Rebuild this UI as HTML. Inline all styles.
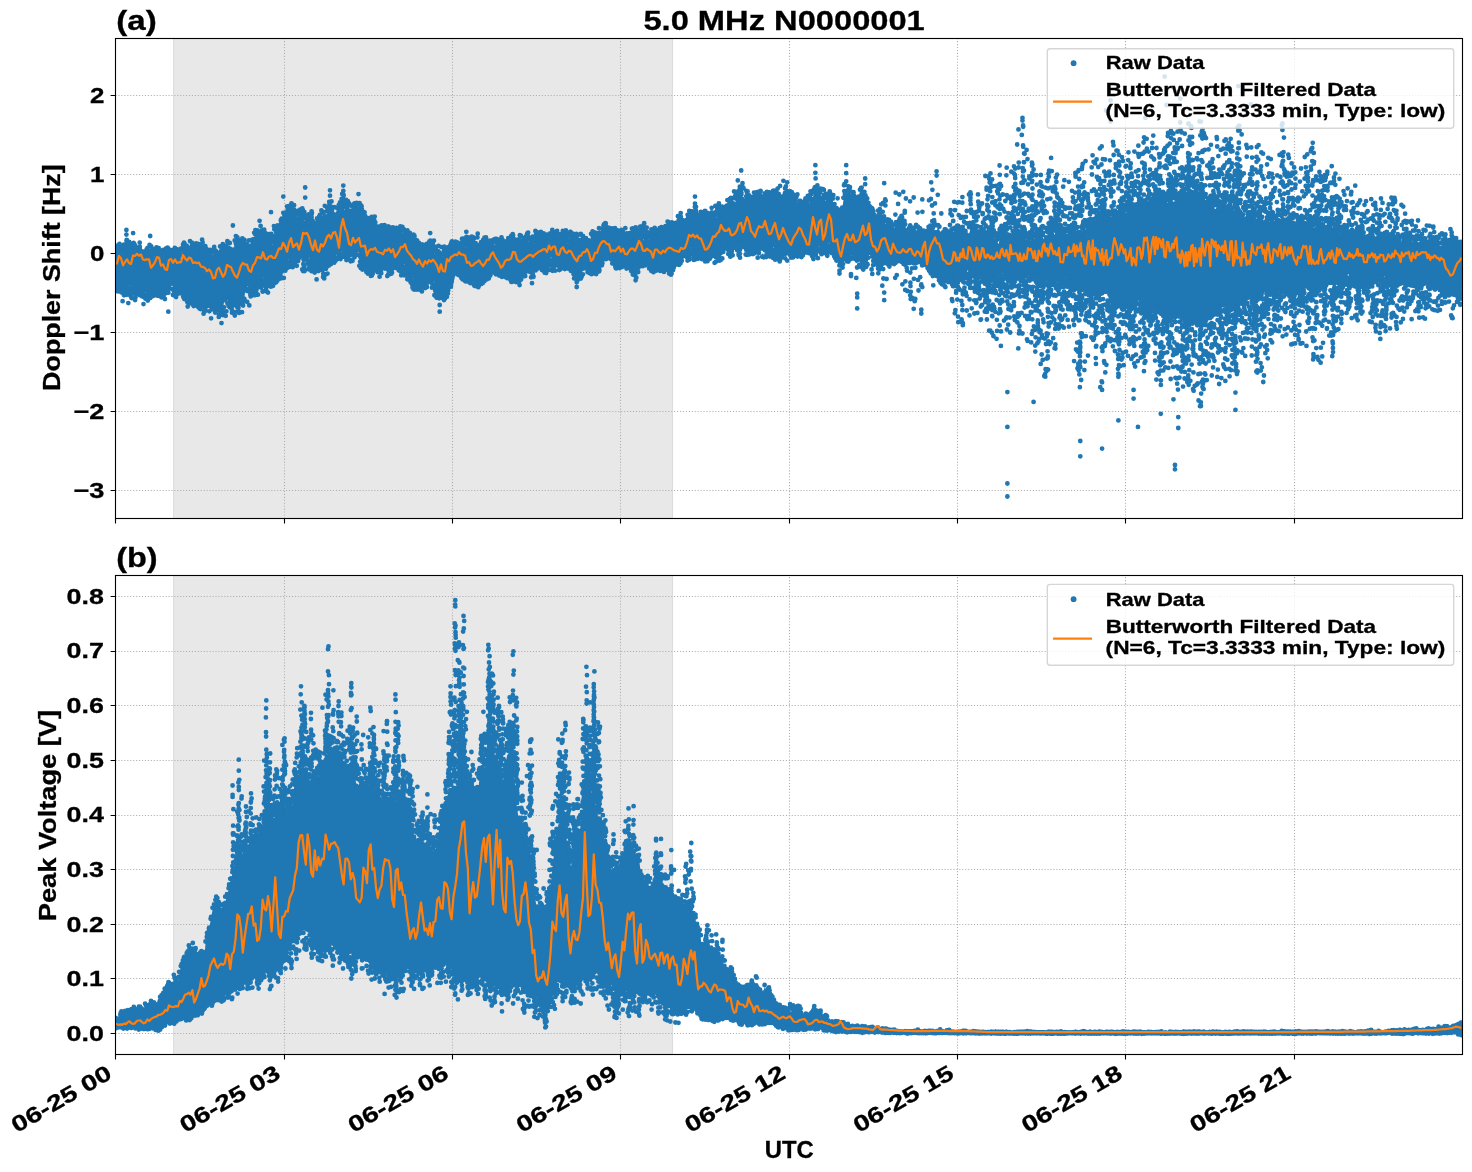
<!DOCTYPE html>
<html lang="en"><head><meta charset="utf-8"><title>5.0 MHz N0000001</title>
<style>html,body{margin:0;padding:0;background:#fff}svg{display:block;transform:translateZ(0);will-change:transform}text{font-family:"Liberation Sans",sans-serif;font-weight:bold;fill:#000;stroke:#000;stroke-width:0.3px}</style></head><body>
<svg width="1472" height="1172" viewBox="0 0 1472 1172">
<rect width="1472" height="1172" fill="#fff"/>
<defs><clipPath id="c1"><rect x="115.5" y="38.5" width="1347.0" height="480.0"/></clipPath><clipPath id="c2"><rect x="115.5" y="575.5" width="1347.0" height="479.0"/></clipPath></defs>
<rect x="173.2" y="38.5" width="499.9" height="480.0" fill="#e8e8e8"/>
<path d="M173.6 38.5V518.5M672.5 38.5V518.5" stroke="#dcdcdc" stroke-width="1"/>
<path d="M284.50 518.5V38.5M452.50 518.5V38.5M620.50 518.5V38.5M789.50 518.5V38.5M957.50 518.5V38.5M1125.50 518.5V38.5M1294.50 518.5V38.5M115.5 95.50H1462.5M115.5 174.50H1462.5M115.5 253.50H1462.5M115.5 332.50H1462.5M115.5 411.50H1462.5M115.5 490.50H1462.5" stroke="#b0b0b0" stroke-width="1.11" stroke-dasharray="1.11 1.83" fill="none"/>
<g clip-path="url(#c1)">
<polygon points="115.5,257.1 116.5,253.5 117.5,249.9 118.5,247.6 119.5,247.7 120.5,250.0 121.5,252.6 122.5,254.3 123.5,255.0 124.5,254.6 125.5,251.6 126.5,247.2 127.5,246.0 128.5,246.2 129.5,249.0 130.5,249.5 131.5,249.1 132.5,248.4 133.5,248.9 134.5,251.4 135.5,252.3 136.5,253.5 137.5,253.0 138.5,252.5 139.5,251.8 140.5,255.7 141.5,256.4 142.5,258.5 143.5,257.7 144.5,261.7 145.5,258.3 146.5,259.5 147.5,257.1 148.5,258.2 149.5,254.3 150.5,255.3 151.5,255.9 152.5,256.1 153.5,257.4 154.5,256.1 155.5,254.7 156.5,253.9 157.5,256.5 158.5,260.4 159.5,257.2 160.5,257.9 161.5,256.9 162.5,262.1 163.5,258.0 164.5,257.6 165.5,254.1 166.5,253.6 167.5,252.0 168.5,254.6 169.5,256.8 170.5,256.9 171.5,256.7 172.5,259.3 173.5,262.1 174.5,258.9 175.5,256.9 176.5,256.7 177.5,256.8 178.5,255.3 179.5,254.8 180.5,258.5 181.5,257.6 182.5,251.3 183.5,245.7 184.5,245.8 185.5,249.9 186.5,253.4 187.5,254.7 188.5,253.5 189.5,252.5 190.5,250.7 191.5,251.5 192.5,249.8 193.5,255.9 194.5,257.1 195.5,256.8 196.5,250.6 197.5,248.7 198.5,247.5 199.5,248.3 200.5,248.1 201.5,252.8 202.5,253.7 203.5,253.9 204.5,250.3 205.5,249.2 206.5,250.8 207.5,253.1 208.5,257.5 209.5,256.8 210.5,259.4 211.5,258.1 212.5,259.5 213.5,254.4 214.5,251.5 215.5,252.3 216.5,257.8 217.5,260.0 218.5,259.5 219.5,255.8 220.5,254.3 221.5,251.3 222.5,253.2 223.5,254.0 224.5,254.2 225.5,251.4 226.5,251.3 227.5,251.8 228.5,250.4 229.5,252.0 230.5,251.3 231.5,252.3 232.5,251.4 233.5,252.6 234.5,252.6 235.5,251.0 236.5,247.4 237.5,246.6 238.5,241.8 239.5,245.9 240.5,243.8 241.5,249.2 242.5,245.7 243.5,247.4 244.5,246.0 245.5,248.1 246.5,251.0 247.5,254.6 248.5,254.5 249.5,253.8 250.5,248.4 251.5,247.9 252.5,245.4 253.5,244.5 254.5,241.9 255.5,240.3 256.5,240.3 257.5,240.0 258.5,238.1 259.5,235.3 260.5,236.7 261.5,235.6 262.5,236.8 263.5,239.3 264.5,238.5 265.5,239.1 266.5,238.3 267.5,240.3 268.5,245.2 269.5,238.4 270.5,242.9 271.5,240.1 272.5,245.4 273.5,241.5 274.5,238.3 275.5,234.1 276.5,235.0 277.5,231.3 278.5,231.4 279.5,230.8 280.5,229.8 281.5,227.8 282.5,224.5 283.5,222.2 284.5,222.9 285.5,221.3 286.5,218.9 287.5,214.8 288.5,210.8 289.5,210.3 290.5,208.6 291.5,208.7 292.5,213.3 293.5,213.6 294.5,218.3 295.5,217.8 296.5,222.0 297.5,220.7 298.5,219.6 299.5,215.4 300.5,216.9 301.5,218.8 302.5,224.1 303.5,224.8 304.5,222.8 305.5,218.4 306.5,217.8 307.5,218.3 308.5,222.2 309.5,224.1 310.5,223.5 311.5,220.6 312.5,222.2 313.5,225.1 314.5,226.8 315.5,227.4 316.5,227.0 317.5,226.2 318.5,222.4 319.5,218.7 320.5,219.8 321.5,217.5 322.5,218.9 323.5,214.9 324.5,217.1 325.5,216.9 326.5,217.1 327.5,211.7 328.5,210.5 329.5,206.7 330.5,210.4 331.5,212.3 332.5,215.9 333.5,219.8 334.5,220.8 335.5,222.7 336.5,220.1 337.5,217.1 338.5,215.7 339.5,215.4 340.5,211.4 341.5,209.6 342.5,206.5 343.5,209.2 344.5,209.9 345.5,208.3 346.5,206.1 347.5,210.1 348.5,214.3 349.5,215.4 350.5,214.4 351.5,213.6 352.5,212.3 353.5,207.1 354.5,204.4 355.5,207.6 356.5,211.0 357.5,212.6 358.5,212.0 359.5,214.7 360.5,213.0 361.5,213.6 362.5,212.6 363.5,215.6 364.5,216.7 365.5,219.4 366.5,222.6 367.5,222.4 368.5,222.9 369.5,227.7 370.5,229.0 371.5,227.5 372.5,225.0 373.5,228.6 374.5,233.0 375.5,231.1 376.5,232.4 377.5,230.8 378.5,231.4 379.5,229.2 380.5,231.0 381.5,234.8 382.5,237.2 383.5,237.5 384.5,238.1 385.5,237.3 386.5,239.1 387.5,235.1 388.5,232.2 389.5,231.9 390.5,232.0 391.5,233.9 392.5,231.8 393.5,232.8 394.5,232.0 395.5,234.5 396.5,231.1 397.5,233.7 398.5,235.5 399.5,240.3 400.5,238.9 401.5,236.3 402.5,239.7 403.5,237.9 404.5,237.0 405.5,234.3 406.5,238.2 407.5,239.2 408.5,241.6 409.5,240.7 410.5,241.3 411.5,239.6 412.5,239.9 413.5,240.2 414.5,242.4 415.5,243.2 416.5,248.0 417.5,249.8 418.5,251.2 419.5,252.1 420.5,250.9 421.5,253.5 422.5,250.9 423.5,251.9 424.5,250.6 425.5,248.9 426.5,247.8 427.5,250.4 428.5,246.8 429.5,246.2 430.5,243.5 431.5,246.8 432.5,245.4 433.5,249.6 434.5,252.0 435.5,259.3 436.5,257.6 437.5,259.5 438.5,257.9 439.5,258.3 440.5,259.9 441.5,259.4 442.5,258.1 443.5,255.8 444.5,257.0 445.5,257.8 446.5,255.2 447.5,251.3 448.5,250.0 449.5,250.0 450.5,249.4 451.5,246.0 452.5,245.5 453.5,245.9 454.5,248.8 455.5,249.2 456.5,251.9 457.5,249.8 458.5,255.2 459.5,253.1 460.5,253.9 461.5,247.1 462.5,240.1 463.5,238.7 464.5,239.7 465.5,247.9 466.5,245.5 467.5,248.5 468.5,245.1 469.5,249.1 470.5,241.5 471.5,242.4 472.5,240.8 473.5,246.7 474.5,246.9 475.5,245.7 476.5,246.4 477.5,247.7 478.5,251.0 479.5,251.3 480.5,252.1 481.5,250.9 482.5,246.5 483.5,242.0 484.5,244.3 485.5,247.8 486.5,250.3 487.5,247.0 488.5,245.6 489.5,245.4 490.5,245.4 491.5,244.0 492.5,247.7 493.5,248.7 494.5,248.7 495.5,242.5 496.5,240.7 497.5,243.0 498.5,246.6 499.5,247.4 500.5,246.2 501.5,244.2 502.5,242.6 503.5,244.8 504.5,245.9 505.5,252.2 506.5,248.4 507.5,247.3 508.5,244.3 509.5,245.1 510.5,242.7 511.5,239.3 512.5,239.7 513.5,242.6 514.5,244.0 515.5,245.5 516.5,246.6 517.5,247.3 518.5,245.5 519.5,243.2 520.5,243.3 521.5,244.6 522.5,244.9 523.5,244.4 524.5,241.9 525.5,239.1 526.5,236.2 527.5,237.9 528.5,241.1 529.5,245.9 530.5,244.9 531.5,245.9 532.5,245.3 533.5,246.6 534.5,243.6 535.5,240.6 536.5,238.7 537.5,237.7 538.5,238.5 539.5,239.7 540.5,240.6 541.5,243.2 542.5,240.8 543.5,241.3 544.5,237.3 545.5,236.6 546.5,237.6 547.5,238.1 548.5,242.3 549.5,242.7 550.5,243.5 551.5,240.1 552.5,236.5 553.5,235.3 554.5,234.1 555.5,238.2 556.5,238.3 557.5,242.7 558.5,242.2 559.5,243.8 560.5,241.3 561.5,240.4 562.5,240.1 563.5,241.4 564.5,239.8 565.5,239.6 566.5,242.7 567.5,244.1 568.5,243.0 569.5,237.5 570.5,235.5 571.5,238.6 572.5,240.5 573.5,244.2 574.5,245.9 575.5,250.8 576.5,249.3 577.5,247.9 578.5,244.6 579.5,246.8 580.5,245.8 581.5,244.7 582.5,246.7 583.5,247.0 584.5,247.6 585.5,246.9 586.5,247.2 587.5,247.2 588.5,245.4 589.5,246.7 590.5,246.6 591.5,245.6 592.5,240.8 593.5,239.1 594.5,237.2 595.5,238.5 596.5,239.1 597.5,236.3 598.5,235.0 599.5,234.6 600.5,237.5 601.5,234.6 602.5,234.6 603.5,232.0 604.5,230.8 605.5,226.8 606.5,228.3 607.5,232.5 608.5,236.7 609.5,237.3 610.5,233.9 611.5,231.2 612.5,229.8 613.5,232.2 614.5,230.7 615.5,233.1 616.5,235.1 617.5,238.5 618.5,239.5 619.5,237.0 620.5,234.6 621.5,232.5 622.5,236.0 623.5,240.3 624.5,240.5 625.5,240.4 626.5,237.8 627.5,241.2 628.5,239.7 629.5,239.5 630.5,238.3 631.5,236.2 632.5,235.4 633.5,231.6 634.5,233.5 635.5,235.2 636.5,237.3 637.5,235.7 638.5,238.0 639.5,237.0 640.5,236.1 641.5,235.3 642.5,238.3 643.5,240.5 644.5,235.4 645.5,232.0 646.5,232.7 647.5,236.1 648.5,240.1 649.5,236.8 650.5,238.2 651.5,234.6 652.5,239.6 653.5,238.5 654.5,241.6 655.5,238.4 656.5,236.2 657.5,232.7 658.5,231.8 659.5,231.6 660.5,234.8 661.5,237.4 662.5,238.8 663.5,234.0 664.5,230.5 665.5,228.0 666.5,231.5 667.5,232.0 668.5,234.5 669.5,231.5 670.5,227.8 671.5,225.9 672.5,225.0 673.5,229.6 674.5,231.5 675.5,227.7 676.5,225.9 677.5,228.0 678.5,227.3 679.5,225.9 680.5,222.2 681.5,222.2 682.5,222.6 683.5,223.6 684.5,227.5 685.5,224.1 686.5,222.0 687.5,218.0 688.5,219.9 689.5,218.6 690.5,216.9 691.5,217.7 692.5,216.2 693.5,215.5 694.5,213.5 695.5,215.3 696.5,215.9 697.5,218.4 698.5,219.0 699.5,220.3 700.5,219.2 701.5,218.1 702.5,217.1 703.5,216.0 704.5,217.8 705.5,217.6 706.5,217.1 707.5,216.8 708.5,218.6 709.5,216.9 710.5,218.9 711.5,217.5 712.5,219.9 713.5,218.2 714.5,217.8 715.5,216.3 716.5,217.8 717.5,215.1 718.5,215.3 719.5,212.1 720.5,211.4 721.5,210.7 722.5,209.1 723.5,214.6 724.5,212.5 725.5,211.0 726.5,207.2 727.5,208.1 728.5,205.1 729.5,203.7 730.5,202.7 731.5,204.7 732.5,204.9 733.5,205.5 734.5,204.5 735.5,202.0 736.5,197.3 737.5,195.3 738.5,194.2 739.5,194.4 740.5,195.2 741.5,194.0 742.5,198.1 743.5,202.4 744.5,203.8 745.5,202.5 746.5,198.9 747.5,202.5 748.5,203.3 749.5,204.5 750.5,202.5 751.5,202.3 752.5,200.2 753.5,201.7 754.5,200.1 755.5,202.6 756.5,201.5 757.5,204.6 758.5,203.5 759.5,204.9 760.5,201.2 761.5,202.2 762.5,199.8 763.5,201.6 764.5,200.6 765.5,202.6 766.5,198.7 767.5,199.1 768.5,194.8 769.5,200.6 770.5,196.5 771.5,197.4 772.5,192.2 773.5,198.6 774.5,198.1 775.5,201.3 776.5,197.5 777.5,196.6 778.5,195.8 779.5,197.9 780.5,200.3 781.5,202.1 782.5,199.8 783.5,199.6 784.5,196.7 785.5,197.5 786.5,200.3 787.5,201.6 788.5,202.6 789.5,199.3 790.5,198.5 791.5,202.0 792.5,202.3 793.5,203.2 794.5,201.6 795.5,203.9 796.5,210.0 797.5,206.1 798.5,207.3 799.5,204.9 800.5,207.0 801.5,205.1 802.5,204.5 803.5,209.2 804.5,208.6 805.5,204.9 806.5,203.6 807.5,207.8 808.5,209.2 809.5,201.0 810.5,198.4 811.5,196.1 812.5,199.5 813.5,194.4 814.5,191.6 815.5,186.3 816.5,189.8 817.5,195.0 818.5,194.0 819.5,191.7 820.5,194.3 821.5,199.5 822.5,200.7 823.5,199.3 824.5,199.2 825.5,201.0 826.5,199.6 827.5,198.8 828.5,197.6 829.5,198.6 830.5,197.2 831.5,198.1 832.5,199.0 833.5,204.5 834.5,207.5 835.5,209.3 836.5,209.7 837.5,211.5 838.5,215.3 839.5,212.9 840.5,212.7 841.5,210.4 842.5,206.6 843.5,200.0 844.5,196.4 845.5,194.6 846.5,193.6 847.5,190.4 848.5,187.2 849.5,189.0 850.5,194.0 851.5,199.7 852.5,197.8 853.5,199.3 854.5,197.9 855.5,201.9 856.5,200.7 857.5,199.8 858.5,197.6 859.5,192.8 860.5,192.2 861.5,189.7 862.5,193.7 863.5,195.1 864.5,199.5 865.5,199.5 866.5,200.0 867.5,200.8 868.5,202.0 869.5,207.2 870.5,209.9 871.5,211.3 872.5,212.4 873.5,214.1 874.5,217.3 875.5,220.6 876.5,224.8 877.5,224.7 878.5,222.8 879.5,216.6 880.5,217.7 881.5,217.9 882.5,218.3 883.5,219.4 884.5,221.5 885.5,224.3 886.5,223.5 887.5,221.0 888.5,224.0 889.5,222.2 890.5,223.7 891.5,226.1 892.5,229.2 893.5,230.9 894.5,227.4 895.5,225.6 896.5,225.0 897.5,226.3 898.5,226.8 899.5,227.8 900.5,229.6 901.5,233.6 902.5,230.5 903.5,226.8 904.5,222.4 905.5,227.4 906.5,230.5 907.5,234.9 908.5,231.7 909.5,228.9 910.5,228.1 911.5,230.1 912.5,231.0 913.5,231.4 914.5,232.7 915.5,234.9 916.5,233.1 917.5,228.5 918.5,227.9 919.5,230.4 920.5,233.9 921.5,233.5 922.5,231.8 923.5,233.4 924.5,233.8 925.5,235.1 926.5,231.9 927.5,230.7 928.5,230.6 929.5,230.3 930.5,229.0 931.5,227.9 932.5,231.6 933.5,234.0 934.5,237.0 935.5,234.4 936.5,233.4 937.5,228.1 938.5,227.1 939.5,230.0 940.5,233.1 941.5,235.6 942.5,234.5 943.5,234.1 944.5,232.7 945.5,231.8 946.5,233.2 947.5,234.6 948.5,235.5 949.5,234.7 950.5,232.8 951.5,231.6 952.5,229.9 953.5,233.2 954.5,230.2 955.5,231.7 956.5,234.3 957.5,237.6 958.5,236.2 959.5,232.1 960.5,235.2 961.5,237.2 962.5,238.5 963.5,236.6 964.5,236.4 965.5,241.1 966.5,241.2 967.5,241.1 968.5,234.9 969.5,235.6 970.5,237.5 971.5,240.0 972.5,239.7 973.5,236.7 974.5,236.4 975.5,235.8 976.5,238.0 977.5,234.4 978.5,234.0 979.5,233.2 980.5,235.7 981.5,234.2 982.5,235.6 983.5,235.9 984.5,236.4 985.5,235.2 986.5,233.5 987.5,237.1 988.5,233.7 989.5,234.6 990.5,230.1 991.5,233.8 992.5,235.9 993.5,237.7 994.5,238.7 995.5,235.7 996.5,240.3 997.5,241.7 998.5,245.2 999.5,239.4 1000.5,235.8 1001.5,235.7 1002.5,237.7 1003.5,239.2 1004.5,237.9 1005.5,236.0 1006.5,237.9 1007.5,237.3 1008.5,240.4 1009.5,237.8 1010.5,238.7 1011.5,236.6 1012.5,239.4 1013.5,240.4 1014.5,243.2 1015.5,242.3 1016.5,241.4 1017.5,234.8 1018.5,235.3 1019.5,233.6 1020.5,238.5 1021.5,236.4 1022.5,234.3 1023.5,233.1 1024.5,234.6 1025.5,239.5 1026.5,239.3 1027.5,236.4 1028.5,236.4 1029.5,235.8 1030.5,241.0 1031.5,238.4 1032.5,238.3 1033.5,236.3 1034.5,239.1 1035.5,238.0 1036.5,238.9 1037.5,235.3 1038.5,240.4 1039.5,236.9 1040.5,234.5 1041.5,232.6 1042.5,234.8 1043.5,241.2 1044.5,243.3 1045.5,242.8 1046.5,238.6 1047.5,234.5 1048.5,232.6 1049.5,231.4 1050.5,231.6 1051.5,227.4 1052.5,229.0 1053.5,229.2 1054.5,238.1 1055.5,238.9 1056.5,237.9 1057.5,234.2 1058.5,230.5 1059.5,230.0 1060.5,225.5 1061.5,230.1 1062.5,232.0 1063.5,233.0 1064.5,230.1 1065.5,230.6 1066.5,233.3 1067.5,233.9 1068.5,230.5 1069.5,228.3 1070.5,227.6 1071.5,230.6 1072.5,230.0 1073.5,227.7 1074.5,227.9 1075.5,227.5 1076.5,231.2 1077.5,229.4 1078.5,232.4 1079.5,233.4 1080.5,234.0 1081.5,233.6 1082.5,228.7 1083.5,226.0 1084.5,225.6 1085.5,229.5 1086.5,232.8 1087.5,235.4 1088.5,232.8 1089.5,230.3 1090.5,227.6 1091.5,226.7 1092.5,225.8 1093.5,221.8 1094.5,223.1 1095.5,220.9 1096.5,223.3 1097.5,218.6 1098.5,222.0 1099.5,218.9 1100.5,222.5 1101.5,217.4 1102.5,218.0 1103.5,218.2 1104.5,219.2 1105.5,219.7 1106.5,216.3 1107.5,213.3 1108.5,213.3 1109.5,214.5 1110.5,216.2 1111.5,216.3 1112.5,213.7 1113.5,213.5 1114.5,212.1 1115.5,211.9 1116.5,217.4 1117.5,214.2 1118.5,216.3 1119.5,213.6 1120.5,212.5 1121.5,207.7 1122.5,206.5 1123.5,208.8 1124.5,212.1 1125.5,212.7 1126.5,212.5 1127.5,209.6 1128.5,202.3 1129.5,202.9 1130.5,202.8 1131.5,207.8 1132.5,207.4 1133.5,206.2 1134.5,208.3 1135.5,209.4 1136.5,213.0 1137.5,207.4 1138.5,204.4 1139.5,201.5 1140.5,202.5 1141.5,200.8 1142.5,202.1 1143.5,202.9 1144.5,205.1 1145.5,203.1 1146.5,204.5 1147.5,203.8 1148.5,199.5 1149.5,195.6 1150.5,194.8 1151.5,201.0 1152.5,201.2 1153.5,200.4 1154.5,197.2 1155.5,198.5 1156.5,197.7 1157.5,197.7 1158.5,195.2 1159.5,197.0 1160.5,197.1 1161.5,195.4 1162.5,195.6 1163.5,195.3 1164.5,198.9 1165.5,198.4 1166.5,201.8 1167.5,203.0 1168.5,201.3 1169.5,198.9 1170.5,194.8 1171.5,198.8 1172.5,199.8 1173.5,204.6 1174.5,201.1 1175.5,196.6 1176.5,196.9 1177.5,197.6 1178.5,201.5 1179.5,198.9 1180.5,199.8 1181.5,200.6 1182.5,197.6 1183.5,198.4 1184.5,196.5 1185.5,198.5 1186.5,199.7 1187.5,202.2 1188.5,202.5 1189.5,196.1 1190.5,194.8 1191.5,196.3 1192.5,199.5 1193.5,197.2 1194.5,195.2 1195.5,193.5 1196.5,196.5 1197.5,199.8 1198.5,204.2 1199.5,202.9 1200.5,202.3 1201.5,201.9 1202.5,202.7 1203.5,202.4 1204.5,205.6 1205.5,207.2 1206.5,209.5 1207.5,205.3 1208.5,205.4 1209.5,201.2 1210.5,202.4 1211.5,204.8 1212.5,212.0 1213.5,214.5 1214.5,214.0 1215.5,210.8 1216.5,208.0 1217.5,206.9 1218.5,208.3 1219.5,208.4 1220.5,210.7 1221.5,208.3 1222.5,206.9 1223.5,203.9 1224.5,203.1 1225.5,204.2 1226.5,208.4 1227.5,211.4 1228.5,214.6 1229.5,215.0 1230.5,217.9 1231.5,216.9 1232.5,217.5 1233.5,216.3 1234.5,217.5 1235.5,216.2 1236.5,213.3 1237.5,212.2 1238.5,211.5 1239.5,215.4 1240.5,216.5 1241.5,216.7 1242.5,217.7 1243.5,221.1 1244.5,223.0 1245.5,223.8 1246.5,220.9 1247.5,219.3 1248.5,217.9 1249.5,218.4 1250.5,218.4 1251.5,221.0 1252.5,221.5 1253.5,221.0 1254.5,219.2 1255.5,223.1 1256.5,225.3 1257.5,226.9 1258.5,223.2 1259.5,222.5 1260.5,219.4 1261.5,220.2 1262.5,224.6 1263.5,224.1 1264.5,227.5 1265.5,222.8 1266.5,224.5 1267.5,223.2 1268.5,226.2 1269.5,227.2 1270.5,222.9 1271.5,222.5 1272.5,220.3 1273.5,227.9 1274.5,226.9 1275.5,229.2 1276.5,222.7 1277.5,222.3 1278.5,219.8 1279.5,223.7 1280.5,224.2 1281.5,227.6 1282.5,224.7 1283.5,224.4 1284.5,225.8 1285.5,225.4 1286.5,223.2 1287.5,221.7 1288.5,221.5 1289.5,224.0 1290.5,225.0 1291.5,225.7 1292.5,228.1 1293.5,225.4 1294.5,229.6 1295.5,230.5 1296.5,230.9 1297.5,228.0 1298.5,224.3 1299.5,225.6 1300.5,228.1 1301.5,227.1 1302.5,228.5 1303.5,224.2 1304.5,225.3 1305.5,220.6 1306.5,226.8 1307.5,228.6 1308.5,232.3 1309.5,227.4 1310.5,229.3 1311.5,225.3 1312.5,226.6 1313.5,228.7 1314.5,231.9 1315.5,232.0 1316.5,229.3 1317.5,228.7 1318.5,228.8 1319.5,229.4 1320.5,231.3 1321.5,232.0 1322.5,229.8 1323.5,230.1 1324.5,229.6 1325.5,232.9 1326.5,233.7 1327.5,233.3 1328.5,226.5 1329.5,226.6 1330.5,228.5 1331.5,231.3 1332.5,226.6 1333.5,223.3 1334.5,226.7 1335.5,228.4 1336.5,229.7 1337.5,228.6 1338.5,232.8 1339.5,233.8 1340.5,233.4 1341.5,230.5 1342.5,233.6 1343.5,235.9 1344.5,236.9 1345.5,231.7 1346.5,228.6 1347.5,230.0 1348.5,231.4 1349.5,234.6 1350.5,234.4 1351.5,236.4 1352.5,236.2 1353.5,236.6 1354.5,234.8 1355.5,233.3 1356.5,236.7 1357.5,236.3 1358.5,236.2 1359.5,234.2 1360.5,236.2 1361.5,235.8 1362.5,231.8 1363.5,233.2 1364.5,236.7 1365.5,241.7 1366.5,241.1 1367.5,241.3 1368.5,237.2 1369.5,237.6 1370.5,234.7 1371.5,237.1 1372.5,238.3 1373.5,241.6 1374.5,239.7 1375.5,240.7 1376.5,238.1 1377.5,238.1 1378.5,235.6 1379.5,234.0 1380.5,235.9 1381.5,236.8 1382.5,239.2 1383.5,240.2 1384.5,239.2 1385.5,239.7 1386.5,236.3 1387.5,237.0 1388.5,235.6 1389.5,237.5 1390.5,237.3 1391.5,239.3 1392.5,237.3 1393.5,234.7 1394.5,234.0 1395.5,237.8 1396.5,241.3 1397.5,243.6 1398.5,245.1 1399.5,245.5 1400.5,244.0 1401.5,239.9 1402.5,237.5 1403.5,236.8 1404.5,239.2 1405.5,241.3 1406.5,242.3 1407.5,241.6 1408.5,242.5 1409.5,242.9 1410.5,243.8 1411.5,243.3 1412.5,242.1 1413.5,239.9 1414.5,240.3 1415.5,242.1 1416.5,243.6 1417.5,242.1 1418.5,245.5 1419.5,244.7 1420.5,245.1 1421.5,241.6 1422.5,241.0 1423.5,241.7 1424.5,244.5 1425.5,248.4 1426.5,249.4 1427.5,247.3 1428.5,246.0 1429.5,246.6 1430.5,245.4 1431.5,244.6 1432.5,243.2 1433.5,245.1 1434.5,246.6 1435.5,247.7 1436.5,242.6 1437.5,244.2 1438.5,247.3 1439.5,253.3 1440.5,250.8 1441.5,245.2 1442.5,243.4 1443.5,242.3 1444.5,245.2 1445.5,243.9 1446.5,247.4 1447.5,248.5 1448.5,245.9 1449.5,244.7 1450.5,241.0 1451.5,242.1 1452.5,240.5 1453.5,241.4 1454.5,245.7 1455.5,244.1 1456.5,246.3 1457.5,248.1 1458.5,251.8 1459.5,251.0 1460.5,247.3 1461.5,244.4 1462.5,244.9 1462.5,287.0 1461.5,289.8 1460.5,291.4 1459.5,291.5 1458.5,289.7 1457.5,289.2 1456.5,286.7 1455.5,284.6 1454.5,287.3 1453.5,285.8 1452.5,288.2 1451.5,287.2 1450.5,289.6 1449.5,286.0 1448.5,282.4 1447.5,283.5 1446.5,284.2 1445.5,287.5 1444.5,281.7 1443.5,283.0 1442.5,282.9 1441.5,286.2 1440.5,289.0 1439.5,286.3 1438.5,285.5 1437.5,285.2 1436.5,285.3 1435.5,287.0 1434.5,284.0 1433.5,284.3 1432.5,283.4 1431.5,284.7 1430.5,287.0 1429.5,289.6 1428.5,285.5 1427.5,282.3 1426.5,276.9 1425.5,281.3 1424.5,281.2 1423.5,281.1 1422.5,282.5 1421.5,286.0 1420.5,290.7 1419.5,286.7 1418.5,283.3 1417.5,280.3 1416.5,282.1 1415.5,279.4 1414.5,279.9 1413.5,279.6 1412.5,281.6 1411.5,281.1 1410.5,281.4 1409.5,280.4 1408.5,279.3 1407.5,277.5 1406.5,282.7 1405.5,284.6 1404.5,285.2 1403.5,278.9 1402.5,274.8 1401.5,273.3 1400.5,274.4 1399.5,277.6 1398.5,281.3 1397.5,283.1 1396.5,284.6 1395.5,281.5 1394.5,282.9 1393.5,281.3 1392.5,278.8 1391.5,276.4 1390.5,275.4 1389.5,281.9 1388.5,284.1 1387.5,285.0 1386.5,281.4 1385.5,279.7 1384.5,276.4 1383.5,273.9 1382.5,277.1 1381.5,279.5 1380.5,282.0 1379.5,277.2 1378.5,276.8 1377.5,278.2 1376.5,282.2 1375.5,281.9 1374.5,279.2 1373.5,276.1 1372.5,278.6 1371.5,277.4 1370.5,280.0 1369.5,280.0 1368.5,284.3 1367.5,282.5 1366.5,281.3 1365.5,280.2 1364.5,279.2 1363.5,279.2 1362.5,278.7 1361.5,281.3 1360.5,282.3 1359.5,284.6 1358.5,284.5 1357.5,283.8 1356.5,281.4 1355.5,282.0 1354.5,283.5 1353.5,281.1 1352.5,279.7 1351.5,280.7 1350.5,281.6 1349.5,278.2 1348.5,272.3 1347.5,275.4 1346.5,278.5 1345.5,282.5 1344.5,279.6 1343.5,281.1 1342.5,279.3 1341.5,278.7 1340.5,280.4 1339.5,285.5 1338.5,286.8 1337.5,282.6 1336.5,280.9 1335.5,281.6 1334.5,281.0 1333.5,279.9 1332.5,281.0 1331.5,282.0 1330.5,280.5 1329.5,279.9 1328.5,281.0 1327.5,280.8 1326.5,283.5 1325.5,286.2 1324.5,287.9 1323.5,286.6 1322.5,283.5 1321.5,284.1 1320.5,284.0 1319.5,287.0 1318.5,285.5 1317.5,288.3 1316.5,286.9 1315.5,287.6 1314.5,287.1 1313.5,285.7 1312.5,289.2 1311.5,289.6 1310.5,294.2 1309.5,293.4 1308.5,288.7 1307.5,285.8 1306.5,284.0 1305.5,285.9 1304.5,286.4 1303.5,286.8 1302.5,289.2 1301.5,290.2 1300.5,291.1 1299.5,290.2 1298.5,289.4 1297.5,290.8 1296.5,290.3 1295.5,288.3 1294.5,291.0 1293.5,291.2 1292.5,292.9 1291.5,291.0 1290.5,292.7 1289.5,294.2 1288.5,291.6 1287.5,290.4 1286.5,289.9 1285.5,289.3 1284.5,290.5 1283.5,291.1 1282.5,291.9 1281.5,294.3 1280.5,294.1 1279.5,295.4 1278.5,291.5 1277.5,292.2 1276.5,293.8 1275.5,293.9 1274.5,291.9 1273.5,288.4 1272.5,288.4 1271.5,290.9 1270.5,291.6 1269.5,292.5 1268.5,291.2 1267.5,292.5 1266.5,291.3 1265.5,289.1 1264.5,289.3 1263.5,296.6 1262.5,298.8 1261.5,298.9 1260.5,293.8 1259.5,296.4 1258.5,294.3 1257.5,294.4 1256.5,294.0 1255.5,294.6 1254.5,297.3 1253.5,297.5 1252.5,299.2 1251.5,297.5 1250.5,294.5 1249.5,296.8 1248.5,291.6 1247.5,296.3 1246.5,297.1 1245.5,302.7 1244.5,302.5 1243.5,300.3 1242.5,300.1 1241.5,298.1 1240.5,299.7 1239.5,302.0 1238.5,303.8 1237.5,306.4 1236.5,308.1 1235.5,308.0 1234.5,309.1 1233.5,306.7 1232.5,307.2 1231.5,305.1 1230.5,306.7 1229.5,305.8 1228.5,305.5 1227.5,304.9 1226.5,308.8 1225.5,308.9 1224.5,307.4 1223.5,304.1 1222.5,305.4 1221.5,309.7 1220.5,313.4 1219.5,312.9 1218.5,310.0 1217.5,306.8 1216.5,307.5 1215.5,309.4 1214.5,311.9 1213.5,313.3 1212.5,312.9 1211.5,314.3 1210.5,313.5 1209.5,309.8 1208.5,308.7 1207.5,306.9 1206.5,310.1 1205.5,311.5 1204.5,313.5 1203.5,313.7 1202.5,311.7 1201.5,314.6 1200.5,318.6 1199.5,317.3 1198.5,316.9 1197.5,314.9 1196.5,315.6 1195.5,312.1 1194.5,310.8 1193.5,313.7 1192.5,314.3 1191.5,316.7 1190.5,317.6 1189.5,321.2 1188.5,321.2 1187.5,319.9 1186.5,319.8 1185.5,320.5 1184.5,323.8 1183.5,318.2 1182.5,314.6 1181.5,308.0 1180.5,310.9 1179.5,310.5 1178.5,313.1 1177.5,314.1 1176.5,313.9 1175.5,315.7 1174.5,314.7 1173.5,315.3 1172.5,316.1 1171.5,319.6 1170.5,319.9 1169.5,318.0 1168.5,315.9 1167.5,317.6 1166.5,315.1 1165.5,313.2 1164.5,311.7 1163.5,311.9 1162.5,309.9 1161.5,310.7 1160.5,311.7 1159.5,311.4 1158.5,308.8 1157.5,307.3 1156.5,307.0 1155.5,306.2 1154.5,305.1 1153.5,304.6 1152.5,307.3 1151.5,309.8 1150.5,310.5 1149.5,310.1 1148.5,307.0 1147.5,311.5 1146.5,310.9 1145.5,316.0 1144.5,310.7 1143.5,309.8 1142.5,304.1 1141.5,306.3 1140.5,304.0 1139.5,303.5 1138.5,298.4 1137.5,297.6 1136.5,301.1 1135.5,300.8 1134.5,302.5 1133.5,299.2 1132.5,302.9 1131.5,302.5 1130.5,301.1 1129.5,300.8 1128.5,300.4 1127.5,303.8 1126.5,300.3 1125.5,300.6 1124.5,298.4 1123.5,298.4 1122.5,298.3 1121.5,299.7 1120.5,302.2 1119.5,303.0 1118.5,300.7 1117.5,299.6 1116.5,297.8 1115.5,295.1 1114.5,294.9 1113.5,292.2 1112.5,295.8 1111.5,296.1 1110.5,294.8 1109.5,293.2 1108.5,290.7 1107.5,288.7 1106.5,289.8 1105.5,288.2 1104.5,291.0 1103.5,287.7 1102.5,288.9 1101.5,290.7 1100.5,290.0 1099.5,288.7 1098.5,285.4 1097.5,285.8 1096.5,286.6 1095.5,286.8 1094.5,288.9 1093.5,291.4 1092.5,291.3 1091.5,291.1 1090.5,287.3 1089.5,286.2 1088.5,285.1 1087.5,288.9 1086.5,289.9 1085.5,287.4 1084.5,284.4 1083.5,283.1 1082.5,281.5 1081.5,279.3 1080.5,281.2 1079.5,283.0 1078.5,285.9 1077.5,281.7 1076.5,281.6 1075.5,280.0 1074.5,282.1 1073.5,283.2 1072.5,282.8 1071.5,281.8 1070.5,281.1 1069.5,283.9 1068.5,285.8 1067.5,282.9 1066.5,279.6 1065.5,277.2 1064.5,281.2 1063.5,284.0 1062.5,287.0 1061.5,286.3 1060.5,285.7 1059.5,284.9 1058.5,282.5 1057.5,281.8 1056.5,285.3 1055.5,284.7 1054.5,284.3 1053.5,281.7 1052.5,281.0 1051.5,281.9 1050.5,281.5 1049.5,285.8 1048.5,282.4 1047.5,283.0 1046.5,281.5 1045.5,283.4 1044.5,284.0 1043.5,282.4 1042.5,281.6 1041.5,279.0 1040.5,278.3 1039.5,277.8 1038.5,280.5 1037.5,279.1 1036.5,279.8 1035.5,274.0 1034.5,276.3 1033.5,277.3 1032.5,278.5 1031.5,277.5 1030.5,275.8 1029.5,276.8 1028.5,275.8 1027.5,274.9 1026.5,272.3 1025.5,274.3 1024.5,275.6 1023.5,277.7 1022.5,277.7 1021.5,278.4 1020.5,278.9 1019.5,277.6 1018.5,275.8 1017.5,275.1 1016.5,276.2 1015.5,278.0 1014.5,280.2 1013.5,278.9 1012.5,279.5 1011.5,277.8 1010.5,275.6 1009.5,274.4 1008.5,276.8 1007.5,280.3 1006.5,278.4 1005.5,277.1 1004.5,275.4 1003.5,275.9 1002.5,273.3 1001.5,275.0 1000.5,275.8 999.5,275.6 998.5,275.9 997.5,275.3 996.5,278.5 995.5,277.0 994.5,278.3 993.5,277.8 992.5,278.4 991.5,279.1 990.5,280.1 989.5,279.0 988.5,278.2 987.5,274.9 986.5,275.9 985.5,277.0 984.5,277.8 983.5,280.5 982.5,278.1 981.5,277.9 980.5,276.7 979.5,273.1 978.5,273.4 977.5,275.0 976.5,278.9 975.5,281.6 974.5,276.8 973.5,275.7 972.5,272.4 971.5,274.2 970.5,278.2 969.5,275.4 968.5,272.1 967.5,268.6 966.5,275.5 965.5,277.6 964.5,280.2 963.5,278.5 962.5,279.0 961.5,276.8 960.5,272.2 959.5,273.6 958.5,272.6 957.5,277.2 956.5,276.0 955.5,277.6 954.5,278.8 953.5,278.2 952.5,275.3 951.5,275.5 950.5,276.2 949.5,281.1 948.5,278.1 947.5,279.5 946.5,278.0 945.5,279.6 944.5,279.3 943.5,279.3 942.5,279.0 941.5,281.5 940.5,279.5 939.5,277.8 938.5,274.5 937.5,274.8 936.5,274.8 935.5,274.0 934.5,274.2 933.5,273.9 932.5,273.1 931.5,273.0 930.5,271.3 929.5,270.2 928.5,269.4 927.5,268.6 926.5,266.0 925.5,263.8 924.5,259.4 923.5,259.5 922.5,260.4 921.5,263.3 920.5,260.8 919.5,261.1 918.5,260.6 917.5,261.5 916.5,259.5 915.5,261.0 914.5,261.6 913.5,260.1 912.5,257.2 911.5,255.4 910.5,250.5 909.5,253.2 908.5,256.1 907.5,262.1 906.5,260.3 905.5,260.2 904.5,260.8 903.5,262.1 902.5,260.4 901.5,258.9 900.5,259.5 899.5,261.8 898.5,260.9 897.5,259.2 896.5,262.2 895.5,262.5 894.5,264.4 893.5,259.2 892.5,258.5 891.5,258.0 890.5,260.3 889.5,263.0 888.5,263.9 887.5,260.9 886.5,259.7 885.5,257.3 884.5,257.9 883.5,260.2 882.5,259.2 881.5,260.2 880.5,260.7 879.5,264.8 878.5,263.3 877.5,262.5 876.5,262.0 875.5,261.7 874.5,260.6 873.5,258.7 872.5,257.3 871.5,250.3 870.5,250.1 869.5,252.9 868.5,258.5 867.5,262.7 866.5,264.3 865.5,266.0 864.5,263.6 863.5,261.6 862.5,262.3 861.5,261.9 860.5,264.9 859.5,261.5 858.5,259.1 857.5,256.3 856.5,256.2 855.5,256.9 854.5,256.1 853.5,254.6 852.5,256.2 851.5,255.6 850.5,258.5 849.5,258.3 848.5,260.6 847.5,259.3 846.5,256.5 845.5,255.1 844.5,256.0 843.5,261.5 842.5,261.0 841.5,261.5 840.5,259.3 839.5,259.4 838.5,260.0 837.5,256.5 836.5,251.7 835.5,251.9 834.5,249.4 833.5,250.4 832.5,246.5 831.5,244.6 830.5,246.0 829.5,243.3 828.5,244.8 827.5,243.2 826.5,245.4 825.5,245.0 824.5,240.5 823.5,239.8 822.5,243.8 821.5,248.4 820.5,250.5 819.5,246.8 818.5,245.3 817.5,244.7 816.5,246.2 815.5,248.9 814.5,250.5 813.5,252.2 812.5,249.4 811.5,249.7 810.5,250.8 809.5,251.9 808.5,247.3 807.5,245.5 806.5,245.6 805.5,244.3 804.5,246.0 803.5,247.6 802.5,252.1 801.5,247.1 800.5,246.0 799.5,246.7 798.5,249.1 797.5,251.3 796.5,250.3 795.5,251.8 794.5,249.1 793.5,250.9 792.5,245.9 791.5,248.5 790.5,246.5 789.5,248.5 788.5,246.7 787.5,245.6 786.5,247.4 785.5,249.6 784.5,247.9 783.5,251.3 782.5,250.1 781.5,253.4 780.5,248.5 779.5,247.7 778.5,245.9 777.5,248.5 776.5,252.1 775.5,253.1 774.5,250.8 773.5,246.7 772.5,249.0 771.5,250.0 770.5,251.4 769.5,248.9 768.5,248.4 767.5,249.0 766.5,246.3 765.5,247.3 764.5,243.7 763.5,243.9 762.5,241.9 761.5,243.2 760.5,244.4 759.5,245.8 758.5,247.9 757.5,249.2 756.5,248.8 755.5,245.9 754.5,244.9 753.5,245.4 752.5,245.0 751.5,243.7 750.5,243.9 749.5,245.9 748.5,245.8 747.5,240.6 746.5,239.5 745.5,239.7 744.5,244.3 743.5,243.6 742.5,243.8 741.5,240.9 740.5,242.7 739.5,246.1 738.5,246.2 737.5,243.1 736.5,240.6 735.5,241.4 734.5,244.8 733.5,245.2 732.5,244.5 731.5,243.3 730.5,245.9 729.5,249.3 728.5,251.0 727.5,246.2 726.5,241.9 725.5,242.2 724.5,243.8 723.5,247.1 722.5,247.3 721.5,250.6 720.5,249.8 719.5,247.8 718.5,245.1 717.5,245.1 716.5,245.4 715.5,245.9 714.5,248.9 713.5,248.8 712.5,252.7 711.5,254.6 710.5,256.3 709.5,255.4 708.5,254.3 707.5,258.7 706.5,258.2 705.5,258.3 704.5,252.6 703.5,255.0 702.5,253.9 701.5,254.1 700.5,249.0 699.5,251.2 698.5,253.9 697.5,255.4 696.5,251.1 695.5,250.6 694.5,253.2 693.5,254.1 692.5,249.8 691.5,248.3 690.5,247.8 689.5,251.3 688.5,251.8 687.5,254.3 686.5,255.0 685.5,252.5 684.5,249.7 683.5,248.3 682.5,250.1 681.5,255.0 680.5,259.2 679.5,258.8 678.5,258.3 677.5,254.9 676.5,254.9 675.5,256.8 674.5,262.1 673.5,264.8 672.5,263.9 671.5,272.3 670.5,273.7 669.5,272.1 668.5,263.0 667.5,261.4 666.5,260.9 665.5,263.7 664.5,264.4 663.5,264.2 662.5,264.8 661.5,261.5 660.5,263.8 659.5,261.1 658.5,264.6 657.5,265.7 656.5,266.3 655.5,262.4 654.5,257.4 653.5,256.9 652.5,260.3 651.5,262.4 650.5,263.2 649.5,260.1 648.5,259.4 647.5,257.3 646.5,258.0 645.5,258.3 644.5,257.7 643.5,256.7 642.5,258.1 641.5,259.3 640.5,263.2 639.5,265.5 638.5,266.0 637.5,265.6 636.5,267.3 635.5,270.6 634.5,267.5 633.5,266.6 632.5,265.9 631.5,268.9 630.5,265.8 629.5,263.8 628.5,261.7 627.5,260.1 626.5,261.8 625.5,263.1 624.5,263.3 623.5,262.3 622.5,263.3 621.5,264.6 620.5,265.7 619.5,265.7 618.5,261.3 617.5,261.0 616.5,257.3 615.5,261.2 614.5,258.0 613.5,256.8 612.5,253.3 611.5,256.4 610.5,253.2 609.5,251.9 608.5,246.0 607.5,250.9 606.5,252.6 605.5,256.6 604.5,254.6 603.5,253.5 602.5,253.4 601.5,256.0 600.5,260.0 599.5,265.9 598.5,265.9 597.5,267.9 596.5,266.6 595.5,265.9 594.5,265.8 593.5,263.8 592.5,263.8 591.5,266.1 590.5,265.3 589.5,267.5 588.5,264.2 587.5,264.0 586.5,262.2 585.5,258.8 584.5,261.6 583.5,264.0 582.5,272.3 581.5,273.0 580.5,275.3 579.5,273.6 578.5,276.7 577.5,274.0 576.5,273.3 575.5,272.5 574.5,275.1 573.5,273.4 572.5,267.9 571.5,265.2 570.5,264.2 569.5,265.3 568.5,261.4 567.5,258.4 566.5,258.4 565.5,260.8 564.5,266.4 563.5,266.5 562.5,265.7 561.5,263.5 560.5,262.6 559.5,263.2 558.5,258.4 557.5,258.5 556.5,257.9 555.5,262.1 554.5,263.6 553.5,263.9 552.5,259.5 551.5,257.3 550.5,258.0 549.5,262.2 548.5,265.9 547.5,266.8 546.5,268.5 545.5,265.9 544.5,265.6 543.5,262.6 542.5,263.3 541.5,264.4 540.5,261.4 539.5,259.2 538.5,258.3 537.5,265.9 536.5,264.3 535.5,266.5 534.5,265.8 533.5,274.1 532.5,274.4 531.5,275.4 530.5,266.0 529.5,263.6 528.5,259.5 527.5,266.4 526.5,268.6 525.5,274.1 524.5,274.7 523.5,275.2 522.5,269.5 521.5,268.1 520.5,269.2 519.5,271.8 518.5,272.9 517.5,274.4 516.5,273.7 515.5,269.5 514.5,268.4 513.5,272.7 512.5,276.5 511.5,279.6 510.5,277.0 509.5,271.5 508.5,269.9 507.5,271.0 506.5,274.2 505.5,272.3 504.5,268.7 503.5,267.2 502.5,267.2 501.5,265.6 500.5,268.0 499.5,266.8 498.5,269.7 497.5,268.3 496.5,270.4 495.5,271.0 494.5,269.7 493.5,267.9 492.5,265.9 491.5,265.2 490.5,267.1 489.5,267.1 488.5,269.1 487.5,268.7 486.5,272.0 485.5,273.3 484.5,275.5 483.5,274.1 482.5,275.1 481.5,271.9 480.5,275.9 479.5,277.9 478.5,285.0 477.5,284.0 476.5,280.8 475.5,275.0 474.5,274.1 473.5,274.9 472.5,275.2 471.5,277.6 470.5,274.9 469.5,274.4 468.5,272.0 467.5,273.8 466.5,273.3 465.5,276.2 464.5,275.6 463.5,275.7 462.5,273.0 461.5,272.8 460.5,273.4 459.5,274.0 458.5,273.6 457.5,272.6 456.5,267.8 455.5,266.9 454.5,263.5 453.5,268.8 452.5,274.3 451.5,279.0 450.5,283.3 449.5,283.7 448.5,286.2 447.5,286.1 446.5,291.7 445.5,292.3 444.5,291.4 443.5,290.0 442.5,292.1 441.5,292.1 440.5,289.3 439.5,290.3 438.5,291.0 437.5,295.3 436.5,292.6 435.5,288.0 434.5,281.2 433.5,279.7 432.5,280.7 431.5,279.6 430.5,276.3 429.5,274.5 428.5,276.1 427.5,279.9 426.5,280.9 425.5,282.8 424.5,281.2 423.5,282.0 422.5,280.1 421.5,283.8 420.5,284.0 419.5,287.4 418.5,284.0 417.5,279.4 416.5,278.1 415.5,278.8 414.5,281.3 413.5,278.1 412.5,276.5 411.5,274.4 410.5,276.7 409.5,277.8 408.5,276.6 407.5,274.4 406.5,268.6 405.5,268.1 404.5,264.0 403.5,266.9 402.5,267.6 401.5,269.6 400.5,268.8 399.5,269.4 398.5,267.3 397.5,264.5 396.5,263.1 395.5,262.7 394.5,264.6 393.5,265.6 392.5,268.6 391.5,270.4 390.5,269.7 389.5,268.9 388.5,266.1 387.5,263.7 386.5,262.9 385.5,261.2 384.5,264.1 383.5,263.8 382.5,265.3 381.5,268.4 380.5,268.2 379.5,270.0 378.5,266.8 377.5,266.2 376.5,266.2 375.5,265.2 374.5,267.4 373.5,267.2 372.5,269.1 371.5,270.1 370.5,269.3 369.5,267.9 368.5,265.4 367.5,263.5 366.5,261.4 365.5,260.2 364.5,262.5 363.5,263.8 362.5,260.9 361.5,260.2 360.5,255.9 359.5,255.1 358.5,249.6 357.5,249.1 356.5,251.3 355.5,252.1 354.5,253.7 353.5,253.7 352.5,253.0 351.5,249.2 350.5,246.0 349.5,243.7 348.5,246.1 347.5,249.4 346.5,251.9 345.5,250.1 344.5,246.8 343.5,244.6 342.5,245.7 341.5,246.8 340.5,249.6 339.5,248.5 338.5,249.8 337.5,250.9 336.5,256.2 335.5,259.3 334.5,258.6 333.5,255.9 332.5,254.9 331.5,255.6 330.5,256.8 329.5,258.4 328.5,259.6 327.5,261.1 326.5,258.1 325.5,258.6 324.5,261.2 323.5,265.4 322.5,266.5 321.5,264.1 320.5,262.8 319.5,261.7 318.5,262.3 317.5,263.1 316.5,264.5 315.5,264.6 314.5,264.3 313.5,262.7 312.5,262.3 311.5,261.4 310.5,260.4 309.5,258.9 308.5,254.6 307.5,255.3 306.5,253.9 305.5,257.2 304.5,256.0 303.5,258.8 302.5,256.1 301.5,255.1 300.5,253.0 299.5,253.0 298.5,255.3 297.5,254.9 296.5,256.1 295.5,251.9 294.5,252.6 293.5,252.3 292.5,255.8 291.5,258.7 290.5,260.8 289.5,262.0 288.5,259.3 287.5,261.5 286.5,264.5 285.5,267.8 284.5,267.0 283.5,266.5 282.5,268.1 281.5,267.7 280.5,266.6 279.5,265.8 278.5,271.0 277.5,273.5 276.5,274.6 275.5,276.4 274.5,277.8 273.5,278.2 272.5,276.1 271.5,275.6 270.5,275.8 269.5,275.3 268.5,278.4 267.5,280.8 266.5,282.9 265.5,280.3 264.5,279.4 263.5,277.6 262.5,281.4 261.5,282.2 260.5,282.8 259.5,280.0 258.5,279.9 257.5,284.3 256.5,285.9 255.5,290.2 254.5,291.2 253.5,290.1 252.5,291.3 251.5,292.0 250.5,293.0 249.5,289.2 248.5,287.7 247.5,286.0 246.5,288.1 245.5,289.0 244.5,296.7 243.5,298.0 242.5,297.9 241.5,296.1 240.5,296.7 239.5,300.5 238.5,300.5 237.5,297.9 236.5,296.2 235.5,298.0 234.5,301.6 233.5,303.1 232.5,303.1 231.5,304.0 230.5,304.1 229.5,306.1 228.5,305.1 227.5,300.9 226.5,296.7 225.5,295.2 224.5,301.0 223.5,304.5 222.5,310.0 221.5,306.1 220.5,304.9 219.5,303.8 218.5,307.2 217.5,307.1 216.5,307.7 215.5,305.7 214.5,303.8 213.5,302.4 212.5,301.9 211.5,304.2 210.5,300.5 209.5,299.9 208.5,297.1 207.5,302.0 206.5,302.6 205.5,303.8 204.5,299.9 203.5,300.8 202.5,298.5 201.5,303.2 200.5,301.6 199.5,304.1 198.5,302.6 197.5,302.5 196.5,298.4 195.5,294.4 194.5,295.7 193.5,299.6 192.5,300.2 191.5,298.8 190.5,295.0 189.5,296.2 188.5,296.1 187.5,297.4 186.5,293.6 185.5,292.7 184.5,294.9 183.5,295.7 182.5,290.6 181.5,291.5 180.5,289.4 179.5,291.0 178.5,286.3 177.5,289.4 176.5,291.1 175.5,291.5 174.5,290.0 173.5,289.0 172.5,286.5 171.5,283.0 170.5,280.0 169.5,283.9 168.5,285.7 167.5,290.7 166.5,289.3 165.5,287.9 164.5,286.6 163.5,285.4 162.5,289.6 161.5,290.7 160.5,290.8 159.5,289.8 158.5,288.0 157.5,290.7 156.5,288.8 155.5,289.6 154.5,284.5 153.5,288.6 152.5,289.2 151.5,292.4 150.5,289.4 149.5,288.4 148.5,289.9 147.5,287.7 146.5,290.5 145.5,289.6 144.5,295.3 143.5,294.1 142.5,294.2 141.5,293.3 140.5,291.8 139.5,293.9 138.5,289.0 137.5,288.9 136.5,287.5 135.5,290.5 134.5,292.2 133.5,289.0 132.5,289.2 131.5,286.1 130.5,287.7 129.5,285.2 128.5,288.6 127.5,291.0 126.5,292.6 125.5,291.7 124.5,289.6 123.5,286.6 122.5,286.1 121.5,285.7 120.5,286.1 119.5,285.3 118.5,286.0 117.5,288.9 116.5,286.3 115.5,284.1" fill="#1f77b4"/>
<path d="m115.2 284.8h0m.1 2h0m.3 0h0m.1-32h0m.2 1.3h0m.1 31.4h0m0-.2h0m0-39.1h0m.3 39.9h0m0-.6h0m0 .1h0m.1-33.8h0m.2 34.2h0m0-38.9h0m.4 2.9h0m.2-6h0m.1 1.3h0m.1-.2h0m.5 44.3h0m0-42.7h0m.5-3.6h0m.3 43.7h0m.1-40.9h0m.2 41.1h0m.2-44.4h0m.1 2.1h0m0 0h0m0 38h0m0-39.6h0m.2-1.3h0m.2 46.5h0m.4-4h0m0 2.6h0m.5-40.9h0m0-.8h0m.1 43.9h0m.4-41.4h0m.1-2.6h0m0 45.2h0m.2-3.5h0m.2-37.4h0m0 37h0m0-39.3h0m.1 41.2h0m.4-.1h0m.2-38.9h0m.2 38.7h0m.1 11.2h0m0-50.2h0m.4 36.5h0m.1 1.5h0m.3-1.8h0m.2-34.8h0m.3 42.5h0m.1-50.2h0m.1 50.6h0m.1-3.3h0m.2-42.6h0m.3 5.8h0m.2-2.5h0m.1 39.8h0m.2-43.5h0m.1 44.6h0m0 .9h0m.1-45h0m.3 43.4h0m.1 .7h0m0-48.4h0m.6 .7h0m0-16h0m0 4.7h0m.1 6.2h0m.1 54h0m0-.3h0m.1-54.7h0m.2 54h0m.1-48h0m.1 47.3h0m0-2.5h0m0-46.3h0m.1 .1h0m1 .8h0m0 44.6h0m0-46h0m.1 59.3h0m.2-15.1h0m.5-43.1h0m.1-2.9h0m.3 5.6h0m0 40.6h0m.5-40.3h0m.3-2.1h0m0 1.7h0m.1 45.7h0m0-43h0m.4 46h0m.2-6.1h0m.7 8h0m.1-8.6h0m.2-43.8h0m.1-1.1h0m.2 1.9h0m.2 .3h0m0 41.7h0m.2-41.9h0m.2 45.7h0m.3-59.2h0m0 56h0m.2 2.2h0m.1-45.8h0m.1-2.7h0m.2 4.8h0m.2 45.9h0m0-46.9h0m.2 1.6h0m.1 43.1h0m0-47.4h0m.1 54.8h0m.5-53.6h0m0 48.4h0m.3 6.5h0m0-7.9h0m.3-45h0m0 2.4h0m.1 47.8h0m0-51h0m.2 46h0m.5-43.1h0m.2 45.1h0m.2-39.8h0m.1 34.1h0m.1-36.5h0m.4 38.6h0m.2-39h0m.1 36.9h0m.5-36.8h0m.2 38.6h0m.2-39.3h0m0 39.6h0m.1 1.9h0m.5-40.3h0m0 38.6h0m0-41.5h0m.1 .2h0m.6-6.9h0m.1 4.3h0m0 48.2h0m.3-1.6h0m.1-.6h0m0 1.6h0m0-44.5h0m.3 2.1h0m.1 39.4h0m.3-36.4h0m0-4.2h0m0 42.8h0m.6 1.4h0m0-39.3h0m.2 38.6h0m.5 1.9h0m.1-39.2h0m.1-1.3h0m.1 40.2h0m.3-40.8h0m.2 38h0m.1 2.6h0m.3-.1h0m.1 8.3h0m.2-52.4h0m.1 4.6h0m0 40.6h0m.5 .1h0m.2-37.8h0m.1 37.7h0m.2-2h0m.5-5.6h0m.1 9.4h0m.1-40.1h0m.4-4.3h0m.2 2.1h0m.2 1.8h0m.1-7.3h0m.1 48.2h0m0-46.8h0m.1-2.8h0m.4 41.2h0m0-31.7h0m.1 31.6h0m.1 4.7h0m.2-1.8h0m0-4.5h0m.2-41.2h0m.1 7.9h0m.1 44.8h0m.2-4.2h0m.4-43.2h0m.1-2.1h0m.2 41.7h0m.1-37.2h0m.8-10.5h0m0 46.7h0m.1-.8h0m.1-35.8h0m.4-4.3h0m0-14.8h0m.1 61.9h0m.3-5.1h0m.1-38.9h0m.1 41.2h0m0-42.7h0m.1 39.8h0m.1-.8h0m.2-45.1h0m.1 8.2h0m0 2h0m.5 35.3h0m0-41.4h0m.1 43.4h0m.3-1.6h0m.3-36.6h0m.4 34.1h0m.1 1.9h0m0 4.4h0m.1-41.4h0m.6-4.8h0m.3 4.5h0m0 32.4h0m0-32.4h0m.4-2.4h0m.2 32.2h0m.1-33h0m.2 34.8h0m.1-37.1h0m.2 0h0m.2 43.9h0m0-40.8h0m.1 .7h0m.4 36.4h0m.1 6h0m.2-3.2h0m.1 2.5h0m.2-47h0m.1 42.1h0m.3 3.8h0m.1-42.7h0m0 42.2h0m.2 3h0m.3-41.8h0m.3 38.1h0m.1-38.7h0m0 40.1h0m0-1.6h0m.1-33.4h0m.7 31h0m0-41.2h0m0 42.4h0m.2 .7h0m.2-38.4h0m.3 40.5h0m0-1.4h0m.1 4h0m.2-45.5h0m.1 4.1h0m.2 1.5h0m.1 2.3h0m.2 32.5h0m.6 2.5h0m.1-1.6h0m.3-39.7h0m.2-.8h0m.2 46.1h0m.2-42.7h0m.3 35.2h0m0-27.4h0m.1-3.9h0m.1 32.1h0m.2-40.4h0m.3 10.4h0m.1-5h0m.2 29.4h0m.1-35.1h0m.5 45.3h0m.3-6.6h0m0 5.2h0m.2 .2h0m.2-38.2h0m.1 1.2h0m.3 41.9h0m.2-47h0m.7 37.2h0m0-36.1h0m.1 .3h0m0-4.5h0m.3-.4h0m0 5.7h0m.1 37.9h0m0 .8h0m.2-41.8h0m1.1-3.4h0m0 1.2h0m.2 42.1h0m.4 .4h0m.1 20.3h0m0-24.7h0m.1-38.3h0m0 4.8h0m0 39.2h0m.1-3.8h0m0-1.7h0m.5-.6h0m.1-31.7h0m.3-.4h0m.2 30.5h0m.2-32.3h0m.6 3.6h0m0-1h0m.1 28.2h0m0-.8h0m.3-.4h0m.1-27.1h0m.1-2.7h0m.3-2.3h0m.4 33.2h0m.1-26.7h0m.3 .1h0m.1-5.8h0m.1 8.5h0m.3-4.9h0m0 34.6h0m.4 5.8h0m0-38.8h0m.6 34.2h0m.1-29h0m.1-.6h0m.1 29.8h0m.1 3.2h0m0-33.2h0m.1-3.8h0m.1 38h0m.2-.6h0m.1-40.7h0m.1 39.7h0m.1 .5h0m.1-35h0m0-10.9h0m.4 47.9h0m0-41.5h0m0 3.6h0m.1-6.1h0m.1 40.5h0m.1 1.2h0m.2 .4h0m.2 2.2h0m.2-40.2h0m0 41.2h0m.2-2h0m.3-3.8h0m.1 3h0m.6-2.1h0m.5-42.8h0m.2 6h0m.3-1.5h0m.6 34.4h0m.1-36.4h0m0 35.7h0m0 5.9h0m.7-38.8h0m.5 34.9h0m0 3.3h0m.3-37.6h0m.1 .4h0m.3 35.1h0m.2 .5h0m.1 2h0m.1-44.8h0m.1 44.9h0m.1-.1h0m.2-38.5h0m.6-4.5h0m.2-1h0m.2 41.9h0m.2 .6h0m.1-41.6h0m.1-5.8h0m0 .4h0m.1 52.1h0m.6 .4h0m.2-54.5h0m0 55.1h0m.1-53.5h0m.1 .2h0m.1 54.6h0m.3-55.4h0m.1 55.3h0m.1-54.5h0m.3 5h0m.6 45.6h0m.2-47h0m.3 2.4h0m.1 2.9h0m.1 42.1h0m.1 .9h0m.2-50.7h0m.2 50.3h0m.4 5.9h0m.2-3.8h0m.2 8.4h0m.2-52.9h0m.1 43.9h0m0-45.7h0m.4 0h0m.4 44.9h0m.7 1.9h0m.4-48.2h0m0 49.8h0m.1 2.6h0m0-61.7h0m.1 7.9h0m0 49.8h0m.1-51.2h0m0 50.1h0m1.2-47.8h0m.1 52.6h0m.1-53.5h0m.2 49.8h0m.1-56.2h0m.2 1.6h0m.3-.8h0m0 58.6h0m.1 .4h0m0 2h0m0-55.2h0m.2-3.9h0m.2 2.3h0m.1 54.5h0m.2 3h0m.3-49.9h0m0 46.1h0m.1 1.9h0m.2-1.6h0m0 4.5h0m.1-3.3h0m.1-3.3h0m0-46.2h0m.1 3.2h0m0 39.9h0m.2 6.4h0m.1-2.9h0m.1 1.1h0m.1-3.5h0m0-42h0m.3-2.4h0m0 52h0m.2-9.1h0m0-40.2h0m.1-4.3h0m.4 1.7h0m.2 3.2h0m.2 46.9h0m.1-60h0m.1 6.8h0m.3-2.6h0m.2 .4h0m0 50.7h0m.5 3.2h0m.2-53.9h0m0-1.9h0m.3-1h0m.2 61.8h0m.2-62.9h0m0 61.2h0m.5-2.2h0m.3-57.9h0m0-.8h0m.1 60.8h0m0-.6h0m.2-59.5h0m0 62.2h0m.3 1.5h0m.1-3h0m0 .1h0m.1 1.9h0m.1-.8h0m.2-1.8h0m0-58.7h0m.3 59h0m0-60.3h0m.1 62.3h0m.1-1.5h0m0-2h0m.1 5.3h0m.2-62.7h0m0 58.4h0m.2 1.4h0m0-1.4h0m.4-.3h0m.2-57.5h0m.1 4.3h0m.2-2.9h0m.2-8.7h0m.1 66.5h0m.2-52.1h0m.1-5.1h0m.1-6.6h0m.1 57.9h0m.1 1.9h0m.3-49.5h0m.5 61h0m.2-11.1h0m0 .9h0m.2-3.2h0m.1-51.9h0m.1 63.1h0m.3-10h0m0-53.6h0m.4 63.3h0m.2-64.6h0m.2-.5h0m0 63h0m.2-5h0m.2-55.9h0m0 56.7h0m.3-56.3h0m.4 .4h0m0-.2h0m.3 57.2h0m0-55.7h0m.5 .8h0m.1 52.6h0m.3 .9h0m.1 .8h0m.3-8.7h0m.4-41.2h0m.2 47.3h0m0 1.3h0m0-5h0m.1 2.9h0m.5 .7h0m0-48.4h0m.1 47.1h0m0 2.4h0m0 .1h0m0 7.4h0m.3-5.3h0m.2-51.8h0m0-.5h0m.2 2.4h0m.1 47.5h0m.1-53.8h0m.1 7.8h0m.1 .6h0m.1-5.1h0m.2 47.7h0m.2-42.2h0m.2 59.7h0m0-12.8h0m.3-.1h0m.5 4h0m.1-51.8h0m.1 47.6h0m.1-48h0m.7 50.9h0m0-1.7h0m0-49.8h0m.2-5h0m.3 .2h0m0 52.9h0m.4-1.5h0m.3-53.1h0m.1-3.1h0m.2 56.7h0m.2 3.8h0m.1-57h0m.3 55h0m.2 2.2h0m0-57.3h0m0 62.2h0m.2-6.5h0m.3-55.3h0m0 56.6h0m.2 1.4h0m0-1.7h0m.1 3.2h0m0-57h0m.4 3.2h0m.2 53.4h0m.2-53h0m.5 52.9h0m.1-2.6h0m.2-46.9h0m.2-3.3h0m0 52.3h0m.4-56.5h0m.3 1.3h0m0 4.2h0m.1 51.7h0m.2 6.9h0m0-59.4h0m.1 56.9h0m.3-61.3h0m.1-.2h0m.2 51.4h0m.4 6h0m.2-63.8h0m.1 62.4h0m.1-1.2h0m.4-56h0m.4 57.6h0m.2-.7h0m.2-.2h0m0 14.7h0m.2-73.4h0m.1-3.3h0m0 3.7h0m.2-1.4h0m.2 65.8h0m.1-64.4h0m.1 64.7h0m.4-70.7h0m0 71h0m0-2.3h0m0-61.1h0m.1 60.5h0m0-60.3h0m.1 62.4h0m0-2.2h0m.2-58.4h0m.2 53.4h0m.2-59.3h0m0 59.8h0m.2-58.6h0m.1 58.3h0m1-53.9h0m0 46.8h0m.2-53.4h0m.1 49.9h0m.2-44.5h0m.3 63.6h0m.3-66h0m0 47.9h0m.1-51.9h0m.1 3.5h0m.1 48.6h0m.1-48.3h0m0 61.7h0m0-62.4h0m.1 47.9h0m.6-46.3h0m0-2.5h0m.3-6.9h0m0 .8h0m.1 61.6h0m0-55.7h0m1.1 58.2h0m0-58h0m.3 1h0m.8 3.7h0m.1-9.7h0m.1 64.3h0m.4-58.4h0m.5 55.3h0m.7 4.1h0m.1-4.9h0m.1 5.9h0m.1-56.7h0m.2 60.1h0m.7-61.9h0m.1 52.9h0m.1-78.2h0m.3 80.1h0m.2-2.4h0m.4-49.9h0m.5-2h0m0-1.8h0m.4-9.1h0m.1 71.8h0m0 3.3h0m.1-14.7h0m.9-57.2h0m0 53.9h0m.1-61.4h0m0 14.8h0m.1 45.4h0m.4-50h0m.2 53.2h0m0-54.5h0m.2 52.9h0m0 7.9h0m.3-63.7h0m0-3.5h0m.3-1.1h0m0 70.1h0m0-65.5h0m.2 56.3h0m0 3.8h0m.2-55.8h0m.1-3.2h0m.4 67.6h0m0-70.8h0m.1 68h0m0-.4h0m.3-4.6h0m0-62.4h0m.2 61.9h0m.1 .8h0m.1 9.6h0m.4-67.6h0m.1 57.5h0m.1 1.2h0m.2-1.7h0m.2-5.7h0m0-53.3h0m1.1 5.8h0m0-7.3h0m.2 53.8h0m.1-48.1h0m.1 53.2h0m.4-2.7h0m0 14.2h0m.2-7.9h0m0-61.4h0m.1-4.5h0m.2 65.3h0m.1 0h0m.1-5.8h0m.3-54.4h0m0 1.7h0m.1 60.4h0m.1-4.9h0m.1-54.7h0m.1 54.2h0m.3 0h0m.3-55.8h0m.3-2.3h0m0 57.4h0m.1-54.5h0m0 54h0m.1-59.1h0m.8 3.5h0m.6 1.7h0m.1 43.6h0m0-40.3h0m.1 40.7h0m.2-41.1h0m.1 3.4h0m.3-7.5h0m.4 47h0m.1 11.1h0m.2-49.5h0m.5 36.9h0m0-42.1h0m.4 42.7h0m.2 .4h0m.2-.5h0m.1-42.6h0m.1 4h0m.2-10.9h0m.2 65h0m.2-51h0m.3 37.9h0m.1-46.4h0m.4 1.2h0m.1 48.2h0m.3 1.1h0m.7-49.6h0m.5 1.4h0m.1 46.4h0m.2-48.9h0m.1-6.1h0m.2 54.1h0m.3-49.9h0m.2-1.8h0m.2 49.6h0m0-49.5h0m.4-1.2h0m0 1.2h0m.1 48.2h0m.2 4.7h0m.1-55.1h0m0 53h0m.2-53.7h0m0-6.4h0m.2 9.7h0m0 51.9h0m.1-2h0m.5-58.4h0m.2 57.2h0m0 3.9h0m.2-5.1h0m0-59.9h0m0 8.5h0m0 53.4h0m.5 2.8h0m.3-64.4h0m.2 59.7h0m0-4.9h0m0-47.3h0m.4 50.1h0m.2-56.1h0m0 62.3h0m.4-55.6h0m0-1.4h0m0 48.5h0m.1-55.2h0m.1 6.5h0m.3 57.7h0m0-59.8h0m.1 4h0m.5 43h0m.2-46.1h0m.2 47.1h0m.3-.6h0m.3-.2h0m.1-48.9h0m0-12.4h0m.5 15.5h0m.3 46.9h0m.2-57.3h0m.3 61.6h0m0-2.2h0m.3-1.9h0m.1 1.7h0m.5-50.4h0m.1-4.4h0m0 53.5h0m.4-51.4h0m.3 59h0m0-8.7h0m.1-46.3h0m0 55.3h0m.1-7.4h0m.2 6.9h0m0-55.3h0m0 3.8h0m.6 40.9h0m.5-45.9h0m.1-5h0m.4 50.7h0m.1-45.2h0m.3 50.4h0m.5-52.5h0m.2 54.1h0m0-51.2h0m.2 43.5h0m.1 7.9h0m.2-1.5h0m0 4.6h0m.1-8.5h0m.4 2.7h0m.1-49.3h0m0 1.5h0m0 54.6h0m.2-53.3h0m.1 45.5h0m.3-44.8h0m.2 1.1h0m.1 43.4h0m.2-.5h0m0 3.1h0m.1 6.6h0m.2-12.4h0m.4-.4h0m0 .9h0m.1-39.8h0m.2 3.7h0m.2-7.7h0m.1-2.1h0m0 1h0m0 48.4h0m0-50.1h0m.1 3.3h0m.3 40.2h0m.3-41.4h0m.1 40.9h0m.1 1.6h0m.3 4.3h0m0-3.8h0m0-36.2h0m.5 43.7h0m.1-74.5h0m.1 66.2h0m.1 .1h0m0 2.7h0m0-47.3h0m.4 41.5h0m.1-37.3h0m0-.9h0m.3 3.5h0m.2 36.5h0m.4-35h0m.5 43.6h0m0-49.9h0m.5 3.7h0m.1 39.4h0m0 4.8h0m0-3h0m0-40.7h0m.2-14h0m.1 14.8h0m0 38.5h0m.3-50.2h0m0 8.4h0m.1 42.9h0m.7 2.3h0m.5-6.2h0m.2-45.1h0m.2-.9h0m.2 4.7h0m0 47h0m0-8.5h0m.2-45.2h0m.3 .3h0m.1-1h0m.4 .7h0m.1 52.2h0m0-2.2h0m0-2.8h0m0-45.2h0m.3-5.3h0m.3 48h0m.1-45.9h0m.5 1.4h0m.1 45h0m0-2h0m.3-42.7h0m.1 49.9h0m.1-50h0m.1 38.4h0m.1 2.4h0m.5-43.7h0m.1 40.8h0m.2 4.8h0m.1-42.5h0m.2 45.6h0m.1-8.9h0m0 2.9h0m.3-48.6h0m.1 48.8h0m.1-1.1h0m.1 9.7h0m.1-7.2h0m0-47.8h0m.1 47.1h0m.1-50.1h0m.1 4.8h0m.2-5.7h0m0 59.5h0m.1-54.5h0m0 1h0m.1 44.5h0m.2 2.2h0m.2-.5h0m0-3.6h0m.1-48.1h0m.6 3.4h0m0-3.6h0m.2 2.5h0m.1-24.9h0m0 16.2h0m.5 65.1h0m0-56.8h0m.1 44.8h0m.3-44.3h0m.1 45.7h0m0-52.5h0m.4 54.2h0m.1-47.2h0m0-1.2h0m.1-4.3h0m.2 3.8h0m.1-3.4h0m0 1.9h0m.1 52.1h0m0-1.6h0m.7-56.7h0m.2 56.3h0m.2-1.9h0m.1-50.2h0m.1-3.1h0m.1 3.2h0m.4-10.2h0m.3 55.3h0m0-49.1h0m.1-1.9h0m.3 52.9h0m.1-54.8h0m.1 58.7h0m.1-61.2h0m.1 4h0m.1 52h0m.4-56.3h0m.3 58.2h0m.1-53.4h0m.2 54.6h0m.4 1.4h0m.1-3.4h0m.4-.4h0m.7-57.7h0m.4 54.8h0m.2-56.8h0m.1 2.9h0m.1-1.6h0m.1 1h0m.1 1.3h0m0 54.6h0m.1-2.7h0m.1-50.4h0m.2 3.6h0m0-5h0m0 2.1h0m0 57.5h0m.3-9.7h0m0-43.7h0m0 53.9h0m0-3.7h0m.4-5.8h0m.1-.3h0m.1-2.3h0m.2-43.8h0m.2 44.2h0m.1-43.9h0m.1 .9h0m.1 49.3h0m.1-52.4h0m0 44.6h0m.1 11.5h0m0-60.3h0m.1 59.8h0m.4-47.6h0m.1 47.6h0m.2-1.3h0m.1-8.7h0m.2-36.7h0m.1-3.3h0m.1-1.3h0m.1 38.8h0m.4 5.1h0m.2 3.3h0m.3-2.7h0m.2-36.2h0m.2 43.8h0m0-9.4h0m.2-35.4h0m0 38.1h0m0-4.6h0m.2 1.8h0m.1-36.7h0m.4-8.8h0m.2 45.6h0m.1-36.8h0m.1 41.4h0m.4-42.9h0m.1 40.6h0m.5-6.2h0m.2-38.3h0m0-.7h0m.5 1.1h0m.3-5h0m.5 5.8h0m.3 40.2h0m.3-.7h0m0-35.5h0m0-9.4h0m.3 5.9h0m.5 1.9h0m.1-4.4h0m.1 56h0m0-45.2h0m.1-15.7h0m.1 48.3h0m.2-39.2h0m.1 1.2h0m0-1.7h0m.2-7h0m.2 61h0m0-48h0m.2 41h0m.2-4.8h0m.1-36.3h0m.2 36.9h0m.1 6h0m.2-42.5h0m.1 45.7h0m0-10.7h0m.1-46.4h0m0 2.9h0m.1 51.7h0m0 2.6h0m.2-51.1h0m0 53h0m.2-12.6h0m.4-71h0m0 10.1h0m0 19.1h0m.6 41.7h0m.2-41.7h0m.1 40.2h0m.1-2.7h0m.1-36.4h0m.6-2.4h0m.6 47.9h0m.1-7.2h0m.2-40.8h0m.4 45.4h0m.3-6.8h0m.1 15.4h0m.1-50.1h0m0-4.7h0m.2 1h0m.1 4.5h0m0 40.6h0m.1-36h0m.1 38.5h0m.1 4.4h0m.1-6.6h0m.4 3.9h0m.3 2.4h0m.1-4.2h0m.3-42h0m.3-4.2h0m.2 5h0m0-5.5h0m0 3.3h0m.2 43.1h0m.4 8.5h0m0-59.9h0m0 5.9h0m.1 2.7h0m0-5.8h0m.2-1.3h0m.2 51.8h0m.2-42.1h0m.1 40.5h0m.1 2.2h0m0 5.8h0m.2-50h0m.1 43.6h0m.5 4.3h0m.1 .7h0m.1-2.8h0m.4-44.1h0m.1 41.3h0m0 3.7h0m.6-43.2h0m.1 40.1h0m0 8h0m.4-3.9h0m0-2.5h0m.1-42.2h0m.3 44h0m.1-40.3h0m1 37.6h0m0 14.1h0m.3-53.4h0m0 41.5h0m.1-42h0m0-1.5h0m.1 39.6h0m0-45.3h0m.2 4.4h0m.1 2.3h0m.2-4h0m.2 44.6h0m.5-.7h0m0 6.1h0m.5-6.7h0m.1-42.4h0m.1-4.9h0m.1 50.7h0m0 1.5h0m.1-5.4h0m.4 2.8h0m.3-51.7h0m.3 2.2h0m.5 46.5h0m.4 2.6h0m.1-2.8h0m.2-52.9h0m.4 8h0m0 46.9h0m.3 4.8h0m.1-1h0m.3-57.9h0m.1 58.8h0m.2-52.2h0m.1 50.8h0m.1-1h0m0-55.8h0m.1 65h0m.2-3.2h0m0-8h0m.1-52.7h0m.6 50.6h0m.2 14.8h0m.4-61.7h0m.2-10.9h0m.1 61.4h0m.5-6h0m.1 .7h0m.1-45.6h0m.4 52.5h0m.2 5.5h0m.1-14.2h0m0-43.1h0m.3 43.9h0m.1-.4h0m.2-49.2h0m.2-3.8h0m.1 55.2h0m.3 3.5h0m0 7.4h0m.5-65.2h0m.4 .9h0m.3 49.5h0m0 6.9h0m0-58.2h0m.1 2.1h0m.4 54.2h0m0-62h0m.2 2.2h0m0 55.4h0m.1 2.1h0m.5-71.2h0m0 5.4h0m.1 11.3h0m.2 53.2h0m.2 3.2h0m.2-57.1h0m0 49.6h0m.2-48.9h0m.1 55.9h0m.1 1.2h0m0-6h0m.1-50.7h0m.3 48h0m0-54h0m.1 57.2h0m.2-49.2h0m.1 1.1h0m0 46.6h0m1.1-1.9h0m0-41.2h0m0 43.6h0m.1-.2h0m0-39.1h0m.1 38.9h0m.3-41.9h0m.2-.6h0m.2-.1h0m.3 48.1h0m.1-55.5h0m0 52h0m.2-38.3h0m1.1-2.4h0m0 42.2h0m.1-39.2h0m.4 36.8h0m.5-39.6h0m.3 40.5h0m.1-8.1h0m.1-43.1h0m.4 5.9h0m.4 3h0m.3-8.5h0m.2 6.1h0m0-2.2h0m.1 37.7h0m.2-44.8h0m.2 51h0m.2-1.9h0m.1-2.6h0m.3-36.9h0m.2 39.6h0m.2-.6h0m.1-51.5h0m.1 46.7h0m.2-40.8h0m.2 50.8h0m.2-46.6h0m0 42.6h0m.6-7.8h0m.1-43.4h0m0 5.2h0m0 48h0m.2-58.1h0m.2 50h0m0-42.4h0m.2-1.1h0m0 2.8h0m0 46.9h0m.1-52.7h0m0 .5h0m.1-8.9h0m.1 53.7h0m.1-41.1h0m.5 40.9h0m.3 1.8h0m0-44.3h0m.1-19.4h0m0 5.3h0m0 7.3h0m.2-3.4h0m.1 11.4h0m.1-10.9h0m0 50.4h0m.1 11h0m.1-5.8h0m.1-5.5h0m.7 4.2h0m0-.2h0m.3-42.2h0m0-3.5h0m0 48.4h0m.1-45.3h0m.3 48.1h0m.1-54.7h0m0 51h0m0-.1h0m.1 .6h0m.1-48.7h0m.1 49.4h0m.3-52.6h0m0 5h0m.3 55.3h0m.1-56.6h0m.2 50.7h0m.3-3h0m.1-46.6h0m0 50.2h0m.1-46.5h0m.1 1.8h0m.2-4.1h0m.2 47.1h0m0-3.5h0m0 7.9h0m.2-55h0m0-1.3h0m0 51.5h0m.3-7.5h0m.2 13.8h0m.1-10h0m.2-46.2h0m.2 11.8h0m.4 30.8h0m.2-31h0m.1 37.8h0m.2-38.6h0m.6 41h0m.2-43.6h0m0 50.3h0m.1-13.4h0m.1-42.4h0m.6 49.1h0m.2-2.2h0m0 7.5h0m.1-46.6h0m.1 37h0m.1-38h0m.4-1.2h0m0-5.4h0m.2 55.1h0m.1-50.4h0m.1 42.9h0m.4 .3h0m.2-49.3h0m.2 2.6h0m.1-1.7h0m.9 52.1h0m.1-54h0m.2 52.7h0m0-.7h0m.2-50.3h0m.2 48.2h0m.5 .6h0m.1 1.4h0m.1-48.5h0m.3 47.6h0m.5-50.1h0m0-1.2h0m.1 51.6h0m.1-44h0m.6 37.8h0m.3-37.3h0m.1-7.2h0m.1 9.4h0m.1-4.4h0m.1 41.2h0m0-40h0m.3-16h0m.2 14.5h0m.4 46.5h0m.2 10.7h0m.2-56.7h0m.1-5.9h0m.2 10h0m.1 2.2h0m.2 46.4h0m.2-4.7h0m.3-46.6h0m.1 57.6h0m0-62.9h0m.1 52.7h0m0-.5h0m.1-.4h0m.1-45.2h0m0 0h0m.6 49.5h0m0-55.1h0m.1 53.7h0m.2-47.5h0m0-3.1h0m.2 51h0m0 2.6h0m.1-51.1h0m.1-.9h0m.1 58.6h0m0-7.5h0m.6-45.5h0m.6 47.4h0m.1 1.7h0m.1 .6h0m.3-52.2h0m.1-1.5h0m.2 53.3h0m0-.7h0m.1 4.2h0m.1-57h0m.1 3.2h0m.4 .7h0m.1 47.5h0m.1-3h0m0-44.4h0m.7 47.9h0m.2 3.2h0m.1-48.9h0m.1 53.5h0m.1-52.8h0m0 41.4h0m.1-39h0m.3 50.1h0m.5-50.4h0m.2 41.3h0m.2 10.9h0m0-52.5h0m.1-.9h0m.1-1.9h0m.3 4.3h0m.3 43.4h0m.4-47.2h0m.2 52h0m.2-3.5h0m.2-39.7h0m0 43.3h0m.5-45h0m0-.1h0m0 45.7h0m.4-47.3h0m.1 2.9h0m0 42.7h0m.3 6.2h0m.4-4.8h0m.1 4.4h0m.1-3.5h0m.1-50.4h0m.1-4.8h0m.2 58.8h0m0-48.7h0m.1 44.1h0m.2-48h0m.1 50.1h0m0-50.7h0m.1-.3h0m0 .7h0m.2 46h0m.2 4.6h0m.2-6.6h0m.2 2.2h0m.1 2.3h0m.2-49h0m.1 3.7h0m.1 1.5h0m.5-7.3h0m.1 12.4h0m.2-11.3h0m.2-4.7h0m0 8.3h0m.2 41.8h0m.4-44.3h0m0 47.3h0m.1-5.2h0m.2-32.8h0m.2 37.6h0m0-42.7h0m.9 2.7h0m.1 39.7h0m.5-40.4h0m0-1.8h0m0 43.1h0m.3-2.6h0m.1-40.2h0m0 45.1h0m.1-3.2h0m0 3h0m.2-44.4h0m.3-.2h0m.2-.7h0m0 2.9h0m.3 41.8h0m.1-2.3h0m.2 1.2h0m.2-42.9h0m.2 43.8h0m.1 5.5h0m.1-46.8h0m.4 1.1h0m0-2.2h0m.6-.1h0m.2 42.4h0m.3-43.8h0m0 45.9h0m.1-5.6h0m.3-42.3h0m.1 3.6h0m.2 4.4h0m.4 31.5h0m.1-30.2h0m.4-4h0m.7 34h0m.5-28.5h0m.4-8.2h0m.1-2.7h0m.3 38h0m0-28.6h0m.1 33.9h0m.1-37.5h0m.3-2.3h0m.1 7.1h0m.6 27h0m.4-28.9h0m0 5.6h0m0-7.4h0m.1 31.4h0m0 1.9h0m.3-32.8h0m.5 43.4h0m0-41.4h0m.1 29.1h0m.4-31.6h0m.2-4.4h0m.1-1.4h0m0 4.4h0m.2 39.2h0m0 4.3h0m0-46.2h0m.1 1.6h0m.1 3.2h0m0 33h0m.3 3h0m.1-37.8h0m.4 38.7h0m0-42.5h0m.1 4.3h0m.1 38.8h0m0 4h0m0-1.3h0m.2 0h0m0-3h0m.3 1.4h0m.1-40.7h0m.4 38.4h0m.1 3.7h0m.1-43.5h0m.4 42.6h0m.1-39.3h0m.1 39h0m0 .4h0m.1-.5h0m.2 2h0m.2-43.6h0m0 42h0m.2-41.3h0m0 41.9h0m.5-4.6h0m.2-37.4h0m.2-3.1h0m.5 37.6h0m0-35.4h0m.3 3.2h0m.5 35h0m.5-3.8h0m.1-35.1h0m.5 34.6h0m.4-28.1h0m.7-7.5h0m.1 1h0m0 35.3h0m.1-36h0m.2 .1h0m0 36.4h0m.1 2.8h0m.2-1.1h0m0-37.4h0m0 3.3h0m.1 36.1h0m.4-34.7h0m.1 33.8h0m.2-.7h0m.2-31.1h0m.6 34.5h0m.2-1.6h0m.1-36.9h0m0 38.8h0m.1-34.7h0m0 3.2h0m.1 29.7h0m.5-30.2h0m.2 32h0m.3-30.9h0m.1-13.1h0m.4 43.3h0m.2 1h0m.1-35.6h0m0 36.6h0m.1-41.2h0m.1 44.7h0m.1-4.4h0m0 4.3h0m.4-39.3h0m.1-5.3h0m.3 5.9h0m.3-9.6h0m.5 10.6h0m0 29.8h0m.2-31.3h0m0 33.5h0m0 4.9h0m0-38h0m.5 30.7h0m.2-32.2h0m.1-5.4h0m.2 6.3h0m0 39.5h0m.3-40.1h0m.1-.6h0m0 36.1h0m.2-3.2h0m.5-34.6h0m.2 36.3h0m0-.1h0m.1-37.2h0m.6 41.3h0m0-36.3h0m.1-5.6h0m.1 4.6h0m.1 2.8h0m.1-2.8h0m0-.5h0m.3-4h0m.1 38.3h0m0-1h0m.1 7.1h0m.3-1.6h0m0 5.1h0m0-43.2h0m.1-5.6h0m.4 7.5h0m.3 2.7h0m.2-2.8h0m.3 41.7h0m.2-42.7h0m0-2.5h0m.3 .9h0m0 44.1h0m.1-39.2h0m.5-2.3h0m0-2.1h0m.1 43.4h0m0-46.3h0m.1 46.7h0m.3-42.6h0m.2 2.6h0m.1 0h0m0 1.4h0m.1 37.2h0m0 4h0m.4-1.9h0m.3-43.3h0m.2 43.8h0m.1-41.5h0m.2 36.1h0m.1 8.6h0m.3-7.7h0m.2-39.8h0m.1 50.9h0m.1-51.7h0m.1 1.6h0m.1-1.8h0m.1 46.3h0m.1-43.9h0m.1 .2h0m.1 48h0m0-47.4h0m.2-4h0m.1 52.3h0m0 2.2h0m.4-8.3h0m.1-45.2h0m.2 51h0m.1-51.2h0m.2 .8h0m0 53.4h0m0-6.9h0m.1-1.7h0m.1-41.1h0m.1 49.1h0m0-48.1h0m.1 48h0m.1-49.1h0m.3 1.7h0m.1 43.8h0m.1-5.6h0m.3-37.7h0m0 1.1h0m.1-3.3h0m.1 44.2h0m.2-39h0m.5 36.3h0m.2 8.1h0m.2-3.7h0m.1-45.1h0m.5 40.2h0m.2-32.8h0m0 32.7h0m0-33.7h0m.1 41.5h0m.3-.5h0m0-4.3h0m.3-32.7h0m0-2.6h0m.1 37.1h0m.2-42.8h0m0 43.3h0m.7 3.1h0m0 .5h0m.2-38.5h0m.4-3.9h0m0 37.7h0m.3 3.7h0m0 .3h0m.1-43h0m.1 42.3h0m.3-39.2h0m.2 35.7h0m.1 .1h0m.3 .6h0m.2-35.2h0m.1 41.1h0m0-37.2h0m.1-9.7h0m.1 41.7h0m.1-36.9h0m.1 32.5h0m.1 1h0m.3-32.9h0m.1 29.9h0m.3 4.4h0m.5-3.1h0m.1-28.3h0m.3-7.5h0m.4 39.1h0m.1-36h0m.1 38.9h0m0-6.1h0m.1-33.1h0m.1 34.2h0m.2-36.8h0m.2 42.5h0m.2-5.2h0m0-36.6h0m0 38.1h0m.8-39.9h0m0 2.1h0m.5 37h0m.1-39.5h0m0 1h0m.1 35h0m0 7h0m0-5.1h0m.5-35.2h0m.3 34.2h0m.1-34h0m.1 3.6h0m.1-4.9h0m.3 33.1h0m.4-32.1h0m.2-3h0m.1 34.8h0m.4-37h0m.1 37.5h0m0-35.2h0m.2 1.7h0m.1 33.5h0m.2-36h0m0 33.2h0m0 3.1h0m.2-46.1h0m.1 8.4h0m.1-.9h0m.7 41.8h0m.1 .1h0m.4-34.9h0m.4 40.1h0m0-7.5h0m.4-36.2h0m0-.1h0m0 40.2h0m.3-40.8h0m.4 4.8h0m.1 36.9h0m.6-5.3h0m.1-39h0m.2 43.6h0m.3 10.9h0m.1-44.6h0m0-.8h0m.1 .2h0m0 45.6h0m.2-10.6h0m0-38.4h0m.2 4.6h0m.2 39.5h0m.1 .4h0m.3-32.9h0m.1-9.8h0m.2 40.8h0m.5-33.8h0m0 39.1h0m.2 2.9h0m0 .3h0m.1-3.4h0m.1 .9h0m.1 2.1h0m.1-41.4h0m.4 40.4h0m.1-41.9h0m.3 3.7h0m0 38.5h0m.2-45.4h0m.2 3.2h0m.1 40.1h0m0-36h0m.2-12.6h0m.2 44.8h0m0-37.1h0m.3 1.5h0m.2 4.1h0m0 39.1h0m.1-46h0m0 4.6h0m.3 35.2h0m.1 3.8h0m0-2.3h0m0 11.4h0m0 6.7h0m.3-19.8h0m.2-36.3h0m.1 1.2h0m0 34h0m1-32.5h0m.1-11.2h0m0 48.3h0m.3 2.4h0m.3-3.6h0m.1-39.5h0m.2 0h0m.5 39.6h0m.4 1.8h0m.1-4.9h0m.3-44.1h0m0 5.9h0m.3 36h0m.1 11h0m0-48.8h0m.2-4.6h0m0 46h0m.1 .5h0m.3-39.4h0m.1-5.7h0m0 48.9h0m.3 1.6h0m.3-47.4h0m.3 43.3h0m.1-2.6h0m.2-35.5h0m0 2.4h0m.2-4.7h0m.4 40.2h0m.4 2.6h0m.2-47.8h0m.5 1.3h0m.1 37.8h0m.2 5.4h0m.1-4.2h0m.2 1.1h0m0-2.1h0m.1-41.1h0m.5 1.7h0m.5 0h0m0 36.1h0m.1-34.2h0m.8-3.9h0m0 37.4h0m.3-39.5h0m.2 40h0m.2 1.9h0m.1-1.7h0m.2-41.8h0m.1 .5h0m.1-1.3h0m.1 1.5h0m0 38.6h0m0-38.4h0m.2 37.5h0m0-.8h0m.3-39.4h0m.3 37.2h0m0-2.9h0m.1-2.3h0m.3-29.2h0m.1 32.1h0m.1-33.4h0m0-.6h0m.2 27.6h0m.1-27.3h0m0 1.2h0m.1 29.5h0m0-29.6h0m.2 25.7h0m.2 2h0m.2 1.7h0m.1-1h0m.3-2h0m.1-23.8h0m.2 19h0m.1-.9h0m0-16.9h0m.1-1.3h0m.5 21.9h0m0-19.7h0m.1-6.8h0m.2 28.9h0m.2-28.4h0m0 26h0m.5-18.7h0m.1 1.8h0m.1 19.7h0m0-25.7h0m.6 0h0m.1 29.1h0m.5-.1h0m.1-31.5h0m.1 4.2h0m.1 3.3h0m.3-3.8h0m.4 28.6h0m.1-20.9h0m0 20.9h0m.2-24.6h0m.2 2.7h0m.3 22h0m.3 .1h0m.1-26.3h0m.4 26.9h0m.2-1.3h0m.2 1.7h0m.2-22.6h0m0 22.4h0m.3 1.6h0m.1-.1h0m.2-.5h0m.1-33.8h0m0 35h0m0-3.2h0m.2 3.5h0m.1-3.8h0m0-27.6h0m.1-8.1h0m.3-.3h0m0 36.7h0m.3-34.7h0m.1 38.7h0m0-4.2h0m.2-36.2h0m.4 .5h0m.4 39.5h0m0-2h0m.2 1.2h0m.2-1.4h0m0 .9h0m.1-.7h0m0 .4h0m.1-38.7h0m.4 39.3h0m0-1.2h0m.1-38.2h0m.5 42.7h0m0-5.5h0m0-31.2h0m.2 .3h0m.2-.1h0m.1 34.3h0m.2 .7h0m0-37.3h0m.1 35.5h0m.1-1.6h0m.1-44.6h0m.1 5.1h0m.2 6.4h0m0 36.9h0m.1-4.8h0m0 5.9h0m.1-7.5h0m.4 3.4h0m.1-31.7h0m.2 3.3h0m.5-11.5h0m.1 44.3h0m.2-8.7h0m.2-31.5h0m.3-1h0m0 4h0m.1 34.1h0m.1-37.9h0m.1 6.5h0m.2 30.1h0m.3-3.1h0m.3 7.3h0m.2-4.4h0m.1 .1h0m.1-38.8h0m.1 44.9h0m0-45h0m.1-.9h0m0 .1h0m.1 42h0m.6 1.1h0m.3 1.6h0m.1-40h0m.1 35.1h0m0-38.8h0m.1-1.8h0m0 4.5h0m.2 38.4h0m.6-3.8h0m.1-35.4h0m.2 36.7h0m0-39.3h0m0-.6h0m.3 38.4h0m.1 1.8h0m0 1.7h0m.4-31.4h0m.3 37.5h0m.1-40.8h0m.1-6h0m.3 47.5h0m.3-42.2h0m.1 32.2h0m0-31.3h0m.3 33.9h0m.3 0h0m.1-35.2h0m.2 38.1h0m.2-2.1h0m0 4.6h0m.2-1.3h0m.1 3.7h0m.1-3h0m.2-36h0m.1 34.1h0m.3 4.4h0m.1-40h0m0-.1h0m.3-8.2h0m.1 48.2h0m0-39.1h0m.1-.8h0m.1-12h0m.1 52h0m.5-36.3h0m0 37.8h0m0-37.2h0m0-4.3h0m.1 41h0m.2-.2h0m.4-1.3h0m.3-5.5h0m.4-31.4h0m.1 31.2h0m.1-30.8h0m0 32.8h0m.5 1.5h0m.2-31.9h0m.1-1h0m0 31.9h0m0-38.7h0m.1 38.4h0m0-4.5h0m0 2.1h0m.1-29.8h0m.2-7.3h0m0 6.4h0m.1 23.8h0m.1 1.6h0m.1 9.9h0m.5-8.5h0m.2-32h0m.1 1.5h0m.3-2.8h0m0 36.2h0m.3 4.7h0m.1-37.6h0m.2 31.9h0m0 3.5h0m0-40.8h0m.2 34.9h0m0 3.9h0m.1-37.8h0m.3-.9h0m.1 38.1h0m0-38.2h0m0 .5h0m.1 35.8h0m.3 1h0m.1 3.9h0m0-3.4h0m0-37h0m.2-3.2h0m.1 41.7h0m.2 .1h0m.2-37.4h0m0 2.2h0m.2 32.5h0m.1 .7h0m.1-1.6h0m.1-31.7h0m.2-3h0m.1 7.4h0m.1 26.2h0m.1-30.5h0m0-6.8h0m.1 36.2h0m.2-25.4h0m.2-.3h0m.2 24.6h0m.1 .7h0m.1 6.1h0m0-2.8h0m.4-5h0m.1-3.6h0m.2-23.5h0m.1-2.9h0m0 3.2h0m0 .6h0m.2 27.1h0m.1-3.5h0m0-26.7h0m.3 2h0m.3-2.3h0m.2 36.5h0m.2-34.4h0m0 25.8h0m0-25.7h0m.1-1.5h0m.4 28.1h0m0-25.7h0m.1-4.3h0m.1 26.2h0m0-25.1h0m.2 27h0m.2-.1h0m.2 6.7h0m.2-6.9h0m0-25.1h0m.1 30h0m.4-31h0m.1 .4h0m.1 1.9h0m.1-3.1h0m.5 25.8h0m.1-25.6h0m.3 2.6h0m.1 22.6h0m.2-20.6h0m.1 18.7h0m.6-25.3h0m.1 8.1h0m.1-1.1h0m.1 20.3h0m.5 5.6h0m.1-1.9h0m.1-22.6h0m.8 21.8h0m.3-31.2h0m.2 34.2h0m.2 .7h0m.1-33.6h0m.1 34.2h0m0-2h0m.1-30.1h0m.4-3.3h0m.1 .9h0m.3-.6h0m.1 32.1h0m.3-29.9h0m.1 0h0m.4-2h0m0 30.2h0m0 .5h0m.3 3.5h0m.1-.8h0m0-28.4h0m.1 .4h0m.1 .1h0m.5 29.2h0m.3-27.9h0m.1 29.3h0m.1-5.3h0m0-.7h0m.5 1.1h0m.6-29h0m.3 3.8h0m0-3.4h0m.1 28.8h0m.2-28.7h0m.5-4.7h0m0 29.6h0m.1-25.1h0m.1-1h0m.2 25.7h0m.1 10.3h0m.3-7.4h0m0 4.9h0m.2-34.4h0m0 32h0m.1-30.3h0m.3 26.2h0m.3-.7h0m.2-22.4h0m.3 23.7h0m.3-27.1h0m.1 1.2h0m.4 30.4h0m.1-29.8h0m0 .4h0m.2 28.1h0m.1 1.5h0m.1-23.3h0m.5 23h0m.1 3.3h0m.2-1.5h0m.3 2.7h0m.2-29.9h0m.1-.2h0m.2-4.2h0m.1-2h0m0 36.2h0m.1-2h0m.2-2.1h0m.2 5h0m.3-7.4h0m.1-24.6h0m0-5.3h0m.1 4.3h0m.1 .4h0m.1 32h0m0-33.4h0m.2 26.8h0m0-29.4h0m.2-3.5h0m.1 33.8h0m.4 2.2h0m0-1.9h0m.1-27.1h0m.4 0h0m.1 27.4h0m.5-31.6h0m0 32.8h0m.1-1.3h0m.4-31.8h0m0 37.3h0m0 1.7h0m0-37.4h0m.6 38.6h0m.2-44.6h0m.2 45.7h0m0-46.2h0m.4 45.3h0m.1-42.8h0m.3 2.4h0m0 41.2h0m.2-43.4h0m0 40.4h0m.3-44.7h0m0 44.2h0m.2 .3h0m.1-1.3h0m.1-1.4h0m0-40.5h0m.2 36.8h0m.1 3h0m.1-34.6h0m0 33.1h0m.2 2.2h0m.2 .5h0m0-35h0m0 35.9h0m.1 2.5h0m0-40.2h0m.2 29.7h0m.3 .7h0m.2-30.6h0m.3 4.7h0m0-3h0m.1 1.2h0m.1-.3h0m.4 31.4h0m.3-.4h0m0 9h0m.2-38.4h0m.1 33.7h0m.1-1.2h0m.4-1.8h0m.5-31h0m0 2.3h0m.4 34.2h0m.4-2.8h0m.1-32.1h0m0 36.5h0m0-7.5h0m.1-34.1h0m.1 34.6h0m.3-34.9h0m.3 43.1h0m.1-5.9h0m.1-3.6h0m.2-33.3h0m.1 34h0m.1 1.5h0m.1 9.8h0m.1-13.2h0m.1-36.6h0m.1-.2h0m.3 43.3h0m.1-37.9h0m0 .1h0m.5 .6h0m.1 .1h0m.1-5.5h0m0 35.8h0m.1 1h0m0 6.9h0m.1-7.2h0m0-1.8h0m0-27.7h0m.1 26.5h0m.2 3.1h0m.2-2.3h0m.4-26.8h0m.7-1h0m0 28.3h0m.1-28.8h0m.1-.2h0m.2 .3h0m0 1.4h0m.5 32.9h0m.2-34.3h0m.2-4.1h0m.1 2h0m.6 1h0m.1 34.1h0m.3 1.2h0m.5-36.4h0m.1-2.7h0m.3 34.4h0m.1-.5h0m.2-2.5h0m.4-33.7h0m.2 35h0m.1 .4h0m.1-1h0m.1-35.8h0m.1 35.8h0m.2-1.6h0m.2 .4h0m.2-29.6h0m0-2.1h0m.1-3.6h0m.2 29.4h0m0 2.3h0m.4-25.7h0m.3 .5h0m.1 26.9h0m.5-21.7h0m.1 27.5h0m0-25.1h0m.1 19.2h0m.7-26.7h0m0 3.1h0m.2 .7h0m.1 24.3h0m.3 10h0m.1-33.6h0m.8 39.5h0m.1-7h0m.1 .7h0m.1-33h0m.3-7.3h0m.1 37.2h0m.3-33.7h0m.4 36.8h0m.1-.6h0m.3-30.6h0m.3 20.7h0m.5-26h0m.6 .5h0m.1-1.8h0m.1-8.2h0m.1 37.8h0m.1 1.7h0m.1-2.7h0m0 2h0m.1-1.9h0m.1-35.3h0m0 7.1h0m0 30.3h0m.1-34.1h0m0-.5h0m.3 30.2h0m0 2.4h0m.1-33.8h0m.2 31.2h0m.3 1.3h0m0-30.8h0m.3-1.5h0m.4 30.9h0m0 3.5h0m0-36.3h0m.2 3.1h0m.2-.9h0m.1 3.6h0m.6 22h0m0 5.8h0m.4-3.2h0m.3-2.4h0m.1 .3h0m0-20.3h0m.2 23.2h0m.8-24.8h0m.1-1.6h0m.2 27.4h0m.1-32.7h0m0 35.5h0m.6-.7h0m.3-2.8h0m.1 2.5h0m.1-22.3h0m0-9.3h0m.1 35.4h0m.1-.2h0m.4-6.2h0m0-25.1h0m.5 2.6h0m.2 22.5h0m0 0h0m.3-30.4h0m.4 1.2h0m.3 .5h0m.1 .7h0m.3 36.9h0m.2-7.1h0m.1 2.6h0m.1-31.7h0m.4-2h0m.4 31.8h0m.3 6.8h0m.5-37.8h0m0 35h0m.6-4h0m.6-28.6h0m.3 31.6h0m.6-29.6h0m.4 30.2h0m.1-7.5h0m.3 .9h0m0-29.7h0m.1 6.6h0m.1-.6h0m.3 21.6h0m.2-19.9h0m.2 23.9h0m.1-3.2h0m0-.4h0m.1-21.5h0m.1 21.5h0m.4-23.8h0m.1 22.5h0m.3-23h0m.4 23.4h0m0-28.4h0m.3-2.3h0m0 3.8h0m.1 27.3h0m.1 9.7h0m0-6.6h0m.4 4.9h0m0-34.4h0m0 24.9h0m0 8.8h0m.2-4.3h0m0-32h0m.2 1.5h0m0-1.6h0m.2 1.1h0m.3 37.3h0m.2-3.6h0m.5-1.8h0m.2-31.5h0m.1-.9h0m.3 38.1h0m.4-5.2h0m.1-30.3h0m0 1.2h0m.1 27.8h0m0-.9h0m.1-1.2h0m.1 3.1h0m.3-8.2h0m.3 6.2h0m0-28.3h0m.2 .9h0m.3 3.4h0m.1 .3h0m0-8.5h0m.1 29h0m.2 4.7h0m.1-30.7h0m.3 25.9h0m.1-26h0m0 8.6h0m.2 21.2h0m.1-23.3h0m.1 19.9h0m.1-1.4h0m.3 2.7h0m.2-19.8h0m.1 22.9h0m.1-22.6h0m0 .6h0m.1 27.3h0m.3-29h0m.1 26.6h0m0-.5h0m.2-26h0m0 23.5h0m.2 5h0m.4-3.3h0m.2-26h0m.3 24.9h0m.2-28h0m0 29.2h0m.1-28.5h0m0 28.9h0m.1-2.3h0m.1 .2h0m.1-30.8h0m.2 5h0m.2 28.5h0m.6-34.2h0m.1 34h0m0-29.8h0m.2-6.4h0m.3 36.4h0m.3-25.5h0m.3 26.5h0m.7-2.4h0m0-29h0m0 31.2h0m.1-30.8h0m.1-4.6h0m.1 35.8h0m.1-36.4h0m0 36.8h0m.2-1.2h0m0-3.2h0m.2-25.5h0m.1 22.8h0m0 5.3h0m.6-36.8h0m.1 4.4h0m.6 4.7h0m0 20h0m.2 4.6h0m0-3.9h0m.2 7.3h0m.2-26h0m.3-6.1h0m.1-1.3h0m0 3.2h0m.1 26.3h0m.3-5.9h0m.1 6.5h0m.2 4.3h0m.1-5.3h0m.1-22.4h0m.1 27.9h0m.1-5.5h0m0 1.5h0m0-1.2h0m.3 3.8h0m.7 .2h0m.2-33.5h0m.2 32.4h0m.1 1.9h0m.1-5h0m0-31.4h0m.2 .1h0m0 .8h0m.1 37.3h0m.2 .7h0m.1-36.9h0m.2 34.5h0m.7-33h0m.1 31.2h0m.3 4.6h0m.1-2.9h0m.1-33.5h0m.4-1.2h0m0 5.5h0m.2-.7h0m.5 3.5h0m0 32.1h0m0-37.8h0m.1 6.8h0m.1-1.4h0m.4 36.8h0m.2-32.3h0m.2-3.4h0m0 2h0m.2 30.5h0m.7-30.5h0m.1 3.8h0m.2-.2h0m0 26.9h0m.1-26.7h0m.1 29.4h0m.1-37.3h0m.1 35.1h0m0-27.7h0m.1 28.3h0m.3-42.4h0m.2 12.9h0m0 35.4h0m0 4.8h0m0-12.6h0m0-37.8h0m.1 38.9h0m.3 0h0m.3 4.9h0m.2-33.8h0m0 2.2h0m.2 27.9h0m.3-33.2h0m.1 34.5h0m.3-37.2h0m.1 37.2h0m.4-37.9h0m0 6.4h0m.1-2.8h0m.2 31h0m.2-29h0m0 28.8h0m0-30.7h0m.3-.3h0m.2 32.9h0m.1-41.8h0m.1 43.5h0m.1-34.3h0m.1 30.9h0m.1 2.8h0m.2-31.1h0m.1-12.6h0m0 44.7h0m.1-38.6h0m.2 35h0m.1-31.7h0m0 31.6h0m.1-32.7h0m.1 32.7h0m.2 2h0m.9-2.2h0m0-33.9h0m.3 2.4h0m.1 4.5h0m0-11.6h0m0 38.3h0m.3-30.8h0m0 25h0m.1-21h0m.1 19.1h0m.5-22.6h0m.1 20.4h0m.4-3.3h0m.4-16.4h0m0 1.7h0m0 19.8h0m.1-20.3h0m0 .3h0m.6 14.7h0m.2-17.4h0m.2-5.3h0m0 1.2h0m0 .6h0m.1 20.2h0m.2-12.4h0m.1 20.8h0m.1-6h0m.2 3.6h0m0 1.4h0m.7-1.9h0m.3 6.5h0m.1-26.1h0m.1-1.5h0m.2 20.4h0m0-24.7h0m0 23h0m0 1.9h0m.1-20.9h0m.6-1.5h0m.1 .3h0m.1-2.7h0m.1 3.4h0m.3 .8h0m.1 26.2h0m.1 2.3h0m.2-28.2h0m.1 22.5h0m.3-2.4h0m.2 1.9h0m.2 4.5h0m.2-27.3h0m.3 23.4h0m.1-33.7h0m.3 34h0m.2 6.4h0m0-2.9h0m.3-36.6h0m0 9h0m.4-2.2h0m.1 25.3h0m.1-2.7h0m.1-32.8h0m.4 6.6h0m.1 28.7h0m.2-33.1h0m0 .6h0m0 2h0m.3-.1h0m.1 31.5h0m.5-34.1h0m.3 3.1h0m.3-.9h0m.2 29.7h0m0 3.2h0m.1 5.1h0m.1-40.9h0m.1 38h0m0-4.5h0m.4-29.5h0m.1-1.4h0m.1 35.4h0m.3 3.4h0m.1-35.1h0m0-1h0m.4 31.6h0m.1 .3h0m.2 0h0m.2-35.5h0m.1 32.6h0m.4 4.5h0m.1-38.3h0m.1 .4h0m.3 33.8h0m.5-32h0m.2 32.8h0m.1-40h0m.1 40.7h0m.1 2.4h0m.2-43h0m0 42h0m.4-37.5h0m.3 4h0m.5 25.3h0m0-2.4h0m.1 1.4h0m.3-25.9h0m.2 29h0m.1-6.1h0m0-23.5h0m.1 26.2h0m.1-27.8h0m.4 30h0m0 2.3h0m0-.8h0m.5-1.3h0m.3-30.3h0m0 25.8h0m.3 .2h0m0-3.4h0m0-26.8h0m.2 3.8h0m.2-2.2h0m.1-.5h0m0-1.7h0m0-.8h0m0-1.7h0m.1 33.4h0m.1-2.1h0m0-27h0m0 .5h0m.2 26.5h0m0-.7h0m.1-31.9h0m.1 32.2h0m.2-26.9h0m.1-3.1h0m.7 32.2h0m.2-35.5h0m.4 2.5h0m.1 1.1h0m0-3.4h0m.1 35.8h0m.1-4.8h0m.1 .9h0m0 2.7h0m0-6.4h0m.2-23.7h0m.3-1h0m.4 27.3h0m0 4.3h0m.1-27.2h0m0-1.7h0m.2 24.4h0m.4-3.8h0m0-19h0m0 25.2h0m.2-25.1h0m.1 3.4h0m.2 .5h0m.1 17.8h0m.2-4.5h0m.1-11.5h0m.5-9h0m.3 8.6h0m.1 15.3h0m.9-23h0m.1 25.5h0m0-22.3h0m.1 24.2h0m.4 3h0m0-30.1h0m.6 .4h0m0 27.1h0m.2-26.9h0m.3-1.5h0m.1 .5h0m.1 27.8h0m0 6.8h0m.1-33.7h0m.1 25.4h0m.5-24.8h0m.2-1.4h0m0 .4h0m0 3h0m.4-1.6h0m.1 32.6h0m0-3.5h0m.2-30.7h0m0 27.9h0m.3-26.6h0m.3 26.9h0m.5-29.2h0m0 5h0m.3 32.9h0m.2 1.6h0m0-6.7h0m.4 7.4h0m.1-36.3h0m0 34.5h0m.1 1.5h0m.1 .4h0m.4-36.9h0m0 .1h0m0 1.3h0m.1 25.5h0m.5-22.8h0m.2 26.3h0m.1-31.5h0m.6 31.4h0m.1 3.3h0m.2-27.1h0m.1 29.4h0m0-31.3h0m.4 26.4h0m0 3.2h0m.3-30h0m.2 32.4h0m.1-31.2h0m.6 30.7h0m.2-.6h0m.1-.3h0m.1-33.2h0m.3-1.4h0m.1 34.7h0m.4-.9h0m.2-36h0m.5 37.2h0m.1-31.6h0m0 30.1h0m.4-32.4h0m0 .4h0m.2 31.6h0m.1-31.9h0m0-1.3h0m.1 33.1h0m.5-27.1h0m.3 27.2h0m.1-.8h0m.1-25.9h0m.7 23.9h0m0-24.9h0m.4 1.8h0m.3-11.1h0m.1 36.7h0m.1 1h0m.3-24.8h0m.3-7.1h0m0 28.3h0m.3-24.5h0m0 28.2h0m.1 2.5h0m0-3.2h0m.3-2.4h0m0-29.6h0m.4 4.9h0m.1 3.6h0m.1 20.4h0m.8 5.6h0m.1-30.9h0m0 1.8h0m0 28.1h0m.3-1.7h0m.4-2.4h0m.1 3.1h0m0-1.2h0m.1 1.3h0m.2-30.3h0m.2-2.5h0m.1 .4h0m0 1.2h0m0 3.6h0m.6 29.8h0m0 .2h0m.3-30.8h0m.6 33.6h0m.1-38.3h0m.4 38.1h0m.2-42.3h0m.6 7.4h0m.1-2.4h0m.1-5.3h0m0 38.7h0m.1 7.6h0m0-42.1h0m.2 34.5h0m.1-37.3h0m.1 38.3h0m.1-38.4h0m.4 .5h0m.1-1.6h0m0 44h0m0-43.1h0m.2 43.5h0m.6-3.2h0m.1-41.2h0m0 4.5h0m.2 34.5h0m.1-35.8h0m.1 0h0m.1 43.7h0m.4 4.9h0m.1-52.8h0m.1 4.4h0m0 0h0m.1 1.9h0m.1 37.6h0m.2-37.5h0m.1 35.6h0m0 8.2h0m.3-41.2h0m.1-3.9h0m0 3h0m0-5.4h0m.8 .1h0m.4 4.6h0m.1 33.2h0m0-1.4h0m0-34h0m.2 39.3h0m.2-4.3h0m.1-36.3h0m.1 5.8h0m.2-2.1h0m.1-.5h0m.3-1.4h0m0 33.1h0m0-34.6h0m.2 3.7h0m.8-8.8h0m.3 7.6h0m.2 2.4h0m.1 25.7h0m.2-35.6h0m.1 3.1h0m.1 32.1h0m.1-1.5h0m.3-28.5h0m0 29h0m.4-25.9h0m.1 2.4h0m0 23.2h0m.2-1.4h0m.2-24.3h0m.1 31.3h0m.4-32h0m.5-8.9h0m.3 11.9h0m.1 22.8h0m.1-.9h0m.2-35.9h0m.1 8.4h0m.1 32.9h0m0-1.5h0m.1-30.1h0m.1-5.1h0m.1 32.3h0m.2-28.5h0m.4-2.7h0m0 1.8h0m.3 34.6h0m.2-4.6h0m.1 3.8h0m.1-5.1h0m0 2.8h0m.2-34.5h0m.1 32.3h0m.1 1.3h0m0 2.2h0m.3-35.9h0m.2 4.4h0m.1 29.5h0m.2-1.1h0m.1-1.4h0m.1 1.3h0m0 1.9h0m.4-3.8h0m.1-25.3h0m.1 29h0m0-28.4h0m.1 28.6h0m.3 .5h0m.1-25.8h0m0 0h0m.1 .2h0m.1 25.1h0m.4 1.5h0m0-2.5h0m.1 7.1h0m.4-7.3h0m.2-24.6h0m.3 29.6h0m0-.8h0m.1-27.4h0m0 28h0m.2-.1h0m.3-1h0m.1-32.3h0m.1 1.2h0m.2-.6h0m.1 37.7h0m.1-35.3h0m0-2h0m.1-4.2h0m.1 36.4h0m.1 3.4h0m.2-1.5h0m0-3.6h0m0 0h0m0 .1h0m.4-1.3h0m0-3h0m.6-22.1h0m.2 30.3h0m0-29.5h0m.1-7.6h0m.1 2.6h0m.2 32.1h0m.1 6.6h0m.2-12.3h0m.3 .2h0m0-1.2h0m.3 0h0m.2-21.2h0m.1 25.4h0m.1-35.1h0m.2 13.6h0m.4-5h0m0 30.9h0m.1-3.3h0m.1 1.4h0m.2 1h0m.3-32.7h0m.1 1h0m.1-4.3h0m.1 36.2h0m.1-35.3h0m0-1.4h0m0 40.5h0m.2-1.6h0m.4-1.2h0m.4 2.2h0m.2-4.8h0m.1-32.7h0m.2-1.5h0m.1 33.8h0m.6-35h0m0 1h0m0 35.4h0m.8-2.7h0m.1-3.2h0m.1-31.4h0m0-.7h0m.5 40.2h0m.2 2.5h0m.1-.3h0m.2-38.8h0m0 .9h0m.2 32.8h0m.1-33.7h0m.1 2.4h0m.2 1.2h0m.1 30.4h0m.1-38.7h0m.2 8.2h0m.4 29.2h0m.4 2.5h0m0-30.4h0m.4-1.1h0m.5-4.6h0m.1 33.4h0m.2 1.9h0m.2 4.6h0m.1-1h0m.1-1.4h0m0-1.9h0m0 5.4h0m.3-5.6h0m0-38.4h0m.2-.3h0m0 41.4h0m.3-5h0m.1-35.3h0m.1 38.2h0m.5-40.8h0m.3 40.7h0m.1-1.6h0m.5-36.7h0m.3 35.4h0m.3-2.4h0m.1 6.5h0m.1-7.2h0m.1 6.6h0m0-36.2h0m.3-9.6h0m.2 42.8h0m.3 5.5h0m.1-5.5h0m0-35.8h0m.2-4.3h0m.1 9.8h0m.2-7.5h0m.4 46.9h0m.2-46.9h0m.4 3.2h0m0-7.2h0m.1 2.7h0m0-.5h0m.1 4.5h0m.9-2.9h0m.2 48.3h0m.6-1.2h0m.3-51h0m.2 42.7h0m.3-39.6h0m.6 40.4h0m.1 4.1h0m.2-39.7h0m.5 37h0m.3-39.3h0m.1 33.4h0m.1-31.2h0m.3 34.7h0m0 .3h0m.6-41.3h0m0 40.8h0m.2-6.7h0m.2-31.8h0m.1-2.5h0m.1-1h0m.1 5h0m.1 29.8h0m.6-31.6h0m0-2.2h0m.1 .2h0m.3-1.1h0m.1 36.1h0m.2 2.9h0m.3-36.8h0m.1 31.5h0m.2-40.4h0m0 42h0m.1-34.5h0m.2 36.1h0m.1 4.6h0m.1-41.7h0m.3-2.4h0m.3 4.4h0m0 40.2h0m.1-3.4h0m.4-3.2h0m0 1.6h0m.1-33.1h0m0 37.3h0m.6-47.3h0m.2 43.8h0m.1 2.6h0m.1-2.3h0m.1-47.8h0m.2 10.1h0m0-6.3h0m.1 3.6h0m.3 36.8h0m0-36.8h0m0 .1h0m.1 37.3h0m.4 2.9h0m.3-7.7h0m.1-32.5h0m0-.2h0m.2 .1h0m.4-.1h0m.2 3.1h0m.3-3h0m.2 .5h0m0 28.5h0m0 6.7h0m.9-5.1h0m0-22.8h0m.1 24.1h0m1.2-27.7h0m0-1.6h0m.1-1.6h0m.1 30.6h0m0 1.5h0m.3-30.8h0m.4 33.4h0m.2 .9h0m.1-37.3h0m.1 .1h0m.5 40.7h0m.1-45.8h0m.1 39.6h0m.1-35.6h0m.4-2.7h0m.6 38.8h0m0-34.5h0m.2-4h0m.1 36.8h0m0-39h0m0 44.1h0m0-41.8h0m.1-.9h0m.1-4.7h0m.1 48.6h0m.1-5h0m.8-42.9h0m.3 5.9h0m.2 32.8h0m.1 3.6h0m.1-2.7h0m.4-39.7h0m.1 42.2h0m.2-38.8h0m.2 36.8h0m.1-1.4h0m.1-36.2h0m.3-2.8h0m.3 39.6h0m.5-35.6h0m.3 40.6h0m.1 1.4h0m.3-43.8h0m0 46.4h0m0-4.5h0m.4-.5h0m0-2.2h0m.2-38.2h0m.1-2h0m.3 46.2h0m0-51.7h0m.1-10.4h0m0 7h0m.3 49.4h0m0-2.2h0m.3-38.6h0m.1-.4h0m.1-1.2h0m0-.2h0m.1 48.8h0m.1-52.4h0m0 9.5h0m.1-5.1h0m.4 3.1h0m0 38.5h0m.4-1.6h0m.7 6.6h0m.2-1h0m0-39.2h0m.2-2.1h0m.4 0h0m0 3.1h0m.1 37.4h0m0-40.7h0m0 43.3h0m.2-1.8h0m0-42h0m.3 40.2h0m.2-36.6h0m.1 .4h0m.1 32.5h0m1.2-33.7h0m0-4h0m.2 5.6h0m0 31.7h0m.1-38.9h0m.3 42.5h0m.2-36.1h0m.5 40.6h0m.4-3.2h0m.2 0h0m0-42h0m0 2.8h0m.2 37.7h0m0-38.3h0m.5 40.1h0m0-43.5h0m.2 44.1h0m.3 2.7h0m.3-4.9h0m0-39.4h0m0-1.8h0m.1 40.8h0m.3-38.8h0m.1 42.8h0m0-40.9h0m.3-1.1h0m.2-5.3h0m.2 50.6h0m.2-47.4h0m0 45.9h0m0-48.7h0m.2 6h0m.6 40.8h0m0-42.6h0m.8 2.1h0m0 42.3h0m.1-46.6h0m.1-.2h0m.3 48.2h0m.3-.7h0m0-46.4h0m.5 1.7h0m.2 41.7h0m.1-2.5h0m.8 2.5h0m.1-43.6h0m.2 1h0m.1 42.5h0m0 1.4h0m.2-2.2h0m0-38.8h0m.2 37.9h0m.1-37.4h0m.7-2.4h0m.3 40.3h0m.3-38.6h0m.1-5.3h0m0-4.5h0m.3 48.5h0m.1-38.4h0m.2-.4h0m.1 35.2h0m.1 3.3h0m.3-1.4h0m.3-3.6h0m.4-32.5h0m.3 31.3h0m.2-31.4h0m.1 31.6h0m.3 5.7h0m.2 7.1h0m.1-48.1h0m.1 35.7h0m0 1.1h0m.2-1.4h0m0-34.9h0m.1 38.9h0m0-1.9h0m.3-39.8h0m0-6.4h0m.3 7.8h0m.1 48h0m.2-16.8h0m0 12.2h0m.2-42.3h0m.1-3.3h0m.1 36.7h0m.2-1.7h0m.7-37.8h0m.2 49.5h0m.1-43.9h0m.2-1.7h0m.2 32.4h0m.2 10.5h0m.1-7.9h0m0-42.5h0m0 9.9h0m.1 36.5h0m0-7.4h0m.5-40.8h0m.1 45.1h0m.2 6.8h0m.2 5.4h0m.1-52h0m.4 41.3h0m.2 8.5h0m.2 1.3h0m.4 .3h0m0-10.1h0m.1-39.4h0m.3-4h0m.5 46h0m.3-41.7h0m.3 39h0m.1 8.5h0m0-9.7h0m.1 3.1h0m0-44h0m.1-.9h0m.3 .1h0m.1 42.2h0m.3 2.7h0m.1-2.7h0m.1-36.8h0m.2-3h0m.4 .2h0m.1 36.6h0m.1-34.6h0m.5-3.9h0m.2 .6h0m.1 38.5h0m.2-36.1h0m.1 34.6h0m.8 .6h0m.2 2.6h0m.1-42.4h0m.4 37.8h0m0-38.2h0m.3 39.6h0m.2-38.2h0m.1-7h0m.2 47.9h0m.3 0h0m.2-42.3h0m.2 48.3h0m.4-3h0m.1 2.5h0m.4-49.3h0m.3 46.7h0m.3-50.4h0m.1-1.5h0m.3 1h0m.1 47.5h0m0 9.2h0m.5-57.1h0m.1 1.9h0m0 43.5h0m.1-47.2h0m.1 47.9h0m.2-46.2h0m.1 48.6h0m0-43.7h0m0-3h0m.2 48.7h0m.1-5.6h0m.2 2.3h0m0 4.4h0m.3-1.9h0m.1-4.7h0m.2-40.7h0m.2 51.4h0m.5-10.9h0m0 3.7h0m.2-43.8h0m.4-.6h0m.3-12.2h0m0 12.7h0m.6 42.6h0m.1-50h0m.2 1.1h0m.3 45.4h0m.2-46.7h0m.1-1.8h0m.1-2.8h0m.1 55.5h0m.2-48.8h0m.6-4.8h0m0 2.5h0m.1 43.8h0m.1-48h0m.2 2.1h0m.2 55.7h0m0 .3h0m.2-6.8h0m.4-63.1h0m0 13.8h0m0-.5h0m.2 50.5h0m0 4.1h0m.1-56.5h0m.4 .4h0m.1 62.8h0m.1-6h0m.1 5.5h0m.1-6.5h0m.2-57.1h0m.3 55.8h0m0-54.3h0m.2 60.8h0m0 1.1h0m.2-67.6h0m.1 1.6h0m.1 69.4h0m0-8.3h0m.1-4.9h0m0 5h0m.2-54h0m.1 48.7h0m0-51.6h0m.1-1.1h0m.3 53.3h0m.4-74.3h0m0 21.6h0m.2 .7h0m0 1.8h0m.2 45.4h0m.4-41.1h0m.2 44.3h0m.3-60h0m.1 3.7h0m.4 15.9h0m.2 42.3h0m.2 .1h0m.1-57.1h0m.1 55.9h0m.6 3.2h0m.2-45.1h0m.3 44.1h0m0-43.9h0m.3 40.1h0m.1-.9h0m.5-41h0m.1 54h0m.5-58.2h0m.1-5.5h0m0 59.1h0m.2-11h0m.4-46.4h0m.1 62.4h0m.1-55.4h0m0 41.4h0m0 2.7h0m.5-42.6h0m0 1.4h0m0 48.6h0m0-59.6h0m.1 3.4h0m.1 52h0m.1-4.3h0m.8 4h0m.2-42.3h0m.2-8.9h0m.1 3.7h0m.1 48.3h0m.2 7.1h0m.1-.9h0m0-1.5h0m.1-53.7h0m.1 47.9h0m.2-44.6h0m.1 45.1h0m.2-47.8h0m.4 1.7h0m0 50.4h0m.4-51.1h0m.4-.1h0m.1-1h0m.1 1.4h0m0 45.8h0m.2 4.2h0m0-4.2h0m0 .7h0m.4 .7h0m.1 1.6h0m.3-2.3h0m.1-49.9h0m0 2.1h0m.2 55.2h0m.1-6.3h0m.1 .1h0m.2-48h0m.4 .1h0m0 51.6h0m.1-52.9h0m.1-6.1h0m.3 55.3h0m.3-2.6h0m.2 7.7h0m.2-54.5h0m.2 48.9h0m.1 1.2h0m0-45.3h0m.6 46h0m.1-50.1h0m.1 50.2h0m0-57.1h0m0 4.6h0m.3 2.9h0m0-5.3h0m1 9h0m.2-2.3h0m.1 56.5h0m.1-5.6h0m.1-2.6h0m.1-57.7h0m.3 1.4h0m.2 57.4h0m.1-46.4h0m0 46.4h0m.3 2.4h0m.1-52h0m.1 46.1h0m.2 .6h0m.2 1.3h0m.3-43.3h0m0-4.5h0m.2-6h0m.1 49h0m.1 2.8h0m0-48.7h0m0 3.5h0m.2 46.5h0m.2-57.3h0m.2 56.2h0m.4-45.7h0m.5 41.8h0m.4-44.8h0m0 46.4h0m.1 11.9h0m0-59.8h0m0 47.5h0m.2-1.5h0m.2 13.5h0m.1-8.1h0m.5-49.6h0m0 50h0m.2-3.3h0m.3-44.9h0m.1 56.7h0m.1-12.4h0m.1-48.5h0m.1 49.8h0m0 1.3h0m.2-48.3h0m.1-2.1h0m.3-3.6h0m0 53.6h0m.3 3.2h0m.5-50.1h0m.1 46.2h0m0-44.2h0m.5 54.9h0m.2-59.5h0m.2 48.8h0m0 2.7h0m0 5.8h0m.1-62.4h0m0 58h0m.2-53.1h0m.1-3.9h0m.1 5.4h0m0-7.1h0m.2 56.2h0m0-48.5h0m.4-3.5h0m.4-1.1h0m.3 55.5h0m.1-.5h0m.1-1.7h0m.2-55.1h0m.4 60.3h0m.1-2.6h0m.2-58.4h0m.1 8.4h0m.1-2.1h0m.1 50.9h0m.3 6.9h0m.5-63.2h0m.4 59.3h0m.1-59.1h0m0 2.7h0m.1 56.3h0m.3-1.3h0m.2 2.3h0m.1-59.7h0m0 1.4h0m0 1.7h0m.1-1.1h0m.1 .3h0m0 57.9h0m0 1.4h0m.6-4.6h0m0 6h0m.1-5.3h0m.3 1h0m.1-61.6h0m.1 67h0m.1-61.8h0m.2 60.9h0m0-7.1h0m.2-53.4h0m0 1.7h0m0-7.5h0m.3 63.7h0m.3-57.3h0m.2 56.8h0m.1-61.1h0m.1 2.3h0m.2 2.9h0m.4-1.2h0m0 62.9h0m.1-62.4h0m.5-6.7h0m0 62.3h0m0-51.6h0m.5-4.5h0m.2 57h0m.1-60.9h0m.4 59.6h0m.1 4.6h0m0-2.5h0m.3-58.5h0m.2-7.4h0m0 65h0m.2-1.8h0m0-56.7h0m.2 57.1h0m0-2.4h0m.2 7h0m.2-61.8h0m.2 52.5h0m0-52.9h0m.1-.8h0m.2 58.2h0m.2-56.3h0m.3 64.6h0m.2-63.1h0m.1 64.1h0m0-11h0m.3-1.3h0m0 2h0m.1-65.2h0m.4 73.2h0m.2-60.4h0m.1 .4h0m.1 50.1h0m0 5.2h0m.3 2.1h0m.1 .2h0m.5-54.5h0m0 53.8h0m.4-57.7h0m.2-1.5h0m.1 1.8h0m.3-2.1h0m.1 54h0m.2 3.4h0m0-2h0m.1 1.6h0m.2-54.4h0m0-18.3h0m1 14.9h0m.5-.2h0m0-2.3h0m0 56.8h0m.2-61.5h0m.1 69.8h0m.2-63.8h0m0 3.7h0m.2 55.4h0m.1-66.4h0m.1 64.2h0m0-56.3h0m0 1h0m.1-9.7h0m.7 7.9h0m.1 54.3h0m.1-50.8h0m0 51.7h0m.2-52.5h0m.1 50.6h0m.1 13h0m0-78.3h0m0 8.9h0m.1 55.7h0m.5-47.8h0m0 52.5h0m.1-53.4h0m.2 3.8h0m.5 49.7h0m.2-5.6h0m.3-48h0m.1 55.5h0m.6-58.3h0m0-1.7h0m.2-.1h0m0 58.1h0m0-56.1h0m.1 59.5h0m.1-59.4h0m0 57.1h0m.1-61.4h0m0 63.4h0m0-6.8h0m.2 3.7h0m.2-3.6h0m0 .7h0m0-52.4h0m.2 56.7h0m0-5.7h0m.2 10.3h0m.2-60.4h0m.3 52.9h0m.1-58h0m.1 63.1h0m.1-56.5h0m0 51.8h0m.2 .8h0m0-50.7h0m0-7.2h0m0 6.8h0m.5-6.2h0m.1 1.5h0m0 51.3h0m.3 2.1h0m0 8.5h0m.3-60.1h0m.2 55.1h0m.1-51.4h0m.2-4.8h0m.2 56.9h0m.4-1.3h0m0-1.4h0m.3-55.1h0m0 58.3h0m.2-51.5h0m.2 48.9h0m.2-48h0m.1-3.3h0m.1 .5h0m.5 7.1h0m0 .2h0m.2 44.2h0m.1-2.2h0m.1-52.4h0m0 9.4h0m0-1.2h0m.4 2.5h0m.3 48.2h0m.1-2.5h0m.1-49.2h0m.1-9.9h0m.1 62.1h0m.4-1.1h0m.1-4.2h0m.2-45.6h0m.2-1.1h0m0 46.4h0m0-.5h0m.2-46.1h0m.3 0h0m.8-3.3h0m.2 2.9h0m0 41.8h0m.2 1.8h0m.1-45.9h0m.1 1.7h0m.1 43.7h0m0-46.2h0m.3 46.6h0m.2-42.1h0m.5 51.7h0m.3-3.3h0m0-48.3h0m.1 43.8h0m.3-46.6h0m.4 .8h0m.2-.7h0m.1 52.9h0m0-1.4h0m.3-4.3h0m.3 2.5h0m0-3.1h0m0-41.2h0m.2-1.2h0m.2 2h0m.2 41.4h0m.1-48.1h0m.1 5.2h0m.1 0h0m.1 39.9h0m.1-41.8h0m.4 39.7h0m.1-44.6h0m.2 1.7h0m.1 45.3h0m.1-2.3h0m.1-47h0m.1 3.6h0m.4 41.6h0m.1 9h0m0-49.4h0m.1-4.8h0m.2 48.6h0m.3-.8h0m.5 2.6h0m.1-1.9h0m0 .7h0m.2-46.2h0m.1 4.3h0m0 45.7h0m.1-47h0m.1-8.3h0m.5 54h0m.3-42.9h0m0-1h0m.1-8.1h0m.3 1.6h0m.2 53.6h0m.7-55.3h0m.2 53h0m.1 1.1h0m0-57.1h0m0 3.6h0m.3-7.2h0m.3 61.9h0m.2-1.1h0m.4-58h0m0 57.4h0m.3-58.2h0m0 58.9h0m.3-.1h0m.1 4h0m.1-5.1h0m.3-51.9h0m.2 56.7h0m.1-3.4h0m.2-61.7h0m.2-.1h0m.1 68.1h0m.1 .4h0m.3-67.8h0m.1 62.8h0m.2-62.6h0m.2 58h0m.3-61.1h0m.3-1h0m.6-22.2h0m0 7.6h0m.2 5.6h0m.3 73.7h0m0 2.9h0m0-68.2h0m.1 1.3h0m.2 0h0m.2 63.7h0m0-4h0m.2-59.1h0m.3 58.6h0m.5-62h0m.2 9.7h0m0 53.8h0m.2-4.8h0m0 5.1h0m.1 9.1h0m.2-9.5h0m.5-56.8h0m.1 2.6h0m.6 56.1h0m.1-.8h0m.1-57.6h0m.5-.4h0m.1 .1h0m.5-3.2h0m.3 63.8h0m.6 1.7h0m.2-2.6h0m.1-3.9h0m0 2.1h0m.1-49.6h0m.3 47h0m.1-49.1h0m0-9h0m.5 57.9h0m.2-57.8h0m.4 54.5h0m0-.8h0m.1-44.6h0m.1 43.7h0m0-47.1h0m.3-5.1h0m0 6.9h0m.3 54.3h0m.1-5.4h0m.1 6.1h0m.1-54h0m.1 47.8h0m0-47.4h0m0 44h0m.1 .3h0m0 10.5h0m0-9.8h0m.4 8.9h0m.2-53.9h0m0 46.6h0m.2-51h0m.2 54.2h0m.4-.4h0m.2-53.6h0m.1 54.3h0m0-1.5h0m.2 3.1h0m.2-4.2h0m.2-49.4h0m.1-.2h0m.2 59.8h0m.3-58.1h0m.1-3.2h0m.2 1.7h0m0 49.7h0m0 .8h0m.3 5.4h0m.1-5.8h0m.3 1.9h0m0 4h0m.3-55.6h0m0 55.2h0m.1-5.7h0m.1-48.3h0m.3 48.7h0m.3-55.2h0m.7 59.5h0m0-57.1h0m.4 4h0m.2 48.9h0m.5-49.5h0m0 51.2h0m.1-52.8h0m.1 57.5h0m.3-8.2h0m.2-47.5h0m.4 .7h0m.1 .7h0m.1 49.7h0m.2 4.3h0m.1-47.2h0m.2-10.4h0m1 61.3h0m0-7.4h0m.2-44.9h0m.5 49.4h0m.1 4.6h0m.5-49.7h0m.5-.5h0m.3 52.6h0m0-7.2h0m.2-45.2h0m.7 3.4h0m.2 44.4h0m.1-57.6h0m.5 14.6h0m.2-.4h0m.1 47.1h0m.2-49.6h0m.8 3.1h0m0 52.3h0m.1 5.3h0m0 2.9h0m.2-11.8h0m.5-52.1h0m.2 50h0m.6 1.7h0m.3-50.2h0m.8 49.2h0m.1-52.8h0m.4 60h0m.4-3.5h0m.4-66.3h0m.6-12.5h0m.3 5.8h0m.1 6h0m0-12.9h0m.5 9.8h0m.1 65.2h0m.1-3.3h0m.1-71h0m.4 6.4h0m.6-26.1h0m0 8h0m0 8.1h0m.3 12.8h0m.4 65.2h0m.2 2.1h0m.5-70.9h0m.2 69.8h0m.6 1.2h0m.1-75.2h0m.9 73.5h0m.4-72h0m.1-.7h0m.5 71.5h0m.5-67h0m.1 84.4h0m0-1.8h0m.4-74.2h0m0-3.4h0m.1 62.1h0m.3-.1h0m.6-63.7h0m0 63.2h0m.9-58.6h0m.2-7.4h0m.1 .5h0m.3 62.1h0m.2-58.9h0m.2 .3h0m.5 2.3h0m.1 60.4h0m.4-1.9h0m.6-57.8h0m.2 2.4h0m.2 76.4h0m.5-17.4h0m.1-.8h0m.2 7.8h0m.1 26.1h0m0 3.8h0m0 11h0m.3-51h0m.1-57h0m1 59.1h0m0-62.9h0m.6 68.4h0m.8-75.3h0m.1-.1h0m.8 77.4h0m.2-79.1h0m.5-.3h0m.4 77h0m0-72.5h0m.2 73.4h0m.1-1.7h0m.1-71.9h0m.6 69.2h0m.3 8.5h0m.1-77.1h0m.2 1.4h0m.7 2.1h0m.1-4.2h0m.2 73.1h0m.2 .4h0m.3 1.3h0m.1-88.1h0m0 5.7h0m.3 11.2h0m.2 2.3h0m.3 .5h0m.3 .8h0m0 67.8h0m.1-66.3h0m.8-2.1h0m0 65.4h0m.4 .7h0m.6-6.7h0m.2-55h0m.9 3.1h0m.1 0h0m.6 47h0m.3-2.3h0m.6-41.8h0m.2 40.7h0m.5 19.9h0m.1-61.4h0m.5 48.4h0m.1 17.5h0m.1-65.1h0m.3 3.8h0m.4 52.5h0m.2-4.1h0m0-49.8h0m.1 49.4h0m.7-43h0m.4-2.6h0m.3 49.4h0m.1-1.2h0m.5-.3h0m.2-41.9h0m.6 2.4h0m.1-1.5h0m0 39.9h0m.9-40.4h0m.7 43.8h0m.1 3.4h0m0-51.6h0m.1-6.4h0m.2 62.7h0m0-10.7h0m.2-40.1h0m.6 41.8h0m.2 1.7h0m0 3.7h0m0-55.7h0m.5-4.9h0m.2 6.5h0m.2 2.7h0m.3 41.7h0m.5 6.5h0m.1-48.3h0m.1-13.9h0m.8 56.2h0m.1-41.2h0m.2 66.4h0m.4-73.9h0m.1 49.9h0m.3-58.9h0m0 60.8h0m.1 5.5h0m.1-6h0m.1 15.4h0m.6-62.2h0m.1 42.9h0m.1-76h0m0 109.4h0m0 7.6h0m.4-80.4h0m.3 41.9h0m.3-62.2h0m.2 5.9h0m.2 54.6h0m.1-59.3h0m.2 20.5h0m.4 42h0m.2-41.7h0m.1 57.5h0m1-59.5h0m.1 44h0m.5 1h0m.6-42h0m.2-2h0m.1-.6h0m.3 46.6h0m.1-3.4h0m1.2 .6h0m.2-42.1h0m1 4h0m0 35h0m.1-2.4h0m.5-29.2h0m.7 30.2h0m.2 4h0m.3-32.3h0m.4 33.1h0m.5-39.4h0m.6 53.2h0m.2-14.9h0m0-48.3h0m0 8.7h0m.3-30.6h0m.4 29.5h0m.5 39.5h0m.2 13.4h0m.5-14h0m.4-34.1h0m.1-4.6h0m.3-18.5h0m.2 56.9h0m.1-35.9h0m.9-30.4h0m0 31.7h0m0-6.2h0m.2 40.8h0m.3-42.4h0m.5 41h0m0-30.2h0m.3-7.7h0m.8 8.7h0m.1-14.4h0m0 45.1h0m.1-28.9h0m.3 30h0m.1-1.4h0m.1-43.3h0m.2 11h0m.1 56h0m.1-60.8h0m.8-31.7h0m.2 34.4h0m.1 37.7h0m.9-42.9h0m.2-8.3h0m.1-1.8h0m.1 51.9h0m.1 2h0m.2-40.5h0m0 65.6h0m.1-28.8h0m.1 20.2h0m.5-82.8h0m.7 31.8h0m.1 33.1h0m0 4.5h0m.4 2.8h0m0-7.7h0m.2 28h0m.1-57.9h0m1 24.4h0m.1 1.6h0m.3 1.3h0m0-32h0m.3 25.9h0m.5 8.6h0m.2-35h0m.3-26.6h0m.1 94h0m0-69.8h0m.1 47.1h0m0-11.1h0m0-1.5h0m.1 22.7h0m.1 3.4h0m.2-33.9h0m0 46.9h0m0-38.6h0m.1 31.3h0m1.1-34.7h0m0-26.4h0m.1 37.6h0m.4 29.6h0m.4-38.8h0m.1-31.3h0m.7 35.5h0m.1-65.8h0m0 111.3h0m.2-80.8h0m0 50.8h0m.2-16.9h0m.2-30.2h0m.4 69.5h0m.6-2.2h0m.1-31.2h0m.1-35.4h0m0 30.1h0m.3 .7h0m.2-30.4h0m.1-8h0m.2 37.8h0m.4-3.7h0m.9 3.3h0m0-49.6h0m.3 14.1h0m.1 53.2h0m.1-52.2h0m.2 34.5h0m.2 28.3h0m.8-29.8h0m.3-31.6h0m0-1h0m.5 5.1h0m.1-4.5h0m0 48.5h0m0-17.1h0m.9 25.4h0m.2-1h0m0 25.2h0m0 3.8h0m.6-50.1h0m0-30.2h0m.3 32.2h0m.1 21.7h0m0-87.7h0m.1 12.4h0m.3 19.9h0m.2 31.3h0m.6-1.5h0m.2-30.8h0m.9 2.5h0m.3 25.9h0m.1 5h0m.1-31.7h0m1.1 32.8h0m.1-32.4h0m1.3 35.3h0m.2-37.5h0m.4 .4h0m.4-4h0m.3 43.2h0m.1-69.9h0m.5 70.8h0m.2-43.2h0m.6-2.2h0m.4 47.6h0m.2-74.3h0m0 72.2h0m.3-88.9h0m.2 44.5h0m.2 45.4h0m.4-66.7h0m.2 21.5h0m.1-5.8h0m.1-31.4h0m.2 41.6h0m.1-3.1h0m.1 47.8h0m.5 9.2h0m0-59.7h0m.3 9.1h0m.1-21.3h0m.1 59.8h0m.3-53h0m.1 16.8h0m.1 36.8h0m0-51.8h0m.1 10.5h0m.5 2.3h0m.1-31.4h0m.6 72h0m.1-50.1h0m.1 7.3h0m.3 43.2h0m.5-104.5h0m0 4.3h0m.3 56.8h0m.1-7.2h0m.5 51h0m.3-81.4h0m.3 30.4h0m.2 51.6h0m.7 3.5h0m.4-53.6h0m1.1 56.1h0m.2-49h0m.1 48.9h0m.3 .4h0m.2-69.6h0m.5 22.3h0m0 46h0m.1 2.5h0m.4-51.1h0m.1 49.1h0m.3 1.7h0m.7-.8h0m.1-51.4h0m.4 50.2h0m.1-2.2h0m.6 6.1h0m.1-6.7h0m.1-49.9h0m.5 57.7h0m.1 .1h0m.1-57.6h0m0 51.1h0m.9-49.4h0m.1 48.8h0m.2-2.5h0m.1-46.8h0m.3 49.2h0m.2-44.8h0m.9 46.9h0m.1-47.7h0m.1 46.9h0m.8-45.5h0m.2-3h0m0 47.7h0m.6-55.5h0m0 0h0m.4 50.3h0m.1-61.5h0m0 19.6h0m.1-23.2h0m.6 68.5h0m.3-49.3h0m.4 54.7h0m0 15.1h0m.1-83.7h0m.1 61.2h0m0-47.1h0m.3 45.3h0m0 26.2h0m.6-14.8h0m.1-65.1h0m.1 59.4h0m0-46.6h0m.1-13h0m.5 60.1h0m.1 2.9h0m.2 2.1h0m.1-84.2h0m.1 26.1h0m.1 50.7h0m.4 34.7h0m.2-103.1h0m.1 67.4h0m0-48.3h0m.2 56.5h0m.1 24.3h0m.5-27.7h0m.1 1.1h0m.1 9.2h0m0-59.6h0m.2 57.9h0m0-9.2h0m.6-3.7h0m.1-47.5h0m.1 4.7h0m.1-9.6h0m.1 73.9h0m0-19.6h0m0-77.4h0m.4 24.5h0m.1 7.1h0m.1 52.5h0m0-4.1h0m0-2.4h0m.1 36.4h0m.1-38.2h0m.1-5.7h0m.1-46.9h0m0 96.4h0m.1-88.3h0m.3-18.8h0m.2 18.1h0m0-31h0m0 86.4h0m.7 1.1h0m0-59.6h0m.1 46.3h0m.9-45.5h0m.2 44.5h0m0-57.5h0m.1 16.4h0m0 38.7h0m.2-43.5h0m.3 71.4h0m.2-63.4h0m0 42.4h0m0 39.5h0m.1-90.5h0m.4-12.1h0m.2 105.6h0m0-17.4h0m0-102.3h0m.1 107.5h0m0-113.1h0m.2 39.2h0m0 41.7h0m.1 14.6h0m0-65.8h0m0 2.2h0m.1 52h0m0-47.7h0m0 61h0m0 30.9h0m.1-34.6h0m0 32.7h0m.1-86.1h0m.3-6.7h0m.1 51.5h0m.2 9.3h0m0-54.5h0m.1-19.4h0m.2 76h0m.1-76.2h0m0 15.8h0m.1-11.2h0m.1 60.7h0m.3 5.1h0m.4 4.1h0m.4-51.2h0m.2-9.6h0m.2 46.8h0m.2 15h0m0-75.8h0m.3 17.4h0m.1-11h0m.3 72.5h0m.1-18.9h0m.1-35.3h0m0 68.9h0m0-99.5h0m.2 57.3h0m.4-30.3h0m.5 45.4h0m.2-9.6h0m0-50h0m0 11.5h0m.2 38.5h0m0-50.3h0m.1 51.9h0m0 6.9h0m.2-8.4h0m0 6.3h0m.3 4.1h0m.1-57.3h0m0-32.5h0m.1 82.5h0m.4 38.4h0m.1-16h0m.2-64h0m.1-12.4h0m.1 61h0m0-7.6h0m.1-65.6h0m0 13.9h0m0 63.2h0m.2-8h0m.1-79.4h0m0-8.1h0m.1 5.4h0m0 38.2h0m.2-31.8h0m.1-9.9h0m.1 42h0m.1-26.7h0m0 26.5h0m.3 45.6h0m0-68.7h0m.4 27.5h0m0 67.8h0m0-69.8h0m0-5.7h0m.1 40.8h0m.3-36.5h0m.1-9.1h0m0 2.1h0m.3 41.6h0m0-33.4h0m.7 49.7h0m.2-54.6h0m0-11.2h0m0 54.1h0m.1-63.9h0m0 23.2h0m.1-1.7h0m.4-8.3h0m.1-8.7h0m0-2.1h0m.1 11.8h0m.1 5.5h0m0 68.2h0m.1 13.2h0m.3-36.9h0m.1-39.4h0m.1 54.5h0m.1-10.6h0m.2 6.3h0m.1-58.7h0m.1-3.1h0m.2 57.7h0m0-2.5h0m.2-44.8h0m.2 54.1h0m0-62.7h0m0 73h0m.1-22.5h0m.1 25.1h0m.1-82.6h0m.1 82.2h0m.3-90.7h0m.2 22.6h0m.2 51.1h0m.3 27.3h0m.3-86.5h0m0 5.2h0m.1-15h0m.1 61.5h0m.1-83.7h0m.1 87.8h0m.1-5.7h0m0-74.8h0m0 91.2h0m.1-17.1h0m.1 15.5h0m.1-59.1h0m.2-27.1h0m.2 78.7h0m0 3.8h0m.1-.3h0m.1-76.6h0m0 20.7h0m0 42.4h0m0-68.4h0m.1 83.8h0m0-5.7h0m.1-75.7h0m.4 90.8h0m.6-3.5h0m0-59.4h0m.3-31h0m0 115.1h0m.2-13.3h0m.1-79.4h0m0 49.1h0m.1 43.1h0m.1-42.2h0m.3 4.4h0m.3-47.3h0m.2 56.4h0m.1-9.2h0m.1 23.6h0m0-74.6h0m0-26.9h0m.1 91.8h0m.1-61.2h0m.3 .4h0m0-20.3h0m.1 66.6h0m0-51.4h0m.1-16.3h0m.2 9.4h0m.2 71.8h0m.3-61.4h0m.1-3.7h0m.1 61h0m.2-8.5h0m.2-58h0m0 9h0m0 4.6h0m.3 44.3h0m.2 10.5h0m0-14.2h0m.1-58.7h0m.1 92.3h0m0-78.9h0m0 58.1h0m0 2.7h0m.1-9.7h0m.4 11.9h0m.1 4.6h0m0-124.2h0m0 126.1h0m0-69.2h0m0 68.6h0m0-5.1h0m0-17.2h0m.2-46.7h0m.1-7.1h0m.1 9.5h0m.1-8.8h0m.2 6.7h0m0 44.9h0m.1-59.8h0m.1 90.7h0m.3-120.9h0m0 2h0m.1 104.4h0m.1 2.8h0m.1-14.2h0m0 29.2h0m0 7.6h0m0-21.8h0m.3-92.8h0m.1 74.9h0m.1-73.8h0m0 4h0m.1-10.7h0m0 86.6h0m0-50.5h0m.2 54.3h0m.1-12.2h0m.1-43.2h0m0 1.8h0m0 1.6h0m.2-41.9h0m.2 96.4h0m0-64.5h0m0-21.2h0m.1 84.1h0m.2-74.1h0m0 88.7h0m0-128.8h0m.3 12.3h0m0 89.7h0m0-47.5h0m.1 51.7h0m0-70.9h0m.1 71.8h0m0 47.2h0m.1-29.9h0m0-16.4h0m0-105.6h0m.1 105.9h0m.2 21.8h0m0-25.4h0m.2-98.5h0m0 106.9h0m.1-4.6h0m.2-49.3h0m.1 53.8h0m.1-98.2h0m.1 139.5h0m0-49.6h0m.1 27.7h0m0-126.1h0m.1 36.7h0m0-46h0m.4 115.4h0m0-60.8h0m.1-41.1h0m.1 93.6h0m0-48.1h0m.2 57h0m.1 2.7h0m.2-66.7h0m.1-2.9h0m.2 5.6h0m0 104.6h0m.2-16.8h0m0-136.4h0m0 42h0m.1 .3h0m0 88.3h0m0-107.6h0m.1 89.9h0m0-63.9h0m0-31.4h0m.1 119.2h0m0-98.6h0m.1 6.6h0m.1-38.1h0m.1 40h0m0 81.1h0m.1-2.7h0m.1-68h0m0 42.5h0m.1-.5h0m0 1h0m0 .2h0m.1-57.6h0m.2 86.5h0m.1-27.9h0m0 55.2h0m0-44.9h0m.3-54.9h0m.1-5.7h0m.1-11h0m0 61.2h0m0 4.5h0m.1 21.7h0m.1 1.8h0m.1-96.1h0m0 23.2h0m.2 72.6h0m0-75.7h0m0 48.8h0m.2 5.5h0m.7-73.5h0m0 98.3h0m.1-106.5h0m0 87.7h0m0-1.8h0m.1-77.4h0m0 0h0m0-12.7h0m0 16.7h0m.1 2.3h0m.1 57.8h0m0-44.8h0m.1 59h0m0-7.5h0m.1-98.6h0m0 32.7h0m.1 15h0m.1 45.9h0m.5 59.2h0m.1-98.8h0m0 59.9h0m.1-20.1h0m.1 40h0m.2 11.1h0m.1-139.6h0m.3 87.1h0m0-71.4h0m.1 32.3h0m.1-2.4h0m0 48.9h0m.3-78.3h0m.1-14.1h0m0 86h0m.2-2.1h0m.1 23.5h0m0-111.6h0m.3 45.5h0m0 78.6h0m.1-31.2h0m.2-36.2h0m0-61.3h0m0 101.1h0m0-1.5h0m.2-2h0m0-2.4h0m.1 15.2h0m.1-106h0m0 49.3h0m.1 39.2h0m0-78.2h0m.1 30.3h0m0-64.1h0m.1 43.4h0m0 116.6h0m0-111.3h0m0 18.3h0m.1-28.1h0m0 96.4h0m0-116.7h0m0-9.3h0m.1 134.4h0m0-72.3h0m.1 48.8h0m.1-57h0m0 74.7h0m0-119.5h0m.1 128.6h0m0-22.9h0m.1-93.8h0m.1 83.4h0m.1 32.4h0m.1-77.5h0m.1 53.9h0m0-53.6h0m.2 111.5h0m.1-54.9h0m0 40.4h0m.1-145.4h0m.1 46.9h0m.1-27h0m.2 20h0m.1 6.7h0m.3 43.7h0m.1 23.7h0m.1-15h0m.1-2.2h0m.1-51h0m.1 5.4h0m0-5.5h0m0 53.5h0m0 2.1h0m.1-52.2h0m.1 66.2h0m0-25.5h0m.2-81.3h0m0 35h0m.1 46.6h0m.2 3.5h0m.1 13.6h0m.1-84.2h0m0 74.7h0m.1-43.6h0m.4-3.5h0m.1 41.1h0m.1 42.9h0m.1-42.2h0m0-52h0m.2 61.1h0m.1-49.4h0m0-7h0m0-19.5h0m.7 12.6h0m.1 71.5h0m.1-94.7h0m.3 76.1h0m0-42h0m0-7.4h0m.1-1.8h0m0 7.4h0m.2 85.3h0m.4-33.6h0m0-6.9h0m0-53.7h0m.1-49.1h0m.1 142.2h0m.1-100.1h0m0 79h0m0-5.6h0m.1-123.1h0m.1 50h0m0-22.5h0m0 34.3h0m.1 6.7h0m0 93.3h0m0-39.3h0m0-53.4h0m.3-2.5h0m0 67.2h0m0-63.8h0m.2 50.3h0m0 104.1h0m0 34.8h0m0 56.6h0m0 13h0m.3-268.4h0m0 51.9h0m.2-82h0m.1 94.3h0m.1-5.8h0m.1 38.2h0m.1-20.1h0m0-91.5h0m0 68.5h0m.1 27.5h0m.2-87.2h0m0 1h0m0 14.4h0m.1 40.8h0m.1 26.5h0m.2-107h0m.2 37.2h0m.1 42.5h0m0-1.2h0m.3 41.5h0m.3-99.7h0m.2 21.1h0m.1 93.5h0m.1-35.1h0m.2-70.1h0m.2-30.7h0m.1 90.8h0m.2-12.8h0m.1 6.2h0m0-81.3h0m.1 110.7h0m0 .1h0m.1-96.1h0m0-42.5h0m.1 31.3h0m.2 32.6h0m0 48.1h0m.2 3.8h0m0-5.9h0m.1-60.7h0m.1 73.4h0m0 11.8h0m.1-103.9h0m0-2.3h0m.2 23h0m.3 56.7h0m.1-48.5h0m.1-19.2h0m0 26.6h0m.2 41.5h0m.1-43h0m.2-21.2h0m0 66.7h0m.1-46.3h0m.3-49.3h0m.1 20.7h0m0 98.6h0m0-66.1h0m0-66.8h0m0 59h0m.1 50.4h0m0-65.8h0m0 85.3h0m0-6.4h0m0-87.1h0m.1 97h0m0-107.8h0m0 39.4h0m0-71h0m.1 31h0m0-2.3h0m.1 121.4h0m.1-35.1h0m.1-85.1h0m.1 27.2h0m.3 96.7h0m0-76.7h0m.1-68.5h0m0 57.2h0m0 49.3h0m.2-79.9h0m0 39.4h0m0 45.3h0m.1-117.7h0m0 40.9h0m0-.1h0m0-31.3h0m0 12.4h0m.1-6.5h0m0 43.4h0m.1 11.3h0m0-29.9h0m0 12h0m.1 58.2h0m0-40h0m.2-28.5h0m.2 10.3h0m.1-32.2h0m0 41.2h0m.1 49.3h0m0-42h0m.1 57.5h0m.5-16.5h0m.1-84.6h0m.1 43.8h0m0 4.6h0m.3-97.3h0m0 82.3h0m0 48.3h0m.2-40.3h0m0 87.6h0m.1-5.5h0m.3-103h0m.1 99.6h0m.1-21.8h0m.2-68.1h0m0-2.4h0m.1 127.2h0m0-70.9h0m.2-148.1h0m.1 106.4h0m0-45.1h0m0-23.2h0m.2 64h0m0-68.9h0m.1 125.1h0m0-1.6h0m.1 47.3h0m.1-48.1h0m0-52.9h0m0 82.9h0m0-26.6h0m0 4.1h0m.1-6h0m0-79.1h0m.3 118.3h0m0-105.7h0m0 110.3h0m0-139.5h0m0 122.3h0m.1-104.7h0m.2 70.1h0m.1-73.9h0m0-4.2h0m.1-4.7h0m0 100.6h0m0-70.2h0m.5 12.7h0m.3 41.9h0m.1-86.1h0m.4 16h0m0 70h0m.1-98h0m.2 48.7h0m0 81.3h0m.2-178h0m.1 101.2h0m.2-41h0m.3 138.4h0m.1-116.6h0m0-99h0m0 2.7h0m0 107.8h0m.1-27.3h0m0 79.5h0m.1-47.5h0m.1 45.9h0m0-102.4h0m0-8.4h0m0 123.6h0m.1-83h0m0 81.4h0m.1-10.4h0m0-67.7h0m0-40.7h0m.1 43.7h0m0-69.7h0m0-19.9h0m0 44.3h0m0 12.9h0m.1-35.9h0m0-20h0m.2 153.1h0m.1 5h0m.3-51.5h0m.1-30h0m0 23.8h0m0-65h0m0 18h0m.1 111.4h0m0-121h0m.1 125.8h0m0-143h0m0 123.2h0m0-114.3h0m0 57.4h0m.2-26h0m0 25.4h0m0 9.9h0m0 56.4h0m.3 22.1h0m0-153.7h0m0 48.6h0m.1 28.4h0m0 53.6h0m0-55.2h0m0-48.8h0m0 102h0m.2-70.5h0m.1 21.8h0m0 1.8h0m0 41.1h0m.1-59.6h0m0 99h0m.3-111.2h0m0 32.5h0m.1 51.1h0m0-13.6h0m.1 6.8h0m0 21.8h0m.1-69.4h0m.1 48.9h0m.1 2.9h0m.3-3.8h0m.1 14.9h0m.1-59.7h0m.2 56.1h0m0-143.4h0m.1 135.9h0m0 8.8h0m.2-21.7h0m.1 66.4h0m.3-105.7h0m0 85.5h0m.1-45h0m0 16.3h0m0 25.8h0m.1-157.1h0m.1 147.2h0m0 34.6h0m.4-147h0m0-9.6h0m.4 26.4h0m.1 9.8h0m.1 58.8h0m0-.7h0m.1-70h0m.1 91.3h0m0 16.3h0m0-82.4h0m0 82.3h0m.1-99.7h0m.2-7.6h0m0 69.7h0m.1 40.2h0m0-39.9h0m0 24.3h0m.1-107.2h0m0-19.4h0m.1 1.9h0m.2 102.3h0m.1 6.3h0m.1-54.6h0m.1 4.1h0m.4 1.8h0m.4 39.3h0m.1 34.3h0m0-32.9h0m.1-57.3h0m.1 14.2h0m.2 106.5h0m.3-39.6h0m0 9.6h0m.2-34.5h0m0-62.4h0m.1-16.8h0m.1 135.2h0m0-108.8h0m0-62.5h0m0 19.5h0m.1-16.4h0m0 71.6h0m0 52.8h0m0-53.3h0m.2-56h0m0-5.6h0m0 .5h0m.1-2.9h0m0 146.5h0m0-89.8h0m0-9.7h0m0-4.1h0m.1-51.3h0m0 46.2h0m0 5.8h0m0-10.1h0m0 85.3h0m.1-103.1h0m0 6.2h0m.1 5.2h0m0 79.3h0m.1 51.8h0m.2-103h0m0 78.1h0m0-89.9h0m.1 70.6h0m.3-9.8h0m.1-43.6h0m.2 168.5h0m0-232.4h0m.1 66.8h0m.1-11.4h0m.1 101.4h0m.5-90.2h0m0-21h0m0 20.7h0m.2-28.6h0m.1 71.1h0m0-69.4h0m.2 19.7h0m.1-2.9h0m.1 10.6h0m0 70.2h0m0-73.2h0m.1 62.4h0m0 49.9h0m.1-45.1h0m0 51.1h0m0-57.2h0m.1-85.3h0m.1 65.9h0m0 54.7h0m.1-19.3h0m0 26.9h0m0-101.1h0m.3 59.5h0m0 4.3h0m0-97.9h0m0 3.2h0m0 76.5h0m.1-68.4h0m.2-38.3h0m.2 132.2h0m0-101h0m.1 22.6h0m.1 66.9h0m.1-13.5h0m0 26.6h0m0-72.1h0m0 44.3h0m0-70.5h0m.1 80.4h0m0-106.4h0m.1 112h0m.1 13.8h0m.1-28h0m0 1.2h0m.1 4.1h0m.2-56.2h0m0 111.7h0m.3-57.2h0m.1-53.1h0m0 90h0m0 4.5h0m0-6.9h0m.2 5.7h0m0-114h0m.1 93.1h0m.2-.5h0m.1 24.2h0m.1 12.6h0m.1-59h0m0-44.3h0m.1-3.2h0m.1 58.9h0m0 8.4h0m.2-72.8h0m.1-25.8h0m0 135h0m.2-143.4h0m0 116h0m.1-74.1h0m.1-45.9h0m.1 140.8h0m.2-111.7h0m.1 60.6h0m.2 11.4h0m.1-1.3h0m.2 10.4h0m.1-9.2h0m.1 38.3h0m0-112.5h0m0-36h0m.1 181.7h0m0-86.2h0m.1-102.8h0m.1 111.2h0m0-83h0m0 30.1h0m.3-2.4h0m0 69.2h0m0-2.8h0m.2-111.3h0m0 6.5h0m0 92.5h0m.1 29.7h0m0-108.2h0m.1 20.6h0m.1 127.5h0m.1-145.4h0m0 82.1h0m.1 4.7h0m0-15.7h0m0 22.2h0m0 32.4h0m.1-131.1h0m.1 7h0m.1-24.1h0m0 9.8h0m.1 4.9h0m0 136.2h0m.4 22.4h0m.1-133.7h0m.1 57.1h0m0-81.2h0m0 33h0m0 58.8h0m0 2.1h0m0-101.4h0m.1 101.1h0m0-13.6h0m.1-40.3h0m0-9h0m.1 52.4h0m0 34.2h0m.2-31.8h0m.1 11.6h0m.1 23.1h0m.2-109.2h0m.3-7.3h0m0 87.3h0m0-.7h0m0-7.7h0m.2-43.6h0m0 134.9h0m.1-135.3h0m.2 97.9h0m.2-110.9h0m.3 146.4h0m0-163.3h0m.2 165.9h0m.1-92.7h0m0-96.4h0m.2 181.6h0m.2-157.3h0m.1 28.6h0m.1 103.5h0m.3-106.7h0m.2 133.8h0m0-12.5h0m.2-25.1h0m.1 3h0m0-123.9h0m.1 71.9h0m.1-56.5h0m.1 2.8h0m.1 138.5h0m.1-170h0m0-18.3h0m.2 50.9h0m0-51.7h0m.1 171.1h0m0 7h0m0-74.1h0m.1 24.6h0m0-76.6h0m.1 63.3h0m0-9.9h0m0 12.1h0m.1 19.1h0m0 17h0m0-32.3h0m0 55h0m.1-44.8h0m.1 58h0m0-181.3h0m.1 104.2h0m0-61.2h0m0 60.1h0m.1 4.2h0m.1 45.6h0m0-51h0m0-116.7h0m.1 149.5h0m.1-99.8h0m.1 68.7h0m0 19.7h0m0-15.5h0m0 30.4h0m.1-149.9h0m0 54.2h0m0 66h0m.1-12.6h0m.1-54.5h0m0 73.2h0m.1-75.7h0m0-56.7h0m.2 59.7h0m0-1.7h0m0 58.8h0m.2-59h0m.1 115.6h0m.4-60.5h0m.2-61.1h0m.2-23.8h0m.4 143.9h0m0-124.5h0m0 63.2h0m0 41.3h0m.1-134.9h0m0 43.1h0m.1 63.1h0m.1-135.9h0m0 67.4h0m.1 64.7h0m.2 23.1h0m0-28.3h0m.2-58.8h0m.2-4h0m0-50.9h0m0 110.9h0m.4-59.2h0m.1 94.5h0m.1-94.4h0m.1 61.6h0m.1-57.2h0m.1-36.5h0m.1 .5h0m.3 36h0m0 56.9h0m.1 54h0m.1-42.9h0m.3 10.7h0m.2-117.7h0m.1 1.5h0m.3 40.1h0m0-10.3h0m.1 100.1h0m0-108.8h0m.1-24.3h0m0 108.2h0m.2-92.2h0m0 145.6h0m.1-161.5h0m0 20h0m0 78.5h0m.1-82.4h0m0 35.3h0m.1-46.4h0m0 33.2h0m.1 5.7h0m0 81.6h0m.1-88h0m.1 104.7h0m0-21.1h0m.1-81.5h0m.1 79.9h0m0-92.4h0m0-24.7h0m0 159.4h0m0-4h0m.1-58.3h0m0-69.9h0m0 107.8h0m.1 .4h0m0-38.2h0m.1 37.9h0m0-14.9h0m.1-13.6h0m0-73.3h0m0 88.3h0m.1-93.7h0m0-39.4h0m0 58.9h0m.2 51.7h0m.1-68.2h0m0 65.3h0m.2-103.4h0m.3 11.8h0m0 24.3h0m.2-1.1h0m0 14.6h0m0 55.7h0m0-56.8h0m0 2h0m0 3.6h0m.1 90.9h0m.1-152.2h0m.2 54.6h0m0-32.3h0m.1 22.6h0m.1-1.6h0m.1 10.4h0m0 61.4h0m.2-5.4h0m0-50.5h0m.4-14.3h0m.1-21.6h0m.2 16.5h0m.1 72.7h0m0 3.3h0m0-61.1h0m.1 64.6h0m0-84h0m0 118.5h0m.1-123.1h0m.1 82h0m0-3.2h0m.1-80.3h0m0 120.4h0m0-36.9h0m.1-77h0m0-3.4h0m.1 17.5h0m0 3.4h0m.1 58.4h0m0 16.1h0m.1 3.7h0m.1 11.6h0m0-33.7h0m.2-59h0m.1 3.7h0m.1-8.8h0m.1 95.8h0m.3-115.3h0m.2 87h0m.2-62.1h0m.1 83.5h0m0-2.7h0m0-105.9h0m.3 86.1h0m.1 33.7h0m.3-25.9h0m.2-82.1h0m.2 88.2h0m0-71.6h0m.1-.4h0m.1 91h0m.1-89h0m.1 88.4h0m0-115.8h0m.1 123.6h0m.1-29.4h0m.1 12.7h0m0-23h0m0 14.8h0m.2-95.2h0m.2 26.1h0m.1 52.3h0m.1-98h0m0 29.4h0m.2 84.5h0m0-1.5h0m.3-12.2h0m.1-71.4h0m0 16.2h0m0 96h0m.2-95.8h0m.1 59.8h0m.1 8.1h0m.2-17.5h0m0-102.1h0m.2 48.8h0m.5-5.1h0m.2 91.4h0m0-106.5h0m0-1.5h0m0 91.4h0m.2-18.7h0m0-63.7h0m.1 78.4h0m.2 7.9h0m.2-73.9h0m.3 71.2h0m.1-69.8h0m.4-13.8h0m.1 65.2h0m0 23h0m.1-18h0m.2 17.4h0m.5-20.2h0m0 2.8h0m0 33.4h0m.1-17.9h0m.1-71h0m.1 78h0m.1-23.1h0m.2 7.2h0m.2-85.2h0m0 87.8h0m.2-65.1h0m.1 63h0m.1-111.8h0m.1 44.4h0m0 100.5h0m.2-31.7h0m0 0h0m.1-76h0m.5 65.8h0m.1 20.3h0m.2-91.8h0m0-5.4h0m0 77.6h0m.1 7.2h0m.1-1.8h0m.1-7.6h0m.2 26.1h0m.1-15.2h0m.2-5.4h0m0-60.8h0m.2 .8h0m.1-1.6h0m.5 60h0m0-5.5h0m.3-56.8h0m0-34.1h0m0 37.9h0m.2-15.3h0m.1 13.9h0m.4 .7h0m0-.5h0m.1 55.9h0m0 12.8h0m.1-98.9h0m0 4.2h0m.1 85h0m.3 20.8h0m0-90.6h0m0 103.5h0m0-30.1h0m.1-61.7h0m0 56.9h0m.2-59.7h0m0-8.6h0m.2 73.4h0m0 4.8h0m.1-72.4h0m0-5.1h0m.1-15.4h0m0 107.8h0m.1 14.9h0m0 36.1h0m.2-138.5h0m.1 60.7h0m0 6.3h0m.1-63.7h0m.2 58.2h0m.3-91.5h0m.1 34.1h0m0-3.2h0m.1-6h0m0-8.6h0m0 99.7h0m.2-135.7h0m.1 2h0m0 137.8h0m.1-111.6h0m0-24.4h0m0 103.6h0m.1 37.1h0m0 .5h0m0-144.7h0m.1 141.8h0m0-108.3h0m0 76.4h0m.2 34.4h0m0 31.8h0m.1-50.4h0m0 5.3h0m0 3.7h0m0-92.5h0m.1 12.5h0m.4 58.8h0m.1-3.3h0m.2 14.4h0m0-.8h0m.1 53.6h0m.2-8h0m.1-58.5h0m.2 84.2h0m.1-141.2h0m.3-17.8h0m.2 142.5h0m0-165.2h0m.1 102.5h0m0-1.1h0m0-116.7h0m.1 192.4h0m0 2.7h0m.1-77h0m.1-83.4h0m0 25.8h0m0 76.7h0m.1 61.8h0m.1-5.3h0m0-194.9h0m.1 150.3h0m0-122.3h0m.2-6.8h0m.1 23.2h0m.1-35.5h0m0 15.1h0m0 109h0m0-107.7h0m.1 20.1h0m.1 77.1h0m0-6.4h0m0 34.1h0m0 54.1h0m0-74.1h0m.1-67.3h0m0-23.9h0m0 4.3h0m0 74.1h0m.1 8.6h0m.1 69.2h0m.1-23.6h0m0-38h0m.1 83.5h0m0-31h0m.2-12.7h0m0 5.1h0m0-65.4h0m.1 78.7h0m0-.6h0m.1-61.9h0m0 47.3h0m0-4h0m0 98.3h0m0 15.3h0m0-104.1h0m.1 15h0m.1-134.7h0m.1 76.1h0m.1-103.3h0m0 27h0m.2 101.1h0m.1-28h0m0-105.3h0m0 82h0m0-49.1h0m.1 48.2h0m0 29h0m.1-10.1h0m0 79.9h0m.1-164.2h0m0 98.8h0m.1-24.4h0m.1-80h0m.1 87.5h0m0-2.3h0m.1 8.8h0m.1-77.7h0m0-39.4h0m0 149.9h0m.1-3.7h0m0-164.2h0m0 141.7h0m.1-2.7h0m0-80.2h0m.1-26.4h0m0-34.4h0m.1 130.7h0m0-17h0m0 6.6h0m0-82.1h0m.1 5.7h0m0-25.3h0m.1 24.2h0m.3-46h0m.4 22.8h0m0 36.7h0m0 112.9h0m.1-137.3h0m0 27.9h0m.1-5.2h0m.1-27.5h0m.2 111.4h0m.2-82.1h0m.1 80.1h0m0-19.4h0m.3-101.8h0m.1 122.9h0m0 3h0m.1 61.8h0m0-147.1h0m0-27.3h0m.1 28.1h0m.1-31.5h0m.1 27.8h0m0 66.9h0m.2 74.6h0m.2-67.4h0m.1-96.9h0m.2 29h0m0 93.5h0m0-26.2h0m0-3.6h0m.2-128.9h0m0 145.3h0m.3-3.1h0m0-78.2h0m0 111.1h0m.1-20.3h0m.1 4.5h0m0-20.1h0m.1-8.1h0m.2 9.2h0m.3 11.7h0m.2-81.7h0m0-24h0m.1-12.4h0m.1 94.1h0m.1-56.8h0m.2 82.3h0m.2-14.5h0m0-77.4h0m.2-28.6h0m.1 3.4h0m.1 24.2h0m0 133.9h0m0-130.5h0m0-24.8h0m.1 32.8h0m.1-3.8h0m.4-9.3h0m.1-16.6h0m.1 21h0m0 70.9h0m.2-10.8h0m0 2.5h0m0 35.3h0m.2-115.8h0m0 23.9h0m.1 80.9h0m0 3.4h0m.1-1.1h0m0 2.4h0m.1 .2h0m0-14.8h0m.1-16h0m.3-65h0m.1-7.7h0m.1 1.5h0m.2 12.6h0m.1 78.3h0m0-13.3h0m.1 8.5h0m0-77h0m.1 66.6h0m0 13h0m.1-96h0m0 2h0m0 9.9h0m.1 70.2h0m.2 18.4h0m.1-5.4h0m0-90h0m.1 88h0m.2-2.9h0m0 40.2h0m.1-31h0m0-8.1h0m.1-71.8h0m.1 74h0m0 2.5h0m0-135.6h0m.1 123.5h0m0-79.9h0m.1-19.9h0m.1-16.5h0m0 163.4h0m0-112.2h0m.1 99.4h0m0-21h0m.1-9.6h0m.1-71.3h0m0 68.2h0m.3-136.1h0m.1 146h0m.5-81.3h0m0 87.5h0m.1 32.4h0m.1-48.2h0m.2 47.7h0m0-177.6h0m.3 27.5h0m0 104.3h0m0 31.9h0m.1-9.7h0m0 22.6h0m0-47.2h0m.1 1.4h0m.5-69.3h0m.1-4.3h0m0-6.7h0m.1-2.2h0m.2 9.9h0m.1-56.6h0m.1 158.7h0m.4 12.6h0m0-2.9h0m0-13.6h0m.1-27.3h0m0-72.4h0m.1 139.6h0m0-166.8h0m0 13.3h0m0 84.3h0m.1 5.9h0m0 33.5h0m.1-109.9h0m0 128.3h0m0 17.2h0m.1-60.2h0m0-5.4h0m.2 47.5h0m.2-32.2h0m.1-109.9h0m0-44.3h0m0 35.6h0m.1 25h0m0 107.1h0m0-116.6h0m.1 80.4h0m.1 26.1h0m0-100.8h0m0 6h0m0 67.4h0m0-112.6h0m.2 17.4h0m.1 98h0m.1 3.7h0m0-9.2h0m.1 .2h0m0-70.3h0m.4-16.7h0m.3 94.9h0m.1-4.3h0m0 42.1h0m0-153.1h0m.1-12.7h0m0 51h0m.1 96.4h0m.1-92.3h0m.2 88.2h0m.2-97.5h0m.1 72.5h0m0 12.2h0m.1-119.4h0m.1 114.1h0m0 6.4h0m.1 13.4h0m.1-116.3h0m.1 110.7h0m.2 12.1h0m0-102.2h0m.1 83.9h0m.1-111.2h0m0 18.3h0m0-58.9h0m.1 142.1h0m.1 1.8h0m0-69.8h0m.2 164.7h0m.2-169.3h0m0-33.9h0m.1 33.6h0m0-9.7h0m0 4.3h0m.1-31.3h0m0 21h0m.2 90.4h0m.4 .8h0m.1-78.5h0m.1-50.1h0m0 128.3h0m0 15.7h0m.2-162.1h0m0 235.1h0m0-165.9h0m0 77.9h0m.1 54h0m0-154.5h0m.1 11.3h0m.1 84h0m.1 94h0m0 7.6h0m0 58.7h0m0-247.6h0m.1 131.1h0m.2-39.1h0m0-77.7h0m0 94.1h0m.1 38.6h0m0-19.8h0m0-6.8h0m0 29.8h0m.1-45.9h0m0-105h0m0 90.6h0m.1-76.5h0m0 78.1h0m.1-79.2h0m0 133.1h0m.1-187.2h0m0 154h0m.2-14.1h0m.2-12.1h0m0 29h0m.4-97.8h0m.1-14.4h0m.2-9.3h0m.1 166.7h0m0-174h0m.1 15.7h0m.1 88h0m0-119.2h0m.1 9.2h0m0 25.3h0m.1 156.7h0m0-32h0m0-140.6h0m0 19.6h0m.1-5.5h0m.1-4.5h0m.1 17.6h0m.1 128.6h0m.1-127.3h0m.1-59.3h0m0 145.2h0m.2 38.7h0m0 29h0m.2-41.9h0m0-10.5h0m0-121h0m.2 17.2h0m.1-40.2h0m.1 13.8h0m0 97.8h0m.1-177.1h0m0 181.3h0m0 32.5h0m.4 40.5h0m.3-191.5h0m0 155h0m0 3.5h0m.1-157.3h0m.1 40.3h0m.4-2.4h0m0 112.6h0m.1-17.4h0m0 2.5h0m.1 26.7h0m.1-36.1h0m.1-13h0m.1 19h0m.1 33.2h0m.2-49.5h0m0 11.7h0m.2 2.9h0m0 .8h0m0-94.4h0m.2 80.3h0m.1-118.4h0m.1 38.9h0m.1-27.2h0m.1 122.4h0m0-95.7h0m.3-40.1h0m.1 3.9h0m0 149.9h0m.2-14h0m0-99.3h0m0 82.4h0m0 23.4h0m.5-157.6h0m.1 30.1h0m.1 128.7h0m.1-137.5h0m.1 159.7h0m.1-45h0m.1 5h0m0-200.9h0m0 21.1h0m0 187.6h0m.1 15.6h0m.1-25.2h0m0-85.7h0m0 125h0m.1-11.1h0m0-134.6h0m.1 123h0m.1-127.1h0m0 7.4h0m0 17h0m0 109.2h0m.1-25h0m.2 13h0m0-126.6h0m.2 22.5h0m.5 106.4h0m.4 7.3h0m0-3.9h0m.1-102.7h0m0 92h0m.1 4.8h0m.1-99.7h0m.1 88.2h0m0 29.7h0m0 17.7h0m.1-204.3h0m.1 161.4h0m.3-111.9h0m.1-46.1h0m0 151.6h0m0-.2h0m.1-91.4h0m.1-50.4h0m0 139.8h0m.1-.6h0m0-119.3h0m.1 27.6h0m.1 9.4h0m0 82.6h0m.1-114.1h0m.4 159.8h0m0-35.6h0m.1-121.2h0m0 141.8h0m0-10h0m.1-103.5h0m0 100.6h0m.2 38.7h0m.1-140.4h0m.1 97.8h0m.1-12.4h0m.6 36.4h0m0-168.2h0m0 3.8h0m.1 133.6h0m.2-88.9h0m.1 3.9h0m.2 80.9h0m.1 9.8h0m0-4.5h0m0-152.2h0m.1 65h0m.2 83h0m0 4.1h0m.6 34.4h0m.2-186.3h0m.1 150.3h0m.1 40.7h0m0-129.4h0m.2 118.5h0m0 37.9h0m0-14.4h0m.1-20.4h0m.1 25.1h0m0-53.3h0m0 24.7h0m.1-14.1h0m.1-128.1h0m0 185.3h0m0 3.2h0m0 43.6h0m0-213.3h0m.1-36.3h0m.1-7.3h0m0 211.5h0m.1-36.6h0m0-9.2h0m.1 27.7h0m0-150h0m0-52.2h0m0 161.5h0m.1-12.1h0m0 40.2h0m0-131.1h0m.1 152h0m.1-203.6h0m.1 172.4h0m.1 7.7h0m.1-176.2h0m0 10.9h0m.1 173.5h0m.2-166h0m0 122.2h0m.2-95.6h0m0-9.4h0m.2 100.7h0m0-129.5h0m.3 193.7h0m.3-62.7h0m.1-92.8h0m0-.5h0m0 104.3h0m0-112.6h0m.1-17.9h0m0 138.4h0m.2-140.1h0m.2 21.7h0m0 2.7h0m.2 153h0m.1-151.5h0m0 99.2h0m0 30.7h0m0-136.9h0m.2 101.8h0m0-98.1h0m0-6.4h0m.1-7.2h0m.1 117.7h0m0-151.7h0m.1 49.1h0m0-28.3h0m.4 175.6h0m0 4.1h0m.3-33.7h0m0-22.9h0m.1 8.7h0m0-148.7h0m.1 191.6h0m.4-45.5h0m0-1.9h0m.1-107.8h0m.1 119h0m.1-116.3h0m.1 99h0m0 66.1h0m.1-65h0m0-94.8h0m0 117h0m.1-13.6h0m.1 6.6h0m0 1.8h0m.1-112.1h0m.1 94.7h0m.1-89.5h0m0 89.6h0m.6 1.9h0m.2 21.5h0m.1 11.6h0m.2-124.9h0m.1-43.4h0m.2 29.9h0m.3 140.8h0m0-171.3h0m0 185.6h0m0-158.4h0m.1 16.3h0m.1 93.7h0m0-120.7h0m0 26.1h0m.1 1.4h0m0-23.7h0m0 6h0m.1 124.5h0m.1-11.8h0m.4 19.8h0m0-12.6h0m.1-107.7h0m.1-2.7h0m0 103.3h0m0-129.2h0m.4 131.4h0m.1-2.3h0m.2-97.6h0m.1 148.4h0m.2-177.2h0m0-18.5h0m.1 27.8h0m0 129.7h0m.2-165.3h0m.2 50.8h0m0 108.3h0m.1-10.9h0m0-104.7h0m.1 4.2h0m.2 115.2h0m0 2.3h0m.2-141.3h0m0 150.5h0m.1-125.1h0m0 138.7h0m.1 3.9h0m.2-142.8h0m.2 101.9h0m.1 8h0m0 29h0m.1-11.3h0m.1-137.6h0m.1 132h0m0-20.9h0m.1-134.3h0m0 153.6h0m0-154.6h0m.1 35.4h0m.2 139.4h0m.1-178.5h0m0 175.7h0m.2-131.9h0m.1 100.5h0m0 17.1h0m0-8.2h0m.1-11.9h0m.1-106.7h0m.1 160.8h0m.1-182.6h0m0-2.7h0m.1 30.1h0m0-20.5h0m.1 16.1h0m.1 108.8h0m.1 .7h0m0 20.4h0m.1-122.5h0m.1-20.6h0m0-9.2h0m.1 151h0m0-120.7h0m.2 94.7h0m.2 26.6h0m0-2.8h0m.1-20.2h0m.2 13.1h0m.1-2.2h0m.1-15.2h0m.1 55.1h0m0-38.6h0m.1 23.6h0m.1-4.2h0m0-146.7h0m.1 131h0m.1-14.3h0m0 82.8h0m0 8.7h0m0-55.9h0m.1-41.1h0m.1-94.7h0m0-1.9h0m0-10.3h0m.3 143.1h0m.1-143.7h0m0 169.3h0m0-168.6h0m0 109.1h0m.1 42h0m0-139.5h0m.1-54.8h0m.2 164h0m.1-124.4h0m.1-8.8h0m.1 124h0m0-120.5h0m.3 115.1h0m0 65.6h0m.4-184.9h0m.2 26.6h0m.1 103.4h0m0-130h0m0-10.1h0m.1 160.1h0m0 22.9h0m.1-53.3h0m.1 24.6h0m0-23.4h0m.1-98.2h0m0 134.9h0m0-130.8h0m.1 100.9h0m.4-99.4h0m.2 1.7h0m.5-4h0m.1 89.5h0m.2 64h0m.1-178.9h0m.1 244.7h0m0-223.1h0m.1-27.6h0m0-22.4h0m.3 42.6h0m0-50.7h0m0 42.1h0m.1 6h0m.1 104.6h0m0-128.3h0m.1 134.2h0m.1-147.5h0m.4 43.8h0m.1 103h0m.1 25.8h0m0 8.5h0m0-139.3h0m.1 112.8h0m.3-122.8h0m.1 122h0m0-117.1h0m.1 115.3h0m.1-109.1h0m.2 122.6h0m.1-138h0m.1 5.5h0m.2-4.5h0m0 172.3h0m.2-53.5h0m.1 3.3h0m.1 38.9h0m.2-147.6h0m.1 114.7h0m0-4.7h0m.3 48.4h0m.1-203.2h0m.3 166.8h0m0-117.7h0m.1-40.4h0m0 141.6h0m.2 16.8h0m.1-138h0m.3 125.2h0m0 43.8h0m.1-.1h0m.2-198.3h0m.2 22.2h0m0 158.5h0m0-22h0m.3 10.7h0m0-180.5h0m.1 60.2h0m0 153.6h0m.1-155.4h0m0-20.4h0m.1-.5h0m0 3.1h0m0 11.5h0m0 123.6h0m.1 53h0m0-27.3h0m.1-175.7h0m0-30.9h0m.1 43.7h0m.1 169h0m.1-147.6h0m0 110.8h0m0 36.5h0m0-22.1h0m0 16.3h0m.1-178.8h0m0-13h0m.1 193.4h0m0-181.8h0m0 175.8h0m0-133.4h0m0 156.8h0m0-45.5h0m.1-135.7h0m0-13h0m.1-17h0m0 13.7h0m.1 7h0m.1-33.7h0m.1 204.7h0m.2-27.2h0m.1 45h0m0-243.3h0m.1 82.5h0m.3 130.6h0m0-13.7h0m0 35.1h0m.4-40.3h0m0-109h0m.1 146.1h0m.3-35.5h0m.1 32.6h0m0-207.5h0m.1 175.7h0m.1-2.5h0m0-163.3h0m.2 56h0m.2 145.5h0m.3-166.6h0m0 .6h0m.1 12.9h0m.2 113.9h0m0 21.8h0m0-2.6h0m.1-140.5h0m.1-5.8h0m0 125.3h0m0 4h0m0-3.8h0m.1-128.4h0m0-4.7h0m.1 169.7h0m.2-164.5h0m.1 16.7h0m.1 122.2h0m0-168.8h0m.3 39.5h0m0 122.6h0m.1-119.2h0m0-9.3h0m.3 127.6h0m.2 22.4h0m.3-156h0m.1-9.6h0m.1 24.3h0m0 123.8h0m0-3.8h0m.1 .5h0m0 2.7h0m0 4.5h0m.1 3.9h0m.6-.7h0m.3-123.7h0m0-26.4h0m.1-18.2h0m.2 164.5h0m.2-10h0m.1-111.7h0m.2 110h0m0 11.7h0m.1-173h0m.1 51.8h0m.1-57h0m.1 174h0m.6 3.1h0m.1-135.6h0m.2-48.7h0m.1 37.6h0m.1 24.1h0m0 135.6h0m0-17.5h0m.1-9.3h0m.1-147.5h0m0 181.4h0m0-.6h0m.2-32.1h0m.1-120.7h0m0 148h0m.1-140.3h0m0-34.8h0m.1 18.9h0m.1-2.2h0m.2 128.4h0m.2 28.6h0m.3 19.7h0m.1-155.4h0m0 163.1h0m.2-52.6h0m0-117.9h0m0-3.6h0m.2 152.2h0m.1-25.3h0m.2-122.5h0m.1 126.8h0m0 25.8h0m.1-169.7h0m.1 138.2h0m.1 13.5h0m.1-17.1h0m.1 20.5h0m0 50.7h0m0-209.7h0m.1 141.9h0m0-163.8h0m.4 49h0m.5-7.1h0m0-9.4h0m0 127.9h0m.1-114.6h0m0 138.8h0m.1 40h0m.1-50.8h0m0-146.3h0m.1 154.3h0m.1-153.3h0m0 19.4h0m0 176.6h0m.1-174.4h0m.3 130.1h0m.1-2.6h0m.1-133.2h0m.1 117.7h0m.1 64.2h0m.1-45.4h0m.1-17.1h0m.1-.6h0m.1 46.1h0m0-203.2h0m0 35.8h0m.1 4.1h0m.2-27.7h0m.1 12.2h0m.1-21.1h0m0 203.7h0m0-193.9h0m.1-.8h0m0-2.9h0m0 20.3h0m.2 160h0m0-33h0m.2-134.8h0m0 169.2h0m.1 20.1h0m.1-18.3h0m.1-16.7h0m0-148.4h0m.1-26.1h0m.1 157.8h0m0-117.6h0m.1 174.7h0m.1-24.8h0m0-166.2h0m0 234.1h0m.1-28.9h0m0-30.3h0m0 25.8h0m.3-16.1h0m0-11.9h0m.2-10.1h0m0 3.5h0m.2 11.4h0m.2-28h0m.1-18.1h0m0-116.7h0m.3 161h0m.2-162.3h0m.2 130.8h0m.1-128.8h0m0-12.1h0m.1 151.1h0m0-24.4h0m.2 38.1h0m0-155.9h0m.1 123.9h0m0-162.3h0m.2 161h0m0 17.3h0m0 38.6h0m.1-42.2h0m.1-5.9h0m0-6.9h0m.1 31.4h0m.1-153.6h0m0 169.3h0m.1-41.6h0m.1-4.6h0m0-164h0m.1 160.2h0m0 10h0m.2 30.6h0m0-186.5h0m0-16.9h0m.3 167.7h0m.2-240.8h0m0 91h0m.2 29.9h0m.1-46.3h0m.3-3.2h0m0 219.4h0m.3-170.8h0m.1-31h0m.2 33.5h0m0 113.7h0m.2 6.3h0m0-120.6h0m.1 2.1h0m0 116.1h0m.2 7h0m.1-218.7h0m.2 91.1h0m0-36h0m0 155.6h0m.1-147.5h0m0 161.9h0m.2-5.7h0m.1-130.7h0m.2 158.6h0m0-24.7h0m.1-127.9h0m0 127h0m.1 5h0m.1-186h0m0 176.9h0m0 16h0m.1-178.7h0m.1-23.8h0m.1 181.5h0m.1-120h0m0-41.2h0m.1 27.3h0m0-50.8h0m.1 61.1h0m0-14h0m0 135.6h0m.1 28.4h0m0-23.8h0m.1 47.7h0m.2-176.7h0m0-8.4h0m0-21.5h0m.2 24.7h0m.1 13.6h0m.1 121.4h0m.1-164.5h0m.1 185h0m.1 1.5h0m0-168.5h0m.1 145.1h0m.3-121.2h0m0 134.1h0m0 15.2h0m.1-204.1h0m0 192.7h0m.3-155.6h0m0-16.9h0m.3 25.1h0m0 130.5h0m0-133.8h0m0 .3h0m.1 175.6h0m.1-179.7h0m0 164.8h0m.1 32.4h0m.1-183.8h0m0-37.7h0m0 27.5h0m.2-54.3h0m.1 7.4h0m.1 195.9h0m0-136.1h0m0-20.8h0m.1 1.4h0m0 142.2h0m.1-187.4h0m0 44.8h0m0 15.9h0m.3-2.3h0m.1 .7h0m0 132.7h0m.1 .1h0m.2-130.1h0m.1 3h0m0-65.1h0m.1 205.2h0m.2-21.2h0m.2-129.3h0m.3 167.5h0m.1-174.8h0m.1 186.5h0m0-163.1h0m0 110.6h0m0-161.6h0m.1 38.6h0m.1-57.7h0m.1 215.9h0m0 49.7h0m.3-259.4h0m.2 212.2h0m.1-189.9h0m.1-3.7h0m0 39.5h0m.1-26.2h0m0 143.9h0m0-135.9h0m.1 137.4h0m0-156.8h0m0 182h0m.2-169.5h0m.1-25.5h0m.2 36.1h0m0 138.1h0m.1-172.7h0m0 316.1h0m0 4.3h0m.1-152h0m.1 4.7h0m0 31.8h0m.1-160.5h0m.1-2.6h0m0 5.4h0m.1-44.7h0m0 40.8h0m0 185.6h0m.1-224.8h0m.1 28.8h0m.3 1.9h0m.1 1.7h0m.1-8.5h0m.2 139.5h0m.1 13.4h0m0 48.5h0m.1-180.5h0m.1 155.6h0m.1-191.6h0m.1 183.3h0m0-30.3h0m.1 51.5h0m0-38.2h0m.2-184.9h0m0 240.5h0m.1-39.1h0m0-150h0m.1 151.3h0m0-165.6h0m0 170.3h0m.2-218.9h0m0 183.4h0m.1 63.1h0m0-229.4h0m.1 200.3h0m.2 40.5h0m0-241.6h0m.3 269.1h0m0 10.9h0m0-252.8h0m.1 193.3h0m0-17.2h0m.1-38.2h0m0-111.9h0m.7 110.9h0m0 4.5h0m.1-119.8h0m.1 125h0m.1 55.8h0m.2-238.1h0m.2 171.9h0m.1-118.6h0m.1-24.5h0m0 16.2h0m.1 147.3h0m.1-19.6h0m0-213.6h0m0 23.9h0m.1 199.1h0m.1-145.8h0m.1-46.2h0m0 186.2h0m.3-1.7h0m.1-117.5h0m.1 113.5h0m.2 57.1h0m.1-21.6h0m0 26h0m.1-193.4h0m0 149.4h0m.1-136.7h0m.1-4.7h0m0-53.8h0m0 67.3h0m.1 113.8h0m.1-146h0m.1 183.6h0m0-3.8h0m.1 1.9h0m0-203.2h0m.2 210.6h0m0-38h0m0 6h0m.2 42.5h0m0-170.5h0m0 121.4h0m0 35.9h0m0-27.8h0m.1 40.3h0m0-173.9h0m0-19.8h0m.2 143.1h0m0 23.6h0m0-169.8h0m0 191.3h0m.1-175.9h0m0 10.4h0m.1 151h0m.1-153h0m0 142h0m0 51.2h0m0-195.8h0m.1-14.8h0m.1 159.4h0m0-138.2h0m.3 142.3h0m0 17h0m0-167.6h0m.1 128.6h0m.1-122.5h0m.2-.2h0m0 1.7h0m.2 165.5h0m.1-169.9h0m.1-21.3h0m.1-.8h0m.1 208.5h0m.1-31.2h0m0 11.8h0m.1-225.4h0m0 238.2h0m.1-38.4h0m0-164.4h0m0 155.9h0m.1-131.1h0m.1 127.5h0m.1 19.4h0m.2-13.7h0m.2-148.7h0m.1 17.7h0m0 153.5h0m.3-2.8h0m.1 16.8h0m.4-30.9h0m0-7.1h0m0-143.6h0m.2-15.3h0m.1 162h0m0-140.1h0m0 133.2h0m.1-123.8h0m0 143.7h0m0-11.1h0m.1-10.5h0m0-117.2h0m.1 119.5h0m0 9.5h0m.1-131.5h0m0 144.9h0m0-159.6h0m.1 196.3h0m0-33.7h0m.1 12.1h0m0-21h0m.1 8.6h0m.1 10h0m0-157.3h0m.1-3h0m.1-21.6h0m.2 10.8h0m.1-33.7h0m0 170.2h0m.1-141.5h0m0 156.9h0m.1-171.4h0m0 210.7h0m0-207.9h0m0 205.2h0m0-218.4h0m.1-33.3h0m.1 16.6h0m0 25.5h0m.1 37.4h0m0 157h0m0-236.6h0m0 35h0m.1 170.9h0m0 26.6h0m0-194.5h0m0 223.2h0m0-194.8h0m.1-17.2h0m0 152.1h0m0-128.8h0m.1-33.9h0m0-1.1h0m0 19h0m.1-10.7h0m0 23.6h0m.1-38h0m.2 170h0m0 45.2h0m0-204.1h0m0 10.5h0m0 204.8h0m.1-240.3h0m0 181h0m.3 14.6h0m.1-176.5h0m0 25.5h0m0-.8h0m0-48.1h0m0 24.3h0m0-6.8h0m.2 40.1h0m0-57h0m.1 7.4h0m.3 174.3h0m0 61.7h0m.1-212.3h0m0 23h0m.1 149.6h0m.4-214.9h0m.4 54.4h0m.1-52.7h0m.1 15.5h0m0 174.6h0m.1 46.6h0m0-34.7h0m0-170.1h0m0 23.6h0m.2 145.8h0m0-134.9h0m.1 147.4h0m.2-204.7h0m0 6.4h0m0 27h0m.2 151.1h0m.1-142.5h0m0 170h0m.2-25.4h0m.1-145.5h0m0 20.6h0m0-6.2h0m0-32.4h0m.1 17.8h0m.1 137h0m.1 74.2h0m0-218.8h0m.1 175.9h0m.1-1.2h0m0 3.7h0m0-181.3h0m0 15.8h0m0 12.4h0m.2 176.8h0m0-19.9h0m.1-33.6h0m0-3.7h0m0 75.5h0m0-37.5h0m0 2.3h0m.1 35.3h0m.2-75.2h0m.1 2.8h0m0-131.3h0m.2-5.3h0m.1 133.1h0m.3-139.7h0m.1 210.7h0m.2-192.2h0m0 119.9h0m.1 26.7h0m.1-5.1h0m.1-2.7h0m0-19.5h0m.1 7.3h0m.2-135.2h0m.1 169.9h0m.1-34.3h0m.1-128.7h0m.2-1.1h0m.1 3h0m.1-20.1h0m.4 148.8h0m0 34.1h0m.2-198.6h0m0 158.7h0m.2 67.7h0m.1-225.8h0m.1 158.7h0m0-132.1h0m.1 12.1h0m0-16.4h0m0 144.3h0m0-128.4h0m.1-37.5h0m0 28.4h0m.4 128.1h0m0 67.6h0m0-67.2h0m.1 1.7h0m.3 .4h0m.2 55.8h0m.1-173.4h0m0-26.8h0m.1-20.8h0m0 247.3h0m.4-203.8h0m0 3.4h0m.1-30.1h0m.1 189.3h0m.3-162.8h0m0-7.9h0m0 175.1h0m0-197.4h0m0-44.8h0m.2 78.8h0m0-14.1h0m.1 152.8h0m.1-3.9h0m0-131.8h0m0 116.5h0m.1 86.4h0m0-69.2h0m.1-134.4h0m.1 127.3h0m.1-136.7h0m0 180.5h0m.1-238.3h0m0 210.8h0m0 2.6h0m.1-23.3h0m.1 6.5h0m.1-11h0m0 15.3h0m0 8.3h0m0 12.7h0m.1-23.4h0m0-136.7h0m0 205.3h0m0-211.5h0m.1 157h0m0 54.3h0m.1-280.7h0m0 284.4h0m0-221.8h0m0 139.2h0m0 1.6h0m.1 22h0m0-18.8h0m.1-151.3h0m0 216.7h0m0-71.1h0m.1 10.3h0m0-155.9h0m0 149.6h0m0-152.9h0m.1 145.7h0m0-116.8h0m.1-42.3h0m.1 164.8h0m.2-8.7h0m0-137.3h0m0 134.9h0m0-182.2h0m.1 250h0m.3-59.8h0m.2-183.3h0m.1 23.5h0m0 37.9h0m0 187.1h0m0-72.4h0m.1-126.3h0m0-36.5h0m0-1h0m0 173.5h0m0-194.8h0m.1 61.7h0m.1 2.8h0m0 190.2h0m.1-49.5h0m.1-149.7h0m0 203.1h0m0-28.3h0m.1-39.8h0m0-120.8h0m0 180.3h0m.2-63.2h0m0 66h0m0-20.4h0m0-166.8h0m0 155.5h0m.1 4h0m.3 34.4h0m0-56.5h0m.2-199.5h0m.1 64h0m.3 8.1h0m.2 147.3h0m.2-216.5h0m0 180.9h0m.1-167h0m0 223.5h0m0 6.7h0m.2-58.4h0m0 1.6h0m.1-117.9h0m0-.3h0m.1-19.8h0m.1 16.8h0m0 119.2h0m0 3.7h0m.1 49.6h0m0-52.7h0m.3-119.4h0m0 111.9h0m0 16.5h0m0 32.7h0m0-169.5h0m.1 157.2h0m.1-9.4h0m0-134.5h0m0-3.6h0m0 110.2h0m.1 2.2h0m.1-178.1h0m.3 181.7h0m.1-1.8h0m.1-4.9h0m.1-3.6h0m0-101h0m.1 171.6h0m.2-172.1h0m0 147.3h0m0-43.7h0m0-1.9h0m.1-104.1h0m.1 106.1h0m0-1.8h0m0 34h0m.1-178.2h0m0 12.3h0m.1 147.3h0m.3 12.4h0m.2-30.2h0m.1-109.3h0m.1 158.7h0m0-48h0m.3-104.5h0m0 111.4h0m0 37.9h0m.2-204.3h0m.1 165.5h0m.1-150.1h0m0 149.8h0m.1 46.5h0m.4-33h0m.3-127.8h0m0-22.7h0m.1 135.3h0m.2 4.2h0m0-131.7h0m0-16.7h0m0 187.6h0m0-30.5h0m.1-126.4h0m.1 114h0m0-150.5h0m0 152.5h0m0-152.8h0m.1 155.4h0m.2 16.3h0m.1-5.6h0m0-161.4h0m.1 2.5h0m0 26h0m0 128h0m.2-147.4h0m0-7.4h0m.2-24.2h0m.1 58.2h0m.1 152.6h0m0-182.6h0m.1 159.2h0m0-16.2h0m.1 31.5h0m.3-30.8h0m.1 58.8h0m0-52.4h0m.1-160.7h0m.1 15.5h0m.1 177.1h0m.1-10.6h0m.1 2h0m0-138.8h0m.1 116.3h0m0-10.1h0m.1 12.6h0m.1-167.2h0m.1 167.8h0m.1-150.7h0m0 179.3h0m.1-178.2h0m0 35.2h0m.1-15.3h0m0 4.6h0m0 131h0m.1 34.5h0m0-168.5h0m.2-31.2h0m.1 23.5h0m.1 166.6h0m.1-172.7h0m.1 129.7h0m0 9.5h0m0-130.9h0m.1 22h0m0-4.7h0m0-34.5h0m.1 28.1h0m0 120.9h0m.1-111.8h0m.2 110.9h0m.2 3.3h0m.1 33.2h0m.1-187.3h0m.1 138.8h0m.3 27.1h0m.2 3.7h0m.1-156.4h0m0 13.6h0m0 10.9h0m.1-7.4h0m.2 107.4h0m.3 26.7h0m.2-154.9h0m.1 22.2h0m0-.5h0m.1-27.6h0m.3 167.9h0m.1-207.9h0m0 172.4h0m.2-133h0m.1-37.4h0m0 170.3h0m.1-113h0m0 117.9h0m.1-167.8h0m.1 230.4h0m0-68.3h0m0-1.8h0m0 7.8h0m.3 5.5h0m.3-116.4h0m0 1.2h0m0 164.7h0m0-180.8h0m.1 11.7h0m0 152h0m.2-40h0m.1-106.5h0m.1 3.2h0m0-53.1h0m0 173.4h0m.1 18.2h0m0-162.7h0m.1 124.3h0m.1-105.5h0m.1-11.8h0m0 10.4h0m.1-28.6h0m0 172.1h0m.1-169h0m0 135.5h0m0-106.6h0m.1-21h0m0-10.3h0m0 30.6h0m.1 178.9h0m0-51.5h0m.1-162.9h0m.1 31.9h0m.1 119.7h0m.1 27.6h0m.2-147h0m.2 120.9h0m.5-112.2h0m0 140.1h0m0-38h0m.2 21.7h0m.1-125.7h0m0-58.7h0m.1 166.6h0m0-120.8h0m0 10.1h0m0 112h0m0-145.7h0m.1 32.3h0m0 112h0m.1-110.2h0m0 119.8h0m.1-14.5h0m.2 66.6h0m.4-45.4h0m0-125.8h0m.2 120.3h0m0 1h0m0 21.3h0m.2-175.3h0m.1 164h0m.1-133.2h0m0-9.8h0m.1 115.5h0m.1 21.2h0m.1-26.8h0m0 24.4h0m.1-132h0m.1-2.4h0m.2-27.9h0m0 156.3h0m.1-19h0m.1 60h0m0-29.7h0m0-186.1h0m.2 19.4h0m.1 33.4h0m.2-.2h0m.2-22.4h0m.2 188.1h0m.1-56.1h0m.1-125.4h0m0 124.9h0m0-144.9h0m.1-24.7h0m.2 62.3h0m.1-10.7h0m.1 117h0m.2 49.1h0m0-156.1h0m0 116.3h0m0-134.4h0m.1-1.6h0m.1 169.1h0m0-39.9h0m.1 69h0m.1-46.7h0m0-11.5h0m.1-12.3h0m.1-156.7h0m0 157.6h0m0 57.8h0m0-20.9h0m.1-208.7h0m.2 59.7h0m.1-1.9h0m.1 146h0m.2-19.2h0m0-2.5h0m.2-129h0m0 115.8h0m.1-101.2h0m0-10.7h0m0 139.3h0m.1-18.6h0m0-141.6h0m.1-27h0m0 166.1h0m.2-152.3h0m0 148.9h0m.1 5.2h0m.2 43.3h0m0-175.3h0m.1-39.1h0m0 26.8h0m.1 39.7h0m0 100.1h0m.1 1.2h0m.1 25.8h0m0-33h0m.3-93.6h0m.1-3.1h0m.1-32h0m.1-15.1h0m0 35h0m0 108.5h0m.2 7h0m0-99.5h0m0 118.3h0m.1-153.9h0m.2-34.6h0m.1 177.4h0m.2-114.9h0m0-23.7h0m.1-32.2h0m0 172.3h0m.1-135.4h0m0 182.3h0m0-60.5h0m0 2.6h0m0-150.8h0m0 40.5h0m0 128.8h0m0-159.5h0m.1 146.9h0m0-120.4h0m.1 148.7h0m0-131.9h0m0 163.1h0m.1-69.4h0m.3-131.5h0m0 141.1h0m.1-98.7h0m0-13.2h0m.2 7.2h0m.2 4.6h0m0 89.6h0m0-92.4h0m.1-3.9h0m.1-70.9h0m.1 38.7h0m.1 19.3h0m.1 13.2h0m0 160.2h0m.1-218.7h0m0 46.5h0m.2 107.4h0m.1-106.2h0m.1 108.7h0m0-95.7h0m.1-15.3h0m0-50.4h0m.1 20.4h0m.1 188.6h0m0-16.6h0m0-29.3h0m.1 18.9h0m0-114.6h0m0-50.4h0m.2 37.7h0m0 126.9h0m0-130.2h0m.1 136.2h0m0-141.8h0m0 25.4h0m.1-38.8h0m0 15h0m0 169.4h0m.1-13.5h0m0-158.2h0m0 148.4h0m.1-10.9h0m.1-177.9h0m0 212.4h0m.1-57.2h0m.3 16.3h0m0 34.6h0m0-42.5h0m.2-5.9h0m0 12h0m.1-113.2h0m0-10.6h0m.1 18.8h0m.1 127.8h0m.1-36.6h0m.4-126.8h0m.1 137.8h0m0 39h0m0-170.1h0m.1 122h0m0-112.6h0m.1 16h0m.1-27.9h0m.2-9.7h0m0 26.6h0m0 160.3h0m0-154.5h0m0 140.2h0m.1 7.4h0m0-174.6h0m.1 177h0m0-184.6h0m.1 41.7h0m0 1.3h0m.1-44.4h0m0 34.3h0m0 122h0m.1-125.8h0m0 153h0m0-150.2h0m.1 10.7h0m0-13.5h0m0 136.8h0m0-167.5h0m.1 199.5h0m0-55.6h0m0 24.6h0m.1-3.3h0m0 15.4h0m.1-11h0m0 52h0m0 17.3h0m0-96.3h0m0 9.7h0m.1-120.7h0m0 111h0m.2-110.1h0m0 9.3h0m.1 106.3h0m0-4.8h0m0-117.5h0m0 110.9h0m.1 6.2h0m.1 4.8h0m0 48.3h0m0-24.5h0m0-32.9h0m0-136.5h0m.1 191h0m.2-199.8h0m0 35.2h0m.1-.8h0m.2 11.2h0m0 103.4h0m.1-106.4h0m.2 102.6h0m0 64.5h0m0-20.7h0m.1-148.9h0m0 105.3h0m.1-151.3h0m.1 49.4h0m0 1.2h0m.1-55.6h0m0 48h0m.1-15.8h0m0 164.9h0m.1-180.4h0m0 7.9h0m0 193.5h0m0-162.9h0m0-15.3h0m.1 14.5h0m0-41.9h0m.1 37h0m0 108.2h0m0-183.8h0m.1 53.2h0m0-16.1h0m.1 150.5h0m0-140.8h0m0 10h0m0 1h0m.2-2.8h0m0 27h0m0 110.9h0m.1-189.5h0m0 172.9h0m0 3.9h0m0-120h0m0-39.2h0m.1-62.2h0m0 106.4h0m.1-26.1h0m.1 43.3h0m0-7.4h0m.1-8.5h0m.1 116.4h0m0-133.8h0m.1-33.7h0m0 57.8h0m.1-52.3h0m.1 63.6h0m0 2h0m0 .4h0m0-33.2h0m.1 3.3h0m0-10.5h0m0-14.5h0m.1-33.7h0m.2 57.4h0m0-23.5h0m.1 31.7h0m0 123h0m0-183.9h0m.1 46h0m0 138.4h0m.1-13h0m.2 8.7h0m0-138.8h0m.1 6.9h0m0 158.9h0m.1-36h0m0-98.2h0m.1-36.9h0m.1 45.9h0m.3-12.1h0m0 15.2h0m.2-21h0m.1 146h0m.2-26.8h0m0-9.8h0m.2-111.9h0m.1 160h0m.1-31.3h0m0-23h0m.1-80.8h0m0-82.3h0m.1 187.6h0m.1-146.4h0m.2 142.2h0m.2 34.9h0m.3-134.7h0m.2-29.7h0m.1 114.5h0m.1-88.2h0m0-25.2h0m0 143.5h0m.1-110.8h0m.2 79.6h0m.1-93.8h0m0 140.3h0m0-141h0m.1 105.1h0m.1 9.4h0m.1-136.6h0m.2-11.7h0m.1 130.4h0m.1 3.8h0m.2-2.3h0m.1 3.2h0m0-85.2h0m0-14.9h0m.1 103.2h0m.3 20.7h0m0-145.6h0m0 117.7h0m.1-94.1h0m.1 100.6h0m0-107.5h0m0 135.1h0m.1-116.2h0m.1 100.6h0m0-1.7h0m.1 34.7h0m0-52.2h0m.1-101.5h0m0 2.7h0m0 97.4h0m.1-81.5h0m.1-36h0m.4 129.2h0m.1-95.4h0m.1 105.2h0m.1-115.7h0m.1-63.2h0m.1 168h0m.1-14.8h0m0-92.6h0m.2-48.8h0m.1 38.1h0m0 133.7h0m.2-30.3h0m.2-150.2h0m.2 155.1h0m.1 29.5h0m.1-138.6h0m0 20h0m.1 3.4h0m0 121.4h0m.1-125.6h0m.2 0h0m0-16.6h0m.1 15.7h0m.1-20.7h0m.1 99.9h0m.2 5.8h0m0-2.1h0m.1 33h0m0-144.7h0m.1 32.9h0m.3 90.3h0m.3-10.4h0m.1-95.3h0m0-18.9h0m.1 33.4h0m0 103.6h0m.1-112.7h0m.1 109.2h0m.2-122.1h0m0 116.5h0m0-93.7h0m0 2h0m0 91h0m.1-118h0m0-17.2h0m.2 4.6h0m0 116h0m.1 14.7h0m.1-97.3h0m.3 111.3h0m.1-219.1h0m0 97.5h0m.1 111.7h0m.2-93h0m.1-3.2h0m0-69.9h0m.2 70.1h0m0 115.5h0m.1-127.2h0m.1-4.8h0m0 13.7h0m.1 140.8h0m0-185.3h0m.1 130.5h0m0 45.9h0m0-134.2h0m0 6.8h0m0-13.5h0m.1-5.5h0m0 98.8h0m.1-79.2h0m0-8.2h0m0-54h0m.1 24.5h0m0 2.8h0m0-17.6h0m.1 135.8h0m0 21.9h0m.1-123.7h0m.1 100h0m0 38.2h0m.1-38.2h0m0-127h0m.1 19.4h0m0 24.5h0m.3-10h0m0 10.3h0m0-2.6h0m.1-21.5h0m0 21.9h0m.1-1.9h0m0 85h0m.1-83.6h0m.1 90.2h0m0 22.4h0m.1-110.7h0m0 105.6h0m.1-1.8h0m.1-22.8h0m0-82.8h0m.1-18.7h0m.1 102.5h0m.4 18.5h0m0-1.8h0m.4-105.3h0m0 88.6h0m0-90.9h0m.1 104.4h0m0-3.6h0m0-5h0m.1-6.1h0m0-82.4h0m0 89.8h0m.1-90.4h0m0 4.6h0m.1 80h0m0 8h0m.1 31.7h0m.1-45.1h0m0 54.1h0m.1-19.5h0m.2-159.6h0m.1 140.1h0m0 11.5h0m.1-98.3h0m.1 118.5h0m0-20.9h0m0-117h0m.1 145.4h0m0 12.7h0m.1-64.8h0m.1 27.8h0m0-18.6h0m0-4.7h0m0 4.6h0m.1-82.3h0m.1 147.8h0m0-182.2h0m0 165.9h0m0-161.8h0m.1 122.2h0m0 13.5h0m0 2.1h0m.1-174.3h0m0 4.9h0m0 22.2h0m.3 113.4h0m0-150.4h0m0 67.7h0m0 92.2h0m0 4.3h0m0 39.4h0m.1-144.9h0m.2 148.6h0m.1-182h0m0 200.1h0m.1-20.1h0m0-169.9h0m0 113.1h0m0 75h0m0 2h0m0-186.7h0m.1 139.4h0m0-98h0m.1 131.6h0m.1-50.9h0m.1 4.2h0m0-14.9h0m.2 22.6h0m0-20.3h0m.2-3.3h0m.1-136.5h0m0 60.9h0m.2-18.5h0m0 19h0m.1-75.9h0m.1 194.1h0m0-14.2h0m0-16.6h0m.1 26.9h0m.3-36.8h0m0-87.3h0m.1 6.3h0m.1 119.8h0m.2-39.6h0m0 11.6h0m0-101.6h0m.1 139.1h0m0-150.2h0m.1 26.4h0m.1-9h0m.1-7.2h0m.3 4.9h0m0 84.5h0m.2 23h0m0-25.6h0m.1-121h0m.1-2.5h0m0 142.2h0m0 50.7h0m.1-145h0m.2 152.5h0m0-26.1h0m.1-123.6h0m.1-22h0m.1-32.6h0m.1 132.3h0m.1-80.1h0m0-66.1h0m.1 58.1h0m.2 99h0m0 14.5h0m.2 43.3h0m0-50.9h0m0 8.3h0m.1-123.1h0m.2 6.2h0m0 9h0m.1 88.8h0m0-129.6h0m.2 153.6h0m.1-30.3h0m.1 12.2h0m.1-86.6h0m.2-2.4h0m.1-68.8h0m.1 162.8h0m.1 65.5h0m.2-203.1h0m.1 120h0m.1 16h0m.2-11h0m.1 71.6h0m.2-38.7h0m.2-113.9h0m0 103.8h0m0-10.2h0m.1-111.4h0m.2 83.8h0m0-62.4h0m.1-23.2h0m.2 5.7h0m0-22.7h0m0 148.4h0m0-45.7h0m.1 57.6h0m.1-144.3h0m0 9.2h0m0 95.6h0m.1-16.9h0m0-68.1h0m.1 131.1h0m.1-142.5h0m.1 97.5h0m0-.6h0m.1-7.9h0m.3 13.2h0m0-14.7h0m.2-99.7h0m.3 95.2h0m0-90.2h0m.2 88.7h0m.1-70h0m0 1.9h0m0 121h0m.1-125.4h0m0-7.6h0m.2 5.2h0m0 76.1h0m0-128.9h0m0 137.5h0m.1-7.9h0m0 55.9h0m.1-126.7h0m0 72.5h0m.4 11.1h0m.1-93.8h0m0 90.6h0m0 54.6h0m.2-44.5h0m.1-87.8h0m0-12.4h0m.2-55.8h0m.1 19.1h0m0 132h0m.1-106.1h0m0 89h0m0 27.3h0m.4-94.1h0m.3 75.1h0m0-74.5h0m.1-52.3h0m.1 51.1h0m.3 69.6h0m.1-79.1h0m.2-17.5h0m.1 10.6h0m.1 9.5h0m.2 116.2h0m0-39h0m.1-81.2h0m.1 126.6h0m0-127.3h0m0 89h0m0-98.1h0m.1 16.1h0m0-2.6h0m.1 112.9h0m0-131.2h0m.1 105.4h0m0-145.2h0m.1 165h0m.2-130.1h0m.3 1.6h0m.1-13.1h0m.1 150.6h0m0-112.3h0m0 70.2h0m.1-97.3h0m.1-19.9h0m.1 44.5h0m0-6.5h0m0 90h0m0-82.2h0m.2 122.8h0m.5-40.2h0m.1 28.7h0m0-43.1h0m.1-110h0m.1 19h0m.1 19.3h0m0 8.7h0m.1-11.8h0m.2-22.8h0m0 98.3h0m.1 11.9h0m.1-.8h0m0-84.3h0m.1 94.3h0m.1-118.4h0m.2 101.3h0m.1-64.6h0m.1 69.5h0m0 4.1h0m.1 17.9h0m.1-11.2h0m0 7.2h0m0 10.6h0m0-135h0m.3 104.4h0m0-77.2h0m.1 96.8h0m.3-126.9h0m.1 106.4h0m0-71.3h0m.2 105.7h0m0-23.2h0m.2-78.9h0m.1 .8h0m.3 88.2h0m.2-19h0m.1-.3h0m.1-80.4h0m0 86h0m.3-80.1h0m.2 74.6h0m0 10.5h0m0-105h0m.1 128.6h0m.1-111.1h0m.2-44.2h0m0 144.7h0m.1-24h0m0-1.9h0m0 21.9h0m.4-106.1h0m.3 10.1h0m.1 74.6h0m.1-81.3h0m0 91.5h0m0 5.6h0m.5 20.7h0m0-26h0m.2-90.6h0m.2 7.6h0m.1 79.9h0m.3-147.2h0m0 36h0m0 107.6h0m.6-77.7h0m.1-6.2h0m0 111.8h0m0-131.2h0m.1 97.9h0m.1-116.2h0m.1 121h0m.1-115.1h0m.1 117.1h0m.1 18.6h0m.2-95.6h0m.5 2.6h0m.1-9.5h0m0-62.7h0m0 12.9h0m0 44h0m.1 5.3h0m0 12.4h0m0-2.5h0m.1-100.2h0m0 171.6h0m.1 11h0m.1-126.5h0m0 33.8h0m.1-50.8h0m.2 127.7h0m0-77.4h0m0-15.3h0m.1-75.8h0m0 6.4h0m.1 36.5h0m0 43.5h0m0 13.2h0m.1-61.5h0m0 174.7h0m.1-180.4h0m.1 26.4h0m.1 22h0m.1 15.1h0m0-19.9h0m.1-38.7h0m.1 24.7h0m0 104.9h0m0-82.9h0m.3 16.2h0m0-71.5h0m.2 144.4h0m.2-159h0m0 86.2h0m.2-54.4h0m.1 24.3h0m0 17.1h0m.1-24h0m.1 123.3h0m.1-98h0m0-38.6h0m.1 51.6h0m.1 64.7h0m0 39.4h0m.1-24.8h0m.1-117.9h0m0-15.3h0m.1 14.9h0m0-11.1h0m.1 48h0m.3-3h0m0 92h0m.1-97.7h0m0 79h0m.3-1.9h0m.1 11.9h0m0-13.5h0m.4 44.8h0m.3-40.6h0m.1-117.3h0m.1 44.4h0m.1 70.4h0m.5 16.4h0m0-15.9h0m0-106.8h0m.1 26.6h0m.1-38.8h0m.1 33.5h0m0 15.8h0m.1 105.2h0m.1-135.3h0m.1 98.7h0m0-98h0m0 26.4h0m.1-17.7h0m.1-46.9h0m0 64.2h0m.2-.3h0m.1-42.3h0m0 32.2h0m.3-50.6h0m.1 40.8h0m0-.9h0m0 20.4h0m.4 77.4h0m0-114.1h0m.2 115h0m.1-75.6h0m.3 72.3h0m.2 3.5h0m.2-81.8h0m0 85.9h0m.2-93.9h0m.2 16.2h0m.1-47.2h0m.2 138h0m.1-7.4h0m.1-123.3h0m0 161.2h0m0-32.3h0m.2 18.3h0m.1-140.9h0m.1-26.1h0m.1 52.1h0m.2 78.6h0m0-68.6h0m0-6.9h0m.3-45.6h0m0 55.1h0m.1-55.5h0m0 26.9h0m.1 96.1h0m.1 48.4h0m.1-146.2h0m0 104.1h0m.1-.8h0m.1-126.9h0m.3 29.8h0m.1 19.2h0m.1 78.3h0m.1-8.3h0m0-119.5h0m0 129.7h0m0-90.1h0m.1 108.6h0m.1-5.9h0m0-16.5h0m0-4.9h0m0-3.4h0m.1-73.6h0m.2 110.4h0m.1-29h0m.1-131.5h0m.2 38.1h0m.1 90.5h0m0 20.3h0m.1-12.3h0m.1-75h0m0 61.3h0m.2 35.8h0m0-126.4h0m.1 94.2h0m0 14.3h0m.1 26.5h0m.1 8.6h0m0-50.6h0m0-104.9h0m.1 40.3h0m.1-55.9h0m.1 6.3h0m.1 6.1h0m0 42.8h0m.1-1.5h0m.3 61.9h0m0-63.2h0m.1 104.9h0m0-130.3h0m.3 93.4h0m.2 20.5h0m0-20.8h0m.1-61.4h0m.1-15.8h0m0 8.2h0m.3 69.4h0m.4-65.8h0m.1-1.4h0m0 109.8h0m0-35h0m.4-99h0m0 90.4h0m.1-71.8h0m.2-22.4h0m.1 20.1h0m.1 86.8h0m.1 35.3h0m.1-.8h0m0-130.6h0m.1 13h0m.3 109.9h0m.1-20.6h0m.1-21.3h0m.2-67.5h0m0 76.3h0m0 26.8h0m.2-24.3h0m.1-102h0m0 27.4h0m.2 68.6h0m0-113.1h0m.1 26.5h0m0 12.5h0m.4 7.1h0m.1-9.7h0m0 125.7h0m0-40h0m.1-11.1h0m.3 4.4h0m.1 8.7h0m0-137.2h0m0 57.3h0m0 74.9h0m.2 1.9h0m0-10.8h0m.2 .6h0m0-69.8h0m.2-6.8h0m.1 11.9h0m.1-9.7h0m.1 3.2h0m.2 3h0m.2 67.7h0m0-100.6h0m.1 108.5h0m0 43.3h0m.1-124h0m0 72h0m.1 8.3h0m0 12.3h0m.1-11.6h0m.1-72h0m0 74.7h0m.3 2.3h0m0-8.9h0m.2-3.1h0m0-70.4h0m.3 67.4h0m.1-3h0m.1 13.2h0m.1-104h0m0 96.1h0m.4 .5h0m.1-67h0m.1 60.1h0m0-107.3h0m.2-21.7h0m0 66.2h0m.2 83.5h0m.1-89.2h0m0-7.4h0m0 88.4h0m.2-88.2h0m.1 6.7h0m.4-31h0m.1 100.1h0m0-92.3h0m0-26.5h0m.2 118.7h0m.2-62.1h0m0 107.6h0m0-158.8h0m0 112.6h0m.1 21.3h0m.1 39.3h0m0-169h0m.2 124.6h0m.4 7.8h0m0-119.6h0m0 24.1h0m.1-39h0m0 110.8h0m.1-111.2h0m0-20h0m.3 23.3h0m0 143.7h0m0-109.8h0m.1-39.5h0m.2 53.8h0m0 87.7h0m.1-94.5h0m0-32.1h0m0-5.7h0m.1-3.5h0m0 118.6h0m.1-66.6h0m.1 93.1h0m.1-24.8h0m.2-75.3h0m0 99h0m0-136.1h0m.1 122.3h0m0-19.7h0m.3-97h0m.1-.2h0m.2 126.9h0m0-23.8h0m.6 34.6h0m0-104.7h0m.1-8h0m.1 2h0m.1-7.9h0m0 84.8h0m.1-65.9h0m.2 80.9h0m.2-83.1h0m.1 83.5h0m0-143.8h0m.1-15.3h0m.1 146.3h0m.1-128h0m.1-20.1h0m0 72.9h0m0 105.9h0m.1-29.9h0m.1-80.9h0m0 83h0m.1-77h0m.3 66.7h0m.2-68.5h0m.2-60.6h0m0 58.8h0m0-15.3h0m.1-56.6h0m.1 37.5h0m.1 108h0m0-110h0m.1 41.3h0m0-29.2h0m0 141.8h0m.1-49h0m.1 11.4h0m0-157h0m.1 64.4h0m0 121.4h0m0-121.4h0m.1 12.6h0m.1 108.4h0m0-148.1h0m0 43.8h0m.1 104.5h0m0-32.9h0m0 45.6h0m0 18.3h0m.1-73.8h0m0 27.7h0m.1-87.9h0m.1-6h0m0 134.7h0m.1 2h0m.1-61.6h0m.1-70.2h0m0-60.6h0m0 17.4h0m0-28.2h0m.2 137.8h0m.1-128.9h0m.1 132h0m0-5.9h0m.1-56.1h0m0 125.1h0m0-154.1h0m.1 108.1h0m.1 29.5h0m.5-110.6h0m.1 99h0m.2-112.9h0m.1 14.9h0m0 57.6h0m.3 6.6h0m0 28h0m0-116.7h0m.2-6.5h0m0 102h0m.2-83.7h0m0-41.7h0m.2 21.2h0m0 150.5h0m.1-136.5h0m0 90.6h0m0-12h0m.1 17.2h0m0-127.4h0m.1 137.2h0m0 1.6h0m0-25.8h0m.1 23.2h0m0-87.2h0m.3-7.3h0m.1 1.6h0m.1 92.9h0m0-102.2h0m0 78.8h0m0-77.6h0m.1 3.8h0m.1 69.2h0m0 26.9h0m.1 41.8h0m.2-150.7h0m.1 19.5h0m.1-34.5h0m.2 93.5h0m.1-70.8h0m.2 145.9h0m.1-70.5h0m.2-67.7h0m.1-41.2h0m0 17.7h0m.1 13.8h0m.1 16.6h0m0 94h0m0-112.4h0m0 16h0m.3 64.4h0m.1-95.6h0m.1-23h0m.2 114.5h0m.1-60.1h0m0-15.4h0m.2-13.2h0m0 21.3h0m0-11h0m.2 77.1h0m.3 .5h0m0 10h0m0-95.3h0m.1-24.2h0m0 55.6h0m0 55.4h0m.1 36.4h0m0 39.2h0m.1-180.8h0m.1 165.8h0m.2-46.5h0m.1-83.1h0m.1 70.1h0m0-82.7h0m.2 89.9h0m0-11h0m.1-52.5h0m0-8.1h0m.5-28.8h0m0-14.2h0m.2 9.9h0m0 165.7h0m0-30.6h0m.1-40h0m.1-59.1h0m0-7.3h0m.1-18.1h0m0-23.2h0m.2 19.9h0m0 102.3h0m0 .2h0m.1-14.5h0m0-.2h0m0-105.7h0m.1 44.3h0m0-43.6h0m0 47.9h0m.1 114.1h0m.1-115.6h0m.1 61.1h0m.2-69h0m.2 101.3h0m0-110.1h0m.3 89h0m.1 12.3h0m0-115.6h0m.1 105.5h0m0-74.8h0m0 63.4h0m0-100.4h0m0 109.4h0m.1-113.2h0m.1 120h0m0 8.3h0m.1-23h0m.1 10.9h0m.2-127.1h0m.2 135h0m.1-21h0m.1-109h0m0 139.5h0m.1-8.2h0m.1-9.5h0m.1-7.6h0m0-64.5h0m0-29.9h0m.1 99.9h0m.1-81.3h0m.1-40.9h0m.2 9.6h0m0-11.6h0m.1 45.4h0m0-3h0m.1 67.4h0m.1-74.7h0m.3 16.6h0m0-20.3h0m.2-.6h0m0 27.4h0m.1 71.6h0m.1-22.1h0m0 45.4h0m.1-.6h0m.1-154.1h0m.1 122.8h0m.1-125.2h0m.1 14.3h0m0 45.6h0m.1 49.8h0m0-94.2h0m0 3.4h0m.8 14.2h0m.4 16.8h0m.1 58.6h0m0 41.6h0m.1-97.3h0m0-23.2h0m.2 17h0m0 64.4h0m.1 52.9h0m.2-110.9h0m.1 54.2h0m.4-53h0m0-19.8h0m.1 76.8h0m.2 19.7h0m.1-74.2h0m0 69.8h0m0-115.2h0m.1 20.5h0m0 87h0m.2-83.6h0m.1-24.2h0m.3 41.1h0m0 108.6h0m.1-50.6h0m0-75.9h0m.1 92.2h0m.1 37.5h0m0-127.1h0m.1 22.6h0m0 65.8h0m.1-91.6h0m.2-39.1h0m.1 35h0m.1 81.5h0m0-85.4h0m.1 96.1h0m.1-78.9h0m.1 7.8h0m0 133.9h0m0-173.1h0m0 121.9h0m.2 4.7h0m.1-86h0m0 117.7h0m0-128.8h0m.1 111.7h0m.1-105.1h0m.1 124.3h0m0-27.7h0m0 18h0m.1 14.2h0m.1 4.1h0m.1-52.5h0m0 35.4h0m0-33.8h0m.1 2.8h0m.3 15.5h0m0-23.1h0m0 9h0m.1 15.2h0m.1-38.3h0m0 22.5h0m0-80.6h0m.1 103.4h0m0-35.2h0m0 24.1h0m.1-139h0m0 23.2h0m.1-19.6h0m.2 23.6h0m0 83.2h0m.1 8.4h0m0-98.9h0m0 86.6h0m0-2.5h0m.2 49.9h0m.1-39.5h0m0 1.5h0m.2-69.5h0m0-21.3h0m.2 95.5h0m0 31.5h0m.1-10.7h0m0-20.5h0m.1-72h0m.1-28.6h0m0-13h0m0 96.3h0m.1-107.5h0m.1 147.5h0m.4-.6h0m.2-101.1h0m0 72.2h0m.2-9.8h0m.1-55.2h0m.1 81.5h0m0-111.9h0m.2 21.6h0m0 78.7h0m.1 33.4h0m.6-47.3h0m0-53.2h0m0 80.9h0m.1-113.5h0m.2 27.8h0m.1-12.5h0m0 8.6h0m0 96h0m.1-89.2h0m.1 80.5h0m0-15.1h0m0-87.6h0m0 88.2h0m.1-5.7h0m.1-62.7h0m.1 63.1h0m0 41h0m.1-120.8h0m.3 23h0m0-13.7h0m.1 73.8h0m.1-2.7h0m.1-83.5h0m0 83.1h0m0-57.7h0m.2 56.5h0m.2-84.7h0m0-23.7h0m0 107.9h0m.1-71.7h0m0 6.9h0m.1-23.2h0m0 8.3h0m.4 24.7h0m0 47.8h0m.8 22.6h0m.1-72.8h0m0-11.2h0m.1-1.4h0m.1 70.8h0m.1 31.5h0m0-22.3h0m.1-69.7h0m0 96.1h0m.1-29.8h0m0-87.9h0m0 22.4h0m0 84h0m0-109.6h0m.1 85.6h0m0 26h0m0-30.8h0m.1-4h0m0 9.6h0m.1-2.5h0m.2 27.6h0m.1-25.5h0m.1-7h0m.1-1.7h0m.6 1.2h0m0 6.5h0m0-56h0m.3 61.8h0m.1-8.8h0m.1-53.1h0m0 53.5h0m0-78.8h0m.1 24.4h0m.1-39.1h0m0 44.1h0m.2 67.2h0m.1-68.9h0m0 46.6h0m.1-45h0m0-25h0m.2 74.8h0m.3-51.8h0m0-38.4h0m0 30.5h0m.4 57.8h0m.2 .3h0m.2-51.6h0m.5-25.4h0m0 22.9h0m.2 52.3h0m0 12.3h0m.2-83.9h0m.1 94.8h0m.3 8.2h0m0-30.6h0m.3-54.8h0m.1-26.4h0m0 83.6h0m.1 5.4h0m.3-12.1h0m0-51.4h0m.3 51.1h0m0-89.4h0m.1 112.8h0m.4 8.2h0m.1-77.8h0m.2 49.2h0m0 16.5h0m.1-72.6h0m0 53.5h0m.1 29.8h0m0-35.7h0m.2-51.8h0m.1 77.5h0m0-4.7h0m0 .5h0m.2-61h0m0 53.7h0m.2-63h0m0 81.4h0m0 1.9h0m.1-74h0m0 55.6h0m.1 15.3h0m0-24.1h0m.3 6.3h0m.2 .8h0m.5-3h0m.1-51.1h0m0 68.7h0m.1-68.4h0m.1 51.3h0m.1-89.7h0m.1 39.7h0m.1 64.7h0m.2-106.8h0m0 43.3h0m.1-23.9h0m.1-8.7h0m.1 33.8h0m.1 81.6h0m.1-87.8h0m.1-5.1h0m0 57.3h0m.1-52.5h0m.1-15.3h0m.2-.2h0m.2 67.5h0m0-.5h0m.1-79.3h0m0 32.4h0m0 50.3h0m.2-49.5h0m.1-22.6h0m.2 4.7h0m.5-9.3h0m.2 25.2h0m0-21h0m0 73.4h0m.1-3.8h0m.6-49.9h0m.1 54.2h0m.5-4.4h0m.1-96.2h0m0 129.9h0m.4-92.2h0m.1 7.8h0m0 1.9h0m.1 63.3h0m.4 3.2h0m.2 18.2h0m.1-9.8h0m0-73.4h0m.1 47.2h0m0 33h0m.1-80.4h0m.3-5.7h0m0 74.6h0m.2-98.1h0m.2 30.7h0m.2 52.5h0m0-75.5h0m.1 107.4h0m0-37h0m.1 6.7h0m.1-63.1h0m.4 67.6h0m.1-1.3h0m.1-3.5h0m0-59.7h0m.2-26.9h0m0 30.1h0m0 54.5h0m.1-4h0m0-51.7h0m.1 55h0m0 15h0m0-6.1h0m0 12.2h0m.1-5.4h0m0-11.9h0m0 6.8h0m.1-9.7h0m.1-57.4h0m0 64.1h0m0 13.1h0m.2-72.9h0m.1-6.1h0m.4 3.5h0m.1 71.7h0m0-20.1h0m.1-83.4h0m.2 33.7h0m0-.8h0m.1 78.5h0m0-10.1h0m.1 6.6h0m.3-88.4h0m.5 86.4h0m.1 7.3h0m0-87.5h0m.3-4.3h0m.1-7.7h0m0 72.5h0m0-54.8h0m.1 67.9h0m0-65h0m0 47.8h0m.1-56.5h0m0 52.3h0m.3 3.8h0m0-52.3h0m.1-1.4h0m0-1.7h0m0 74.1h0m.1 10.9h0m1.1-79.4h0m.1 52.3h0m.1-4.9h0m0-64.6h0m.1 75.5h0m.1 2h0m.2-55.5h0m.1-20.3h0m.2-12h0m.1 78h0m0-44.4h0m0 43.9h0m.4-45.7h0m0 46.2h0m.2 3.8h0m.1-3.6h0m.4-43.1h0m0 41.8h0m0-1.7h0m.2-57.8h0m.1-21h0m.1 20.9h0m.2 69.4h0m.3-8.1h0m.1-71.1h0m.1 25.8h0m.3-16.7h0m.1 69.5h0m0 4.6h0m0-1h0m.1-3.9h0m.3-79.4h0m0 28.3h0m.1 59.9h0m.1-61.1h0m0 43.4h0m.3-62.1h0m.2 9.7h0m0 67.2h0m.1 .5h0m0-5.3h0m0-55.5h0m.1 47.6h0m.5-45.9h0m.1-9.1h0m0 58.1h0m.1-5.3h0m.5 39.9h0m0-.1h0m.3-41h0m.5 32.7h0m.1-80h0m.2-1.3h0m.2-13.3h0m.1 14.1h0m.1-33.4h0m0 36.4h0m.1 47.3h0m.2-2.1h0m.1-1.5h0m0-44.7h0m.2 87.6h0m.1-11.5h0m0-74.7h0m.1 59.6h0m.1-15.5h0m0-51.5h0m.1 57.8h0m0 20.7h0m.1-73.2h0m.2 2.1h0m.2 68h0m0-74.2h0m0 87.2h0m.1-90.9h0m0-6.9h0m.3 63.4h0m0-78h0m.1 100.9h0m0-6.5h0m.2-59.2h0m0 42.4h0m.1-66.9h0m.1 85.6h0m0-21h0m.1-59.4h0m.1 57.4h0m0-48.8h0m.3 11.3h0m.1 54.1h0m.1 7.7h0m.1 2.2h0m.1-26h0m.4-39.8h0m.2-35.8h0m.1 2.9h0m0 75.4h0m.2-41.2h0m0 87.9h0m.1-18.9h0m0 4.6h0m0-5h0m0-79.2h0m.2 95.6h0m0-93.9h0m.1-21.8h0m.1 122.2h0m.1-28.5h0m.2-64.2h0m0 43.5h0m.1 22.3h0m.6-81.8h0m0-8.4h0m0 96h0m.1-78.1h0m0-1.7h0m.1 46.7h0m0 23.3h0m.2-7.3h0m.1-59.7h0m.1 82h0m0-14.5h0m0 .6h0m0-63.5h0m.8-7.2h0m0 54.3h0m.1-52.7h0m.2 47.4h0m.2-52.1h0m.2 51.8h0m.1 .6h0m0-65.1h0m.3 3.4h0m.1 15.2h0m.2 99.2h0m0-110.1h0m0 2.6h0m.3 10h0m.1 65.6h0m.2 37.9h0m0-47.5h0m.1 33.5h0m.1 2.2h0m.1-45.8h0m.1 7.5h0m.1-78.9h0m.1-11.4h0m.1 123.8h0m.1-6.4h0m.1-81.2h0m0-.9h0m.3-7.9h0m0 53.3h0m.1 9.3h0m.2 37.6h0m0-12.9h0m.4-35.8h0m.3 33.1h0m0-107.6h0m0 82.4h0m.1-47.4h0m.1 44.5h0m.1 7.8h0m.1-2.3h0m0-72.6h0m.2 88.6h0m.5-30h0m.1 9.6h0m.1-45.8h0m0 53.7h0m0 33.7h0m.3-30.2h0m.1 21.4h0m.1-36.6h0m.1 20.9h0m.2-86.8h0m.2 19.2h0m.1 4.4h0m0 78.8h0m.2-76.6h0m.1 39.5h0m.1-57.3h0m0 104.9h0m.2-27.7h0m.1 32.1h0m0-45.5h0m.3-53.3h0m.1 82.7h0m0 3.9h0m0-86.6h0m.2 74.6h0m0 7.1h0m0-77.6h0m.1 45.1h0m.1 14.9h0m0 11.1h0m0 2.5h0m.4-78.2h0m.1 63.2h0m.2-7.8h0m.2-52.7h0m.2 56.8h0m.1-82.4h0m.1 94.8h0m.3-67.7h0m.7-31.5h0m.1 79.6h0m.1-46.2h0m.1-20.6h0m.4 76.3h0m.3-2.3h0m0-9.7h0m.1-67.1h0m.1 12h0m0 58.5h0m.1 43.4h0m.1-35.3h0m0-79.1h0m.1 85.4h0m0-82.3h0m0 85.4h0m0-25.3h0m.1 17.1h0m.1-59.8h0m.1 .3h0m.6 2.2h0m0-1.1h0m.1 49.2h0m0 13h0m.1-60h0m0 43.7h0m.1-63.6h0m0 62.2h0m0-82.7h0m.1 119.8h0m.1-3.5h0m0-13.2h0m.3-22.6h0m0-74.1h0m.3 84.7h0m.2-68.8h0m.1 .9h0m0 13.3h0m.3 44.7h0m0-79h0m0 4.4h0m0 78.6h0m.1 19.9h0m0-70.6h0m.1 .1h0m.1 80.5h0m.3 2.2h0m.2-30.4h0m.1 6h0m.1-80.5h0m.1 20.9h0m.1 52h0m.1 12.3h0m0-2.1h0m.3-5.3h0m0-.5h0m.1-89.6h0m.1 117.6h0m.1-104.3h0m.1 78.1h0m.1-87.2h0m0 87.8h0m0-5.3h0m.1 5.5h0m.1-89.6h0m.1 81.1h0m.1-54.2h0m.2-4.1h0m.2 13.7h0m.1-13.5h0m.2 98.7h0m.1-37.2h0m.2 41h0m0-111.8h0m.1-3.3h0m.1 106.1h0m0-78.8h0m.1 52.6h0m.1-62.9h0m.1 101h0m0-23.1h0m0 23h0m.5-92.1h0m.1-16.6h0m0 65.5h0m.1-43.7h0m.1-23.4h0m.1 15.8h0m.7 74.3h0m.1-68.8h0m0 2.5h0m.4 38.9h0m.3-41.6h0m.1 42.6h0m.1-35.7h0m.1-9.7h0m0 63.8h0m.1-22h0m.2 31.4h0m.3-26.1h0m.3-4.6h0m.1-35.6h0m.2 78.8h0m.2-48h0m.2-37.7h0m.1 61.3h0m.2-93h0m.3 20h0m.1 48.4h0m.3 22.9h0m.2-13.2h0m.1 24.5h0m0-72.8h0m.1 1.4h0m.3 46.1h0m0-4.2h0m.1 40.9h0m.2-84.3h0m0 65.8h0m.1-93.9h0m.4 15.2h0m.3 57.5h0m.1-50.1h0m.1 59.4h0m.1 23h0m.3-74.4h0m.2-2.3h0m.3 3.7h0m.1-17.7h0m0-7.2h0m.3 72.8h0m.3-52.7h0m.2 63h0m.1-60.5h0m.3-2.8h0m0 51.1h0m.1-55.7h0m0-6.1h0m.1 62.7h0m0 13.3h0m.3-58.7h0m0 67.3h0m0-14.6h0m.1-49.9h0m0-6.6h0m.3 1.9h0m0-16.8h0m.1 78h0m.1-17.6h0m.2-2.5h0m.2 24.7h0m.1-13.2h0m0-.2h0m.9-9.6h0m0-40.6h0m.2 42.2h0m.1-49.7h0m.2 6.1h0m0-17.4h0m.1 76.1h0m.2-56.7h0m0 62.9h0m.1-21h0m.2-.4h0m.2-42h0m0-6.1h0m.2 47.2h0m.1 17h0m0-13.3h0m.1-48h0m.9 6.3h0m0 57.4h0m.1-18.8h0m.1 37h0m.2-98.4h0m.1 3.8h0m.2 13.8h0m.3 .4h0m.1 45.4h0m.2 14.1h0m.2-67.6h0m.1 6.1h0m0 59.8h0m.1-16.3h0m0 14.6h0m.1-13.1h0m0 4.1h0m.1-3.2h0m.1 8.9h0m.1-53.9h0m.3 55.1h0m.4-54.7h0m.1 41h0m0 2.5h0m.3-51.1h0m.1 63h0m.5-12.1h0m0-41.5h0m.1 43.8h0m0 27.4h0m.5-18.9h0m0-65.7h0m.4 56.8h0m0 2h0m0-41.4h0m.1 42.5h0m.2-46.8h0m.3-4.3h0m0 74.2h0m.1-20.8h0m0-4.9h0m.5-3.7h0m0 29.4h0m.3-19.6h0m.1-50.8h0m0 71.7h0m.2-64.3h0m0-26h0m.3 81.9h0m0-17.9h0m.1 26.8h0m.1-22.6h0m0 17.2h0m.1-74.7h0m.1 64.4h0m.2 6.6h0m.2-14h0m.1 29.5h0m.6-72.4h0m.4-7h0m0-.8h0m.1-1.4h0m.1 7.5h0m0 62.1h0m.2-62h0m.1 63.5h0m.1-13.9h0m.2 4.2h0m.1-9.3h0m0-.2h0m.4-1.6h0m.4-45.5h0m0-2.3h0m.1-4.4h0m.1 48.2h0m.1-42.9h0m.4 53.3h0m.1 6.4h0m0-2.7h0m.4 20.8h0m.1-34.1h0m0-44.3h0m.2 45.2h0m.1 12h0m0-66.2h0m.3 53.2h0m.2 17.5h0m.1-62.1h0m0 64.1h0m.1-59.8h0m.1 56.4h0m.2-56.3h0m.1 38.3h0m.2-41.4h0m.1 3.3h0m.1 75.6h0m.1-80.2h0m.1 1.7h0m.2 8.9h0m.1 59.2h0m0-77.8h0m.2 50.3h0m.2 11.6h0m0-46.4h0m0 58.6h0m.2-24.9h0m.3-33.3h0m.1-.1h0m.3-20.7h0m0 81.6h0m.4-3.3h0m.2-55.8h0m.1 35.8h0m.3 12.7h0m.1-54.6h0m.1 2.2h0m.1 42.8h0m.6 12.3h0m.5 7h0m.1-11.7h0m0-5.5h0m.1-41.7h0m0-11h0m.2-10.6h0m0 69.3h0m.3-51.6h0m.2 56.9h0m.3-66.6h0m.2 54.7h0m0-50.6h0m0 1.9h0m.1-2.7h0m.3 5.6h0m.5 41.2h0m.4 3.7h0m.2-47.5h0m.3 69.2h0m.3-25.1h0m.4-43.7h0m.1-12.9h0m0 57.2h0m0 16.8h0m0-58.2h0m.1-16.8h0m.3 10.9h0m.2 3.8h0m.3-.8h0m.1 69.6h0m0-78h0m.6 12.3h0m0 41.2h0m.2 4h0m.3 12.4h0m.1-56.7h0m.8-4.2h0m0 60h0m.2-16.1h0m.5-43.9h0m.1-4.3h0m.2 49.8h0m.1-42.4h0m0 66.5h0m.2-73h0m.1 1.5h0m0 71.6h0m0-22.8h0m.3 17.6h0m.1-57.8h0m.3 38.4h0m0-43.2h0m.1 54.8h0m.1-54.3h0m.1-6h0m.5 50.3h0m0-1.7h0m.4-34.1h0m.4 57.9h0m.1-19.7h0m0 5.6h0m.1-61.2h0m.3 13.2h0m.7 38.2h0m.4-43.1h0m.3 58.5h0m.1-67.9h0m.1 70.4h0m.1-10.1h0m.1-5.9h0m.1 2.8h0m0-56.1h0m.3 6h0m0 53.9h0m.1-8.4h0m.1-46.5h0m.2 42.5h0m.4-42.4h0m.3 62.8h0m0-59.9h0m.1 46.6h0m.8-46.4h0m0 40.3h0m.2-40.6h0m.1 54.7h0m.1-55.9h0m.1 49h0m0-2.3h0m.1-49.6h0m.2-4h0m.2 68.1h0m.4-14.4h0m.2-2.6h0m.2 8h0m.1-45.2h0m.1 46.2h0m.2-3.2h0m0 .9h0m.5-45.4h0m.1-2.6h0m.1 39.3h0m.1 1.8h0m.1-44.3h0m.3 48.9h0m.2-6.8h0m0 5.9h0m.4-46.1h0m.2 52.5h0m.2 6.2h0m.3-14.2h0m.3-44h0m.1 1.7h0m.1 46.3h0m.1 .2h0m0-51.7h0m.3 50.8h0m.2-61.5h0m.3 65.2h0m.3-6.9h0m.1 28h0m.4-76.1h0m0 52.6h0m.1-59.6h0m.1 3.1h0m.2 81.7h0m0-.4h0m.1 1.1h0m.1-27.5h0m.3 1h0m.2-49.9h0m0 76.7h0m.1-80.9h0m.1 71h0m.2-66.1h0m.3 48.7h0m.1 3.6h0m.2-6h0m.4 16.8h0m.1-14h0m.2-48.2h0m.3 50.8h0m.1-6.4h0m.4-1.1h0m.2-47.4h0m0 45h0m.4-41.5h0m.1-2.1h0m0 3.2h0m.1 51.6h0m.2-53h0m0-4.1h0m0 1.3h0m0 49.6h0m.1-46.7h0m.1 3.9h0m.2-1.7h0m.5 57.3h0m0-54.7h0m0-.1h0m.4-3.3h0m.1 2.2h0m0 .7h0m.2-1.4h0m.1 48.8h0m0-3.6h0m.1 7.6h0m.1 2.1h0m0-9.3h0m.2 11.3h0m.2-53h0m.1 41.8h0m.1-44.9h0m.1 52.7h0m.1-47.6h0m.1-2.3h0m.2 47.8h0m0-47.6h0m.2-4.6h0m.2-2.2h0m.3 49.7h0m.3-46.2h0m0 45.7h0m.1 13.4h0m.2-60.3h0m.3 1.2h0m.2-3.7h0m.1 49.7h0m0 1.4h0m0 5.5h0m.1-2.9h0m.2-52.9h0m0 1.6h0m.4-1.6h0m.2 61.2h0m.2-17.9h0m.3-42.9h0m.2 2.3h0" stroke="#1f77b4" stroke-width="4.8" stroke-linecap="round" fill="none"/>
<polyline points="115.0,263.8 117.0,263.4 119.0,255.9 121.0,258.3 123.0,265.3 125.0,262.0 127.0,259.4 129.0,263.0 131.0,264.0 133.0,255.5 135.0,256.0 137.0,253.8 139.0,255.8 141.0,254.5 143.0,259.7 145.0,259.8 147.0,259.3 149.0,259.3 151.0,267.7 153.0,265.3 155.0,262.2 157.0,257.1 159.0,257.8 161.0,265.7 163.0,264.4 165.0,269.1 167.0,270.0 169.0,260.0 171.0,259.0 173.0,262.7 175.0,259.5 177.0,263.0 179.0,262.2 181.0,262.3 183.0,255.0 185.0,258.4 187.0,260.6 189.0,257.6 191.0,258.4 193.0,263.0 195.0,262.4 197.0,263.1 199.0,262.7 201.0,266.6 203.0,266.9 205.0,268.0 207.0,271.1 209.0,269.5 211.0,272.0 213.0,278.4 215.0,277.8 217.0,269.7 219.0,267.8 221.0,272.2 223.0,276.8 225.0,273.7 227.0,264.9 229.0,266.2 231.0,267.3 233.0,271.8 235.0,275.7 237.0,277.7 239.0,272.3 241.0,265.6 243.0,263.0 245.0,264.7 247.0,264.6 249.0,270.6 251.0,271.9 253.0,265.2 255.0,262.9 257.0,257.1 259.0,257.4 261.0,258.4 263.0,252.2 265.0,258.7 267.0,259.5 269.0,256.7 271.0,255.9 273.0,257.9 275.0,257.9 277.0,253.7 279.0,248.4 281.0,249.2 283.0,242.9 285.0,246.2 287.0,251.7 289.0,242.7 291.0,238.1 293.0,247.1 295.0,245.1 297.0,243.4 299.0,249.7 301.0,243.2 303.0,232.9 305.0,233.7 307.0,232.9 309.0,237.4 311.0,244.8 313.0,250.1 315.0,240.5 317.0,249.9 319.0,251.8 321.0,244.1 323.0,246.4 325.0,242.7 327.0,236.9 329.0,234.9 331.0,238.5 333.0,232.8 335.0,232.0 337.0,237.1 339.0,247.7 341.0,227.4 343.0,219.0 345.0,228.3 347.0,232.7 349.0,243.8 351.0,245.2 353.0,237.8 355.0,242.6 357.0,240.3 359.0,237.9 361.0,246.5 363.0,246.2 365.0,245.7 367.0,255.4 369.0,250.8 371.0,249.0 373.0,249.8 375.0,247.7 377.0,251.8 379.0,252.5 381.0,253.0 383.0,254.2 385.0,249.9 387.0,250.6 389.0,248.5 391.0,252.2 393.0,249.3 395.0,257.0 397.0,254.4 399.0,251.3 401.0,246.8 403.0,247.2 405.0,244.2 407.0,250.6 409.0,253.4 411.0,255.5 413.0,259.2 415.0,260.7 417.0,263.8 419.0,259.5 421.0,263.9 423.0,266.5 425.0,261.1 427.0,263.6 429.0,260.2 431.0,261.8 433.0,259.7 435.0,262.1 437.0,265.5 439.0,272.0 441.0,264.4 443.0,271.2 445.0,271.5 447.0,259.1 449.0,261.2 451.0,256.9 453.0,255.9 455.0,254.5 457.0,255.2 459.0,252.2 461.0,254.5 463.0,254.6 465.0,255.5 467.0,262.8 469.0,262.2 471.0,266.0 473.0,265.4 475.0,263.3 477.0,262.1 479.0,260.2 481.0,263.3 483.0,266.0 485.0,263.5 487.0,259.6 489.0,259.8 491.0,254.7 493.0,252.3 495.0,257.0 497.0,260.2 499.0,263.1 501.0,267.8 503.0,265.7 505.0,261.1 507.0,259.7 509.0,259.8 511.0,258.6 513.0,251.9 515.0,252.4 517.0,259.3 519.0,261.6 521.0,261.7 523.0,259.8 525.0,258.4 527.0,256.6 529.0,255.2 531.0,254.9 533.0,256.9 535.0,254.6 537.0,253.2 539.0,251.5 541.0,250.9 543.0,249.3 545.0,249.0 547.0,252.0 549.0,245.6 551.0,249.7 553.0,246.6 555.0,246.6 557.0,254.3 559.0,255.0 561.0,249.0 563.0,247.3 565.0,251.7 567.0,253.1 569.0,250.7 571.0,251.5 573.0,255.5 575.0,258.8 577.0,261.2 579.0,256.3 581.0,255.6 583.0,252.2 585.0,252.2 587.0,249.1 589.0,253.2 591.0,260.9 593.0,259.1 595.0,252.8 597.0,252.8 599.0,247.0 601.0,243.1 603.0,241.1 605.0,241.7 607.0,244.1 609.0,244.1 611.0,251.6 613.0,250.2 615.0,251.4 617.0,248.9 619.0,246.6 621.0,251.8 623.0,248.6 625.0,253.9 627.0,254.3 629.0,251.1 631.0,248.5 633.0,248.5 635.0,250.9 637.0,246.5 639.0,240.9 641.0,244.2 643.0,250.7 645.0,250.9 647.0,248.8 649.0,250.4 651.0,251.7 653.0,257.6 655.0,249.7 657.0,249.6 659.0,252.3 661.0,253.5 663.0,250.7 665.0,252.2 667.0,249.1 669.0,247.7 671.0,248.1 673.0,249.7 675.0,250.6 677.0,251.1 679.0,251.9 681.0,247.8 683.0,248.9 685.0,247.9 687.0,242.3 689.0,235.0 691.0,236.6 693.0,234.6 695.0,237.3 697.0,235.5 699.0,238.3 701.0,238.7 703.0,243.9 705.0,249.5 707.0,249.3 709.0,246.5 711.0,242.2 713.0,236.4 715.0,236.9 717.0,233.4 719.0,231.8 721.0,224.9 723.0,228.9 725.0,230.9 727.0,230.7 729.0,228.5 731.0,235.0 733.0,235.0 735.0,233.3 737.0,230.1 739.0,223.8 741.0,222.8 743.0,232.0 745.0,224.2 747.0,217.1 749.0,221.6 751.0,231.0 753.0,233.2 755.0,236.8 757.0,230.3 759.0,226.2 761.0,227.3 763.0,226.9 765.0,221.0 767.0,228.7 769.0,234.1 771.0,233.5 773.0,227.5 775.0,223.0 777.0,232.0 779.0,239.2 781.0,234.6 783.0,228.0 785.0,233.5 787.0,238.0 789.0,242.4 791.0,244.9 793.0,238.6 795.0,235.4 797.0,232.5 799.0,227.7 801.0,229.3 803.0,235.1 805.0,238.7 807.0,244.5 809.0,244.6 811.0,231.5 813.0,217.1 815.0,226.8 817.0,234.5 819.0,221.9 821.0,219.7 823.0,239.6 825.0,234.8 827.0,223.0 829.0,214.4 831.0,219.4 833.0,241.1 835.0,241.4 837.0,239.3 839.0,250.5 841.0,256.5 843.0,246.6 845.0,238.3 847.0,234.0 849.0,240.2 851.0,240.4 853.0,234.6 855.0,242.1 857.0,241.4 859.0,239.7 861.0,232.3 863.0,225.7 865.0,235.1 867.0,233.1 869.0,223.5 871.0,239.7 873.0,246.1 875.0,246.9 877.0,251.5 879.0,248.0 881.0,240.6 883.0,238.6 885.0,238.2 887.0,244.4 889.0,250.4 891.0,253.7 893.0,243.7 895.0,248.3 897.0,252.0 899.0,252.8 901.0,252.3 903.0,249.1 905.0,251.6 907.0,252.4 909.0,249.1 911.0,248.9 913.0,253.7 915.0,255.8 917.0,251.3 919.0,252.5 921.0,256.6 923.0,246.9 925.0,241.8 927.0,264.2 929.0,251.8 931.0,245.3 933.0,241.5 935.0,237.5 937.0,243.5 939.0,243.4 941.0,250.2 943.0,259.5 945.0,260.7 947.0,263.3 949.0,263.9 951.0,263.2 952.4,259.5 953.7,252.1 955.1,252.9 956.4,260.9 957.8,257.7 959.1,261.1 960.5,253.4 961.8,257.2 963.2,248.8 964.5,257.6 965.9,257.8 967.2,259.0 968.6,247.2 969.9,247.5 971.3,250.7 972.6,256.4 974.0,260.4 975.3,260.2 976.7,247.7 978.0,251.2 979.4,259.9 980.7,256.6 982.1,248.1 983.4,248.6 984.8,257.0 986.1,257.7 987.5,254.3 988.8,255.8 990.2,258.5 991.5,256.2 992.9,259.1 994.2,258.4 995.6,257.0 996.9,252.5 998.3,257.1 999.6,257.9 1001.0,250.5 1002.3,248.8 1003.7,255.4 1005.0,256.3 1006.4,250.1 1007.7,255.9 1009.1,260.6 1010.4,244.9 1011.8,254.2 1013.1,254.0 1014.5,253.7 1015.8,253.2 1017.2,255.3 1018.5,260.8 1019.9,253.4 1021.2,260.8 1022.6,260.8 1023.9,254.2 1025.3,259.1 1026.6,259.2 1028.0,248.1 1029.3,250.1 1030.7,248.8 1032.0,252.2 1033.4,258.0 1034.7,251.0 1036.1,261.0 1037.4,261.1 1038.8,250.6 1040.1,254.3 1041.5,256.8 1042.8,246.3 1044.2,243.8 1045.5,251.4 1046.9,248.4 1048.2,255.8 1049.6,248.6 1050.9,243.6 1052.3,249.4 1053.6,254.0 1055.0,251.1 1056.3,255.0 1057.7,255.2 1059.0,248.0 1060.4,262.1 1061.7,262.2 1063.1,262.3 1064.4,253.9 1065.8,254.8 1067.1,255.1 1068.5,247.2 1069.8,252.1 1071.2,251.9 1072.5,250.9 1073.9,244.4 1075.2,256.2 1076.6,245.7 1077.9,251.4 1079.3,250.8 1080.6,242.8 1082.0,256.1 1083.3,255.2 1084.7,263.5 1086.0,263.6 1087.4,247.0 1088.7,241.2 1090.1,251.6 1091.4,259.1 1092.8,240.4 1094.1,264.4 1095.5,247.8 1096.8,250.4 1098.2,250.0 1099.5,254.7 1100.9,260.7 1102.2,249.0 1103.6,265.0 1104.9,257.5 1106.3,250.2 1107.6,265.0 1109.0,260.2 1110.3,258.0 1111.7,258.4 1113.0,246.7 1114.4,238.2 1115.7,242.5 1117.1,248.0 1118.4,255.1 1119.8,249.9 1121.1,244.1 1122.5,247.4 1123.8,253.3 1125.2,249.3 1126.5,261.2 1127.9,259.0 1129.2,254.1 1130.6,248.1 1131.9,265.3 1133.3,257.7 1134.6,260.9 1136.0,265.4 1137.3,248.0 1138.7,247.1 1140.0,248.7 1141.4,258.8 1142.7,254.8 1144.1,237.9 1145.4,240.2 1146.8,237.3 1148.1,245.8 1149.5,262.3 1150.8,252.8 1152.2,241.4 1153.5,236.9 1154.9,254.1 1156.2,237.0 1157.6,248.8 1158.9,238.5 1160.3,241.1 1161.6,247.4 1163.0,239.2 1164.3,256.5 1165.7,257.4 1167.0,241.8 1168.4,242.1 1169.7,251.4 1171.1,250.6 1172.4,243.8 1173.8,247.9 1175.1,240.0 1176.5,237.5 1177.8,257.3 1179.2,254.9 1180.5,262.7 1181.9,250.6 1183.2,254.9 1184.6,266.3 1185.9,252.3 1187.3,265.9 1188.6,251.9 1190.0,260.4 1191.3,246.1 1192.7,245.0 1194.0,266.2 1195.4,248.0 1196.7,262.2 1198.1,254.7 1199.4,248.4 1200.8,265.6 1202.1,238.9 1203.5,251.3 1204.8,255.7 1206.2,245.3 1207.5,241.7 1208.9,245.5 1210.2,266.1 1211.6,239.5 1212.9,240.6 1214.3,246.8 1215.6,241.6 1217.0,256.4 1218.3,245.2 1219.7,247.6 1221.0,250.3 1222.4,245.9 1223.7,253.0 1225.1,241.1 1226.4,250.8 1227.8,259.9 1229.1,260.0 1230.5,241.6 1231.8,241.1 1233.2,265.8 1234.5,260.7 1235.9,241.0 1237.2,258.5 1238.6,256.6 1239.9,258.5 1241.3,265.7 1242.6,242.7 1244.0,257.3 1245.3,251.7 1246.7,265.0 1248.0,260.7 1249.4,264.0 1250.7,256.8 1252.1,244.0 1253.4,251.9 1254.8,253.2 1256.1,254.9 1257.5,247.0 1258.8,247.9 1260.2,247.5 1261.5,244.5 1262.9,253.7 1264.2,249.9 1265.6,262.0 1266.9,249.3 1268.3,243.1 1269.6,253.9 1271.0,262.9 1272.3,262.1 1273.7,249.1 1275.0,250.0 1276.4,251.6 1277.7,256.2 1279.1,248.6 1280.4,244.1 1281.8,258.8 1283.1,257.6 1284.5,246.8 1285.8,251.5 1287.2,255.4 1288.5,247.5 1289.9,253.5 1291.2,246.9 1292.6,252.7 1293.9,258.7 1295.3,261.2 1296.6,264.5 1298.0,256.9 1299.3,258.1 1300.7,257.8 1302.0,249.9 1303.4,245.9 1304.7,247.5 1306.1,246.0 1307.4,254.8 1308.8,263.6 1310.1,246.3 1311.5,263.9 1312.8,259.9 1314.2,263.8 1315.5,263.7 1316.9,261.3 1318.2,263.6 1319.6,253.1 1320.9,249.0 1322.3,257.9 1323.6,263.4 1325.0,260.2 1326.3,259.5 1327.7,255.8 1329.0,252.9 1330.4,258.7 1331.7,250.6 1333.1,254.4 1334.4,262.4 1335.8,262.9 1337.1,248.1 1338.5,255.5 1339.8,249.4 1341.2,252.9 1342.5,256.1 1343.9,259.0 1345.2,258.8 1346.6,259.2 1347.9,256.7 1349.3,252.7 1350.6,256.6 1352.0,254.6 1353.3,258.0 1354.7,255.6 1356.0,255.1 1357.4,249.0 1358.7,255.9 1360.1,253.9 1361.4,255.9 1362.8,255.2 1364.1,262.2 1365.5,262.2 1366.8,262.2 1368.2,254.8 1369.5,257.4 1370.9,255.1 1372.2,253.2 1373.6,257.3 1374.9,254.4 1376.3,262.0 1377.6,256.8 1379.0,258.3 1380.3,254.7 1381.7,255.0 1383.0,255.0 1384.4,261.4 1385.7,260.8 1387.1,258.1 1388.4,254.4 1389.8,256.5 1391.1,258.1 1392.5,253.7 1393.8,256.7 1395.2,250.7 1396.5,253.4 1397.9,254.3 1399.2,256.1 1400.6,262.0 1401.9,252.5 1403.3,256.5 1404.6,254.6 1406.0,252.6 1407.3,253.5 1408.7,251.8 1410.0,257.5 1411.4,261.1 1412.7,253.2 1414.1,257.3 1415.4,258.1 1416.8,251.9 1418.1,255.1 1419.5,254.3 1420.8,253.2 1422.2,252.2 1423.5,252.3 1424.9,252.4 1426.2,252.4 1427.6,258.1 1428.9,254.7 1430.3,259.9 1431.6,256.7 1433.0,257.8 1434.3,255.5 1435.7,256.1 1437.0,258.2 1438.4,258.1 1439.7,260.4 1441.1,257.8 1442.4,259.1 1443.8,259.9 1445.1,266.2 1446.5,269.2 1447.8,270.3 1449.2,273.3 1450.5,275.5 1451.9,275.1 1453.2,273.7 1454.6,269.9 1455.9,266.4 1457.3,263.2 1458.6,261.8 1460.0,260.7 1461.3,257.6" fill="none" stroke="#ff7f0e" stroke-width="2.25" stroke-linejoin="round"/>
</g>
<path d="M115.50 518.5v4.9M284.50 518.5v4.9M452.50 518.5v4.9M620.50 518.5v4.9M789.50 518.5v4.9M957.50 518.5v4.9M1125.50 518.5v4.9M1294.50 518.5v4.9M115.5 95.50h-4.9M115.5 174.50h-4.9M115.5 253.50h-4.9M115.5 332.50h-4.9M115.5 411.50h-4.9M115.5 490.50h-4.9" stroke="#000" stroke-width="1.11" fill="none"/>
<rect x="115.5" y="38.5" width="1347.0" height="480.0" fill="none" stroke="#000" stroke-width="1.11"/>
<rect x="1047.3" y="48.8" width="406.4" height="79.4" rx="2.8" fill="#fff" fill-opacity="0.8" stroke="#ccc" stroke-opacity="0.8" stroke-width="1.39"/>
<circle cx="1073.6" cy="63.2" r="2.9" fill="#1f77b4"/>
<path d="M1053.1 101.6H1092" stroke="#ff7f0e" stroke-width="2.08"/>
<text x="1105.8" y="69.4" font-size="18.34" text-anchor="start" textLength="98.6" lengthAdjust="spacingAndGlyphs">Raw Data</text>
<text x="1105.8" y="95.6" font-size="18.34" text-anchor="start" textLength="270.2" lengthAdjust="spacingAndGlyphs">Butterworth Filtered Data</text>
<text x="1105.6" y="117.4" font-size="18.34" text-anchor="start" textLength="339.7" lengthAdjust="spacingAndGlyphs">(N=6, Tc=3.3333 min, Type: low)</text>
<rect x="173.2" y="575.5" width="499.9" height="479.0" fill="#e8e8e8"/>
<path d="M173.6 575.5V1054.5M672.5 575.5V1054.5" stroke="#dcdcdc" stroke-width="1"/>
<path d="M284.50 1054.5V575.5M452.50 1054.5V575.5M620.50 1054.5V575.5M789.50 1054.5V575.5M957.50 1054.5V575.5M1125.50 1054.5V575.5M1294.50 1054.5V575.5M115.5 596.50H1462.5M115.5 651.50H1462.5M115.5 705.50H1462.5M115.5 760.50H1462.5M115.5 815.50H1462.5M115.5 869.50H1462.5M115.5 924.50H1462.5M115.5 978.50H1462.5M115.5 1033.50H1462.5" stroke="#b0b0b0" stroke-width="1.11" stroke-dasharray="1.11 1.83" fill="none"/>
<g clip-path="url(#c2)">
<polygon points="115.5,1019.6 116.5,1020.4 117.5,1019.7 118.5,1020.2 119.5,1017.3 120.5,1015.0 121.5,1013.7 122.5,1013.9 123.5,1013.9 124.5,1013.4 125.5,1012.3 126.5,1012.7 127.5,1011.4 128.5,1013.3 129.5,1013.7 130.5,1013.1 131.5,1011.7 132.5,1011.9 133.5,1010.3 134.5,1009.1 135.5,1008.2 136.5,1011.0 137.5,1010.1 138.5,1008.9 139.5,1008.0 140.5,1008.1 141.5,1010.9 142.5,1012.6 143.5,1011.4 144.5,1009.9 145.5,1005.9 146.5,1007.3 147.5,1007.7 148.5,1007.9 149.5,1005.1 150.5,1003.1 151.5,1002.5 152.5,1003.0 153.5,1003.0 154.5,1005.4 155.5,1006.6 156.5,1004.9 157.5,1006.0 158.5,1006.1 159.5,1002.8 160.5,997.4 161.5,997.5 162.5,995.7 163.5,992.5 164.5,990.4 165.5,990.9 166.5,990.5 167.5,987.1 168.5,984.7 169.5,985.8 170.5,985.6 171.5,988.2 172.5,987.1 173.5,985.3 174.5,978.5 175.5,980.0 176.5,981.0 177.5,983.1 178.5,978.9 179.5,972.2 180.5,968.1 181.5,962.7 182.5,961.8 183.5,957.8 184.5,958.3 185.5,956.0 186.5,955.1 187.5,951.0 188.5,946.9 189.5,947.0 190.5,949.8 191.5,950.4 192.5,952.5 193.5,952.2 194.5,952.6 195.5,949.7 196.5,952.9 197.5,955.5 198.5,956.5 199.5,955.3 200.5,953.6 201.5,953.0 202.5,954.6 203.5,954.9 204.5,956.1 205.5,943.7 206.5,939.1 207.5,933.5 208.5,931.3 209.5,926.8 210.5,920.9 211.5,915.7 212.5,910.1 213.5,907.1 214.5,906.0 215.5,900.8 216.5,898.1 217.5,899.2 218.5,903.0 219.5,904.6 220.5,906.7 221.5,909.4 222.5,906.8 223.5,905.4 224.5,903.4 225.5,901.9 226.5,897.1 227.5,894.8 228.5,889.4 229.5,886.2 230.5,879.5 231.5,878.1 232.5,872.8 233.5,870.5 234.5,865.1 235.5,861.4 236.5,862.7 237.5,860.6 238.5,857.6 239.5,854.6 240.5,854.9 241.5,858.2 242.5,860.0 243.5,859.5 244.5,861.5 245.5,860.9 246.5,861.1 247.5,857.8 248.5,856.8 249.5,856.7 250.5,857.8 251.5,861.1 252.5,855.4 253.5,852.1 254.5,845.8 255.5,847.7 256.5,845.8 257.5,840.7 258.5,835.3 259.5,829.7 260.5,831.7 261.5,830.6 262.5,828.7 263.5,821.2 264.5,820.1 265.5,821.2 266.5,824.6 267.5,824.7 268.5,821.3 269.5,818.7 270.5,821.1 271.5,822.5 272.5,823.2 273.5,822.4 274.5,821.3 275.5,819.2 276.5,815.6 277.5,818.0 278.5,822.2 279.5,823.1 280.5,821.5 281.5,824.8 282.5,823.5 283.5,827.4 284.5,827.1 285.5,827.1 286.5,822.7 287.5,818.0 288.5,813.8 289.5,814.9 290.5,814.1 291.5,810.4 292.5,802.4 293.5,792.5 294.5,784.0 295.5,780.1 296.5,778.8 297.5,779.0 298.5,777.2 299.5,773.3 300.5,773.1 301.5,771.3 302.5,771.3 303.5,772.0 304.5,774.2 305.5,775.3 306.5,776.6 307.5,781.9 308.5,784.7 309.5,787.7 310.5,786.8 311.5,788.0 312.5,786.4 313.5,783.6 314.5,782.9 315.5,782.7 316.5,781.5 317.5,779.1 318.5,775.8 319.5,768.1 320.5,767.6 321.5,767.2 322.5,769.2 323.5,767.8 324.5,764.3 325.5,760.7 326.5,756.0 327.5,760.0 328.5,763.2 329.5,761.8 330.5,760.2 331.5,762.2 332.5,765.1 333.5,768.7 334.5,768.8 335.5,769.1 336.5,771.0 337.5,770.7 338.5,773.8 339.5,772.6 340.5,769.5 341.5,769.5 342.5,766.4 343.5,769.4 344.5,768.9 345.5,769.3 346.5,769.8 347.5,768.2 348.5,767.6 349.5,771.6 350.5,773.9 351.5,776.1 352.5,774.0 353.5,775.2 354.5,776.4 355.5,779.9 356.5,785.1 357.5,790.4 358.5,791.8 359.5,792.7 360.5,792.9 361.5,790.2 362.5,784.8 363.5,782.5 364.5,784.9 365.5,786.0 366.5,788.2 367.5,786.0 368.5,789.3 369.5,791.0 370.5,792.7 371.5,793.1 372.5,798.2 373.5,801.8 374.5,804.2 375.5,803.3 376.5,804.4 377.5,806.1 378.5,804.1 379.5,803.6 380.5,804.0 381.5,805.1 382.5,803.8 383.5,802.4 384.5,801.1 385.5,802.3 386.5,803.7 387.5,805.0 388.5,804.7 389.5,805.6 390.5,802.2 391.5,804.9 392.5,805.9 393.5,806.1 394.5,806.9 395.5,807.5 396.5,810.6 397.5,810.1 398.5,806.8 399.5,805.2 400.5,806.6 401.5,807.0 402.5,807.1 403.5,806.6 404.5,805.5 405.5,805.2 406.5,804.4 407.5,802.3 408.5,806.8 409.5,811.8 410.5,818.0 411.5,822.2 412.5,824.1 413.5,831.8 414.5,839.0 415.5,844.6 416.5,848.5 417.5,846.6 418.5,844.6 419.5,840.2 420.5,841.3 421.5,845.8 422.5,846.2 423.5,845.1 424.5,847.7 425.5,849.9 426.5,852.8 427.5,851.9 428.5,854.1 429.5,853.0 430.5,856.6 431.5,853.8 432.5,855.5 433.5,856.0 434.5,856.9 435.5,850.9 436.5,843.7 437.5,838.3 438.5,833.6 439.5,827.6 440.5,821.9 441.5,817.4 442.5,814.1 443.5,811.9 444.5,810.8 445.5,807.6 446.5,804.2 447.5,800.8 448.5,800.0 449.5,799.7 450.5,797.0 451.5,794.5 452.5,792.9 453.5,790.6 454.5,791.2 455.5,790.9 456.5,789.5 457.5,782.4 458.5,776.7 459.5,771.4 460.5,765.9 461.5,766.3 462.5,771.3 463.5,774.0 464.5,774.7 465.5,771.6 466.5,774.2 467.5,777.6 468.5,779.5 469.5,786.8 470.5,792.4 471.5,794.6 472.5,795.7 473.5,794.7 474.5,799.6 475.5,797.1 476.5,796.1 477.5,793.5 478.5,787.4 479.5,778.2 480.5,776.8 481.5,776.6 482.5,778.4 483.5,774.2 484.5,770.7 485.5,765.1 486.5,765.1 487.5,760.9 488.5,760.8 489.5,758.0 490.5,756.1 491.5,756.7 492.5,757.4 493.5,758.6 494.5,757.9 495.5,759.6 496.5,761.8 497.5,766.3 498.5,769.9 499.5,776.7 500.5,779.1 501.5,781.6 502.5,781.4 503.5,778.3 504.5,775.3 505.5,771.9 506.5,771.1 507.5,771.9 508.5,768.4 509.5,772.1 510.5,778.5 511.5,784.9 512.5,789.3 513.5,792.6 514.5,796.3 515.5,798.5 516.5,804.4 517.5,810.7 518.5,818.3 519.5,824.2 520.5,829.7 521.5,833.5 522.5,836.7 523.5,837.5 524.5,837.7 525.5,838.4 526.5,838.9 527.5,844.5 528.5,848.3 529.5,851.0 530.5,853.4 531.5,858.7 532.5,867.1 533.5,878.9 534.5,888.0 535.5,900.0 536.5,906.4 537.5,908.0 538.5,908.2 539.5,906.2 540.5,905.6 541.5,906.1 542.5,908.7 543.5,914.2 544.5,919.7 545.5,918.5 546.5,912.4 547.5,907.2 548.5,900.1 549.5,894.9 550.5,886.7 551.5,877.4 552.5,868.3 553.5,859.4 554.5,850.4 555.5,844.1 556.5,839.8 557.5,841.0 558.5,838.0 559.5,834.9 560.5,833.9 561.5,832.5 562.5,830.6 563.5,829.9 564.5,826.1 565.5,832.4 566.5,838.2 567.5,845.6 568.5,848.5 569.5,855.1 570.5,863.1 571.5,869.9 572.5,868.2 573.5,867.9 574.5,861.0 575.5,853.0 576.5,844.9 577.5,843.2 578.5,839.9 579.5,833.4 580.5,825.9 581.5,819.8 582.5,815.3 583.5,812.4 584.5,809.1 585.5,806.8 586.5,805.3 587.5,805.2 588.5,803.6 589.5,803.8 590.5,801.5 591.5,799.3 592.5,799.1 593.5,797.9 594.5,803.7 595.5,806.3 596.5,811.3 597.5,813.5 598.5,819.2 599.5,821.6 600.5,824.1 601.5,826.1 602.5,831.7 603.5,834.1 604.5,840.7 605.5,845.5 606.5,854.7 607.5,858.9 608.5,864.0 609.5,867.6 610.5,871.8 611.5,874.2 612.5,877.6 613.5,879.5 614.5,880.0 615.5,878.0 616.5,875.2 617.5,874.3 618.5,871.4 619.5,870.2 620.5,868.2 621.5,864.7 622.5,863.9 623.5,862.8 624.5,862.9 625.5,859.2 626.5,851.8 627.5,848.9 628.5,846.9 629.5,845.4 630.5,845.9 631.5,846.9 632.5,852.5 633.5,856.1 634.5,858.9 635.5,859.8 636.5,856.6 637.5,856.6 638.5,857.8 639.5,862.6 640.5,871.0 641.5,876.3 642.5,882.9 643.5,882.7 644.5,884.7 645.5,884.6 646.5,883.3 647.5,883.1 648.5,884.0 649.5,888.5 650.5,889.4 651.5,890.1 652.5,886.0 653.5,886.0 654.5,883.6 655.5,883.1 656.5,879.1 657.5,878.7 658.5,878.0 659.5,879.7 660.5,884.3 661.5,886.8 662.5,888.0 663.5,887.9 664.5,890.8 665.5,894.5 666.5,894.7 667.5,892.5 668.5,894.2 669.5,895.2 670.5,902.0 671.5,900.0 672.5,901.0 673.5,899.8 674.5,898.6 675.5,900.0 676.5,900.4 677.5,902.9 678.5,904.3 679.5,902.2 680.5,906.3 681.5,906.9 682.5,910.5 683.5,910.8 684.5,909.3 685.5,909.1 686.5,908.2 687.5,903.8 688.5,904.6 689.5,903.9 690.5,909.1 691.5,908.5 692.5,912.6 693.5,915.4 694.5,916.4 695.5,918.4 696.5,926.0 697.5,929.3 698.5,932.6 699.5,930.0 700.5,935.9 701.5,944.7 702.5,946.0 703.5,948.1 704.5,948.0 705.5,941.4 706.5,942.3 707.5,943.7 708.5,949.8 709.5,950.9 710.5,951.1 711.5,950.0 712.5,951.3 713.5,949.9 714.5,951.4 715.5,955.4 716.5,957.3 717.5,959.6 718.5,960.8 719.5,964.3 720.5,961.5 721.5,963.2 722.5,964.6 723.5,966.8 724.5,964.7 725.5,969.1 726.5,969.5 727.5,971.5 728.5,970.0 729.5,970.5 730.5,969.7 731.5,970.5 732.5,973.9 733.5,977.7 734.5,978.7 735.5,984.3 736.5,984.1 737.5,984.4 738.5,984.6 739.5,986.2 740.5,990.0 741.5,990.2 742.5,993.1 743.5,990.6 744.5,987.6 745.5,985.5 746.5,985.2 747.5,987.0 748.5,988.5 749.5,987.8 750.5,986.8 751.5,984.3 752.5,984.4 753.5,984.9 754.5,987.5 755.5,989.4 756.5,990.6 757.5,991.6 758.5,991.8 759.5,993.2 760.5,990.4 761.5,995.9 762.5,993.0 763.5,991.4 764.5,986.5 765.5,991.5 766.5,992.9 767.5,993.7 768.5,995.3 769.5,996.2 770.5,996.6 771.5,997.9 772.5,998.2 773.5,1001.3 774.5,1003.5 775.5,1006.0 776.5,1006.0 777.5,1004.8 778.5,1006.1 779.5,1007.1 780.5,1007.0 781.5,1007.6 782.5,1009.9 783.5,1008.1 784.5,1011.1 785.5,1009.9 786.5,1011.4 787.5,1014.2 788.5,1013.1 789.5,1017.3 790.5,1015.0 791.5,1012.5 792.5,1008.6 793.5,1007.2 794.5,1009.9 795.5,1011.6 796.5,1012.0 797.5,1008.8 798.5,1006.8 799.5,1008.7 800.5,1011.2 801.5,1013.6 802.5,1014.5 803.5,1017.0 804.5,1016.3 805.5,1015.0 806.5,1016.7 807.5,1016.7 808.5,1017.2 809.5,1016.3 810.5,1015.9 811.5,1014.9 812.5,1013.3 813.5,1014.0 814.5,1015.7 815.5,1015.1 816.5,1016.7 817.5,1017.3 818.5,1015.4 819.5,1013.9 820.5,1013.0 821.5,1016.6 822.5,1017.7 823.5,1017.1 824.5,1016.0 825.5,1017.0 826.5,1018.5 827.5,1020.7 828.5,1022.2 829.5,1023.0 830.5,1022.7 831.5,1022.6 832.5,1023.0 833.5,1023.8 834.5,1023.2 835.5,1022.9 836.5,1023.3 837.5,1023.8 838.5,1023.6 839.5,1023.8 840.5,1025.4 841.5,1026.7 842.5,1026.7 843.5,1026.9 844.5,1027.4 845.5,1027.6 846.5,1027.2 847.5,1026.7 848.5,1027.4 849.5,1027.5 850.5,1027.7 851.5,1027.8 852.5,1026.9 853.5,1027.9 854.5,1027.9 855.5,1028.3 856.5,1027.3 857.5,1027.1 858.5,1027.6 859.5,1028.3 860.5,1027.8 861.5,1027.2 862.5,1027.0 863.5,1027.4 864.5,1028.2 865.5,1028.8 866.5,1029.0 867.5,1028.8 868.5,1028.6 869.5,1028.6 870.5,1028.5 871.5,1028.6 872.5,1028.3 873.5,1029.3 874.5,1029.4 875.5,1029.7 876.5,1029.0 877.5,1028.8 878.5,1029.4 879.5,1029.7 880.5,1030.2 881.5,1029.7 882.5,1030.1 883.5,1029.7 884.5,1030.2 885.5,1029.9 886.5,1030.5 887.5,1030.7 888.5,1030.4 889.5,1030.7 890.5,1030.6 891.5,1031.0 892.5,1030.9 893.5,1031.1 894.5,1031.4 895.5,1031.4 896.5,1031.3 897.5,1031.9 898.5,1032.3 899.5,1032.6 900.5,1032.6 901.5,1032.5 902.5,1032.3 903.5,1032.1 904.5,1032.2 905.5,1032.2 906.5,1032.2 907.5,1032.1 908.5,1032.0 909.5,1032.2 910.5,1032.2 911.5,1032.4 912.5,1032.6 913.5,1032.8 914.5,1032.6 915.5,1032.5 916.5,1032.4 917.5,1032.5 918.5,1032.0 919.5,1032.2 920.5,1032.1 921.5,1032.4 922.5,1032.2 923.5,1032.4 924.5,1032.0 925.5,1031.9 926.5,1031.7 927.5,1032.1 928.5,1031.9 929.5,1032.0 930.5,1031.8 931.5,1032.2 932.5,1032.1 933.5,1032.5 934.5,1032.4 935.5,1032.3 936.5,1032.1 937.5,1032.0 938.5,1032.2 939.5,1032.2 940.5,1032.1 941.5,1032.0 942.5,1032.2 943.5,1032.3 944.5,1032.8 945.5,1032.7 946.5,1032.9 947.5,1032.7 948.5,1033.0 949.5,1033.4 950.5,1033.3 951.5,1032.8 952.5,1032.5 953.5,1032.4 954.5,1032.5 955.5,1032.7 956.5,1032.7 957.5,1032.8 958.5,1032.3 959.5,1032.2 960.5,1032.2 961.5,1032.1 962.5,1032.0 963.5,1031.6 964.5,1031.8 965.5,1031.8 966.5,1032.1 967.5,1032.5 968.5,1032.5 969.5,1032.4 970.5,1032.6 971.5,1032.7 972.5,1032.7 973.5,1032.7 974.5,1032.7 975.5,1032.7 976.5,1032.6 977.5,1032.6 978.5,1032.6 979.5,1032.5 980.5,1032.4 981.5,1032.6 982.5,1032.7 983.5,1032.9 984.5,1032.8 985.5,1032.7 986.5,1032.7 987.5,1032.9 988.5,1032.9 989.5,1032.8 990.5,1032.7 991.5,1032.6 992.5,1032.8 993.5,1032.7 994.5,1032.7 995.5,1032.6 996.5,1032.9 997.5,1033.0 998.5,1032.8 999.5,1032.9 1000.5,1032.7 1001.5,1032.7 1002.5,1032.6 1003.5,1032.7 1004.5,1032.8 1005.5,1032.7 1006.5,1032.7 1007.5,1032.8 1008.5,1032.9 1009.5,1033.0 1010.5,1033.0 1011.5,1033.2 1012.5,1033.1 1013.5,1032.9 1014.5,1032.7 1015.5,1032.8 1016.5,1032.8 1017.5,1032.7 1018.5,1032.6 1019.5,1032.8 1020.5,1032.7 1021.5,1032.6 1022.5,1032.6 1023.5,1032.5 1024.5,1032.5 1025.5,1032.5 1026.5,1032.5 1027.5,1032.6 1028.5,1032.5 1029.5,1032.6 1030.5,1032.5 1031.5,1032.6 1032.5,1032.6 1033.5,1032.6 1034.5,1032.8 1035.5,1032.9 1036.5,1033.1 1037.5,1033.1 1038.5,1033.0 1039.5,1033.0 1040.5,1033.0 1041.5,1033.0 1042.5,1033.1 1043.5,1033.0 1044.5,1032.9 1045.5,1032.8 1046.5,1032.7 1047.5,1032.7 1048.5,1032.7 1049.5,1032.7 1050.5,1032.8 1051.5,1032.9 1052.5,1032.8 1053.5,1032.8 1054.5,1032.8 1055.5,1032.8 1056.5,1032.6 1057.5,1032.7 1058.5,1032.8 1059.5,1033.0 1060.5,1032.8 1061.5,1032.9 1062.5,1033.0 1063.5,1033.0 1064.5,1032.9 1065.5,1033.0 1066.5,1033.1 1067.5,1033.2 1068.5,1032.9 1069.5,1032.9 1070.5,1033.0 1071.5,1033.0 1072.5,1033.0 1073.5,1032.8 1074.5,1032.7 1075.5,1032.7 1076.5,1032.5 1077.5,1032.7 1078.5,1032.8 1079.5,1032.9 1080.5,1032.7 1081.5,1032.6 1082.5,1032.4 1083.5,1032.6 1084.5,1032.4 1085.5,1032.7 1086.5,1032.9 1087.5,1033.0 1088.5,1032.8 1089.5,1032.7 1090.5,1032.6 1091.5,1032.8 1092.5,1032.9 1093.5,1032.9 1094.5,1032.6 1095.5,1032.5 1096.5,1032.7 1097.5,1032.9 1098.5,1032.7 1099.5,1032.8 1100.5,1032.7 1101.5,1032.5 1102.5,1032.6 1103.5,1032.7 1104.5,1033.0 1105.5,1032.8 1106.5,1032.9 1107.5,1033.1 1108.5,1033.0 1109.5,1032.9 1110.5,1032.8 1111.5,1032.8 1112.5,1032.8 1113.5,1032.8 1114.5,1032.9 1115.5,1032.8 1116.5,1032.7 1117.5,1032.8 1118.5,1032.9 1119.5,1032.9 1120.5,1032.8 1121.5,1032.9 1122.5,1032.6 1123.5,1032.5 1124.5,1032.5 1125.5,1032.8 1126.5,1033.0 1127.5,1032.8 1128.5,1032.9 1129.5,1032.8 1130.5,1033.1 1131.5,1032.8 1132.5,1032.6 1133.5,1032.6 1134.5,1032.7 1135.5,1032.6 1136.5,1032.7 1137.5,1032.7 1138.5,1032.9 1139.5,1032.8 1140.5,1032.8 1141.5,1032.9 1142.5,1033.1 1143.5,1033.1 1144.5,1033.2 1145.5,1033.2 1146.5,1033.1 1147.5,1033.0 1148.5,1032.7 1149.5,1032.7 1150.5,1032.9 1151.5,1033.0 1152.5,1033.1 1153.5,1033.1 1154.5,1032.9 1155.5,1033.0 1156.5,1033.0 1157.5,1032.9 1158.5,1032.8 1159.5,1032.5 1160.5,1032.7 1161.5,1032.9 1162.5,1033.0 1163.5,1033.1 1164.5,1033.2 1165.5,1033.2 1166.5,1033.3 1167.5,1033.5 1168.5,1033.5 1169.5,1033.3 1170.5,1033.1 1171.5,1033.0 1172.5,1033.0 1173.5,1033.0 1174.5,1032.9 1175.5,1033.0 1176.5,1033.1 1177.5,1033.2 1178.5,1033.0 1179.5,1032.8 1180.5,1032.9 1181.5,1032.9 1182.5,1032.9 1183.5,1032.6 1184.5,1032.9 1185.5,1032.8 1186.5,1033.0 1187.5,1032.8 1188.5,1032.9 1189.5,1032.6 1190.5,1032.9 1191.5,1033.0 1192.5,1033.3 1193.5,1033.2 1194.5,1033.1 1195.5,1032.9 1196.5,1032.8 1197.5,1032.5 1198.5,1032.6 1199.5,1032.6 1200.5,1032.7 1201.5,1032.9 1202.5,1033.0 1203.5,1033.1 1204.5,1033.2 1205.5,1033.3 1206.5,1033.4 1207.5,1033.3 1208.5,1033.2 1209.5,1033.0 1210.5,1033.1 1211.5,1032.9 1212.5,1032.7 1213.5,1032.7 1214.5,1032.7 1215.5,1032.8 1216.5,1032.9 1217.5,1032.9 1218.5,1032.9 1219.5,1032.8 1220.5,1032.8 1221.5,1033.1 1222.5,1033.0 1223.5,1033.2 1224.5,1033.3 1225.5,1033.2 1226.5,1033.1 1227.5,1033.0 1228.5,1032.9 1229.5,1032.6 1230.5,1032.5 1231.5,1032.6 1232.5,1032.8 1233.5,1032.6 1234.5,1032.6 1235.5,1032.5 1236.5,1032.4 1237.5,1032.3 1238.5,1032.5 1239.5,1032.5 1240.5,1032.6 1241.5,1032.5 1242.5,1032.6 1243.5,1032.3 1244.5,1032.3 1245.5,1032.4 1246.5,1032.7 1247.5,1032.6 1248.5,1032.5 1249.5,1032.4 1250.5,1032.5 1251.5,1032.5 1252.5,1032.8 1253.5,1032.8 1254.5,1032.9 1255.5,1032.8 1256.5,1032.7 1257.5,1032.5 1258.5,1032.5 1259.5,1032.7 1260.5,1032.9 1261.5,1032.7 1262.5,1032.8 1263.5,1032.8 1264.5,1032.7 1265.5,1032.7 1266.5,1032.8 1267.5,1032.8 1268.5,1032.8 1269.5,1032.8 1270.5,1032.8 1271.5,1032.7 1272.5,1032.5 1273.5,1032.7 1274.5,1032.7 1275.5,1032.9 1276.5,1033.1 1277.5,1033.2 1278.5,1033.1 1279.5,1033.2 1280.5,1033.0 1281.5,1032.9 1282.5,1032.8 1283.5,1032.5 1284.5,1032.3 1285.5,1032.5 1286.5,1032.4 1287.5,1032.2 1288.5,1032.1 1289.5,1032.2 1290.5,1032.5 1291.5,1032.4 1292.5,1032.4 1293.5,1032.4 1294.5,1032.1 1295.5,1032.2 1296.5,1032.6 1297.5,1032.5 1298.5,1032.7 1299.5,1032.2 1300.5,1032.4 1301.5,1032.5 1302.5,1032.6 1303.5,1032.6 1304.5,1032.6 1305.5,1032.4 1306.5,1032.3 1307.5,1032.4 1308.5,1032.4 1309.5,1032.5 1310.5,1032.4 1311.5,1032.5 1312.5,1032.4 1313.5,1032.3 1314.5,1032.4 1315.5,1032.5 1316.5,1032.5 1317.5,1032.5 1318.5,1033.0 1319.5,1032.7 1320.5,1032.8 1321.5,1032.7 1322.5,1032.9 1323.5,1033.0 1324.5,1033.0 1325.5,1032.7 1326.5,1032.6 1327.5,1032.4 1328.5,1032.5 1329.5,1032.6 1330.5,1032.8 1331.5,1032.8 1332.5,1032.6 1333.5,1032.4 1334.5,1032.5 1335.5,1032.5 1336.5,1032.6 1337.5,1033.0 1338.5,1032.5 1339.5,1032.6 1340.5,1032.4 1341.5,1032.8 1342.5,1032.5 1343.5,1032.4 1344.5,1032.6 1345.5,1032.6 1346.5,1032.8 1347.5,1032.6 1348.5,1032.5 1349.5,1032.6 1350.5,1032.6 1351.5,1032.7 1352.5,1032.7 1353.5,1032.5 1354.5,1032.7 1355.5,1032.8 1356.5,1032.7 1357.5,1032.6 1358.5,1032.6 1359.5,1032.6 1360.5,1032.6 1361.5,1032.5 1362.5,1032.6 1363.5,1032.7 1364.5,1032.9 1365.5,1032.8 1366.5,1032.7 1367.5,1032.2 1368.5,1032.2 1369.5,1032.2 1370.5,1032.7 1371.5,1032.9 1372.5,1033.0 1373.5,1032.7 1374.5,1032.5 1375.5,1033.0 1376.5,1033.3 1377.5,1033.7 1378.5,1033.0 1379.5,1032.8 1380.5,1032.7 1381.5,1033.0 1382.5,1033.1 1383.5,1033.4 1384.5,1033.3 1385.5,1032.8 1386.5,1032.7 1387.5,1032.4 1388.5,1032.4 1389.5,1032.2 1390.5,1031.8 1391.5,1031.6 1392.5,1031.3 1393.5,1031.1 1394.5,1031.3 1395.5,1031.2 1396.5,1031.3 1397.5,1031.4 1398.5,1031.5 1399.5,1031.6 1400.5,1031.3 1401.5,1031.1 1402.5,1030.7 1403.5,1030.8 1404.5,1030.6 1405.5,1030.9 1406.5,1031.2 1407.5,1031.1 1408.5,1031.4 1409.5,1031.3 1410.5,1031.1 1411.5,1031.4 1412.5,1030.9 1413.5,1030.8 1414.5,1030.0 1415.5,1030.6 1416.5,1030.9 1417.5,1031.1 1418.5,1030.7 1419.5,1030.9 1420.5,1031.0 1421.5,1031.1 1422.5,1030.9 1423.5,1030.8 1424.5,1030.8 1425.5,1030.8 1426.5,1030.2 1427.5,1030.1 1428.5,1029.6 1429.5,1029.8 1430.5,1029.4 1431.5,1029.4 1432.5,1029.4 1433.5,1029.8 1434.5,1030.3 1435.5,1030.5 1436.5,1029.9 1437.5,1029.1 1438.5,1029.1 1439.5,1029.6 1440.5,1029.7 1441.5,1029.8 1442.5,1028.7 1443.5,1028.1 1444.5,1027.3 1445.5,1027.5 1446.5,1027.6 1447.5,1027.9 1448.5,1028.1 1449.5,1028.6 1450.5,1028.7 1451.5,1028.0 1452.5,1028.3 1453.5,1028.7 1454.5,1028.5 1455.5,1027.6 1456.5,1026.1 1457.5,1025.4 1458.5,1025.0 1459.5,1024.8 1460.5,1025.3 1461.5,1024.5 1462.5,1024.3 1462.5,1032.4 1461.5,1032.5 1460.5,1032.6 1459.5,1032.4 1458.5,1032.2 1457.5,1032.0 1456.5,1031.9 1455.5,1031.7 1454.5,1031.8 1453.5,1032.0 1452.5,1031.8 1451.5,1031.7 1450.5,1031.8 1449.5,1031.8 1448.5,1031.7 1447.5,1031.7 1446.5,1031.8 1445.5,1031.8 1444.5,1031.9 1443.5,1031.8 1442.5,1031.7 1441.5,1031.9 1440.5,1032.1 1439.5,1032.2 1438.5,1032.4 1437.5,1032.2 1436.5,1032.1 1435.5,1032.3 1434.5,1032.4 1433.5,1032.4 1432.5,1032.3 1431.5,1032.0 1430.5,1032.0 1429.5,1032.1 1428.5,1032.2 1427.5,1032.3 1426.5,1032.3 1425.5,1032.2 1424.5,1032.4 1423.5,1032.4 1422.5,1032.4 1421.5,1032.4 1420.5,1032.3 1419.5,1032.2 1418.5,1032.2 1417.5,1032.1 1416.5,1032.1 1415.5,1032.3 1414.5,1032.2 1413.5,1032.4 1412.5,1032.5 1411.5,1032.5 1410.5,1032.3 1409.5,1032.2 1408.5,1032.3 1407.5,1032.4 1406.5,1032.4 1405.5,1032.6 1404.5,1032.6 1403.5,1032.7 1402.5,1032.8 1401.5,1032.7 1400.5,1032.7 1399.5,1032.6 1398.5,1032.5 1397.5,1032.5 1396.5,1032.5 1395.5,1032.4 1394.5,1032.4 1393.5,1032.4 1392.5,1032.5 1391.5,1032.5 1390.5,1032.3 1389.5,1032.2 1388.5,1032.2 1387.5,1032.3 1386.5,1032.4 1385.5,1032.4 1384.5,1032.4 1383.5,1032.4 1382.5,1032.3 1381.5,1032.4 1380.5,1032.6 1379.5,1032.7 1378.5,1032.7 1377.5,1032.7 1376.5,1032.8 1375.5,1032.8 1374.5,1032.8 1373.5,1032.8 1372.5,1032.8 1371.5,1032.7 1370.5,1032.8 1369.5,1032.8 1368.5,1032.8 1367.5,1032.9 1366.5,1032.8 1365.5,1032.9 1364.5,1032.7 1363.5,1032.7 1362.5,1032.7 1361.5,1032.6 1360.5,1032.6 1359.5,1032.6 1358.5,1032.6 1357.5,1032.7 1356.5,1032.7 1355.5,1032.7 1354.5,1032.8 1353.5,1032.8 1352.5,1032.9 1351.5,1032.8 1350.5,1032.8 1349.5,1032.7 1348.5,1032.7 1347.5,1032.7 1346.5,1032.7 1345.5,1032.8 1344.5,1032.8 1343.5,1032.8 1342.5,1032.8 1341.5,1032.8 1340.5,1032.8 1339.5,1032.8 1338.5,1032.8 1337.5,1032.8 1336.5,1032.8 1335.5,1032.7 1334.5,1032.7 1333.5,1032.7 1332.5,1032.6 1331.5,1032.7 1330.5,1032.6 1329.5,1032.7 1328.5,1032.7 1327.5,1032.8 1326.5,1032.7 1325.5,1032.7 1324.5,1032.7 1323.5,1032.6 1322.5,1032.6 1321.5,1032.6 1320.5,1032.5 1319.5,1032.5 1318.5,1032.5 1317.5,1032.5 1316.5,1032.6 1315.5,1032.6 1314.5,1032.6 1313.5,1032.6 1312.5,1032.7 1311.5,1032.8 1310.5,1032.8 1309.5,1032.7 1308.5,1032.7 1307.5,1032.7 1306.5,1032.7 1305.5,1032.7 1304.5,1032.8 1303.5,1032.8 1302.5,1032.8 1301.5,1032.8 1300.5,1032.7 1299.5,1032.8 1298.5,1032.8 1297.5,1032.7 1296.5,1032.8 1295.5,1032.8 1294.5,1032.9 1293.5,1032.8 1292.5,1032.8 1291.5,1032.8 1290.5,1032.8 1289.5,1032.8 1288.5,1032.8 1287.5,1032.8 1286.5,1032.7 1285.5,1032.7 1284.5,1032.7 1283.5,1032.8 1282.5,1032.8 1281.5,1032.8 1280.5,1032.8 1279.5,1032.8 1278.5,1032.8 1277.5,1032.8 1276.5,1032.7 1275.5,1032.7 1274.5,1032.7 1273.5,1032.8 1272.5,1032.8 1271.5,1032.8 1270.5,1032.8 1269.5,1032.8 1268.5,1032.8 1267.5,1032.8 1266.5,1032.8 1265.5,1032.8 1264.5,1032.8 1263.5,1032.9 1262.5,1032.9 1261.5,1032.8 1260.5,1032.8 1259.5,1032.7 1258.5,1032.7 1257.5,1032.7 1256.5,1032.8 1255.5,1032.7 1254.5,1032.7 1253.5,1032.7 1252.5,1032.7 1251.5,1032.7 1250.5,1032.7 1249.5,1032.6 1248.5,1032.6 1247.5,1032.6 1246.5,1032.7 1245.5,1032.7 1244.5,1032.7 1243.5,1032.7 1242.5,1032.7 1241.5,1032.7 1240.5,1032.7 1239.5,1032.7 1238.5,1032.7 1237.5,1032.7 1236.5,1032.7 1235.5,1032.7 1234.5,1032.7 1233.5,1032.8 1232.5,1032.8 1231.5,1032.8 1230.5,1032.9 1229.5,1032.8 1228.5,1032.8 1227.5,1032.8 1226.5,1032.8 1225.5,1032.8 1224.5,1032.9 1223.5,1032.9 1222.5,1032.8 1221.5,1032.9 1220.5,1032.8 1219.5,1032.9 1218.5,1032.9 1217.5,1032.9 1216.5,1032.8 1215.5,1032.8 1214.5,1032.8 1213.5,1032.8 1212.5,1032.7 1211.5,1032.7 1210.5,1032.7 1209.5,1032.8 1208.5,1032.8 1207.5,1032.8 1206.5,1032.7 1205.5,1032.8 1204.5,1032.8 1203.5,1032.8 1202.5,1032.8 1201.5,1032.7 1200.5,1032.7 1199.5,1032.7 1198.5,1032.7 1197.5,1032.7 1196.5,1032.8 1195.5,1032.8 1194.5,1032.7 1193.5,1032.9 1192.5,1032.8 1191.5,1032.8 1190.5,1032.8 1189.5,1032.8 1188.5,1032.8 1187.5,1032.8 1186.5,1032.8 1185.5,1032.8 1184.5,1032.8 1183.5,1032.9 1182.5,1032.9 1181.5,1032.8 1180.5,1032.8 1179.5,1032.7 1178.5,1032.8 1177.5,1032.8 1176.5,1032.8 1175.5,1032.8 1174.5,1032.8 1173.5,1032.8 1172.5,1032.8 1171.5,1032.7 1170.5,1032.8 1169.5,1032.8 1168.5,1032.8 1167.5,1032.9 1166.5,1032.9 1165.5,1032.9 1164.5,1032.9 1163.5,1032.9 1162.5,1032.8 1161.5,1032.7 1160.5,1032.8 1159.5,1032.7 1158.5,1032.7 1157.5,1032.7 1156.5,1032.7 1155.5,1032.7 1154.5,1032.7 1153.5,1032.7 1152.5,1032.7 1151.5,1032.7 1150.5,1032.7 1149.5,1032.7 1148.5,1032.7 1147.5,1032.8 1146.5,1032.8 1145.5,1032.8 1144.5,1032.9 1143.5,1032.9 1142.5,1032.9 1141.5,1032.9 1140.5,1032.9 1139.5,1032.9 1138.5,1032.8 1137.5,1032.8 1136.5,1032.8 1135.5,1032.8 1134.5,1032.8 1133.5,1032.7 1132.5,1032.8 1131.5,1032.7 1130.5,1032.7 1129.5,1032.7 1128.5,1032.7 1127.5,1032.8 1126.5,1032.8 1125.5,1032.8 1124.5,1032.8 1123.5,1032.9 1122.5,1032.9 1121.5,1032.9 1120.5,1032.8 1119.5,1032.8 1118.5,1032.9 1117.5,1032.9 1116.5,1032.9 1115.5,1032.9 1114.5,1032.9 1113.5,1032.9 1112.5,1032.9 1111.5,1032.8 1110.5,1032.8 1109.5,1032.7 1108.5,1032.6 1107.5,1032.6 1106.5,1032.6 1105.5,1032.6 1104.5,1032.7 1103.5,1032.7 1102.5,1032.7 1101.5,1032.7 1100.5,1032.7 1099.5,1032.7 1098.5,1032.6 1097.5,1032.7 1096.5,1032.7 1095.5,1032.7 1094.5,1032.7 1093.5,1032.7 1092.5,1032.8 1091.5,1032.8 1090.5,1032.8 1089.5,1032.8 1088.5,1032.7 1087.5,1032.8 1086.5,1032.7 1085.5,1032.8 1084.5,1032.8 1083.5,1032.7 1082.5,1032.7 1081.5,1032.7 1080.5,1032.7 1079.5,1032.8 1078.5,1032.8 1077.5,1032.8 1076.5,1032.7 1075.5,1032.7 1074.5,1032.8 1073.5,1032.7 1072.5,1032.8 1071.5,1032.8 1070.5,1032.7 1069.5,1032.8 1068.5,1032.8 1067.5,1032.8 1066.5,1032.9 1065.5,1032.8 1064.5,1032.8 1063.5,1032.8 1062.5,1032.8 1061.5,1032.8 1060.5,1032.8 1059.5,1032.8 1058.5,1032.9 1057.5,1032.9 1056.5,1033.0 1055.5,1032.9 1054.5,1032.9 1053.5,1032.8 1052.5,1032.8 1051.5,1032.9 1050.5,1032.8 1049.5,1032.9 1048.5,1033.0 1047.5,1033.0 1046.5,1032.9 1045.5,1032.8 1044.5,1032.7 1043.5,1032.7 1042.5,1032.6 1041.5,1032.6 1040.5,1032.6 1039.5,1032.7 1038.5,1032.7 1037.5,1032.6 1036.5,1032.6 1035.5,1032.6 1034.5,1032.7 1033.5,1032.7 1032.5,1032.7 1031.5,1032.8 1030.5,1032.8 1029.5,1032.9 1028.5,1033.0 1027.5,1032.9 1026.5,1032.9 1025.5,1032.8 1024.5,1032.7 1023.5,1032.7 1022.5,1032.7 1021.5,1032.7 1020.5,1032.8 1019.5,1032.8 1018.5,1032.8 1017.5,1032.8 1016.5,1032.8 1015.5,1032.8 1014.5,1032.8 1013.5,1032.8 1012.5,1032.8 1011.5,1032.7 1010.5,1032.7 1009.5,1032.7 1008.5,1032.7 1007.5,1032.7 1006.5,1032.7 1005.5,1032.8 1004.5,1032.8 1003.5,1032.9 1002.5,1032.8 1001.5,1032.8 1000.5,1032.8 999.5,1032.8 998.5,1032.8 997.5,1032.7 996.5,1032.7 995.5,1032.7 994.5,1032.7 993.5,1032.7 992.5,1032.6 991.5,1032.7 990.5,1032.6 989.5,1032.7 988.5,1032.7 987.5,1032.6 986.5,1032.6 985.5,1032.5 984.5,1032.5 983.5,1032.5 982.5,1032.5 981.5,1032.5 980.5,1032.6 979.5,1032.6 978.5,1032.7 977.5,1032.6 976.5,1032.6 975.5,1032.4 974.5,1032.4 973.5,1032.4 972.5,1032.4 971.5,1032.5 970.5,1032.4 969.5,1032.4 968.5,1032.3 967.5,1032.4 966.5,1032.4 965.5,1032.4 964.5,1032.4 963.5,1032.3 962.5,1032.4 961.5,1032.4 960.5,1032.4 959.5,1032.5 958.5,1032.6 957.5,1032.5 956.5,1032.5 955.5,1032.5 954.5,1032.5 953.5,1032.5 952.5,1032.5 951.5,1032.5 950.5,1032.5 949.5,1032.4 948.5,1032.3 947.5,1032.2 946.5,1032.2 945.5,1032.1 944.5,1032.0 943.5,1032.1 942.5,1032.0 941.5,1032.1 940.5,1032.0 939.5,1032.1 938.5,1032.2 937.5,1032.2 936.5,1032.3 935.5,1032.3 934.5,1032.3 933.5,1032.3 932.5,1032.2 931.5,1032.3 930.5,1032.3 929.5,1032.3 928.5,1032.3 927.5,1032.3 926.5,1032.3 925.5,1032.4 924.5,1032.4 923.5,1032.4 922.5,1032.4 921.5,1032.4 920.5,1032.4 919.5,1032.3 918.5,1032.3 917.5,1032.4 916.5,1032.3 915.5,1032.2 914.5,1032.1 913.5,1032.1 912.5,1032.2 911.5,1032.2 910.5,1032.2 909.5,1032.2 908.5,1032.1 907.5,1032.3 906.5,1032.2 905.5,1032.2 904.5,1032.3 903.5,1032.1 902.5,1032.1 901.5,1032.2 900.5,1032.2 899.5,1032.2 898.5,1032.1 897.5,1032.1 896.5,1032.1 895.5,1032.0 894.5,1032.0 893.5,1031.9 892.5,1031.8 891.5,1031.9 890.5,1031.7 889.5,1031.8 888.5,1031.7 887.5,1031.6 886.5,1031.6 885.5,1031.6 884.5,1031.7 883.5,1031.6 882.5,1031.5 881.5,1031.4 880.5,1031.1 879.5,1031.0 878.5,1030.9 877.5,1031.0 876.5,1030.9 875.5,1030.9 874.5,1031.3 873.5,1031.0 872.5,1031.0 871.5,1031.0 870.5,1030.9 869.5,1031.0 868.5,1030.9 867.5,1031.0 866.5,1031.2 865.5,1031.3 864.5,1031.4 863.5,1031.3 862.5,1031.4 861.5,1031.3 860.5,1031.0 859.5,1031.2 858.5,1031.0 857.5,1031.1 856.5,1031.1 855.5,1031.2 854.5,1031.3 853.5,1031.2 852.5,1031.1 851.5,1030.9 850.5,1030.7 849.5,1030.4 848.5,1030.4 847.5,1030.5 846.5,1030.8 845.5,1030.7 844.5,1030.3 843.5,1030.1 842.5,1030.2 841.5,1030.5 840.5,1030.7 839.5,1030.4 838.5,1030.3 837.5,1029.8 836.5,1029.4 835.5,1029.7 834.5,1029.8 833.5,1029.6 832.5,1029.6 831.5,1029.4 830.5,1028.9 829.5,1029.3 828.5,1028.9 827.5,1028.6 826.5,1029.1 825.5,1028.5 824.5,1027.9 823.5,1027.9 822.5,1027.7 821.5,1028.3 820.5,1028.4 819.5,1027.8 818.5,1027.7 817.5,1027.4 816.5,1026.9 815.5,1027.1 814.5,1027.0 813.5,1027.3 812.5,1027.6 811.5,1027.3 810.5,1027.5 809.5,1027.7 808.5,1027.4 807.5,1027.6 806.5,1027.5 805.5,1027.1 804.5,1027.4 803.5,1027.2 802.5,1027.2 801.5,1027.4 800.5,1027.1 799.5,1027.2 798.5,1027.8 797.5,1028.1 796.5,1028.0 795.5,1027.6 794.5,1027.1 793.5,1027.4 792.5,1027.6 791.5,1028.1 790.5,1028.8 789.5,1028.2 788.5,1027.8 787.5,1027.6 786.5,1026.9 785.5,1026.5 784.5,1026.4 783.5,1026.3 782.5,1026.4 781.5,1026.1 780.5,1025.6 779.5,1025.2 778.5,1025.1 777.5,1024.6 776.5,1024.8 775.5,1023.4 774.5,1022.6 773.5,1022.2 772.5,1021.0 771.5,1020.7 770.5,1021.3 769.5,1021.8 768.5,1021.2 767.5,1022.3 766.5,1021.2 765.5,1021.7 764.5,1023.2 763.5,1022.3 762.5,1022.9 761.5,1022.9 760.5,1022.1 759.5,1022.2 758.5,1021.6 757.5,1021.9 756.5,1020.7 755.5,1020.7 754.5,1020.9 753.5,1021.3 752.5,1023.2 751.5,1022.9 750.5,1023.3 749.5,1023.8 748.5,1023.6 747.5,1023.0 746.5,1021.4 745.5,1020.5 744.5,1019.7 743.5,1019.6 742.5,1021.4 741.5,1022.2 740.5,1023.0 739.5,1022.9 738.5,1020.9 737.5,1020.1 736.5,1019.7 735.5,1018.7 734.5,1018.4 733.5,1018.9 732.5,1018.0 731.5,1018.1 730.5,1018.3 729.5,1017.7 728.5,1017.1 727.5,1016.3 726.5,1016.2 725.5,1014.9 724.5,1015.5 723.5,1015.5 722.5,1016.7 721.5,1017.4 720.5,1017.9 719.5,1017.8 718.5,1018.2 717.5,1018.3 716.5,1018.4 715.5,1019.8 714.5,1019.6 713.5,1019.3 712.5,1019.7 711.5,1018.5 710.5,1018.2 709.5,1019.7 708.5,1019.6 707.5,1020.0 706.5,1019.4 705.5,1018.4 704.5,1017.9 703.5,1019.4 702.5,1017.9 701.5,1016.9 700.5,1014.8 699.5,1012.7 698.5,1010.4 697.5,1009.2 696.5,1007.6 695.5,1004.5 694.5,1004.2 693.5,1006.2 692.5,1006.3 691.5,1005.3 690.5,1005.3 689.5,1005.4 688.5,1006.4 687.5,1006.6 686.5,1007.5 685.5,1006.7 684.5,1007.3 683.5,1004.4 682.5,1003.7 681.5,1005.5 680.5,1006.3 679.5,1007.9 678.5,1008.6 677.5,1006.1 676.5,1006.5 675.5,1006.5 674.5,1006.8 673.5,1007.6 672.5,1006.9 671.5,1005.0 670.5,1003.6 669.5,1002.3 668.5,999.5 667.5,1000.4 666.5,997.6 665.5,998.4 664.5,997.9 663.5,995.9 662.5,999.5 661.5,994.7 660.5,992.9 659.5,994.9 658.5,989.9 657.5,990.8 656.5,989.7 655.5,986.6 654.5,987.6 653.5,986.0 652.5,987.7 651.5,989.1 650.5,989.6 649.5,989.3 648.5,987.3 647.5,987.4 646.5,986.6 645.5,990.0 644.5,987.8 643.5,989.5 642.5,993.8 641.5,991.1 640.5,992.8 639.5,992.0 638.5,987.7 637.5,987.2 636.5,988.0 635.5,991.5 634.5,991.7 633.5,989.2 632.5,989.4 631.5,986.9 630.5,990.7 629.5,992.5 628.5,990.2 627.5,989.0 626.5,986.1 625.5,986.4 624.5,985.1 623.5,987.0 622.5,989.1 621.5,990.2 620.5,991.2 619.5,992.9 618.5,992.9 617.5,996.0 616.5,994.3 615.5,993.8 614.5,993.4 613.5,986.0 612.5,988.1 611.5,981.2 610.5,981.3 609.5,984.7 608.5,986.2 607.5,985.1 606.5,983.0 605.5,981.5 604.5,978.8 603.5,978.0 602.5,975.0 601.5,976.6 600.5,974.7 599.5,974.5 598.5,971.3 597.5,969.2 596.5,966.9 595.5,969.0 594.5,969.6 593.5,969.6 592.5,971.0 591.5,969.3 590.5,972.7 589.5,971.6 588.5,972.1 587.5,971.5 586.5,972.0 585.5,972.9 584.5,973.8 583.5,976.4 582.5,976.2 581.5,978.6 580.5,980.6 579.5,982.5 578.5,982.9 577.5,982.1 576.5,983.4 575.5,987.5 574.5,987.7 573.5,986.9 572.5,981.8 571.5,979.4 570.5,978.8 569.5,976.7 568.5,977.5 567.5,979.3 566.5,980.9 565.5,982.7 564.5,984.0 563.5,979.9 562.5,977.6 561.5,973.8 560.5,969.7 559.5,973.3 558.5,976.6 557.5,978.7 556.5,985.4 555.5,985.2 554.5,986.6 553.5,988.2 552.5,989.0 551.5,993.8 550.5,996.4 549.5,997.2 548.5,1001.8 547.5,1007.0 546.5,1007.7 545.5,1007.3 544.5,1004.4 543.5,1004.8 542.5,1001.3 541.5,999.4 540.5,1002.7 539.5,1001.4 538.5,1000.2 537.5,998.4 536.5,994.4 535.5,992.8 534.5,994.1 533.5,995.2 532.5,994.2 531.5,993.9 530.5,993.6 529.5,990.3 528.5,989.7 527.5,991.2 526.5,989.0 525.5,989.0 524.5,989.0 523.5,988.2 522.5,985.5 521.5,980.0 520.5,982.5 519.5,980.4 518.5,980.7 517.5,981.9 516.5,981.0 515.5,982.8 514.5,984.7 513.5,985.7 512.5,985.5 511.5,982.7 510.5,977.0 509.5,979.7 508.5,980.5 507.5,983.1 506.5,980.9 505.5,982.2 504.5,983.7 503.5,984.5 502.5,987.6 501.5,987.8 500.5,985.2 499.5,982.0 498.5,980.8 497.5,978.9 496.5,975.9 495.5,976.5 494.5,979.0 493.5,982.5 492.5,989.1 491.5,988.2 490.5,984.3 489.5,981.1 488.5,980.1 487.5,974.9 486.5,973.4 485.5,977.2 484.5,974.4 483.5,975.7 482.5,974.4 481.5,967.4 480.5,969.7 479.5,968.9 478.5,973.3 477.5,978.0 476.5,977.8 475.5,975.6 474.5,970.8 473.5,969.8 472.5,973.3 471.5,974.1 470.5,976.7 469.5,977.3 468.5,971.2 467.5,971.3 466.5,969.3 465.5,968.6 464.5,972.2 463.5,971.0 462.5,969.0 461.5,968.4 460.5,970.8 459.5,971.6 458.5,975.9 457.5,980.2 456.5,976.0 455.5,982.2 454.5,976.3 453.5,974.7 452.5,973.6 451.5,968.2 450.5,967.4 449.5,966.0 448.5,967.6 447.5,963.7 446.5,963.2 445.5,963.0 444.5,957.8 443.5,960.0 442.5,962.9 441.5,959.3 440.5,963.4 439.5,964.2 438.5,960.0 437.5,959.6 436.5,959.7 435.5,959.8 434.5,962.2 433.5,963.7 432.5,964.5 431.5,965.8 430.5,967.8 429.5,971.6 428.5,971.9 427.5,973.1 426.5,971.3 425.5,967.2 424.5,966.1 423.5,966.4 422.5,972.0 421.5,968.0 420.5,971.5 419.5,970.1 418.5,967.1 417.5,965.5 416.5,963.5 415.5,967.8 414.5,967.0 413.5,970.9 412.5,969.6 411.5,968.6 410.5,968.9 409.5,965.2 408.5,962.1 407.5,964.0 406.5,962.4 405.5,963.4 404.5,967.9 403.5,972.1 402.5,975.1 401.5,975.1 400.5,976.4 399.5,973.6 398.5,969.6 397.5,971.2 396.5,973.9 395.5,973.0 394.5,973.0 393.5,970.1 392.5,967.3 391.5,968.6 390.5,968.2 389.5,969.9 388.5,968.0 387.5,969.3 386.5,970.3 385.5,971.2 384.5,973.1 383.5,972.8 382.5,970.4 381.5,968.9 380.5,969.8 379.5,968.5 378.5,968.7 377.5,966.5 376.5,964.1 375.5,968.0 374.5,964.0 373.5,960.5 372.5,963.8 371.5,959.0 370.5,960.4 369.5,961.5 368.5,955.9 367.5,952.7 366.5,950.2 365.5,945.4 364.5,948.9 363.5,950.0 362.5,949.8 361.5,950.3 360.5,950.5 359.5,949.3 358.5,950.5 357.5,951.1 356.5,951.9 355.5,955.5 354.5,955.9 353.5,955.6 352.5,958.2 351.5,955.7 350.5,949.2 349.5,950.3 348.5,950.3 347.5,953.0 346.5,953.1 345.5,952.3 344.5,953.7 343.5,951.5 342.5,951.0 341.5,951.3 340.5,947.8 339.5,947.3 338.5,947.4 337.5,946.6 336.5,948.4 335.5,943.7 334.5,940.2 333.5,939.9 332.5,942.1 331.5,940.3 330.5,940.8 329.5,943.5 328.5,943.8 327.5,944.3 326.5,943.2 325.5,945.8 324.5,947.6 323.5,946.6 322.5,943.1 321.5,941.4 320.5,941.4 319.5,940.8 318.5,940.5 317.5,942.9 316.5,941.6 315.5,943.1 314.5,945.5 313.5,943.3 312.5,942.4 311.5,941.6 310.5,935.4 309.5,934.7 308.5,931.3 307.5,926.7 306.5,926.1 305.5,922.6 304.5,925.7 303.5,924.5 302.5,924.6 301.5,927.3 300.5,927.2 299.5,929.6 298.5,934.8 297.5,934.3 296.5,936.8 295.5,936.8 294.5,936.4 293.5,938.1 292.5,942.1 291.5,946.1 290.5,947.4 289.5,948.5 288.5,947.8 287.5,949.1 286.5,951.7 285.5,955.2 284.5,954.0 283.5,953.8 282.5,955.4 281.5,958.8 280.5,962.9 279.5,964.5 278.5,964.3 277.5,964.6 276.5,963.9 275.5,968.4 274.5,970.7 273.5,965.8 272.5,966.4 271.5,968.2 270.5,969.3 269.5,972.6 268.5,969.9 267.5,968.6 266.5,968.4 265.5,967.2 264.5,968.9 263.5,970.0 262.5,970.9 261.5,971.7 260.5,972.4 259.5,974.3 258.5,973.8 257.5,974.7 256.5,972.0 255.5,971.3 254.5,973.1 253.5,972.9 252.5,975.4 251.5,976.0 250.5,976.3 249.5,978.2 248.5,978.6 247.5,981.2 246.5,980.1 245.5,975.9 244.5,977.7 243.5,977.1 242.5,980.6 241.5,984.1 240.5,983.0 239.5,984.8 238.5,982.7 237.5,983.1 236.5,985.8 235.5,983.9 234.5,987.8 233.5,988.9 232.5,988.5 231.5,989.0 230.5,988.9 229.5,989.3 228.5,990.9 227.5,991.0 226.5,990.3 225.5,991.5 224.5,992.5 223.5,991.8 222.5,993.3 221.5,994.8 220.5,996.3 219.5,997.1 218.5,995.3 217.5,994.9 216.5,995.3 215.5,996.5 214.5,998.9 213.5,999.4 212.5,999.9 211.5,1001.5 210.5,1001.4 209.5,1002.7 208.5,1002.3 207.5,1003.9 206.5,1003.2 205.5,1004.7 204.5,1006.4 203.5,1006.8 202.5,1010.5 201.5,1010.8 200.5,1011.2 199.5,1012.5 198.5,1012.3 197.5,1013.7 196.5,1014.4 195.5,1013.3 194.5,1014.2 193.5,1013.6 192.5,1015.2 191.5,1016.3 190.5,1016.8 189.5,1018.1 188.5,1017.8 187.5,1017.0 186.5,1016.8 185.5,1016.3 184.5,1015.7 183.5,1016.5 182.5,1016.0 181.5,1017.3 180.5,1017.5 179.5,1018.2 178.5,1018.1 177.5,1017.7 176.5,1019.3 175.5,1020.5 174.5,1021.8 173.5,1021.2 172.5,1019.0 171.5,1019.2 170.5,1020.6 169.5,1021.9 168.5,1022.4 167.5,1021.7 166.5,1022.6 165.5,1022.7 164.5,1023.9 163.5,1024.8 162.5,1025.5 161.5,1026.9 160.5,1027.8 159.5,1027.7 158.5,1028.2 157.5,1028.1 156.5,1027.3 155.5,1028.5 154.5,1027.5 153.5,1026.7 152.5,1026.3 151.5,1026.9 150.5,1026.6 149.5,1027.8 148.5,1028.1 147.5,1027.6 146.5,1027.6 145.5,1026.3 144.5,1026.8 143.5,1026.8 142.5,1027.7 141.5,1027.1 140.5,1027.3 139.5,1027.7 138.5,1027.4 137.5,1027.9 136.5,1028.1 135.5,1027.0 134.5,1026.0 133.5,1025.6 132.5,1025.4 131.5,1025.8 130.5,1026.4 129.5,1026.5 128.5,1026.8 127.5,1027.4 126.5,1026.9 125.5,1027.0 124.5,1026.7 123.5,1026.5 122.5,1026.4 121.5,1025.8 120.5,1025.7 119.5,1026.0 118.5,1026.0 117.5,1026.2 116.5,1026.3 115.5,1026.4" fill="#1f77b4"/>
<path d="m115.2 1018.8h0m.1 9.8h0m.2-10.7h0m.3 .5h0m.4 8.5h0m.6-5.8h0m.5 6.5h0m.2-.4h0m.3-7.6h0m.4-.1h0m.1 7.9h0m1-9h0m.7 8.6h0m.3-12.3h0m.3-1.5h0m.1 14h0m.5-2.2h0m.2-13.5h0m1.1 16.2h0m0-13.9h0m.3 12.2h0m.5-13.3h0m.1 15.9h0m.8-16.2h0m.1 15.6h0m.2-13.7h0m.6 13.3h0m0-16.7h0m.2 2.3h0m.5 14.5h0m.4 .5h0m.5-16.8h0m.2 1.1h0m.2 16h0m.3-2.3h0m.5-16h0m.2 .8h0m.1 16.1h0m.8-16.2h0m.5 1.6h0m.4 14.6h0m.5 .7h0m.4-14.9h0m.6 15h0m.1-18.8h0m1 .8h0m.2 16.4h0m.2-.3h0m.1-15.2h0m.2-.7h0m.4 16.4h0m.2-19.5h0m.5 18.7h0m.1-16.1h0m1 18.8h0m.4-18.9h0m1 18h0m.2-16.3h0m.2 16h0m.4-18h0m.9-1.4h0m.2 .4h0m.1 21.3h0m.1-22.8h0m.3 .6h0m.3 19.5h0m.5-20.2h0m.2 .7h0m.2 20.6h0m.9-18.6h0m.2-1h0m.1 1.6h0m.2 18.6h0m.4-16.7h0m.5 15.4h0m1.1-17.4h0m.1 19.3h0m.7-18.3h0m.1 15.9h0m.4-23h0m.8 24.4h0m.3-22.1h0m.4 20.6h0m.1-17.9h0m.7 20.5h0m.4-23.8h0m.3 23.7h0m.7-23.1h0m.3 20.6h0m.1 1.9h0m.3 .3h0m.1-22.5h0m.5-2.1h0m.2 22.3h0m.7-25.6h0m.3 25.5h0m1.2 1.5h0m.1 .4h0m.1-24.2h0m.5 22.2h0m.7-23.8h0m.3 1.8h0m0 .2h0m0-.2h0m.3 22.1h0m.2-19.6h0m.5 22.4h0m.3-23.6h0m.1 24.3h0m.2-23.6h0m.5-.2h0m.6 22.8h0m.2-24.1h0m.2 24.3h0m1 1.6h0m.1-27.1h0m.9 24.3h0m.5-27h0m.3-3.9h0m.1 32.5h0m1.4-34.3h0m.3 1.5h0m0 29.6h0m.1 .8h0m.6-32.8h0m.7-1.4h0m.6 32h0m.8-36.2h0m.1 34.5h0m.2 2.4h0m0-34.7h0m.6 31.5h0m.6-.6h0m.4-33.7h0m.1 .9h0m.4-2.8h0m.8 34.8h0m0-35.2h0m.2-1.7h0m.4-2h0m.2 40.5h0m.3-36.3h0m.2-3.5h0m.7 40.8h0m.1-1.1h0m.1-37.5h0m.1-.9h0m.7 38.2h0m.2-4h0m.3-29.6h0m.4 31.3h0m.4-32.7h0m.2-2.4h0m.3-.2h0m.2 1.4h0m0 35.2h0m.3-37.4h0m.2 0h0m.1 39h0m.2-39.2h0m.1-8.9h0m.1 48.2h0m.3 .7h0m.3-45.9h0m.6 1h0m.3 .9h0m.6 41.9h0m.1-41.2h0m.2 39h0m.1 2h0m.9-1.8h0m.6-36h0m.7-6.6h0m.2 41.8h0m.3-47h0m.6 47.6h0m.3-.5h0m.8-52.8h0m.9-2.3h0m0 55h0m.6-2.6h0m.6-55.9h0m.6 56.3h0m.4-59h0m.4-.7h0m.4 61.1h0m.7-61.2h0m.2 61.7h0m.6 1.9h0m.5-67.2h0m.1 64.9h0m0 1.9h0m.1-1h0m.4-.7h0m.4-67h0m.5 66.6h0m.6-72.4h0m.7 2.7h0m.1 71.9h0m.5-.9h0m.5-68.6h0m.1-1.5h0m.3-.3h0m0-.3h0m.3 69.8h0m.8-67.7h0m.2 64.5h0m.3-63.4h0m.2-8.7h0m.6 5.9h0m.3 2.9h0m.2 61.1h0m.2-60.5h0m.5-1h0m.4 62.9h0m.1 1.3h0m.4-66.6h0m.1-.8h0m.5 5.6h0m.6 61.1h0m.9-58.5h0m.1 58.8h0m.6-3.4h0m.2 1.3h0m.1-57.2h0m.2-.6h0m.6 55.9h0m.5-57h0m.4-1.9h0m.3 60.9h0m.7-2.5h0m.1-59.5h0m.5 62.4h0m.3-60.3h0m.1 57.9h0m.8-1.2h0m.3-54.3h0m.2 51.5h0m0-53.5h0m.1 .3h0m.4-1.8h0m0 56.8h0m.3-2.1h0m.2-53.2h0m.3 53.5h0m.1 .6h0m.5-66.3h0m.3 63.6h0m.8-2.3h0m.2-65.9h0m.2-3.8h0m0 71.8h0m0-1.4h0m.4 2h0m.2-72.9h0m.8 68.8h0m.3-70.1h0m.2-2.8h0m.2-.9h0m.4 76h0m.1-1h0m.9-.4h0m.1-.9h0m0-82.5h0m.5-1.9h0m.2 85.1h0m.2 2.8h0m.4 .9h0m.4-5.1h0m.2-92.8h0m.2 95.2h0m.1-3h0m0 .7h0m.9-.8h0m.1-93h0m.2-2.6h0m.3 96.6h0m.1-1.3h0m0-1.1h0m.2 1h0m.4-94.6h0m.4-5h0m.1 100.3h0m.3-1.2h0m0-98.8h0m.2 96.4h0m.2-99.9h0m1.1 1.8h0m0-.7h0m.5 102.2h0m.2-6.2h0m0 4.6h0m0-4h0m.8-92.3h0m.2 1.1h0m.2 2.4h0m.3 93.9h0m.1 .4h0m.5-94.8h0m.1 92.9h0m.6-.8h0m.2 3.5h0m.2-4.4h0m.4 5.3h0m0-5h0m0-86.8h0m1-5.5h0m.1 87.9h0m.5 1.2h0m0 7.1h0m.1-6.7h0m.1-88.6h0m.3 92.2h0m.3 2.4h0m.2-96.2h0m0 88.6h0m1-95.5h0m.1 96.2h0m.1-90h0m.3 89.4h0m.9-95.9h0m.1 96.2h0m.2-1.2h0m.1-97.3h0m.5 96.4h0m.4 7h0m.2-2.5h0m.4 .2h0m.1-107h0m.1 104.7h0m.4-108.5h0m.2 1.1h0m.4 104.2h0m0 2.8h0m.5-113.7h0m0 112.3h0m.3-1.9h0m.4 .9h0m.1-111.6h0m0 112h0m0-2.7h0m.4 10.1h0m.1-6.7h0m.4 8h0m.2-9.7h0m.2 8.2h0m.1-131.8h0m0 6.3h0m.2-75.3h0m0-2.1h0m0-9.3h0m.1 84.8h0m.2-20.5h0m0 6.2h0m0-22.6h0m.1 154.6h0m.1-145.6h0m0-7.7h0m0-9h0m.1 36.8h0m.1 125.6h0m.1-118.6h0m0-60.3h0m0 58.7h0m.1-34.4h0m.1 12.8h0m.4 16.5h0m.5-.2h0m.5 123.9h0m0 3.1h0m.3-5.3h0m.5-123.8h0m.4-.9h0m.2 126.8h0m0-136.3h0m0 12.2h0m.2-13.8h0m.3 137.6h0m.1-133.8h0m0-17h0m0 .6h0m.1 7.2h0m0 14.7h0m0-12.9h0m.1 14.1h0m.1-15.6h0m0 11.7h0m0-43.4h0m.2 14.9h0m0 29.9h0m.1 137.1h0m0-141h0m.1 131.9h0m0-128.5h0m0 131.6h0m.3-.3h0m0-136h0m.1-25.9h0m.1 14.6h0m0-25.8h0m.1 32.1h0m0 6.8h0m.1-70.7h0m0 66.7h0m0-44.5h0m0 46.3h0m.2 1.6h0m0-22.8h0m0-11.8h0m.1 9h0m0 30.8h0m0-49.2h0m.1-21.6h0m0-16.2h0m0 75.3h0m0-55.9h0m0-30.4h0m0 226.5h0m0-183.1h0m.1 181.4h0m.1-147.7h0m0 4.5h0m.1 144.4h0m.1-1.6h0m0-166.7h0m0 22.2h0m0 148.8h0m.1-208.6h0m0 40.9h0m.1-10.6h0m.1 10.1h0m.3 33.2h0m0 135.5h0m.2-3.2h0m.1-133.3h0m.3 1.7h0m.1 130.8h0m.3 1.6h0m.1 .6h0m0 .4h0m.2 .2h0m0-141.1h0m.2 4h0m0-14h0m.2 19.4h0m0 1.1h0m0-58.6h0m.1 35.9h0m.1-38.1h0m.1 187.9h0m0-125h0m.2-10.6h0m.1-2.3h0m0 10.6h0m0 130h0m0-144.7h0m.1 16.6h0m.2 121.2h0m.2 2.8h0m.1 5.3h0m0-6.4h0m.1-123.8h0m.5-.1h0m.1-.4h0m.1-15.6h0m0 16.3h0m.1 121.6h0m.2-2.3h0m0-128.3h0m.1 129.2h0m.1 4.3h0m0-125.8h0m.1 119.7h0m.4-121.2h0m0-7h0m.2 10.9h0m.1-.9h0m0-.3h0m0-7.4h0m.1-4.7h0m.1 6.1h0m0-11.2h0m.1-10h0m0 1.2h0m0 28.2h0m0-28.7h0m.1 27.3h0m0-10.9h0m.2 130h0m0-122.8h0m0-31.2h0m0 7.2h0m0 10.3h0m0 133.5h0m.1-130h0m0 15.1h0m0-13.7h0m.1 1.9h0m0 9.7h0m0-33.1h0m0 9h0m.1-5.3h0m0 3.7h0m0 4.1h0m.1-13.6h0m.1 35.8h0m.1-52h0m0 5.4h0m.1 24.4h0m.1-8.9h0m0 153.6h0m0-1.6h0m.2 2.2h0m0-127.8h0m.1-4.3h0m.1-8.6h0m.1 16.4h0m.1 2.4h0m0-42.7h0m.4 40.1h0m0-16.1h0m.1 6h0m0 141.8h0m.1-136.6h0m0 131.5h0m.2 2.1h0m.1-5.8h0m.2-122.6h0m.2 125.8h0m0 .3h0m.1-130.9h0m.2 1.9h0m.1-13.8h0m.1 10.7h0m0-4.7h0m0 131.2h0m.2-166.5h0m.3 27.2h0m.1 16.1h0m0 .6h0m.1-1.2h0m.1-1.7h0m0 124.9h0m.1-122.6h0m.2 125.4h0m.2-125.5h0m0 133.6h0m.2-8.5h0m0-1.8h0m.1 1.9h0m.2-155.1h0m0 33.4h0m.1-25h0m0-9.6h0m.1 159h0m0-4.5h0m.1-164.6h0m0 35.1h0m.1-45.9h0m0 5.5h0m0 36.3h0m0-7h0m.1-35.8h0m.1 29h0m0-37.2h0m0 48.7h0m.1 134.6h0m.2 .9h0m0-123.7h0m.2 124.2h0m0-124.5h0m.1 5.3h0m0-60.5h0m0 180.3h0m.3-120.7h0m.2-22.2h0m.3 151.8h0m0-136h0m.1-1.7h0m0 2.9h0m.1-12.1h0m0 136.2h0m.1-158.6h0m0 6.8h0m.1 17.2h0m0 .8h0m.2 4.2h0m0-2.6h0m.6 128.1h0m.2-142h0m0 18.8h0m.2 126.6h0m.1-140.2h0m.2 1.9h0m.1 136.9h0m.4-131.3h0m.2 2.3h0m.3-2.2h0m0-12.9h0m.2 145h0m.2-146.1h0m.2 7.2h0m.1 135.8h0m.1-139.8h0m.1 13.3h0m.1 125.2h0m0-154h0m.2 22h0m.4 2.4h0m.2 140.8h0m0-6.5h0m.2 3h0m.2 5.5h0m.1-145.8h0m.2 134.8h0m.4 4.2h0m.4-147.9h0m0 5.2h0m0 153.6h0m.3-14.9h0m0-149.4h0m.1 3.9h0m.2 154.9h0m.1-164h0m.3 156h0m0 1.4h0m.1-1.1h0m.1-146.7h0m.2 .6h0m.1 145.9h0m.2-2.2h0m.5-147h0m0 146.4h0m0-145.8h0m.3 153.6h0m.4-6.6h0m.1-142.7h0m0 140.2h0m.2-155.9h0m.2 12.2h0m.1 150.7h0m.3-5.4h0m.8-3.8h0m0 4.1h0m.4-186.6h0m.1 35.7h0m0-5.4h0m.2 3.3h0m0-16.5h0m.1 15.3h0m0-27.2h0m.1-31h0m.1 215.2h0m0-8.3h0m.2 9.5h0m.2-165.5h0m.2-10.9h0m.1-2.2h0m.2-2h0m0 174h0m.1-1.2h0m0-170.9h0m.1 2.8h0m.3-24h0m.2 36.9h0m0-7.9h0m0 14.3h0m.1-23.4h0m0-79.6h0m.1 52.9h0m0-38.1h0m0 238.6h0m.1-179h0m0-83.3h0m0 111.5h0m0-83.5h0m0 49h0m.1-20.2h0m0 41.8h0m.1-57.4h0m0-49.3h0m0 65h0m.1 34.9h0m0-6.5h0m0-17.4h0m0 13.8h0m.1-7.4h0m0-21.7h0m.1 207.9h0m0-195.5h0m0 51.7h0m0-23.9h0m.1-47h0m0 58.6h0m.1 2.9h0m0-61.8h0m.1 21.8h0m0-2.3h0m0-16.1h0m.3 39.1h0m.1 8.8h0m.2-18.5h0m0 24.7h0m.1 6.7h0m.1 150h0m0-189.2h0m0 46.5h0m0-53.9h0m.1 43.4h0m.2-10.8h0m.1-29.5h0m.1 46.5h0m.1-27.2h0m.3-4.2h0m0 178.8h0m.1 3.9h0m.1-158.5h0m.2-13.9h0m0-10.6h0m0 31.5h0m0-7.4h0m.1-30.3h0m0 11.8h0m0 181h0m0-162.3h0m0-1h0m.1 160h0m0-175.3h0m0 7.8h0m0-25.2h0m0 13.8h0m.1 21.6h0m0-23.7h0m0 30.4h0m0-5.1h0m.1 3h0m0-5.3h0m0-2.9h0m.1-2.7h0m0-40.7h0m.1 46.7h0m.1-21.2h0m0-21h0m.1 207.3h0m.1 8.8h0m0-220.2h0m0 17.3h0m.1 10.3h0m0-34.2h0m0 17.9h0m.1 15.6h0m0 172.3h0m.1-214.6h0m0 216.4h0m0-174.4h0m0-3.1h0m0 28.7h0m.2-12.3h0m.1 167.5h0m.1-4.1h0m0 5.4h0m.2-4.9h0m.1-165.5h0m0 5.3h0m.1 173.8h0m.1-.2h0m0-179.5h0m0 10.6h0m.3-5.1h0m0 160.3h0m0-2.3h0m0-165h0m0 180.9h0m0-162.5h0m0-12.2h0m.1 157.9h0m.1-154.3h0m0 158.1h0m.3-158.1h0m0 .7h0m0-6.7h0m.2 157h0m.1 3.7h0m.3-160h0m.1 12.3h0m.4-22.8h0m.2 23.2h0m.2 148h0m.3-4.3h0m.2-159.9h0m.1 167h0m.2-161.2h0m0 8h0m.1-5.2h0m.1-19h0m0 176h0m0-165.9h0m.2-16.5h0m.1 7.8h0m0 179.1h0m0-172.6h0m.2-.3h0m0-23.8h0m.2-4.1h0m.1 32.2h0m.2-1.5h0m0 .6h0m.1-1.8h0m0 15.1h0m.1-10.3h0m0 2h0m.2 165.9h0m.2-8.1h0m.2-6.4h0m.1-193.8h0m.3 27.7h0m0-11h0m.1 27.7h0m0 .8h0m.1-40.6h0m0 29.1h0m0 1h0m0 8.8h0m.1-40.9h0m0 40.7h0m.1 4.6h0m0 1.5h0m.1-47.9h0m0 31.7h0m.1 4.9h0m0-36.6h0m.3 196.7h0m.2-152.4h0m0 149.4h0m.2 13.7h0m.1-171.3h0m.1 4.2h0m0 170.4h0m.1-163h0m0-8h0m.1 4.6h0m0-1.4h0m.2-35.7h0m.1 45.1h0m.1-13.4h0m0 157h0m.1-170.3h0m0 168.2h0m.1-159h0m.1 8.5h0m0 5.9h0m0-14h0m0 16.5h0m0-9.1h0m.1 2.8h0m.2 149.9h0m.2 .4h0m.1 4.2h0m.1-181.7h0m.1 7.3h0m.3 15.5h0m0 152.3h0m.4 3.3h0m.1 2.8h0m.1-6.5h0m.1 9.3h0m.1-152.1h0m0-2.3h0m0-2.5h0m.1-11.7h0m0 163h0m.1-142.9h0m0-12.7h0m.1 148.4h0m0-153.4h0m.2-28.1h0m0 180.1h0m.1-166.5h0m0 171.3h0m0-158h0m0 11h0m0 5.2h0m.1-27.4h0m.1 26.3h0m0-3.3h0m.1-14.8h0m.1 17.8h0m0-4.9h0m0 147h0m0-163.3h0m.2 17.1h0m.1-6h0m0-8h0m0-18h0m0 171.9h0m.1-142.3h0m0-44.2h0m.1-24.8h0m0 59.5h0m.2-12.3h0m0 21.9h0m.1-34.1h0m0 36.9h0m0-39.7h0m.1 46.8h0m.3-38.2h0m.2 18.9h0m0-13.1h0m0 20.1h0m0 142.9h0m0 1.6h0m.2-1h0m0-151.6h0m.1-12.3h0m.1 21.4h0m.1 148.3h0m0-195.6h0m.1 62.1h0m0-87.7h0m.1 12.1h0m0 203.2h0m0-160.6h0m.1 14.6h0m0-10.6h0m.1-48.6h0m0 47.8h0m0 13h0m0-53.1h0m0 17.2h0m.1 45.4h0m0-2.9h0m0-20.9h0m0-8.8h0m.1 22.8h0m0-54.6h0m.1-14h0m0 66.9h0m0 16.2h0m.1-51.4h0m0-1.4h0m0-33.7h0m0 79.6h0m.1-49.5h0m.1-6.8h0m0 65h0m0 128.7h0m0-141.6h0m.1-2.3h0m.1-40.5h0m0 2.9h0m0 14.2h0m.1 35.1h0m0-23.3h0m0 20.3h0m.1 3.6h0m0-20.9h0m0-40h0m0 31.5h0m.2 174.2h0m.1-9h0m.1-4.7h0m0 2.3h0m0-129.3h0m.1-25.8h0m0 153.6h0m0-153.9h0m.1 20.8h0m.2 134.9h0m.1-192.2h0m.2 37.6h0m.1 20.5h0m.2-20.8h0m.2 150.2h0m.2 7.2h0m.1-3.1h0m0-138.5h0m.2-1.5h0m.1-18h0m.2 7.2h0m0 142.6h0m0-158.2h0m0-.3h0m0 26.4h0m.2-3.3h0m.2-4.6h0m0-16.4h0m.5 21.7h0m.1-23.8h0m.1 158h0m.3 9.6h0m.3 3.6h0m0-151.9h0m.1-10.3h0m.1 7.9h0m0 6.8h0m.1-8.6h0m0-13.7h0m.2 11.5h0m.1-16.7h0m0 162.5h0m.1-141.2h0m.1-2.6h0m.5 7.9h0m.2 134h0m.2 6.4h0m0 6.4h0m.3 4.2h0m0-16.2h0m.2 20.3h0m.3-20.1h0m.1 13.4h0m0-162.4h0m0-14.5h0m.1 25h0m.1 131.8h0m0-140.1h0m.1 .5h0m.1-7.1h0m.4-2h0m0-12.8h0m.1 14.9h0m.2-3.4h0m.2 155.5h0m.2-8.5h0m.3 9.9h0m0-7.9h0m.4-155.6h0m0-13.4h0m.2 8.1h0m.2 159.8h0m0-158.7h0m.1 156.3h0m.1-162.9h0m.1 165.3h0m0-165.1h0m0-4.6h0m.3 166.5h0m.1-173h0m.1 186.8h0m0-168.4h0m.2 160h0m.2-163.5h0m.2-3.1h0m.1 163h0m0 16h0m.1-14.6h0m.1-3.3h0m.1 2.2h0m.1-165.3h0m0 176.7h0m.2 9.5h0m.1-201.5h0m.2-3.8h0m.1 25.8h0m0 163h0m.2-194.2h0m0 188.3h0m.2-158.9h0m.1 160.1h0m.4-159.8h0m0 160.5h0m.2-4.6h0m.5-156.5h0m.2-11h0m.4 5.9h0m0 178.4h0m.1-18.5h0m.3-.7h0m.2 2.1h0m.4-178.1h0m.1 15.3h0m0-61.1h0m.1 38.1h0m0 178.5h0m0-184.5h0m.1-10.4h0m.2 15.3h0m0-52.3h0m.1 68.2h0m.1 11.9h0m0-26.8h0m0 15.3h0m.1-76.6h0m0 69.1h0m.2-22h0m0 29.6h0m.2-10.5h0m0-14.3h0m0-22.5h0m.1 21.6h0m0-9.8h0m.1 8h0m.1-33.2h0m0 226.7h0m.3-173.7h0m0 14.1h0m0-29.9h0m0 20.7h0m0 3.7h0m.1-48.3h0m0 20.2h0m0-16.1h0m.1 37.6h0m.1-11.8h0m0 18.6h0m.1 177.2h0m0-183.7h0m.1 167.5h0m0-200.5h0m0 35.9h0m.1-9.8h0m.1 1.6h0m0 7.5h0m.2 10h0m0-4.5h0m0 4.1h0m.3-7.6h0m.1 7.8h0m.1-14.2h0m0 177.5h0m.2-7.5h0m.2-152.2h0m.1-57.6h0m.1 48.1h0m0 176.5h0m.1-232.4h0m0 53h0m.1 167.1h0m.1-155.4h0m0 1.1h0m.1-67.7h0m0 9.5h0m0 48.2h0m0 184.9h0m.1-236.4h0m0-1.5h0m.1 46.4h0m0-49.8h0m.1 39.5h0m0-27.6h0m0 4.6h0m0-1.6h0m0 16.4h0m0 35.1h0m0-42.4h0m.1 41.1h0m0-45.1h0m.1-13.1h0m0 60.3h0m.1-17.9h0m0 188.5h0m.1-220.9h0m0 201.3h0m.1-151.8h0m.2-13.8h0m.1 166.3h0m0-152.1h0m0-28.3h0m.1 200.5h0m.1-23.2h0m0 2.7h0m.1-152.4h0m0 .2h0m0 153.8h0m.1-162.9h0m0 178.9h0m0-169.5h0m.1-14.6h0m0 13.2h0m0-2.9h0m.1 176.3h0m0-18.4h0m0-152.7h0m.1 175h0m.1-217.8h0m0 206.3h0m.1-9.2h0m0-.1h0m.1 20.5h0m0-1.8h0m.3-19.6h0m.5 .3h0m.1-149.1h0m0-31.9h0m0 34.9h0m.1-4.1h0m.1-34.2h0m.1 39.9h0m.1-32.7h0m.2 12.7h0m0-2.6h0m.1 22.3h0m0-23.6h0m0-19.8h0m0-1.4h0m.1 45.7h0m.1-42h0m.4 187.9h0m.3-193h0m.1 203.8h0m.2-175.9h0m.3 169.9h0m0-160.8h0m.1 169.3h0m.2-156h0m.3-1.3h0m0-17.6h0m.1-4.2h0m.3 4.8h0m.1 164.7h0m.1 5.7h0m0-178.5h0m.1-42.2h0m.1-6.2h0m0 232.8h0m.1-187.8h0m0-28.1h0m.1 9.9h0m.1 214.2h0m0-220.3h0m.1 210.3h0m0-161.7h0m0-24.6h0m.1 25.5h0m0 170.3h0m.1-190h0m0 14.3h0m.1-11.2h0m.1 191.3h0m.1-169.8h0m.3 156h0m.1 4.9h0m0-2.3h0m.1-3.2h0m0 4.4h0m.1-1h0m.3-3.7h0m.1-157.5h0m.1-4.5h0m.1-45.7h0m.1 15.5h0m0 4.3h0m.2 20.2h0m0 168.1h0m.1-185h0m0-15.1h0m.1 202.1h0m0-174.1h0m.1 5.5h0m.2 177.3h0m0-8.6h0m0-170.7h0m.1 8.7h0m0-26.6h0m.1-4.4h0m.2 194.6h0m.1 .3h0m0-170.2h0m0 1.9h0m.7-3.3h0m.1 6.3h0m.3 .8h0m.1-.8h0m.1-32.5h0m0 35.1h0m.2-.9h0m0-3.5h0m.1 161.8h0m.1-166.7h0m0 165.5h0m.1-155.9h0m.2-13h0m0 5.2h0m.1 4.3h0m.1-26.9h0m.1 26.8h0m.3-12.8h0m.2-.7h0m.1 177h0m0 3.8h0m.1-168.6h0m.3 177.6h0m0-12.8h0m.1-186.5h0m0 13.9h0m.1 .9h0m.2 178.8h0m0-179.5h0m0 185.3h0m0 1.7h0m.1-207.9h0m0 194.5h0m.2-5.1h0m.3-168.5h0m.1-1h0m.1 1.8h0m.1-7.3h0m.1 186.7h0m0-11.1h0m.1-183.9h0m.2 202.5h0m.2-194.7h0m0-9.1h0m.1 10.4h0m.1-6h0m.3 4.4h0m0 177.2h0m.1-189.8h0m.2 189.1h0m.1-179.4h0m0 180.6h0m.3-175.7h0m0 185.5h0m.1-190h0m.2 193.3h0m0-12.1h0m0-3.6h0m.1 8.4h0m.4-1.8h0m.1-182h0m0 178.1h0m.4 18.2h0m.3-253.5h0m.2 237.7h0m0-175.8h0m.1 181h0m.2-188.4h0m.1 3.5h0m.3-2.9h0m.3 3.7h0m.3 182.4h0m.1-1.9h0m.1-193.6h0m.4 196.5h0m.2 5.3h0m.2-191.1h0m.1 192.4h0m0-225.9h0m0 220.2h0m.1-215h0m0 212.2h0m.3-200.1h0m0-9.1h0m0 11.3h0m.1-3.7h0m0-51.7h0m.1 38.3h0m0 8.3h0m0 2h0m.2 16.4h0m.1 197h0m.5-227.2h0m0 17.7h0m.2 200.8h0m0-248.6h0m.1 41.6h0m.1-14.9h0m.1-11h0m0 41.4h0m0 186.4h0m0-196.5h0m.1-23.1h0m.1 19h0m0 206.5h0m.1-213.7h0m0-17.1h0m.2 227.7h0m0-2.7h0m0-191.5h0m.2-7.1h0m0 201.3h0m.1 4.2h0m0-227.7h0m.1 35.8h0m0-8.3h0m.1-34.1h0m0-25.4h0m.1 30.9h0m0 25.2h0m0-74.9h0m0 65.6h0m0-87.8h0m0 57.6h0m0 242.4h0m.1-259h0m0 3.2h0m.1 23.2h0m.1 23.3h0m.1-43.3h0m0 252.7h0m0-203.2h0m0-44.6h0m.1-55.1h0m0 68.7h0m.1 230.6h0m.2-240.9h0m0 57h0m.1 183.9h0m0-270.5h0m0 87.2h0m0-12.8h0m0 196.4h0m.1-261.8h0m.2 260h0m.1 4.9h0m.1-1.7h0m0-191.2h0m.3-20.4h0m.1 26.3h0m.1-7.2h0m.3 2.9h0m.1 .3h0m0 195h0m.1-199h0m.1-10.3h0m.2 198.4h0m0-193.5h0m.1 .7h0m.1 1.1h0m.1-7.3h0m.2 8.8h0m0 5.5h0m.1-20.3h0m.1 203.1h0m.1-203.3h0m0 12.8h0m.1 11.7h0m.3-1.8h0m.1-21.6h0m0 218.4h0m.1-214.8h0m.1 23.2h0m.1 184.6h0m.1-6.2h0m0-191.8h0m0 1.3h0m0 3.1h0m0 3h0m.1-16.5h0m.2-14.9h0m.1 238.2h0m0-24.9h0m0 15.1h0m0 1h0m.1 2.5h0m.1-246.1h0m0 54.9h0m.1-13.4h0m0-40.1h0m.2 16.5h0m.1-40.9h0m0 60.2h0m.1 189.1h0m0-186.2h0m.1-43.2h0m0 47.6h0m0-19.7h0m.4 221.3h0m.1-17.8h0m.1-190.1h0m.1 8h0m.1 8.3h0m.1-6.9h0m.3-3.9h0m.1 6.1h0m0 4.7h0m0 175.2h0m.1-179.8h0m0 4.4h0m.1 178.1h0m.1-197.8h0m.1 199.4h0m.1-3h0m.1-182h0m.1-3.1h0m.3-5.5h0m.1 193.6h0m.1-195h0m0 4.4h0m.2 12h0m.3-11h0m0 6.4h0m.1-15.4h0m.1-6.5h0m.1 14.3h0m0-15.7h0m0 15.2h0m.1-8.7h0m.2 22.4h0m.1 176.8h0m.1 5.9h0m0-201.4h0m0 7.2h0m0 6.9h0m0-16.3h0m.1 19.4h0m0 184.3h0m.1-3.2h0m.4-186.6h0m0-20.7h0m.1 209.7h0m.1-177.7h0m0-61.9h0m.1 2h0m.1 56.2h0m.1-64.3h0m0 10.3h0m0 54h0m.2-68.9h0m0 20.4h0m.1 31.2h0m.2 194.1h0m.1-213h0m.1 29.5h0m0 2.3h0m0-32.7h0m.3 229.3h0m.1-15.1h0m.2-173.5h0m0 184h0m0-188.9h0m.1-8.9h0m.5 .1h0m.1 7.1h0m.2-13.4h0m.2-31.7h0m0 229.8h0m0-1.8h0m.1-215.5h0m0 33.2h0m.1-41.6h0m0 231.3h0m0-209.9h0m.1 11.8h0m0-44.4h0m0 40.9h0m.1-10h0m0 15.9h0m.1 8.4h0m0-14h0m0-43.7h0m0 242.2h0m0 4.2h0m0-243h0m.1 29.4h0m0 207.2h0m.1-195.1h0m.2-1h0m.2 195.4h0m0-185h0m.1-3.6h0m.1 192.7h0m0-1.2h0m.1-190.8h0m.1-14.7h0m.6 219.2h0m.1-16.2h0m.1-215.9h0m.1 27.6h0m0 2.8h0m0 187h0m.1-190.5h0m0 8.3h0m.1 180.8h0m.2-198.4h0m0-9.5h0m0 209.8h0m.1-211.7h0m0 212.2h0m.1-184.2h0m.2 182.1h0m0-182.7h0m.3-13h0m0-12.5h0m.2 213.9h0m.2-205.6h0m.4 207.9h0m.1-209.5h0m0 208.4h0m.5-6.5h0m0-187.5h0m.1 2h0m.4 188h0m.3-212.9h0m0 215.9h0m0-190.7h0m.2 186.4h0m0-193.5h0m.2 198.2h0m.2-2.2h0m.1-3h0m0-214.9h0m.3-8.2h0m.1 38.8h0m.2 194.3h0m.2-196h0m.2-26.3h0m.1 225.4h0m.4-200.8h0m0 185.4h0m.1-185.1h0m.1-16.7h0m.1 202.4h0m.3 11.3h0m.1-1.7h0m.2-191.6h0m0-4.1h0m0 201h0m0-220.6h0m0-19.7h0m0 18.2h0m.2-5.2h0m0 28.9h0m.2 1.3h0m0 192.4h0m0 2.2h0m.1-231.2h0m0 224.2h0m.1-183.2h0m.1 175.9h0m.3-201.1h0m0-9.4h0m.1 12.8h0m0-6.1h0m0-36.4h0m.1 54.6h0m0-71.6h0m0 74.1h0m0-8.5h0m0 211.2h0m.1-274.4h0m.2-8.6h0m0 81.5h0m.1 210.2h0m0-295.3h0m0 67.5h0m.1-63.1h0m.1 7.1h0m0 56.4h0m.1-20.8h0m0-22.1h0m.1 40h0m.1 210.1h0m.1-219.6h0m0 4.7h0m0-11.8h0m0 42.2h0m0-27.1h0m.1-10h0m0 222.4h0m.2 15h0m.1-203.3h0m0-7.7h0m0 198.6h0m.1-192h0m0-.9h0m.2 1.3h0m.1-5.6h0m0-33.8h0m.1 43.8h0m.1 197.1h0m.1-210.8h0m0 12.4h0m.1-45.5h0m0 231.1h0m0-183.8h0m.1-9.5h0m0-3.9h0m0-10.8h0m0 6.5h0m.1-8.8h0m.1 1.7h0m.1 207.2h0m0-220.8h0m0 29.1h0m0 198.9h0m.1-4.4h0m0-200.1h0m0-8.4h0m.1 .7h0m.1 5.3h0m0 8.1h0m.2-14.5h0m0 22.2h0m.3 181.4h0m0-179.6h0m.1-23.9h0m.1 21.5h0m.2 2.5h0m.1-15h0m0-25.6h0m.1 40.3h0m0-23.7h0m.2 15.8h0m0 3.7h0m.1 186.3h0m.1-212.9h0m.2 19.2h0m0 202.7h0m.1-208.7h0m.1 213.6h0m0-2.4h0m.1-6.9h0m.1-209.9h0m.1 26.5h0m.1-7.6h0m.2 15.1h0m.3 167.5h0m.1-183.3h0m0-53.5h0m.1 48.7h0m0-43.8h0m.2 19.5h0m.1 210.9h0m.1-200.8h0m0-18.4h0m.1 .5h0m.1 223.1h0m.1 1.1h0m0-189.7h0m.1 20.7h0m0-14.2h0m.3-4.2h0m0 185.1h0m.3-4h0m0-158.9h0m.3 162.9h0m0-175.8h0m.3-5.8h0m.1 16.6h0m.1-2.7h0m.6 163.5h0m0-.4h0m0-158.7h0m.1-2h0m.1 1.1h0m.4-4.2h0m0 169.8h0m.4-4h0m0-161.5h0m0 161.1h0m.1-165.1h0m.1-5.2h0m0 6.8h0m.1-2.8h0m.1-7.7h0m0 174.5h0m.2-172.8h0m0-11h0m.2-24.3h0m0 43.8h0m.1 166.5h0m.1-205.5h0m0 201.4h0m.1-167.4h0m.1 185.2h0m0-209h0m.3 200.8h0m.1-178.1h0m.1 169.4h0m.2 16.7h0m.3-16.4h0m.1-1h0m.2 1.6h0m.1-169.7h0m0-47.8h0m.2 216.3h0m.3-186.2h0m0 191.7h0m.3-185.2h0m.5 176.5h0m.1-175.1h0m.2 10.4h0m.4 1h0m.1 162.6h0m.1-169.1h0m.1 166.5h0m.1-167.1h0m.1 170.7h0m.4-179.1h0m0 188.6h0m0-171.5h0m0-.7h0m.1 166.9h0m0-174.2h0m0 181.6h0m0-4.5h0m.1-172.3h0m0 170.9h0m0-170.1h0m.1-1.4h0m.2 183.8h0m.2-14.3h0m.1-1.1h0m.2-163.6h0m.3 167.7h0m.3-2.6h0m.3-162.3h0m0 181h0m.2-233.5h0m0 219.6h0m.4-186.9h0m0 203.6h0m.1-193.4h0m.2 1.2h0m.2 178.8h0m.1-167.9h0m.5-11.3h0m0-6.9h0m.1 2.6h0m0-33.3h0m0 3.5h0m.2 44.2h0m.1-13.8h0m0-14.1h0m0 25.8h0m.1 172.3h0m0-174.5h0m.1-20.2h0m0-58.9h0m.1 22.2h0m.1 46.2h0m0 4.8h0m.1 188.2h0m0-222.6h0m0 39.6h0m0 .8h0m.1-75.9h0m0 74.1h0m0-5.3h0m0 11.9h0m.1-12.9h0m0 187.6h0m0-175.9h0m.2-22h0m.1 198.4h0m.1-4.1h0m.4 16.8h0m0-185.4h0m.2 166.4h0m.2-182.1h0m.2 189h0m0 5h0m.1-195.8h0m0 3.2h0m0-22.9h0m0 24.4h0m.1-47.8h0m0 27.6h0m0 21.7h0m0 184.4h0m0-203.5h0m.1 7.5h0m0-6.9h0m0 5.1h0m.1 19.8h0m.1-26.6h0m.2 20.1h0m0 182.7h0m0-168.3h0m.1 3.7h0m.1-2.6h0m0-9.7h0m0 6.4h0m.1 164.9h0m0-178h0m0-20.4h0m.1-12.7h0m0 19.9h0m0 25.4h0m.1-20.2h0m0 18.7h0m0-11.5h0m0 1.9h0m.1-11.9h0m0 5.4h0m0-23.2h0m0-26.2h0m.1 25.6h0m0 2.9h0m.1 12.6h0m.1-30.4h0m.1 1.6h0m0 3.8h0m0 59.7h0m.1-68h0m.1 67.3h0m.2-16.3h0m0-38.5h0m.1 7.8h0m.1 208.8h0m0-195.6h0m.1 197.9h0m0-175h0m.2 187.2h0m.1-196h0m.1-22.2h0m.1 41.2h0m.1-16.5h0m0-13.6h0m.1 6.4h0m.1 16.2h0m0-9.5h0m.1-23.3h0m0 208.8h0m.2-221.5h0m.1 14.3h0m.2 206.3h0m.1-3.1h0m0-217h0m0 225.2h0m.2-170.5h0m.2 160.6h0m.1-168h0m.2 169.5h0m.1-162.7h0m0-16.8h0m.1 11.9h0m.2 4.6h0m.1-3.5h0m.1-7.1h0m.1 11.7h0m0 164.1h0m0-177.3h0m.1-10.4h0m0 191h0m0-166h0m.2-16.9h0m.4-3.2h0m.1 17.1h0m0-3.8h0m.1-23.4h0m0 16.2h0m.1 5.9h0m0-31.4h0m.1 29.3h0m0 174.7h0m.1-168.2h0m.4 170.5h0m.2 5.7h0m.1-6.8h0m.1-177.7h0m.1-1.5h0m.1 189.9h0m0-182.6h0m.1-5.8h0m.1-22.1h0m0 31.6h0m.1-2.5h0m0-37.5h0m.1 8.3h0m.1 10.1h0m.2 188.8h0m.1-189h0m.2 191.1h0m.1-170.6h0m.2 2.2h0m.1 168.5h0m.1-180.6h0m.5-.8h0m.1 177.2h0m.4 1.4h0m.1-167.7h0m.3 173.3h0m.2-173h0m.1 170.5h0m0-191.1h0m.2-7.8h0m.1 20.7h0m.1 1.5h0m0-10.5h0m0 16.6h0m.1-50.6h0m0 29.7h0m.1-2h0m.1-47.9h0m.1 22.7h0m.1 22.4h0m.1 6.7h0m0 193h0m0-209.3h0m0 10.5h0m.1 196.8h0m0-208.7h0m0 209h0m0-188.8h0m.2-21.1h0m0 22.8h0m0 10.8h0m0-38h0m0 18.5h0m.1-9.8h0m0 25.1h0m.1-35.9h0m0 214.2h0m.2-196.3h0m0 24.1h0m0 194.1h0m.2-196.8h0m.1 .8h0m0-25.4h0m.4 206.7h0m.2-178.1h0m.1 169.6h0m0-173.6h0m.2 .8h0m.1 1.7h0m.2-13.8h0m.1 195.5h0m.2-195.9h0m0 196.2h0m0-178.9h0m.1-35.6h0m.2-7.7h0m.1 1.8h0m0-37.3h0m0 46.5h0m0-12.1h0m.1 211.1h0m0-248.2h0m0 258.9h0m.1-224.1h0m0-12.3h0m0 12h0m.1 47.4h0m0-45.6h0m0 212.9h0m0-249.2h0m.1 67.7h0m0-57.2h0m.1 67.5h0m0 182.2h0m.1-11.3h0m.1-225.2h0m.2 49h0m.4 178.6h0m.2-2.7h0m.1 6.2h0m.2 11.6h0m.1-231.9h0m.2 44.7h0m0 2.8h0m.2-.1h0m.1-.9h0m.2 178.6h0m.1-10h0m.4-176.1h0m.3 7.8h0m0 166.5h0m.3-175.1h0m.1 176.9h0m.2-183.3h0m.1 6.3h0m.2 193h0m0-8.6h0m.1-173.7h0m0-6.9h0m.1-1.4h0m0-1.6h0m.1-5.8h0m.1 181h0m.1 .1h0m.1 4.7h0m.6-8.3h0m0 7.6h0m.6-167.9h0m.1 165.9h0m0-179.6h0m.1 7.6h0m0-9.9h0m.1-7.7h0m0 196.8h0m.1-176.3h0m0 3.5h0m0-44.5h0m0 10.2h0m0-11.7h0m.1 8.3h0m.2 13.7h0m.1-26h0m0 47.4h0m.1-34.6h0m0 16.9h0m0 13.1h0m.1-8.1h0m0 179.3h0m.1 1h0m.2-188.8h0m0 9.5h0m.1-10.4h0m.1 25.1h0m.1-32.6h0m0 201.1h0m.2 19.7h0m.1-212.2h0m.2 203h0m.2-219.3h0m.1 31.5h0m0-12.2h0m0-.5h0m0-52.1h0m.1 45.3h0m0-30.5h0m0-53.5h0m0 56.1h0m0 239.3h0m.1-249.4h0m0 11.4h0m0-30h0m0-22.1h0m.1 279.3h0m0-210.3h0m.1-40h0m0 255.4h0m0-11h0m0-164.3h0m0-27.6h0m.1 195.7h0m0-264.7h0m0 78.3h0m0 4.5h0m0-15.2h0m0 6.9h0m0-56h0m.1 52.9h0m.1-16.5h0m0 1.3h0m0 27.7h0m0-25.9h0m0 5.3h0m0 8.3h0m0-9.6h0m.1 4.3h0m0 5.7h0m0 202.7h0m.1-1h0m.1-209.5h0m0-15.8h0m0-13.6h0m0 32.4h0m0-44.6h0m0 247.4h0m0-194.3h0m0 198h0m.1-177.6h0m.1 189.2h0m.1-7.2h0m.3 1.8h0m0-18.8h0m.2-191.6h0m.1 27.1h0m.2-6.5h0m.3-16.8h0m0 186.3h0m0-243h0m0 5.5h0m.1 33.9h0m0 36.7h0m.1-45.2h0m0 22.4h0m0-15.4h0m0 35.2h0m.1-61.9h0m0 58.6h0m0-75.7h0m.1 47.9h0m0 8.6h0m0 3.1h0m.1-39.4h0m0 48.2h0m0-6.9h0m0-62.2h0m.1 56.8h0m0-18.5h0m0 30.8h0m0-35h0m0 13.5h0m.1 34h0m.1 1.3h0m0-25.3h0m.1 2.9h0m0 187.9h0m0-202.6h0m0-42.4h0m0 10.5h0m.1 238.7h0m0-177.3h0m.1-16.5h0m0-18.8h0m.1 45.7h0m0 165.4h0m.1-207.7h0m.1 34.9h0m0 191.5h0m.1-192.7h0m.1 176h0m.4-182.5h0m.2 10.2h0m0 .5h0m.2-4.5h0m0 177.7h0m0 3.1h0m.2-183.6h0m0-3.2h0m.1 11.1h0m.1 173.9h0m.1 11.1h0m.4-185.9h0m.2 174.1h0m.2-.3h0m0-2.2h0m.1 7.9h0m.2-177.7h0m.5-22.7h0m.1-.3h0m.1 24.8h0m.1-19.6h0m0 2.7h0m.1 13.4h0m0-3.3h0m.1 2.7h0m0-23.3h0m.1 196.2h0m0-175.8h0m.1-10.2h0m.1-18.8h0m0 4h0m0-1.1h0m0 217.4h0m.1-206.5h0m0 2.4h0m.2 9.6h0m0 175h0m.1-166.6h0m0-49.2h0m.1 32.4h0m0-13.3h0m0-17.1h0m0 36.5h0m.1-11.3h0m.1 206h0m.1-213.5h0m0 14.8h0m.2 .3h0m0 22.6h0m0-52.8h0m0 209.2h0m.1-185.1h0m.1 18.2h0m.1 .3h0m0-17.5h0m.1 .7h0m.1 12.1h0m0-10.4h0m.4 179.9h0m.1-167.4h0m.1-.3h0m0 164.2h0m.1-152.2h0m.1 158.8h0m.3-7.3h0m.3-160.1h0m.3-22h0m0-8.5h0m.3 188.8h0m.2-158.2h0m.1 1h0m.1 161.9h0m.2-2.5h0m.1 2.9h0m.2-188.5h0m.1 13h0m.2 10h0m.1-10.5h0m0 9h0m.3 165.4h0m.1-157.5h0m.1 154.5h0m.3-187.6h0m0 31.3h0m.2-4.6h0m.1 2.6h0m.1-.3h0m.2 175.6h0m0-169.3h0m0 156.4h0m.2 5.2h0m.2-180.7h0m0 21.8h0m.1-18.9h0m.1-10h0m.1 19.9h0m.1-27.7h0m.1 4.4h0m0 28h0m.1-20.9h0m.2 29.2h0m0-.3h0m0-16.2h0m.1-16.4h0m.2 185h0m.2 3.9h0m.3-1h0m0 6.4h0m0-10.8h0m.1-147.6h0m0-39h0m0 205.1h0m.3-184.2h0m.1 173.5h0m.1-5.6h0m.2 7.6h0m0 5.7h0m.2-180.7h0m0 23.3h0m.1-33.3h0m.2 178.8h0m.1-157.3h0m0 4.1h0m.1-21.4h0m0 177.7h0m0-184.9h0m0 193h0m0-10h0m.3-156.5h0m.1 16.2h0m.1-17.5h0m0 157.3h0m.2-141.4h0m.1-18.5h0m0 8.5h0m.5-15.7h0m0 32.4h0m.1-27.2h0m0 179.2h0m.1-158.3h0m.4-.6h0m0 137.4h0m.4-152.9h0m.1 163.7h0m0-136.9h0m0 3.5h0m.3-4.1h0m.2 125.7h0m.1 4.7h0m.4-8.5h0m.3-112.7h0m.3-5.4h0m.1-12h0m0 143.4h0m.2-150.9h0m0 22.4h0m.3-24.1h0m.1-36.5h0m.4 181.8h0m0-139.3h0m0 141.1h0m.1-142h0m0 138.8h0m.1-136.6h0m.2 135.5h0m.2-122.1h0m.2-3.8h0m.1-19.3h0m.1 152.3h0m.2-138.5h0m.1-7.9h0m.1 14.6h0m.2 129.4h0m0 0h0m.2-136.8h0m0 145.6h0m.3 4.4h0m.1-144.5h0m0 145.7h0m.5-13.7h0m0-149.3h0m.1 156.6h0m.2-136.4h0m.1-2h0m.1 127.7h0m.1-125.8h0m.1-.5h0m0 5.2h0m.2-7.9h0m.1-22.5h0m.1 26.1h0m.1-11.5h0m0-3.4h0m.1-6.5h0m0 8.8h0m.1 145.1h0m0-137.8h0m.1-21h0m.1 28.3h0m0-24.3h0m.1 151.4h0m.2-132.6h0m0-.7h0m0 150.4h0m.1-145.3h0m.1-31h0m0 2.2h0m0 17.6h0m.1-6.6h0m0 22.3h0m0-22.2h0m.1 19.1h0m0 129.7h0m0-138.8h0m.1-11.1h0m.1 151.5h0m.1-131.1h0m0-20.6h0m.3 145.7h0m0-1.9h0m.1-122.1h0m0 122h0m0-135.1h0m.1 154.6h0m.3-158.1h0m0-2h0m.2 10.4h0m0-16.5h0m.1 144.8h0m.3-131.1h0m.1 13.2h0m.2-3.2h0m.1-7.5h0m.1 129.2h0m.1-118.9h0m.4 4.1h0m.2-4.5h0m0-12.3h0m.1-10.6h0m.1 143.9h0m.1-116.5h0m.4-.4h0m.1 118.7h0m.2-140.2h0m.3 19.2h0m.1 3.5h0m.1-33.3h0m.1 31.2h0m0-22h0m.1-21.3h0m0-13.2h0m0 51.6h0m.1-7.8h0m0 10.9h0m0-24.9h0m.1 156.4h0m0-163.2h0m0 26h0m.1-16.7h0m.2 23.7h0m0-29.3h0m.1 150.7h0m0 1.6h0m.1-127.3h0m0-10.1h0m.1 9.5h0m0 130h0m.1-142.2h0m.1 6.5h0m.3-.2h0m.1 132.7h0m.1-117.4h0m0-4.2h0m0 128.8h0m.1-128.8h0m.3 122.7h0m.1 .4h0m.3 11.6h0m0-144.5h0m0-3.3h0m.1-3.5h0m.2 18.9h0m.3 116.4h0m.2-118.5h0m.1-36.7h0m.1 35h0m.1-5.6h0m.1 13.2h0m.3 110.8h0m.2 7.9h0m.2-3.7h0m0-4.2h0m.2-126.2h0m0 13.5h0m0 113.7h0m.1-120.2h0m.1 116.8h0m.1 9.6h0m.1-2.7h0m.1-118.7h0m.1-.1h0m.5-5.4h0m0-7.5h0m.2 1.3h0m0 6.6h0m.2 5.1h0m0-16h0m.1 128.5h0m0-125.1h0m.2 6.4h0m.6 7.4h0m0 106.3h0m.1 6h0m0-126.3h0m.1-20.1h0m.1-5.1h0m0 40.1h0m.2-32.9h0m0 30.4h0m0-7.3h0m.2-18.5h0m0 137.7h0m.1-110.9h0m0 107h0m.4-120.2h0m.2 126.9h0m.2-116.4h0m.3-7.8h0m.9 116.5h0m.1-140.3h0m.2 16.4h0m.1 146.8h0m.2-19.6h0m.2-126.5h0m0 121.6h0m.3-123.7h0m.5 128.6h0m.3 2.8h0m0-6.4h0m0 9.2h0m.2-140.7h0m.3 139.2h0m0-4.1h0m0 12.4h0m.1-7.6h0m.1-2.8h0m.2 2.4h0m.1 9.7h0m.1-10.8h0m.2-144.9h0m.3 144.6h0m0-1.9h0m.1-.1h0m0-148.2h0m0-2.1h0m.1 3.2h0m.1 165.6h0m0-16.3h0m.2 6.7h0m.1-155h0m.3 159.6h0m.1-166.6h0m.1 157.1h0m.1-6.1h0m.2-2.4h0m.4-146.5h0m0-7.4h0m.6 159h0m.1 7.2h0m.3-12h0m.4-151h0m0 167.5h0m.2-164h0m.4 146h0m.1 1.4h0m.1-151h0m.3 2.7h0m.2-4.8h0m.3 155.6h0m.1-180.1h0m.1 7h0m.2 13.9h0m.1-22.1h0m0 .3h0m.1 16.8h0m0-6.2h0m0 16h0m0 173.6h0m.2-196.4h0m0-2.5h0m.4 187.5h0m.1-166.4h0m.3 159.3h0m0 7.7h0m.1-171.4h0m0-1.3h0m.1 1.7h0m.1 0h0m.1 0h0m.4 164.8h0m.2-165h0m0 172.7h0m0-174.5h0m.1 167.6h0m.1-192.2h0m.1 194.7h0m0-182.5h0m.1-8.7h0m.1 6.8h0m.1-40.8h0m0 27.4h0m0 3.8h0m0 6.6h0m.1-26.4h0m0 18.3h0m.1 196.1h0m.1-208.4h0m0 3.8h0m0 212.6h0m.1-177.9h0m.1-.7h0m0-60.9h0m.1 2.9h0m0-8.2h0m.1 65.4h0m0-18.3h0m0-21h0m.2 17.3h0m.2-5.8h0m0-14.2h0m.1 212.7h0m.1-255.7h0m0 65.9h0m.1 22.2h0m0-3.9h0m0-3.2h0m0-35.6h0m0 22.4h0m0-11.2h0m.1-1.6h0m0 10.9h0m0 4.7h0m0-45.7h0m0 58.3h0m.1-37.8h0m.1 214.3h0m0-176.3h0m.1-54.3h0m0 48.8h0m0-28.2h0m.2-65h0m0-10.6h0m.1 280.4h0m0-265.3h0m0-8.1h0m.1 66.1h0m.1-16h0m0-31.7h0m.1 2.9h0m.2 68.6h0m0-78.5h0m0 80h0m0-43.4h0m.1 245.8h0m.1-193.6h0m0 188.4h0m.3-228h0m.2 213.2h0m0-205.8h0m.2-35.2h0m0-1.1h0m.1 68.2h0m.1 189.9h0m.1-232.7h0m.1 14.5h0m0 209.5h0m.1-251.1h0m.1 34.2h0m0 216.8h0m.1-199.8h0m0-31.2h0m.1 229.4h0m.2-226.8h0m0-17.6h0m0 47.9h0m0-47.3h0m0 34h0m.3 27.2h0m.1 190.8h0m.1-188h0m.1-51.4h0m0 5.8h0m.2 40.6h0m0 186.1h0m0-274.6h0m.2 14h0m0 21.7h0m0 30.5h0m0 213.2h0m.1-245.2h0m0 39.3h0m.1-25.3h0m0 22.4h0m.1 218.6h0m.1-270.3h0m0-20.6h0m0 83.3h0m.1 9h0m0-39h0m0-51.5h0m0 63.9h0m.1-4.5h0m0-22.9h0m.1 24.3h0m0-137h0m0 167.1h0m0-62.9h0m0 53.7h0m0-55.7h0m0-15.4h0m.1 1h0m0 35.2h0m0-102.8h0m.1 66.7h0m0-61.5h0m.1 91.6h0m0-70.1h0m0 74.4h0m.1-117.1h0m0 367.3h0m0-350h0m.1 71.1h0m0 270.8h0m0-382.1h0m.1 142.5h0m0-140.7h0m0 118.7h0m0 268.3h0m0-393.2h0m0 191.7h0m.1-45.5h0m.1 30.3h0m0-125.9h0m0 89.2h0m0-107.8h0m0-6.5h0m.1 49.3h0m0 70h0m0-110.1h0m.1 346.1h0m0-343.3h0m0 64.4h0m.1-15.9h0m0-13.1h0m.2 108.2h0m0-110.5h0m0 61.8h0m0 249.2h0m.2-4.2h0m0-189.5h0m.8 192.8h0m.1-206h0m0 207.6h0m0-219.8h0m.5-1.8h0m0 12.9h0m.2-113.6h0m.1 123.5h0m0 197.4h0m0 18.3h0m.1-272.7h0m0-.2h0m.1 46.3h0m0-5.5h0m.2-33.5h0m0 242.9h0m.1-301.7h0m0-4.6h0m.1-23.3h0m0 59h0m.1 14.8h0m0 22.7h0m0 5.3h0m.1 228.6h0m0-224h0m0-107h0m0 108.2h0m0 11.5h0m.2-55.8h0m0 54.5h0m0-27.6h0m0 39.7h0m0-62.9h0m.1-29.7h0m0 80.2h0m0 8.5h0m0-130.7h0m0 37.9h0m0 293.2h0m.1-227.5h0m0 5.8h0m0 226.6h0m0-235.9h0m.1-80.5h0m0 104.5h0m.1-33h0m0-23.1h0m0 28.5h0m0-29.4h0m0 17.6h0m0 17.8h0m.1-82.2h0m0 20.3h0m0 31.8h0m0 25.6h0m0 20.1h0m0-.7h0m.1 2.7h0m0 7.8h0m0-92.5h0m0 72.1h0m0 21.2h0m.1-84.3h0m0 287.3h0m0-228h0m0 3.4h0m0-32.5h0m0-17h0m.1 271.8h0m.1-230.2h0m0 13.5h0m.1 5.1h0m0 217.2h0m0-219.8h0m.1-15.4h0m0 234.6h0m.1-211.9h0m.1-9.1h0m.1-.2h0m0-25.4h0m0-22.3h0m.1 31.4h0m0-19.9h0m0 19.7h0m.1-6.7h0m0 7.4h0m.1-1.3h0m.1-66h0m.1 57.6h0m0-7.3h0m0 6.9h0m.1-1h0m0-34.5h0m0 62.5h0m0 32.1h0m0-94.6h0m.1 278h0m0-218.2h0m0-28.2h0m0 64.4h0m0-43.9h0m0-11.8h0m0 31.6h0m.1-7.5h0m.1-10.1h0m0 10.4h0m0-41.9h0m.1-.4h0m.2 34.8h0m0 218.5h0m0-217h0m0-39.6h0m0-3.4h0m0-7h0m0 48.5h0m0 9.9h0m.1 220.3h0m0 9.1h0m.1-17.8h0m.1 2.2h0m.1 10.2h0m.2-6.2h0m0-8.4h0m.2 18.5h0m.3-216.6h0m.1-37h0m.1-5.2h0m.1 10.2h0m0-3.1h0m0-31.5h0m0-60.9h0m.1 53.5h0m0 53.7h0m.1-37.5h0m0 46.7h0m0-15.4h0m0-53.6h0m0-60.9h0m0 114.6h0m0 229.4h0m0-6h0m.1-302h0m0 41.8h0m0-3.1h0m0 63.6h0m0-25h0m.1-36.7h0m.1 268.7h0m0-243.9h0m.1-84.1h0m0-33h0m.1 146.7h0m0-86.6h0m0 72h0m.1 228h0m0-222.1h0m.1-125.4h0m0 0h0m0 131.7h0m0-75.8h0m0 56.9h0m.1 6.2h0m0 26.3h0m0-6.8h0m.1-118.9h0m0 74h0m0-29.1h0m0 79h0m.1-1.7h0m.1-149.4h0m0 353.7h0m0-306.2h0m0 97.6h0m.2-21.9h0m.1 235.1h0m0-211.5h0m.1-70.7h0m.2 72.7h0m0-18.3h0m.1 227.1h0m0-216.9h0m.1 216.1h0m0-203h0m.1 196.3h0m.1 2.2h0m0-215.4h0m.1-17.2h0m0-14.5h0m.2 45.3h0m0-12.2h0m0 6.8h0m.1 2.2h0m0-.9h0m.3-38h0m.1-10.2h0m0 261.1h0m.3-11.6h0m.5-202.4h0m0 6.2h0m.1-60.6h0m.2 65h0m0 196.5h0m.1-199.9h0m.2 209.2h0m0-211.3h0m.2 215.7h0m0-12.9h0m.1-.6h0m.2 21.4h0m.2-235.6h0m0 221.8h0m.1 7.3h0m.1-12.5h0m0 6.5h0m.1-205.1h0m.1 201.9h0m.1 1h0m.1-7.2h0m.2 19.7h0m.5-5.1h0m.1-6.6h0m.1-206.6h0m0 210.8h0m.2-202.6h0m.1 1.8h0m.1 3.7h0m0 190h0m0-202.4h0m.3 200h0m.1-182.8h0m0-11.7h0m.1 5.7h0m0 206.6h0m0-14.6h0m.3 .3h0m.2-194.8h0m.1 196.5h0m0-5.9h0m.3-223h0m0 27.9h0m0 13.2h0m.2 190.2h0m0-193.9h0m.2-3.9h0m.1-3h0m0 193h0m.2-193.9h0m.1-10.9h0m0 10.6h0m0 205.8h0m.1-194.9h0m.1 186.9h0m.3-4.2h0m0-209.8h0m.1 209.2h0m0-180.6h0m.2 2.3h0m.2-4.6h0m.1-22.4h0m.4 203.1h0m.2-192.1h0m.3 198h0m.1 6.4h0m.1-188.5h0m0 176.1h0m0-173.4h0m.1 176.5h0m.1-186.8h0m0 181.4h0m.2-171.4h0m0 174.8h0m.1 9.5h0m.3-185.5h0m.2-3.4h0m0-1.8h0m.1 194.5h0m0-192.4h0m.4 183.1h0m.1-184.4h0m.1-.5h0m.1 3.1h0m.1 183.9h0m.1-183.8h0m.1-.9h0m0 .9h0m.1 181.3h0m0 13.3h0m.4-216.3h0m0 208.2h0m0-187.5h0m.1 192.1h0m.1-3.6h0m0 .7h0m.1-193.4h0m0-.6h0m0 187.1h0m.1-189.6h0m0 194.7h0m.1-189.7h0m.1 189.3h0m.3 12.5h0m.1-201.2h0m.2 180.6h0m.3-196.3h0m.1 10.5h0m.1 201.3h0m.3-219h0m.3 2.4h0m.1 197.9h0m0-201.3h0m.1 9.6h0m0-6.2h0m0-12.8h0m.1 8.8h0m.2-8.2h0m.4 215.3h0m0-1.1h0m.1-203.6h0m.1 200.4h0m.1-194.9h0m.1 194.7h0m.1-217.1h0m.1-1.2h0m0-13.5h0m.2 235.9h0m.1-226.5h0m0 225.9h0m.1-222.7h0m0-6.5h0m.1-9.1h0m.3 37.9h0m0 209.7h0m0-229.3h0m.1 22.2h0m0 205.8h0m0-231.4h0m.1 223.8h0m0 6.2h0m.1-5.1h0m0-218h0m0 3.1h0m.1 207.9h0m0-224.1h0m.1-2.4h0m.1 231.3h0m0-224.6h0m0 12.5h0m0-18.1h0m.1 238.7h0m.1-206.2h0m.1-8.7h0m.1-8.5h0m0 9.2h0m.3-9.4h0m.1 219h0m.1-215.4h0m.3-50.3h0m.2 273.5h0m.1-236.7h0m.1 230.5h0m.1-204.6h0m.2-25.5h0m0 224.7h0m0-237.5h0m.1-1.5h0m.1 5h0m0 24.9h0m0 5.7h0m.3 219.6h0m0 6.4h0m.1-262.3h0m.2 243.1h0m.2 13.7h0m0-4.2h0m.1 12.3h0m.2-3.9h0m.1-252.3h0m.1 254.8h0m0-233.4h0m.1 228.8h0m0-237.9h0m.1 240.5h0m0-243.3h0m0-1.1h0m0 9.2h0m.1 216.9h0m0 13.2h0m.5-249.1h0m.2 232.4h0m.1-208.9h0m.5-10.6h0m0 230.4h0m.1-4.6h0m.2-219.4h0m.1-62.3h0m.1 277.8h0m.1-220.2h0m.1-15h0m.1-25h0m0-33.9h0m0 4.4h0m0 63.3h0m.1-99.4h0m0 84.8h0m0 17.6h0m.1 3.8h0m0-51.6h0m0 2.9h0m.1-63h0m0 72h0m0 44.6h0m0-19h0m.1 12h0m0-28.5h0m0 11.8h0m0-48.1h0m.1 68.2h0m0-27h0m0 20.7h0m.1 2.9h0m0-74.7h0m.1-10.4h0m0 62.2h0m0-82.9h0m.1 51.4h0m0 278.9h0m.1-231.6h0m0-17.6h0m0 5.3h0m.1-47.8h0m0-5.8h0m0 300.7h0m0-238.2h0m0-19.8h0m0-61.6h0m.1 94.7h0m0-.7h0m0-50.5h0m0-28.4h0m.1 39.3h0m.1 3.2h0m0-28.8h0m.1-4.2h0m0 37h0m0-20.9h0m.1-29.5h0m0 73.4h0m0-24.8h0m0 32.1h0m0-8.6h0m0-48h0m.1 26.2h0m0-67.8h0m0 38.6h0m.1 302.8h0m0-288.3h0m0 22.9h0m0 13.6h0m0-25h0m0 261.9h0m.1-286.6h0m0 46.5h0m0 4.4h0m0-39.2h0m0 41.8h0m0-5.2h0m0-64.3h0m0-13.1h0m0 55.2h0m.1 264.5h0m0-261.9h0m0 259.4h0m0-243.4h0m0 13.2h0m0-43.8h0m0-23.4h0m0 27.4h0m0 5.6h0m.1 17.2h0m0 19.5h0m0-46.6h0m.1 35.7h0m0-7.6h0m.1-17.5h0m0 7.7h0m0 260.2h0m.1 2.6h0m.1-6.7h0m.1-287.3h0m.1 303.6h0m0-245h0m.1-50.7h0m0 283.8h0m.2-3.3h0m0-233h0m.3-68.7h0m0 34.7h0m0-21.5h0m0 288.6h0m.1-299.4h0m0 44h0m0 26.7h0m0-74.9h0m.1 2.2h0m.2 305.5h0m.1-315.9h0m0 331.8h0m.1-15.9h0m0-315.4h0m.1 73.1h0m.1-38.6h0m.1-6.4h0m0 49.5h0m0-77.9h0m0 63.6h0m.1 15.8h0m0-57.7h0m.1 53h0m0 6h0m.1-2.9h0m0-12.8h0m0-33.3h0m0 47.9h0m.1-26.9h0m0 18.8h0m.2-40h0m0 53h0m.1 230h0m0-238.2h0m.1-31.6h0m0 9.7h0m0 23.8h0m.1-24.7h0m0-52h0m.1 32.1h0m0 49.2h0m.1-56.3h0m0 43h0m.1-16.8h0m0-43.2h0m0 300.8h0m.1-273.2h0m0-5.9h0m.1 16.5h0m0 8.9h0m0-36.2h0m0 10h0m.1-4.6h0m0 34.4h0m.2 267.6h0m.1-310h0m0 18.8h0m.1 292.1h0m.2-263h0m.1 250.1h0m.1-9.2h0m.1 16.3h0m0-284.1h0m0 283.7h0m0 4h0m.2-250.9h0m.2-9h0m0 18.2h0m.1 243.4h0m.6-257.5h0m0 233.1h0m.1 2.3h0m0-244.3h0m0 14.2h0m0 238.9h0m.2 4.5h0m.1-234.4h0m.2-26.3h0m0 24.9h0m0-.2h0m.1 4.6h0m.2 216.6h0m.1 13.3h0m0-6.8h0m.1-228.2h0m0-19.4h0m.4 18.9h0m0 236.2h0m.1-257.3h0m.1 246.6h0m.1-216h0m.1-13.4h0m0-28.6h0m.1 28.3h0m.1-54.4h0m.1 281.8h0m0 1.3h0m.1-266.2h0m0 6.2h0m.1 1.2h0m0 30.2h0m0-43.3h0m.1 278.3h0m.2-218.1h0m0-12.2h0m0-34.4h0m.1-6.7h0m.1 40.4h0m0-39.8h0m0 18.8h0m.1-22.6h0m0 8.1h0m0 44.8h0m.3-18.8h0m0 233.4h0m0-274.1h0m.1 1.3h0m0 20.8h0m.1 35.4h0m.1-12.9h0m.1 6.7h0m.1 17.1h0m0 209.5h0m0-254.3h0m.1 45.2h0m.3-3.8h0m.2-31.1h0m.1 33h0m0 4.2h0m.4-19.7h0m0 17.9h0m.1 209.3h0m0-209.5h0m0-22.9h0m.1 23.1h0m0-5.8h0m0 8.1h0m.1-16.4h0m.1 12.3h0m0 4.6h0m0 213.1h0m0-243.3h0m0 15h0m.1-17.9h0m.1-2h0m0 11.9h0m0 .3h0m.1 235.3h0m.1-278.3h0m0 52.5h0m0 222.8h0m0-247.1h0m0 253.5h0m.1-218.7h0m0-28.6h0m.1 35.4h0m0-37.4h0m.1 258.9h0m.1-263.8h0m.1 25h0m.1 230.2h0m.1-243.5h0m0 260h0m0-266.5h0m0 243.5h0m.1 .1h0m.1-206.4h0m0-34h0m.2-13.8h0m.1 255.9h0m0-269.5h0m.1 271.5h0m.1-275.6h0m.1 2.7h0m0 20h0m.1-20h0m0 2.6h0m.1 264.7h0m0-258h0m0 254.7h0m.1-259.9h0m0 271h0m.1-271.5h0m.1 30.1h0m0 22.1h0m.3-15.9h0m.1 16.7h0m.1 210.5h0m.5-210.9h0m.1 210.6h0m0-216.4h0m.2 .3h0m0 218.2h0m.4-213.8h0m.3-7.6h0m.1 5.5h0m.1 214.1h0m.1-2.2h0m.3-249h0m.1 256.9h0m.1-242.8h0m0 14.4h0m.1-32.3h0m.1 18.8h0m.1 21.6h0m.1 210.1h0m0-233.6h0m0-19.6h0m.1 16.8h0m.1 239h0m0-222.9h0m.1 222.8h0m.2-241.3h0m0 238.6h0m0 13.9h0m.1-10h0m0-239.8h0m0-14.5h0m0 18.4h0m0 239h0m.2-4.1h0m.1-217.1h0m0 4.1h0m0 219.9h0m.2 8.3h0m.1-14.1h0m.1-255.4h0m0 3.7h0m.1 3.2h0m.2 257.4h0m0-244.6h0m.2-24.8h0m.2 43.5h0m0 221.6h0m.1 7.3h0m.1-247.1h0m0 8.4h0m0-7.9h0m.2 228.3h0m0 3.7h0m.2-1.1h0m0-224.9h0m.1 12.9h0m.1 213.7h0m.1-1.8h0m0-242.5h0m.1-14.4h0m0 258.3h0m.1-224.4h0m0-2.8h0m.1-34.2h0m0 43.7h0m0-68h0m0 31h0m0 21.7h0m.1 10.1h0m0-16.3h0m.2-11.1h0m0 29.8h0m0-32.6h0m0-28.1h0m0 58.4h0m0 230.6h0m0-251.2h0m.1 39.2h0m0-53.8h0m.1 7.4h0m0 247.1h0m.1-213.9h0m0 217.5h0m0-209.8h0m0-24.3h0m0 227.8h0m.2-237.3h0m.2 11.2h0m0-14.7h0m.2 38.7h0m0 28.2h0m.1 178h0m0-210.6h0m.1-36.9h0m0 51.5h0m0-31.1h0m0 22.6h0m0 208.4h0m0-206.6h0m0-33.8h0m.1 23.5h0m0-34.4h0m.1 6.4h0m0 247h0m.1-189.7h0m.1-47.3h0m.1-22.2h0m0 39.2h0m0-20.7h0m.1 6.3h0m.1 228.7h0m0-202.5h0m0 4.4h0m.1-3h0m.1-14.5h0m0 22.6h0m.1-5.9h0m0-12.7h0m0 29.3h0m.1 6.9h0m.3-42.2h0m.2-40h0m.1 60.6h0m0-89.3h0m0-40.3h0m.1 330.2h0m0-220.5h0m.1-73.9h0m.1 39.8h0m0-30.1h0m0 303.2h0m.1-237.9h0m.1 25.7h0m0 193.1h0m0-202.9h0m0-17.6h0m0-7.9h0m0 .8h0m.1-11.6h0m0-93.8h0m0 23.2h0m0 60.3h0m0-12h0m0 24.4h0m.1 24.5h0m0 3.4h0m0-16.1h0m0-58.8h0m.1 33.6h0m0 26.9h0m0-19.4h0m0-41.9h0m.1 31.5h0m0 27.5h0m0-20.9h0m.1 258.5h0m0-325.5h0m0 116.6h0m0 2.3h0m0-15.2h0m0-14.9h0m.1 31.6h0m0-55.6h0m0 38.8h0m.2-58.7h0m.1 10.6h0m0 26.4h0m0 6.2h0m0 6.2h0m0-4.6h0m.1-.2h0m0 31.8h0m.1-30.4h0m.1 5h0m0-10.4h0m.2-22.6h0m.1 251.3h0m.2-190.6h0m.1 189.9h0m0-186.9h0m.2 196.1h0m.1-2.4h0m.7-214.2h0m0-71.8h0m.1-7.1h0m0 66.3h0m.1 219h0m0-262.8h0m0 82.6h0m.1-96.5h0m0 51.8h0m0 8.2h0m0 214h0m.1-206.2h0m.1 4.8h0m0 211.9h0m0-237.6h0m0 19.3h0m0-29.3h0m0 51.4h0m.1-76.1h0m0 263.5h0m0-213h0m.1 1.3h0m0-1.4h0m0 213h0m0-194.2h0m.1-17h0m0 1h0m0 215.8h0m.1-244.4h0m0-40.8h0m0 100.5h0m0-71.4h0m0 67.5h0m.1 10h0m0-44.1h0m0 25.7h0m.1-54.2h0m.1 50.8h0m0 6.2h0m0-49.6h0m0 15h0m0-18.3h0m0-13.5h0m0 66h0m.1-10.7h0m0 .2h0m0 208.4h0m.2-210.5h0m0 15.9h0m0 187.3h0m0-184.1h0m.2-30.3h0m0 220.8h0m.1-208h0m0 216.7h0m.1-213.1h0m.1 33h0m.2 164.4h0m.5-174.8h0m.1-9.1h0m.3 181.7h0m0 1.2h0m.3-159h0m.1 158.5h0m0-163.6h0m.3 6.1h0m.2 159.9h0m.1-160.4h0m.2 161.4h0m0-.4h0m.1-157.6h0m.1 1.8h0m.3 164h0m.1-161.4h0m.2 151.7h0m0-165.1h0m.1 11.7h0m0 151.6h0m.1-173.3h0m.3-7.1h0m0-4.1h0m.1 23.2h0m0-37.3h0m.1 28.1h0m.1 13.7h0m.1 2h0m0-14.3h0m0 23.8h0m.1-25.7h0m.1 1.4h0m.1 20.4h0m.1-19.7h0m0-16.4h0m.1 204.4h0m.1-170.3h0m0 155.3h0m.2-184.9h0m0 208.5h0m.2-20.6h0m0-156.6h0m0 158.8h0m.2-153.8h0m0 154.8h0m.5 18.7h0m.3-6.4h0m.1 3.2h0m.1 5.6h0m.3-182h0m0 159.9h0m0 17.5h0m0-178.6h0m.1 162.5h0m0-155.9h0m.2-18.1h0m0 32.7h0m0-20.2h0m.1 5.7h0m0-11.9h0m0 165.3h0m0-139.8h0m0 141.4h0m0-158.5h0m.1 6.7h0m0-5.3h0m.1 156.1h0m.1-138.2h0m.1-7h0m.1-13h0m0-7.7h0m.1-11.5h0m.1 178.5h0m.1-158.3h0m.1 23.2h0m0 133.4h0m.1-139.9h0m0 3.9h0m.1-27.3h0m0 11h0m0 151.1h0m.3-150h0m.5-62.2h0m.6 67.3h0m.4 151.9h0m0 10.6h0m.1-240.7h0m0 227.7h0m.3-1.3h0m.1-184.3h0m.1 193.3h0m0-171.3h0m.2 18.7h0m.2-8.3h0m.3 167h0m.3-206.9h0m.1 49.5h0m.1-80.4h0m0-15.5h0m0 44.5h0m0 191.2h0m.1-173.6h0m.2-37.4h0m0 31h0m.1-34.8h0m0 30.9h0m0-19.4h0m.1 4.1h0m0-49.2h0m0 1.2h0m.1 109.2h0m.1-66.6h0m0-17.6h0m.1 9.4h0m.1 27h0m0-5.9h0m0-47.5h0m.1 96.2h0m.1-1.9h0m0-54.9h0m0 206.6h0m.1-151.7h0m0-51.6h0m0-52.6h0m.2 105.8h0m0-43h0m0-19.9h0m0 30.5h0m0 24.3h0m.1 20h0m.1-18.9h0m0 18.9h0m.1-57.6h0m0-60.7h0m0 33.5h0m0 233.1h0m.1-165.2h0m.1 15.6h0m0-103.3h0m.1 32.8h0m0-.4h0m.1 25.5h0m.2 183.3h0m0-228.7h0m.1 230h0m0-159.2h0m0 22.8h0m.1 136h0m.2-128.8h0m.2 139.9h0m.1-155.5h0m.1 12.1h0m.2 2.2h0m.1-7.2h0m0 .9h0m.1-7.8h0m0 19.2h0m.1-6.4h0m0 12.9h0m.1-25.4h0m0-1.6h0m.1 14.8h0m0-2.9h0m.1-7.8h0m.1-1.3h0m.1 143.7h0m0-.6h0m.1 1.8h0m0-129.5h0m.2 129.6h0m0-2.4h0m.1-114.2h0m.1 119.8h0m0 .5h0m0 15.6h0m.2-128.3h0m0 110.3h0m.2 3.9h0m0 3.8h0m0-132.9h0m0 2.4h0m.1 131.3h0m.1 5.2h0m0-10.3h0m.1-104.4h0m.2-4.1h0m.1-12h0m.1 111.7h0m.3 13h0m.4-11h0m.1 15h0m.4-117.5h0m.1-42.9h0m0 39.4h0m.3 17.2h0m.3 93.2h0m.2 18.3h0m.1-119.1h0m.2 8.6h0m.1 94.4h0m0-1.7h0m0-102.1h0m0 103.1h0m.3-.6h0m0 3.2h0m.5-106.1h0m.2 11.5h0m.2-13.1h0m.3 106.7h0m.1 12.1h0m.3-11.3h0m.1-97.1h0m0 103.6h0m.2-112.8h0m.1 5.7h0m0-.3h0m.1 100.7h0m.1 1.9h0m.4-100.5h0m.3 96.2h0m.2-97.3h0m.5 1.1h0m.1 95.5h0m.3-.1h0m.4 8.3h0m.1-101.1h0m.1 2.4h0m0 106.5h0m.4-7.3h0m.1-93.8h0m.1 96.6h0m.1-4.7h0m.1-118.7h0m0 21.6h0m.6 4.6h0m0 102.4h0m0-7.7h0m.2-5.6h0m.1-85.9h0m.1 91.6h0m.3 11.2h0m0-.6h0m.1-3.5h0m.1 6.2h0m.2 4.6h0m.1-12.5h0m.1-5h0m.2 10.7h0m.1-102.4h0m0 100.7h0m.2 7.7h0m.1-114.3h0m.1-5.6h0m.2 2.9h0m.1 97.2h0m.1-99.8h0m0 114.5h0m0-127h0m.1-2.2h0m.1 1.4h0m0 7.2h0m.3 7.1h0m.1 2.2h0m.2-11.9h0m.3 7.6h0m.1 105.2h0m0-4.2h0m.2-105.1h0m.1 102.5h0m0-105.2h0m.1 3.7h0m.2 103.8h0m.1-108.4h0m0 108.7h0m.4-113.4h0m0 105.2h0m.2-102.9h0m.1-7.5h0m.1 2h0m.2-20.4h0m0 129.4h0m.2-117.9h0m0 125.1h0m0-8.3h0m.1-154.7h0m0 16.8h0m.2 33.5h0m.1-48.5h0m0 150.4h0m.2-156.7h0m0 21.4h0m.1 141.1h0m.1-.5h0m.2-1h0m.1-113.4h0m.2 120.2h0m.1-12.3h0m.1 3.8h0m.1-122.5h0m0 125.3h0m.2-124.9h0m.1 123h0m.5-5.6h0m.2-124.1h0m.1 121.4h0m0-166.8h0m.1-15.6h0m0 23.5h0m0 21.3h0m.1-8.9h0m0 19.4h0m.2-31.6h0m0 169.9h0m0-155.1h0m.1-13.6h0m.1 18.7h0m0-45.9h0m0 30.3h0m.2 5.2h0m0 .2h0m.2-9.7h0m.1 155.9h0m.1-134.1h0m.1-4.4h0m.2 11.2h0m.1 144.4h0m0-13.9h0m.3-146.7h0m.1 148.4h0m.3-144.6h0m.2 137.5h0m0 22.9h0m.4-17.8h0m0-189.7h0m.1 183.8h0m0 11.8h0m.4-153.6h0m.1 144.9h0m.1-150.1h0m.1-44.1h0m.1 38.8h0m0-1h0m.1 155.8h0m.2-158.5h0m.1 8.4h0m.1 3.1h0m0 145.6h0m.1 8.1h0m0-6.7h0m.1-2.8h0m0 3.8h0m0-159.7h0m.4 150.9h0m.2-139.9h0m.1-9.1h0m.1-10.1h0m.1 17.2h0m0-16.7h0m0-16.8h0m.1 32.2h0m.1 4.8h0m0 148.4h0m0-155.5h0m0-49.4h0m0-7.7h0m.3 39.9h0m0-53.8h0m0-23.9h0m0 57.1h0m0 42.4h0m.1-21.4h0m.2 159.2h0m0-164.7h0m.1-5.3h0m0-23.2h0m0 18.4h0m.2-20.6h0m.1-16.9h0m0 68.6h0m.1-22.1h0m.1-45.2h0m0-5.7h0m.1 73.9h0m0-29h0m.1 6.1h0m0 10.1h0m0-3.4h0m.1 157.6h0m0-174.2h0m.1-15h0m.1 30.5h0m0-63.1h0m0-1.3h0m.1 69.1h0m0-7.3h0m.1-37.5h0m0 34.4h0m0 21.5h0m0 148.1h0m0-203.5h0m.1 11.6h0m0 26.6h0m0-41.6h0m0 22.2h0m.1 24.9h0m0-44.3h0m0 30.1h0m0 23.7h0m0-16.1h0m.1 14.8h0m.1 4.4h0m0 138.6h0m.1-151.4h0m0 5.4h0m.1 147h0m.1 19.2h0m.1-18.4h0m.4-189h0m0 43.3h0m0 148.2h0m.1-195.4h0m.1 29.4h0m0 16.8h0m.2-60.5h0m.1 34.4h0m0 12.8h0m.1-25.2h0m0 48.6h0m.1-30.4h0m0 2.8h0m0-66.7h0m0 59.4h0m0-19.1h0m0 49.5h0m0-42.6h0m.1 30h0m.1 3.7h0m0-57.8h0m0 26.9h0m0 14.1h0m0-50.4h0m0 35h0m0 36.1h0m.1-37.5h0m0-27.1h0m0 60h0m0-11.4h0m0 23.1h0m0-33h0m0 184.6h0m.1-6.5h0m0-181.8h0m0 29h0m0-60.1h0m0 215.2h0m.1-162.3h0m0-21.9h0m0-64.3h0m0 81.3h0m.1-9.3h0m0-6.3h0m0 5.7h0m.1 6.6h0m0 6.3h0m0-14.4h0m0-61.8h0m.1 77.4h0m0 159.7h0m0-149.1h0m0-53.7h0m0 225.2h0m0-261.4h0m0 257.5h0m0-13.1h0m.1-227.3h0m0 23.7h0m0 24.6h0m0 7.4h0m0 5.6h0m.1-1.9h0m0-16.2h0m0 19.4h0m0 163.9h0m0 2.5h0m.1-206.9h0m0 214.2h0m0-193.1h0m.1-.4h0m0 180.1h0m.1-199.5h0m0 45.2h0m.1-.6h0m0-6.5h0m.1 6.3h0m0-50.2h0m0 49.9h0m.3-43.6h0m0-7.6h0m.1 2.2h0m.1 54.3h0m0-57.2h0m0 214.1h0m.1-189.2h0m0-6.2h0m0 206.1h0m0-223.3h0m.1 7.6h0m0-4.9h0m.2 8.7h0m.1 18.1h0m.3 179.8h0m.2-157.5h0m0-21.1h0m0-34.2h0m.1 1.7h0m.1-13.8h0m.1-28.2h0m0 56.9h0m.1 209.8h0m.1-182.3h0m0 7.9h0m0-56.4h0m0 67.5h0m.1-110.7h0m0 104.7h0m0-19.8h0m0 14.7h0m.1-36.2h0m.1 196.3h0m.1-257.3h0m0 102.5h0m0-8.7h0m.1-2.3h0m0-2.7h0m0-9.9h0m0-48.5h0m.1-4.4h0m.1 47.6h0m.1 31.6h0m0-6.8h0m.1-1.5h0m.2 170.4h0m0-1.6h0m0-156.4h0m.1-57.1h0m.1 59h0m.1 148.9h0m.1-149.6h0m.1 145.8h0m0 1h0m.2-159.7h0m.1 159h0m.1-157.3h0m.1-2.7h0m.1-45.6h0m.2 205h0m.1-149.4h0m.1 15h0m0-17h0m.1 4.2h0m0 9.5h0m0-38.2h0m.1 42.4h0m.2-35.2h0m.2 34h0m.1 138.2h0m0-201.2h0m0 32.7h0m.1 168.4h0m0-142.1h0m0-58.5h0m0 7.7h0m.1 186.3h0m.2-205.5h0m0 37h0m0 1h0m0-1.3h0m0 27.4h0m.1-31.5h0m0 14.7h0m.1-.6h0m.1 10.6h0m0 147.3h0m.1-197.6h0m0 73.9h0m0-75.7h0m.3 27.8h0m.1 181h0m0-136.8h0m.3-11.1h0m0 13.7h0m.3-31.9h0m0 41h0m0-.6h0m.2-.5h0m0-1.2h0m.1-24.7h0m0 146.1h0m0 6.3h0m0 15h0m.1-150.9h0m0 128.6h0m0-124.5h0m.1 125.8h0m.2 19.7h0m.1 2.4h0m0-144.1h0m0 129.7h0m.2-9.6h0m0 7.1h0m.1 12.1h0m0-16h0m.2 1.8h0m0 19h0m0-133.1h0m0 113.6h0m.2 12.7h0m.2 5.5h0m.3-10.5h0m0-123.2h0m.5-45.1h0m0 166.7h0m.1-8h0m0-138h0m0-26.1h0m0 5.6h0m0 35.2h0m.1-17.9h0m.2 149.2h0m.1-185.1h0m0 50.5h0m.1-46.2h0m0 56.4h0m.1-14h0m0-7.4h0m0 3h0m.1 19.8h0m0-31.4h0m0-.5h0m0 12h0m0 140.1h0m0-143.1h0m0 12.7h0m.1-19h0m0-11.8h0m.1 19.4h0m0-36.6h0m.1 58.4h0m0-37.9h0m0-8.5h0m0 16.1h0m0 24.8h0m0-5.8h0m0-13.8h0m.1-5.2h0m.1-1.2h0m.1-11.6h0m0 35.9h0m.1 130h0m0-149.3h0m.1 14.2h0m0 148.2h0m0-152h0m0-5.4h0m0 2.5h0m0 15.6h0m0 124.9h0m.1 10.5h0m0-166.9h0m0 159.3h0m.1-151.2h0m.3-1.6h0m0 13.3h0m.1-23.9h0m0 160.7h0m0-153h0m0 9.3h0m.4 1.5h0m.2-2.1h0m0 156.9h0m.1-149.6h0m0 137h0m.1-149.2h0m.4-2.9h0m.1 6.8h0m0 140.1h0m0-140h0m.2-13.6h0m.1 10.9h0m.2 2.3h0m.1-38.6h0m0 3.3h0m0 33.8h0m0-34.3h0m.1 31.4h0m0-7.9h0m0-9.1h0m0 21.6h0m.1 158.5h0m.1-161.7h0m.1-32.7h0m0 32.6h0m.1-2.8h0m0-12.6h0m0-25.3h0m0 8.8h0m.1 14.5h0m0 .2h0m.1 19.3h0m.1-37.2h0m0 179.2h0m.1-151.5h0m0 5h0m.1-29.5h0m0-8.7h0m0 36.8h0m.6 3.9h0m.2-21.9h0m0 166.9h0m.1-1.2h0m.2-152.8h0m0 150.9h0m.6 6.2h0m.2-165h0m.2-.6h0m.1 158.1h0m0 4.2h0m.1-169.5h0m.3 175.4h0m.1 12.9h0m0-179.7h0m.6 154.9h0m.1-172.8h0m.1 185.8h0m.1-176.3h0m.1 2.5h0m0-33.5h0m.3 27.4h0m.2-6.8h0m.3-11.8h0m.1 21.4h0m0-22.2h0m.1 9.5h0m0-34.2h0m0-28.7h0m0 10.1h0m0 227.7h0m.1-215.1h0m.1 24.3h0m.1 .7h0m0 207.7h0m0-207.6h0m0-2.5h0m.1 22.3h0m0-78.1h0m.1-9.7h0m.1 3.5h0m0-1.7h0m0 48.2h0m.1-29.9h0m0 12.9h0m0 39.2h0m0-56.8h0m.1 41.7h0m0-56.1h0m0 80h0m.1-11.7h0m.2 9.7h0m0-50.5h0m.1 47.9h0m0 182.6h0m.1-165.8h0m.1-14.9h0m.1 6.6h0m0-65.2h0m0 48.3h0m0-5.5h0m.7 29.2h0m0-27.4h0m.1 189.7h0m.2-167.7h0m.2 169h0m0-242.3h0m.1 37.7h0m.1 211.7h0m0-190.8h0m0-29.5h0m.1-5.2h0m0 26.1h0m0-55.5h0m0 57.5h0m.1 2.2h0m0-23.9h0m.1 25.7h0m.1-61.3h0m0 10.2h0m0-50h0m0 118.7h0m.1-45.3h0m0 28.5h0m0 15.4h0m0-34h0m0-.2h0m0-39.2h0m.1 61.5h0m0-58.3h0m0 3.1h0m0-.8h0m.1 26.5h0m0 26.2h0m0 14.5h0m0-46.8h0m0 215.2h0m.1-221.5h0m0 27.4h0m0 27.5h0m0-37.9h0m0-100.4h0m0 73.7h0m0 63.2h0m0-10.3h0m0-34.1h0m.1 21.4h0m0-7h0m0-.6h0m0 19.4h0m0-55.9h0m0 46.7h0m.1-21.4h0m0 29h0m0-87.4h0m0 89h0m.1-3.8h0m0 1.9h0m0-90.3h0m0 43h0m0 14.4h0m.1 223.9h0m0-289.4h0m.1 107.6h0m0-65.9h0m0 245.3h0m0-221.1h0m.1-82.9h0m0 123.9h0m0-32.9h0m0-3.5h0m0 33.9h0m.1-10.4h0m0-26.6h0m0 3.8h0m.1 42.8h0m.2-28.4h0m0 206.2h0m0-204.4h0m.2 208.9h0m0-12.5h0m.1-183.5h0m.1 179.2h0m.2-173.6h0m0-23.9h0m0 15.4h0m.1 14h0m.3-7.4h0m.1 175.6h0m.5-190h0m0 6.8h0m.1 15.2h0m.2-11.7h0m0 178.4h0m0 6.9h0m0-188.5h0m.1-59.7h0m0 45.6h0m0-28.1h0m.1 46.8h0m0-10.8h0m.1-28.8h0m0 21.5h0m.1-30.3h0m0 36.3h0m.1-14.1h0m0 2.7h0m0-22.9h0m0 52.9h0m.1-29.4h0m0-39.8h0m0-.2h0m.1 53.9h0m0-82.1h0m0 25.3h0m.1 251.8h0m0-200.6h0m0-11.4h0m0 11.1h0m.1-7.9h0m0 203.8h0m0-177h0m0 181.1h0m0-182.6h0m.1 6.4h0m0-37.1h0m0-29.5h0m0 4.2h0m.2 247.7h0m0-241.9h0m0 14.5h0m0 25.2h0m.1-22.5h0m.2 32.3h0m.3-5.9h0m0-25.3h0m0 211.5h0m0-4.8h0m0 18.7h0m.1-19.2h0m.3-181.2h0m.1 9.3h0m.7 178.6h0m0-176.9h0m.1 183.2h0m.1-203.8h0m0-24.6h0m.2 22.1h0m.1 217.6h0m0-198.8h0m.1-36.3h0m0 210.8h0m.2-168.5h0m0 172.9h0m0 14.8h0m.1-220.4h0m0-28h0m.1 11.7h0m.1 3.7h0m0 15.3h0m0-29.7h0m0 55h0m0-69.6h0m.1 33.6h0m0-31.4h0m0 44.3h0m0 7.4h0m0 4.1h0m0 184.1h0m0-248.4h0m.1-20.2h0m0 45h0m0-13.6h0m0 24.9h0m.1 22.2h0m0-92.2h0m0 87.8h0m0-60.8h0m0-4.2h0m0 44.4h0m.1-50h0m0 64.8h0m0-49.6h0m0-20h0m0 76.1h0m0-65.1h0m0-26.5h0m0 32.3h0m.1-20.2h0m0 36.5h0m0-27.9h0m0 70.7h0m0 .9h0m0 18.9h0m0 175.1h0m0-210.2h0m0-28.3h0m.1-14.6h0m0 79.2h0m0-89.4h0m0-12.4h0m0 90.7h0m0 7.9h0m0-59.8h0m0 38.6h0m0-23.2h0m0-52.3h0m0 102.6h0m0-11.1h0m.1 14.4h0m0-34.2h0m0 203.8h0m0-246.9h0m0-34h0m0 107.4h0m0-58.2h0m.1-29.1h0m0 61.2h0m0 25.3h0m0-10.1h0m0-23.1h0m.1-32.4h0m0 50.5h0m0-10.1h0m0 6.7h0m0 4.3h0m0 30.1h0m.1-78.3h0m0 26.6h0m0-.4h0m0-90.3h0m0 26.1h0m0 290.9h0m.1-265.6h0m.1 26.9h0m.1 220.8h0m.1-180h0m0 2h0m0 5.6h0m0 15.1h0m.1 157.7h0m0-171.5h0m0 13.7h0m.1-39.7h0m0-16.6h0m0-19.6h0m0-7.6h0m0 29.7h0m.1-.7h0m.1 212.8h0m.1-164h0m.1-47.2h0m0-38.2h0m.2 24.4h0m0 8.2h0m0 37.9h0m.1-53h0m0 60.9h0m0-50.9h0m.1 46.5h0m0-26.3h0m.1-20.8h0m0 21.3h0m.1-22.4h0m0 223.5h0m.4-159.2h0m0 176.9h0m0-237.9h0m0 216.1h0m.2 10.5h0m.3-168.1h0m.4-29.3h0m0 26.1h0m.1-20.4h0m.1 6.8h0m0-41.1h0m0 42.6h0m.1-28h0m0 45.9h0m.1-78.3h0m0 34.2h0m.2 200.3h0m0-182.7h0m.1 193.2h0m0-256.5h0m.1 38.4h0m.1 .4h0m.1 42.1h0m0 7.9h0m0-13h0m.1-39.7h0m0 30.9h0m0 181.8h0m0 10.3h0m0-177.5h0m.1 182.6h0m0-232.2h0m.1-12.1h0m.1-15.8h0m.1 80.5h0m0 164.9h0m0-153.3h0m.1-85.7h0m.1 8.6h0m0 34.1h0m.1 23.2h0m0-56.8h0m.2 17.5h0m.2 37.7h0m0 3.6h0m0 11.5h0m.1-83.6h0m0 70.7h0m.1-4.8h0m0 9.5h0m0 14.5h0m0-8.4h0m.1 11.4h0m0 157.6h0m.1-4.6h0m0-188.1h0m0-20.2h0m.1 54.1h0m0-93.8h0m0 68.5h0m.1 14.8h0m.2 14.5h0m0-45.2h0m.2 13.8h0m0 188.2h0m.1-5.2h0m.1 10.4h0m0 6.3h0m.2-195.3h0m.5 12.5h0m0 173.9h0m.2-2.2h0m.1-154.9h0m.2 156.8h0m0-8h0m.5-151h0m.1 152.8h0m.1-145.7h0m.3-16.4h0m.2 19.9h0m0 151.6h0m0-7.6h0m.1 3.2h0m.3-158.3h0m0 1.4h0m.2 169.7h0m0-12.6h0m0-160h0m.1 162.7h0m0-157.5h0m.1 163.6h0m.1-160.8h0m.1 147.3h0m0-155.7h0m0 10.5h0m.6 9.2h0m.2 2.1h0m.1-3.1h0m.1 142.3h0m.1-147h0m.2-15.8h0m0 8.8h0m0-.6h0m.3 15.4h0m0 137.5h0m.1 17h0m.1-167.9h0m.2 1.4h0m.3 22.2h0m.1 129.1h0m.1-133.4h0m.2 2.7h0m.1-6.3h0m.5 12.3h0m.1 128.5h0m0 18.6h0m0-18.6h0m0 .9h0m0 .9h0m.1-139.4h0m0 136.8h0m0-135.8h0m0 140h0m.4-143.9h0m0 141.5h0m0 5.3h0m.1-5.8h0m.1-126.9h0m0 126.9h0m.1-1.9h0m0-121.7h0m.1-7.3h0m0-9.6h0m.3 15.6h0m.2-1.3h0m0 148.2h0m.3-23.1h0m0-123.6h0m0 3.6h0m0 2.3h0m.5 122.8h0m.8-120.1h0m.2 110.4h0m.2 1.2h0m.1-109.6h0m.1 0h0m.1-7.3h0m0 114.4h0m.1 24h0m.1-142.9h0m0-2.9h0m0 15.9h0m0 118.8h0m.8-117.8h0m.1 113.5h0m.3 5.3h0m.1 8.1h0m.3-145.7h0m.1 141h0m0-121.4h0m.1-32.5h0m.2 143.9h0m0-110.2h0m.1 1.1h0m0-44.3h0m.1 26.7h0m0 141.4h0m.1-162.4h0m0 24.2h0m0-23.6h0m0 159.9h0m.1-2.9h0m0-10.6h0m.1-117h0m.2 126.3h0m0-1.5h0m0-123.8h0m.1 3.2h0m.1 132.3h0m0-11.8h0m.2 22.2h0m.2-137h0m.1 136h0m.1-142.9h0m.1 138.6h0m0-147.3h0m.2 140.4h0m.2-10.9h0m.1-120.2h0m.1 .5h0m.1-1.9h0m.2 5.8h0m0 122.4h0m0-131.5h0m.3-16.7h0m.1 23.1h0m0-18.5h0m0 143.1h0m.1 3h0m0-130.1h0m.1 145h0m.1-10.1h0m0-11.5h0m.1 13.2h0m.2-146.5h0m.2 9.2h0m.2-5.4h0m.1 130.7h0m0 14.8h0m.4-9.4h0m0 4h0m0-11.8h0m.1 3.4h0m.3 2.7h0m.2-130.6h0m0 .1h0m.1 125.5h0m.1 3.2h0m0 5.8h0m0-137.2h0m.1 123.9h0m.1 11.9h0m.1-134.4h0m0 143.9h0m.1-19.8h0m.2 .6h0m.2-2h0m.5-122h0m.1-12.4h0m.4 134h0m.2-131h0m.4 4.9h0m.1-.5h0m.2 126.4h0m.8-1.4h0m0 4.2h0m.3-133.2h0m0-7.6h0m.1 134.3h0m.1-122.5h0m.2 144.4h0m.3-9.8h0m.5-139.3h0m.1-2.7h0m0 131.5h0m.1 1.8h0m.4-137.7h0m.3 135.5h0m0 12h0m.1-137.8h0m0-32.3h0m0 13.4h0m.2 141.5h0m0-142.2h0m0 15.2h0m.3 137.2h0m.1-135.8h0m0-28.1h0m.2 156.8h0m0 4.6h0m0-137.1h0m.1 144.7h0m.2-143.1h0m0-36.7h0m0 28.2h0m0-.9h0m.1 146.5h0m.2-148.5h0m0 150.3h0m0-143.1h0m.1 134.8h0m.1-147.5h0m.2 11.4h0m.2 132.6h0m.6 11.6h0m.1 .1h0m0-149.5h0m.1 149.2h0m0-2.5h0m0-5.6h0m.3 23.9h0m0 .3h0m0-18.3h0m.3-165.4h0m.2 167.5h0m0-151.3h0m.1-4.4h0m.1-11.2h0m0-3.7h0m0 183.4h0m.1-200.8h0m.1 185.9h0m0-154h0m.1 152.4h0m.1-147.1h0m0-1.9h0m0-24.3h0m.2 173.2h0m0-138.2h0m0-10.5h0m0-10h0m0 182.2h0m.1-174.4h0m0 4.5h0m.1 161h0m.1-166.2h0m.2 .8h0m0 165.9h0m.1 .2h0m.1-172h0m.1 167.3h0m.1-11h0m.2-147.9h0m.1 145.6h0m0 7.2h0m.1 10.2h0m.2-161.1h0m.1 157.1h0m.5-156.7h0m.3 141.6h0m.2-.1h0m.6 .6h0m.1 21.9h0m.1-165.5h0m0 148.7h0m.2-143.5h0m.1 140h0m.2-139h0m.1 1.3h0m.1 147.6h0m.1-165.1h0m.1 3.3h0m0 7.7h0m.1-21.5h0m0 13.6h0m0 17.2h0m.1 135h0m0-170.3h0m.1-13.9h0m.5 45h0m0-8.6h0m.1-4.9h0m.1 158.3h0m0-139.6h0m0 146h0m.1-11h0m.4 15.9h0m.5-147.3h0m.5 131.5h0m.1 20h0m.1-165.9h0m.2 143.7h0m.5-140h0m.3 6.2h0m.6 133.5h0m0 3h0m.2-134.3h0m.7 134.9h0m.2-137.2h0m.1-6.8h0m.1 161.2h0m0 4h0m.1-158.9h0m0 131.7h0m.1 13.3h0m.1-.8h0m.1 2.7h0m0 4.8h0m.1 9h0m.1-9.8h0m.2-145.2h0m.1 133.2h0m.4-122.6h0m.2 120.4h0m.7-114.3h0m.1 115.3h0m.1-118.2h0m.1 1h0m.1 119.4h0m.1-2.8h0m.1 .8h0m1 2.1h0m0-113.7h0m.2 120.8h0m.2-118.4h0m.1 114.4h0m.4-6.7h0m.3-1.1h0m0-113h0m.2 116.8h0m.2 6.2h0m0-117.7h0m0 106.1h0m.1-104.6h0m.2 115.8h0m.4-2.6h0m.1-5.5h0m.1-108.5h0m.2-.1h0m.1 117.2h0m.4-9.4h0m.6 0h0m.3-1.7h0m0-110.9h0m.1 3h0m.1 104.8h0m.1 16.2h0m.2-120.3h0m.2 120h0m.1-13.6h0m.1 5h0m.1-117.4h0m.2 115.7h0m.1-3h0m.1 12.7h0m.2-121.8h0m.3 113.3h0m.1-4.6h0m0-106.6h0m0 106.4h0m.1-.1h0m.2-99.5h0m0 105.2h0m0-114.6h0m.3 121.2h0m.4-9.9h0m.1-112.3h0m.1 111.2h0m.3-100h0m.9 102.5h0m.2-104.1h0m.2 107.7h0m0 14.2h0m.3-20.3h0m.1 14.9h0m.2-15.6h0m0 5.8h0m.1-1.9h0m.6-108.8h0m.1 .4h0m.4 108.3h0m0 1.2h0m0-8.6h0m.2 7.3h0m.1 5.1h0m.5-131h0m.3 123.1h0m.2-109.4h0m.1 3.5h0m.3-12.8h0m.1 3.1h0m.1-15.9h0m.1 143.9h0m.4-144.4h0m.1 130.1h0m0-124.9h0m0-8.6h0m0 23.7h0m.1-18.1h0m0 24.8h0m0-45.6h0m.1 1.5h0m.1 162.1h0m.1-149.8h0m.2 139h0m.1-125.3h0m.1 123.1h0m.1-112h0m.1 114.2h0m0-129.2h0m0 130.2h0m.3-122.9h0m.1 8.2h0m0-21.6h0m.2 6.4h0m.1 14.8h0m.2 113.2h0m.2-113.4h0m0 118.6h0m.1-126.1h0m0 7.5h0m.1 1.3h0m0-5h0m0 138.4h0m.1-129.3h0m.1 124.9h0m.1 5.8h0m.1-135.2h0m.1 133.9h0m.1-20h0m.1 10.4h0m.3-123.4h0m.3 115.5h0m.1 3.8h0m.1 2.5h0m.2-121.4h0m.2 113.9h0m.1-124.9h0m0 131.6h0m.1 7.2h0m.1-131h0m.1 3.5h0m.2 .5h0m0-3.1h0m.1-3.2h0m0 10.7h0m.1-31.4h0m.1 24.4h0m0-38.9h0m.1 38.6h0m0 118.9h0m0-141.5h0m0 30h0m0-18.3h0m.2 11.6h0m0 6.1h0m.1-5.3h0m0-.5h0m.1 118.4h0m0 4.4h0m0-126h0m.2 1.8h0m.2 8.5h0m.1 1.9h0m.1 113h0m.3 11.8h0m0-125.3h0m.1 113.5h0m0 .5h0m.4 2.3h0m.5-1.7h0m0-3.8h0m.3-109.7h0m0 108.4h0m.5-109.3h0m.1 1.5h0m0 1.3h0m.2 108.8h0m.2-.3h0m0 .5h0m.1 15.8h0m0-125.6h0m.2 5.7h0m0-.6h0m.1 119.6h0m0-139.3h0m0 144.7h0m.1-12.1h0m.1-9.6h0m.1 10.9h0m.1-4.8h0m0 2.2h0m0 5h0m.1-132.5h0m.1 9.1h0m.2 117h0m0-116.1h0m.3 122h0m0-11.9h0m0-105.2h0m.1 2h0m.2 120.5h0m0-14h0m.1 8.5h0m.3-10.9h0m.2 20.9h0m.1-17.4h0m.1-111.5h0m0-2.1h0m0 123.9h0m0 .4h0m.4-13.8h0m0-109.5h0m0-12.3h0m.1-1.6h0m.5 129.4h0m0-2h0m.1-2.5h0m0 0h0m0 2.9h0m0-109.4h0m.3-4.2h0m.1 114.9h0m.1-116.1h0m0 115.3h0m.2 .1h0m.1 7h0m.7-117.1h0m.2-4.8h0m.2 131.6h0m.4-127.6h0m.1 112.4h0m.1-1.3h0m0-104.1h0m.2-32.6h0m0 29.9h0m0-31.9h0m.1 145.9h0m.1-138.7h0m0-23.4h0m.1 38.6h0m0 7.8h0m.1-5.3h0m.1-5.6h0m0-14.8h0m.2 132.8h0m0-102.2h0m0-15.5h0m.1 11.3h0m.3 116.9h0m0-119.1h0m0 4.2h0m.1 110h0m.5 2h0m.4-113.5h0m.3 116.4h0m0-5.4h0m.5-111.1h0m.1-27.7h0m0 141.1h0m.2-112.6h0m0 110.1h0m.8-1.2h0m.1-1.3h0m0-109.4h0m.1 1h0m.1 1.8h0m0 123.1h0m.4-14.3h0m.1-107.5h0m0 107.1h0m.6-1.2h0m0 6.2h0m.1-113.6h0m.3 1.3h0m.1 107.7h0m.1 3.3h0m.3 0h0m.3 2.9h0m.2-113.3h0m.1-2.1h0m.1-.7h0m.4 124.5h0m.2-131.9h0m.2 11.4h0m0 105.5h0m.1 1.9h0m0 1h0m.1-.9h0m.1-2.8h0m.2-105.5h0m1.1 109.2h0m.1-104.9h0m0 100.9h0m.1-105.6h0m.2-2.2h0m0 2.6h0m.3 112.3h0m0-.8h0m.2-108.6h0m.1 102.4h0m.6-1.2h0m.3-110.7h0m.5 13.1h0m.3 .4h0m.3 1.7h0m.2-1.1h0m.3 95.2h0m.3 6.1h0m.2 2.6h0m0-104.9h0m0-6.6h0m.1 107h0m.4-132h0m0 29.6h0m.2-10.9h0m.1-12.6h0m0 131.2h0m.1-130.9h0m0 123.5h0m.1-110.4h0m.1-29.3h0m0 12.8h0m.3-.5h0m0 31.2h0m.2 104.6h0m.1-150.8h0m0 147.7h0m.2-115.3h0m0 110.2h0m.1-100.7h0m.7-12.3h0m0 113.2h0m0-117h0m.3 122.3h0m.1-108.8h0m.2-.8h0m.1-.4h0m.3-31.7h0m.1 33.7h0m.1 102.6h0m.3-132h0m.1-.3h0m.6 27.5h0m0 102.9h0m.3 2.2h0m0-104.5h0m.1 103.9h0m.4-105.4h0m0-49.2h0m.2 154.7h0m.2-125h0m0-25.3h0m.1 53.1h0m.1-38.6h0m.1 32.8h0m0-42.7h0m.1 8.2h0m0 135.6h0m.3-143.4h0m0-18.1h0m0 64.6h0m0-51.4h0m.1 44.3h0m0-39h0m.1 43.8h0m.1 105.5h0m.1-122.1h0m0 12.4h0m.1 110.2h0m.3-105.1h0m.1 102.7h0m0-1.6h0m.1-93.4h0m.2 95.2h0m.3-107.5h0m.1 13.1h0m.4-.8h0m0-21.1h0m0 113.5h0m.2-93.1h0m0-16.5h0m.3 2h0m.3 16.4h0m.1 2.5h0m.6 86.9h0m.1 3.3h0m.2-2.7h0m.4-90.5h0m0 94.1h0m.1-91.4h0m.6 7.7h0m.3 .1h0m.2 82.4h0m.2 2.9h0m.1-86.4h0m.2 84.7h0m.2-78.9h0m0 83.5h0m.2-86.5h0m.6 83.4h0m.1-78.3h0m.4-.9h0m0 82.5h0m.2-.4h0m0-82h0m.5 81.6h0m.4-83h0m.7 85.8h0m.4-80.3h0m.7 83.6h0m.2-74.4h0m.2 .8h0m.1-1h0m.4 75.1h0m.1-71.9h0m1-.8h0m0 .4h0m.2 71.3h0m.6-70.7h0m.5 71.3h0m.4-78.9h0m.2 79.7h0m.2-78.6h0m.1-3h0m.4-2.5h0m0 82.4h0m.2-74.4h0m0-5.8h0m.5-7.8h0m.1 2.5h0m.4-7.1h0m.2 19.6h0m.2 74.8h0m.1-77.9h0m.2 6.5h0m.4-6.8h0m.4-11.3h0m.1 89.5h0m.4-.3h0m.1-69.9h0m.6 68.8h0m.1-67.7h0m.9-3.1h0m.1 71.5h0m.4-83.8h0m.5 5.8h0m.2 79.7h0m.5-71.3h0m.3 71.3h0m0 0h0m.2-69.8h0m.2 68.1h0m.8 2.7h0m.2-72.5h0m.7 69.2h0m.3-68.5h0m.2 3.6h0m.2-1h0m.1 2.1h0m.2-20.3h0m.3 23.4h0m.3-15.5h0m.1 2.7h0m.1 74h0m.6-61.1h0m.1 61.2h0m.3 1.5h0m0-72.7h0m.2 9.5h0m.2 62.8h0m0-66.6h0m.1 9.2h0m.1-4.5h0m.2-9.1h0m.2 10.9h0m.1 59.7h0m.5-54.2h0m.8 52.7h0m.1-58.9h0m.8 1.4h0m.2 56h0m0-55.2h0m.2 .2h0m.3-3.2h0m.3-2.3h0m0 62.6h0m.1-77.1h0m.1-1.8h0m.1 79h0m.1-69.3h0m.2 16.1h0m.4 49h0m.3-46.8h0m.8-2h0m.2 49.5h0m.1-55h0m1.2 55.6h0m.1-47.2h0m.1 49h0m.1-48.2h0m1.4 48h0m.2-45.4h0m.9 44.5h0m.2-45.8h0m.5 46.3h0m.2-48h0m1.2 50.5h0m0-52.4h0m.3 50.7h0m.8-49.4h0m.1 3.2h0m0 45.2h0m.4 1.9h0m.7 1.7h0m.2-.9h0m.4-44.7h0m.3 42.3h0m.9-38.4h0m.1 4.8h0m.7-1.1h0m.2 37.2h0m.1-34.7h0m.6 34.6h0m.6-34.2h0m.2 34.7h0m.9-35.6h0m.7 38.1h0m.2-36.7h0m.6 38.1h0m.3-.2h0m0-34.8h0m.6-1.1h0m.4-1.4h0m.1 2.8h0m0 35h0m.6 .1h0m.5-31h0m.3 28.8h0m.2-1.1h0m.6-32.3h0m.6 33h0m0-2.3h0m.8-33h0m.6 33.6h0m.4-33.8h0m.7 35.3h0m.3-36.5h0m.4 38.7h0m.3-38.1h0m.1 39.4h0m.4-40.4h0m.5 3.2h0m.1 37h0m.8-1.9h0m.4-34.7h0m.3 36.2h0m.6-38.2h0m.9-4.3h0m.2-1.6h0m.1 44.6h0m.3-1.2h0m.2-38.6h0m.2-2h0m0 .9h0m1.3 39.4h0m0-37.5h0m0 37.6h0m.3-.5h0m.7-36.1h0m.3 3.5h0m.5 31.6h0m.3-45.9h0m.1 45.6h0m.1-36.7h0m0 35.3h0m.2-30.6h0m.1-3h0m0 34.8h0m.2-44.1h0m.2 9.4h0m.2 2.5h0m.1 33.1h0m.4-31.8h0m.3 31.6h0m.3-1.3h0m0-31.9h0m.1-.7h0m.2 .8h0m.2 .5h0m.8 34.5h0m.3-32.8h0m.2-2h0m.5 31.9h0m1.1 2h0m.3-29.8h0m.5 30.6h0m.2-31.3h0m.6 31h0m.8-31.4h0m.6-7.6h0m.2 39.1h0m0-2h0m.1 2h0m.5-29.4h0m.4 28.6h0m.1-32.1h0m.3 31.1h0m.1-30h0m.4 28.3h0m.9-31.5h0m.3 33.5h0m0-31.4h0m.2 1.8h0m.5 29h0m.1-28.9h0m.3-5.7h0m.3 35.5h0m0-26.1h0m.3-6.4h0m.2 2.9h0m.4 29.1h0m.6-26.9h0m.2 .7h0m.4-.7h0m.3 2.6h0m.3 24.7h0m.1-.9h0m.3-25.3h0m.5 24.6h0m.8-20.7h0m.2-.8h0m0 1.7h0m.1 21.5h0m.4-19.1h0m.5 20.3h0m0-21.4h0m.2 3.7h0m.5 17.1h0m.6-19.9h0m0 22.2h0m.1-21.1h0m.5 .6h0m.2 1.4h0m.5-1.7h0m.2 22h0m.8 .4h0m.5-21.1h0m.6 18.8h0m.1-20.3h0m.3 20.5h0m.4-18.7h0m.6 18.7h0m0-16.8h0m1.8 .2h0m.1 19.1h0m0 1h0m.6-21.4h0m.3 20.4h0m.2-1.7h0m.1-16.6h0m.1 18.1h0m.4-19.1h0m.3 19.5h0m.6-1.8h0m.1-18.2h0m.7 2.7h0m.3 17.3h0m.5-15.4h0m.2 .9h0m.7 13.4h0m.4-16.2h0m0 19.6h0m1-15.5h0m.2 3.3h0m0 9.9h0m.4 1.8h0m.1-25.7h0m0 2.5h0m0 .8h0m.5 22.6h0m.3-14h0m.1-2h0m.2 14.1h0m.7-14.2h0m.2 15.6h0m.1 .2h0m.8-20.1h0m.1-4.2h0m.1 24.4h0m1.5-2.8h0m.1 2h0m0-19.6h0m.2 .6h0m.5 19.1h0m.3-20h0m.4 .9h0m.6 20.2h0m.1-18.5h0m.4-5.5h0m.1 23.1h0m1-23.5h0m.3 24.1h0m.1-23.7h0m.5 1h0m.3-.9h0m.2 21h0m.8-18.6h0m.2 17.4h0m.3-13.1h0m.6 13.6h0m.9-10.7h0m.3 11.2h0m.3 2.6h0m.8-14h0m.3 13.9h0m.6-12.4h0m.2-1.6h0m.5 13.5h0m.2 .4h0m.1-15.9h0m.2 1.1h0m.2 .7h0m.3 11.6h0m.8-12.6h0m.3 14h0m1.2-.9h0m0-11.5h0m.6 12.4h0m.1-1.6h0m.2-11.1h0m.4 11.4h0m.6-10.1h0m.2 11.6h0m.2-15h0m.1-.6h0m.8-.8h0m.3 14.6h0m.5-15.7h0m.1 16.5h0m.6-14h0m.2-4.4h0m.4-.1h0m.1-2.9h0m.1 10.9h0m0 10.5h0m.4 1.3h0m.3-12.7h0m0 13.1h0m1.1-11.4h0m.4-7.3h0m.3 16.9h0m.3 1.4h0m.4-1.6h0m.3-15.6h0m0 1.4h0m.1 4h0m.1 11.8h0m.6-15.2h0m.2 .4h0m.4-.8h0m.4 14h0m.3-14.7h0m0 1.1h0m.1 13.7h0m.4-14.6h0m.1-2.1h0m1 16.6h0m.2-11h0m.2 .5h0m.1 .1h0m.5 9.8h0m.1-8.5h0m.7-1.6h0m.3 13.7h0m.4-13.6h0m.3 11.9h0m.7-12.3h0m.3-.1h0m0 14.2h0m.1-1.3h0m.1 0h0m.1-13.9h0m.4 .4h0m.2 1.6h0m.1 .6h0m.5 12.9h0m.1-14.5h0m.8 3.9h0m0 7.4h0m.3 1.1h0m.4-6.7h0m.6 7.1h0m.2 .9h0m.4-7.7h0m0 .6h0m.4 6.2h0m.4 .8h0m.1-6.3h0m.8-.1h0m0 6.8h0m.2-8.2h0m.4-.7h0m.1 9.7h0m0-7h0m1-.7h0m.8 7.8h0m.4-7h0m.5 7.1h0m1.1-10h0m0 10.9h0m.3-8.3h0m.6 5.3h0m.5 1.5h0m.3 0h0m.4-6.9h0m0-2.3h0m.9 10.1h0m.2-6.7h0m0 5.8h0m1.1 .4h0m.2-6.9h0m1.1 1.8h0m.4-3.8h0m.1 7.9h0m0-7.3h0m.1 8.8h0m.4-8.1h0m.2 2h0m.6 1.3h0m.3-3h0m0-1.3h0m.1 3.3h0m.2 3.9h0m.5-3.7h0m0 4.2h0m.9-3.1h0m.3 4.9h0m0-4.2h0m.1-.7h0m1 .5h0m.1 4.6h0m.2-6.8h0m.2 7h0m.6-6.5h0m.1-1.8h0m.2 7.3h0m.1 .1h0m.4-5.1h0m.9 .8h0m.4 4.1h0m.3 .6h0m.4-5.5h0m.3 .6h0m.3 4.1h0m.3-3h0m.1 3.8h0m.4-.6h0m.4-5.2h0m.9 2.1h0m.4 3.4h0m1 0h0m.2-4.9h0m.1 5.2h0m.2-4.1h0m.1 .2h0m.7-1.6h0m.1 5.2h0m.7 .3h0m.2-1.3h0m.3-4.8h0m1.2 5.5h0m.2-4.6h0m.5 5.5h0m.5-4.5h0m.1 1h0m.7 3.2h0m0-4.9h0m1.1-.3h0m0 4.9h0m.7 1.3h0m0-6.6h0m1.4 6.1h0m.1-4.5h0m0-1h0m.5 4.7h0m.3-4.1h0m.4-1h0m.1 1.6h0m.1 4.1h0m1.3-1.1h0m0-2.7h0m.4-.2h0m.3 3h0m.7-3.3h0m.1-.2h0m.4 4.6h0m.9 0h0m.2-4.7h0m.8 4.2h0m.4-4.5h0m.5 .7h0m.2-.2h0m.3 .1h0m.2 4h0m0-.5h0m.6-4.4h0m.3 4.6h0m0-3.8h0m0 .8h0m.1-.8h0m.1 1h0m.7 3.4h0m1.1-3h0m.1 3.4h0m.2-2.9h0m.3 2.2h0m.6 .1h0m1-3.3h0m.8-1.3h0m.1 4.4h0m.3 .3h0m.3-3.5h0m1.1 1.1h0m.4 2h0m.2-.2h0m.6-1.6h0m.9-.2h0m.2-.9h0m.1 3.8h0m.1-.4h0m0-2.3h0m.1 2.6h0m.4-3.4h0m.1-.6h0m0 .5h0m.3 3.3h0m.1-3.2h0m.4 .7h0m1 2h0m.1-2.5h0m.5 3.7h0m.6-.1h0m.1-4.1h0m.3 0h0m0 1h0m0 3.1h0m.2-.5h0m.9 .3h0m.1-2.3h0m.9-.3h0m.3 2.8h0m.8-3.1h0m0 3h0m0 0h0m.8-2.7h0m.1 2.9h0m.5-.4h0m.7-.3h0m.5-2h0m.6-.2h0m.1 .6h0m.2 1.7h0m.4-2.2h0m.1 2.4h0m.3-2.3h0m.1 2.6h0m.3-2.9h0m.1 2.7h0m.2-3h0m.1 1h0m.5 .4h0m.4-.2h0m.2 1.3h0m.9-1h0m.2 1.9h0m.4-2h0m.6 1.4h0m.9-.9h0m.2 1.1h0m.6 .4h0m.3-1.1h0m.3-.3h0m.1-.1h0m.1 1.3h0m.6-1.1h0m.1 .3h0m.4-.3h0m.3 1.2h0m.2-1.3h0m.3 .9h0m.1-.5h0m.9-.3h0m0 .9h0m1.2-1h0m.1-.1h0m.4-.3h0m.2 1.4h0m.3-.9h0m.6 1.3h0m.7-1.6h0m.2 1.1h0m.6-.7h0m.3 1.3h0m.1-1.8h0m0 2.2h0m.4-1h0m.2-1.1h0m.1 1.6h0m1.1-1.1h0m.3 .7h0m.5 .3h0m.3-1.5h0m.4 .2h0m.1-.1h0m.6 1.6h0m.3-.2h0m.4-1.6h0m0 .6h0m.2 0h0m.6 .3h0m.2 .1h0m.5 .4h0m.6-1.9h0m.3 1.9h0m.2-.7h0m.2 0h0m0 .7h0m.6-1.9h0m1.1 2.1h0m0-1h0m.8 1h0m.2-1.2h0m0-2.1h0m.2 3.6h0m.2-1.4h0m.2-.7h0m.7 .5h0m.5 1.5h0m.8-.2h0m.2-1.4h0m.5 .1h0m.3 1.6h0m.8-1.4h0m.3 .9h0m.6-1.1h0m.2-.1h0m0 1.6h0m.6-1.8h0m.8 1.8h0m.1-2.3h0m.6 .5h0m.1 2h0m.4-.4h0m.7-1.4h0m.7 0h0m.2 1.6h0m.8-2.3h0m.3 .3h0m.1 1.5h0m.6-1.1h0m.5 1.1h0m0-1.4h0m0-.4h0m.3 .1h0m.1 1.7h0m1.2 .2h0m.1-1.3h0m1.1-.5h0m.2 1.9h0m.1-1.6h0m.4 .6h0m.5 1.1h0m.2-.9h0m.6 1h0m1.1-.1h0m.1-1.4h0m.7 1.4h0m.2-1.8h0m.5 1.3h0m.3-.9h0m.7-.2h0m0-.5h0m.4 2h0m.7 0h0m.4-1.1h0m.4-.1h0m0-2.3h0m.7 3.3h0m.5 .2h0m0-1.4h0m.7 .2h0m.7 1.1h0m.1-1.3h0m.6 .3h0m.1 .9h0m.4-.5h0m.2 .3h0m1.3-.5h0m.1 .8h0m0-.9h0m.1 .3h0m.9 .1h0m.2-2h0m0 2.4h0m.1-.4h0m.5 .6h0m.4-.7h0m.3 .6h0m.2-.4h0m.8-2.6h0m.1 3.3h0m.1-.3h0m.9-.2h0m.4 .4h0m.2-1.6h0m.5 .6h0m.4 .9h0m.9-1h0m.1 1h0m.5-1.3h0m.8 1.5h0m.1-1.2h0m.3 1.3h0m.9-.3h0m.1-.8h0m1 1.1h0m.6-1.3h0m0 .3h0m.4 1.1h0m.9 .1h0m.6-1.8h0m.5 1.6h0m.1-1.3h0m.6 1.2h0m.1-1.3h0m1.3 1h0m0-1.4h0m.6 1.7h0m.7-1.9h0m.3-.4h0m.1 0h0m.1 2.5h0m.7-.1h0m.8-2.2h0m.7 1.7h0m.2-1.7h0m.2 .4h0m.2 1.9h0m.9-1.7h0m.8 1.1h0m.1-.7h0m.1 .1h0m.9 .8h0m.3-1.1h0m.3 1.2h0m1.3-1.2h0m.1 1.3h0m.3 0h0m.3-.9h0m.6 .9h0m.4-1h0m.8-.9h0m.1 1h0m.5 .9h0m.3-.1h0m.4-.9h0m.7-.2h0m.1 1.4h0m.1-2h0m.3 .7h0m.2 1h0m.7-1.1h0m.4 1.4h0m.6-1.6h0m1 .4h0m.1 1.2h0m.4-1.4h0m0 1.6h0m.9-.1h0m.2-1.2h0m1.6 0h0m.1 1.2h0m.3-1.3h0m.1 1.1h0m.7-.3h0m.2-.9h0m.4 .3h0m.7 .1h0m.5 .9h0m.5-1.2h0m.5 .9h0m.4-.7h0m.5 1h0m.6-.8h0m.1-.4h0m.1 .9h0m.6 .2h0m.1-1h0m1.1 1h0m.6-.8h0m.5-.4h0m0 .9h0m.1-.8h0m.1 0h0m.2-.1h0m.3 1.5h0m.1-1.8h0m1 .4h0m.3 .9h0m.6 .1h0m.3-1.1h0m.1 .1h0m.8 1.1h0m.1-.9h0m.6-.5h0m.1 1.6h0m.3-1.5h0m.2 0h0m.3 .1h0m0 .2h0m.5 1.2h0m.6 0h0m.8-1.1h0m.2-.3h0m.3 0h0m.4 1.5h0m1.1-1.5h0m0 1.2h0m.8 .5h0m0-1.7h0m.8 .4h0m.3 .9h0m.5-1.4h0m.1 0h0m.4 1.5h0m.5-1.3h0m.5 1.2h0m0-1.1h0m.9 1.5h0m.3-1.6h0m.2 1.2h0m0-.9h0m.9 1.1h0m.2-1.6h0m.4 0h0m.6 .4h0m.6 .8h0m.4 .2h0m.3-1h0m.8 1.1h0m.1-1.1h0m.1-.2h0m0 .2h0m.8 .3h0m0 .7h0m1-.6h0m.1 .7h0m1.4-.8h0m.1 .7h0m.4-.9h0m.2 1.1h0m1.1-1.4h0m0 1.6h0m0-1.3h0m.6 1h0m.3-1h0m.6-.2h0m.1 1.4h0m.6-1.1h0m.2-.7h0m.8 1.8h0m.7-1.4h0m.2 .9h0m.3 .3h0m.8-1.5h0m.2 .1h0m.9 1.3h0m.5-.1h0m.1-1.3h0m.5-.1h0m.7 1.5h0m.9-1.1h0m.1 .8h0m.3-1.3h0m.7 1.6h0m.7 .3h0m.3-1.9h0m.5 .6h0m.6 .8h0m.3-1.9h0m.2 2.1h0m.4-1.6h0m.5 0h0m.1 1.8h0m1.4-1.8h0m.1 1.6h0m0-.9h0m.3-.7h0m.3 1.9h0m.7-1.6h0m.1 1.2h0m.7-1.2h0m.7 1.1h0m.2-.9h0m.2 1.2h0m.2-1.3h0m1.3 1.1h0m.2-1h0m.4 0h0m.4 .9h0m.7-.5h0m.3-.2h0m0 .9h0m.8-.3h0m.5-.4h0m.7 .6h0m.3-.9h0m.4 .2h0m.5 .9h0m.5-1h0m.3 1h0m.6-.9h0m.1 .9h0m.7-1h0m.8 .1h0m0 .7h0m.5 .2h0m.5-.9h0m.3-.2h0m.8 .9h0m.2-.8h0m.5 1.2h0m.8 0h0m.3-1.3h0m.8 1.3h0m.1-1.4h0m.6-.2h0m.1 0h0m.3 1.3h0m.1-1.2h0m.1 0h0m.7 1.3h0m.3-1.6h0m.4 1.9h0m.2-1.7h0m.7 .2h0m.6 1.3h0m.6-1.5h0m.2 1.6h0m.5-1.3h0m.5 1.2h0m.9-.1h0m.1-1.3h0m.6 1.1h0m.3-.8h0m1 .8h0m.1-1.4h0m.9 1.8h0m.4-1.7h0m.7 1.7h0m.2-1.3h0m.9 .2h0m.3 1.1h0m.5 0h0m.6-1.6h0m0-.6h0m.1 .9h0m.4 1.2h0m1.1-1.3h0m.3 1.3h0m1.1-1.2h0m0 1.3h0m.4 .1h0m.2-1.6h0m.5 .2h0m.1 1.3h0m.2-1.2h0m.5 0h0m.3 .1h0m.2-.1h0m.2 1h0m.9 0h0m.3-.8h0m.2-.2h0m.7 .8h0m.4-.7h0m.2 .6h0m1.3 0h0m.1-.5h0m.4 .6h0m.9-.9h0m.1 1.1h0m.2-.8h0m1.4 .5h0m.2-.6h0m.5 .8h0m.6-.9h0m.3-.6h0m.2 1.8h0m.1-1.7h0m.8 .3h0m.4 .8h0m.7-.8h0m.1 .9h0m.6-.6h0m.2 .8h0m1.1-.1h0m.3-.7h0m.7 1.1h0m.4-1.6h0m.2 1.5h0m.6-1.5h0m.9 .1h0m.3 1.1h0m.7 .1h0m0-2.1h0m.1 .5h0m.3-.3h0m.5 1.9h0m1.5-1.3h0m0 1.1h0m.4-.9h0m.6 1.2h0m.4-.1h0m.4-.7h0m1.1 .9h0m0-1.3h0m.5-.4h0m.3 1.4h0m.4-1.5h0m0 .2h0m.1 1.6h0m1.3-1.4h0m0 1.5h0m.7-1.3h0m.8 1h0m.6 0h0m.2-1.2h0m.4 1.5h0m.1-1.4h0m1.1-.4h0m.4 1.6h0m.7-1.1h0m.1 1.2h0m.7-1.1h0m.4 .7h0m1-1.2h0m.2 1.6h0m0-1.5h0m.3-.2h0m.4 .2h0m.1 .2h0m.2 1h0m.3 .4h0m.5-1.7h0m.6 1.2h0m.3-1.1h0m.5 .2h0m.1 1h0m.9-.9h0m.7 1h0m.3-.9h0m.7 .7h0m.3 .1h0m.1-1.1h0m.8 1h0m.4-1h0m.1 .1h0m.8 1.1h0m.4-1.5h0m.3 .6h0m0 .7h0m.4-.7h0m.7 .9h0m.5-1.1h0m.2 .3h0m.3-.3h0m.2 1.4h0m.4-1.1h0m.6-.5h0m.3 .3h0m.4 1.1h0m.2-1.4h0m.1 1.2h0m.5-.9h0m.9-.1h0m.2 1.2h0m.9-1h0m.2 1.1h0m.2 .3h0m.2-1.5h0m1-.1h0m.6 1.5h0m.2-1.7h0m.2 .1h0m.1 1.3h0m.2-1.2h0m.5 1h0m.1-.7h0m.9-.4h0m.2 1.2h0m.4-.7h0m.3 .7h0m.4-1h0m.7-.1h0m.5 1.4h0m.4-2h0m.3 1.7h0m.4-1.4h0m.1-.3h0m.5 2.1h0m.2-2.1h0m.5 0h0m.8 2.1h0m.8-.5h0m.2-1.2h0m.1 1.6h0m1-1.4h0m.3 .2h0m.3 1.1h0m1-1.7h0m.2 1.4h0m.1-.9h0m.5-.2h0m.4 1.1h0m.8 .2h0m.1-1.1h0m.2 0h0m.4-.1h0m.3 1h0m.8-1.1h0m.5 1h0m.7-1.4h0m.4 .2h0m0 1.7h0m.1-.3h0m.8-1.3h0m.1-.2h0m.8 1.2h0m.4 .6h0m.6-1.3h0m.2-.3h0m.7 .4h0m.2 .7h0m.2-1h0m.1-.3h0m.3 1.7h0m.1-1.1h0m.3-.1h0m.6-.3h0m0-.1h0m.1 .3h0m.4 1h0m.3-1.5h0m.3 .8h0m.3 .8h0m.6-1.2h0m.2 1.7h0m.6-.5h0m0-.9h0m.9 0h0m.4 1.2h0m.3-1.1h0m.5 0h0m.5 .9h0m.2 .2h0m.6-.9h0m.6-.4h0m.2 .9h0m1.1-.7h0m.2 .8h0m.3-1.3h0m.2 .2h0m0 .9h0m.7-1.2h0m.3 .3h0m.6 1h0m.3-.8h0m.5 .7h0m.2-1h0m.4 1.3h0m.1-1.3h0m.2 .4h0m.6-.1h0m.7 .8h0m.1 .1h0m.3-.8h0m.2-.2h0m.9 .2h0m.1 .6h0m.9-.9h0m.2 1.1h0m.7-.1h0m0-1h0m.9 1.1h0m.6-1.1h0m.7 0h0m0 1.1h0m1.2-1.5h0m.2 1.4h0m.7 .4h0m.4-1.8h0m.4-.5h0m.1 2.3h0m.1-1.3h0m.9 .1h0m.4 1h0m.5-.8h0m.3 .8h0m.7 .2h0m0-.8h0m1-.3h0m.3 1.2h0m.7-.1h0m.2-.8h0m1 0h0m.2 .7h0m.2-.1h0m.6-.5h0m.4 .5h0m1-.7h0m.1-1.1h0m0 1.9h0m.8-1h0m.3 .9h0m.6-.9h0m.9-.3h0m.1 1.1h0m.1-1.1h0m.3 1.2h0m.4-1.1h0m.5 0h0m.5 1.2h0m.7-1.2h0m.3-.3h0m.4 1.2h0m.1-.6h0m.1-.4h0m.1 1.1h0m.9-1.1h0m.2 1.2h0m.3-.9h0m.6-.3h0m.3 1h0m.8 .2h0m.3-1h0m.7-.1h0m.3-.2h0m.1 1.3h0m.4-1.1h0m.5 1.4h0m.6-1.2h0m.6 1.1h0m.1-1.7h0m.2 .1h0m.3 1.8h0m.2-2.1h0m.1-.1h0m.3 .5h0m.2 1.4h0m.6-1.1h0m.5 1.1h0m.2-1.5h0m.7 .4h0m.3-.1h0m0 1h0m.5 .4h0m.3-1.5h0m.2-.2h0m.7 .3h0m0 1.1h0m.1-1.2h0m.8 .8h0m.1-1.1h0m.4-.3h0m.6 1.7h0m.2-1.1h0m.8 1.3h0m.2-1.3h0m.8 .5h0m.2 .7h0m.5-1.6h0m.2 1.5h0m.1-.5h0m.7-1.4h0m.3 1.3h0m.3 .6h0m.6-.8h0m.4 .8h0m.6 .3h0m.7-1.3h0m.3 1h0m.1-1.6h0m1.2 .4h0m.3 1.4h0m.2-1.8h0m.6 1.4h0m0-1.4h0m.9 .1h0m.3 1.3h0m.4-.9h0m.1 1h0m1.6-.7h0m.1 .7h0m.7-.7h0m0-.9h0m.2 1.9h0m.2-1h0m.3 .7h0m.9 .1h0m.4-.8h0m.2 .1h0m.3 .6h0m.2-.5h0m.8-.1h0m.2 .6h0m.9-.6h0m.2-.1h0m.3 .9h0m.3-1.1h0m.1-.1h0m.4 0h0m.1 1.1h0m.1-1.1h0m.9 .2h0m.3 1h0m.2-1.2h0m.3 1.3h0m.2-1h0m.7-.5h0m.1 1.5h0m.8-.4h0m.1-1.5h0m.3 .4h0m.7 1.3h0m0-.9h0m.1-.3h0m1.1 1.4h0m.2-1.4h0m.2 .2h0m.8-.6h0m.1 1.6h0m.5-.1h0m.1-1h0m.2 .3h0m.4-.3h0m.4 1.1h0m.2-.9h0m.4-.2h0m.5 1.5h0m.3-1.7h0m.5 .2h0m.4 1.5h0m.5-.3h0m.1-1.1h0m.9 1.2h0m.6-1.2h0m.5 .5h0m.1 .9h0m.9-.3h0m.5-.8h0m.4 .7h0m.1-1.4h0m.2 .9h0m.5-.4h0m.3 1.1h0m.7-1.2h0m.5 1.2h0m.5-1.3h0m.8 1.1h0m.1-1.4h0m.1 1.9h0m1.1-1.7h0m.4 1.6h0m.5 0h0m0-1.4h0m1.2 0h0m.6 1.1h0m.8-1.6h0m0 1.3h0m.6 .3h0m.1-1.7h0m.6 .4h0m.5 1.1h0m1.2-1.7h0m.1 1.9h0m.6-2h0m.2 2h0m1 0h0m.2-1.5h0m1 .2h0m0 1h0m.4-1.1h0m.1 1.4h0m1.2-1.4h0m.2 1.1h0m.7-1.4h0m.3 1.6h0m.7 0h0m.2-1.3h0m.4 1.3h0m0-1.9h0m1.1 1.9h0m.9-1.1h0m.2-.3h0m.6 1.4h0m.9-.1h0m0-1.5h0m.4 1.3h0m.6-.9h0m.7 1.2h0m.2-1.5h0m.9 1.6h0m.4-1.8h0m.9 .3h0m.1 1.3h0m.3 .1h0m.5-1.3h0m0 .3h0m.9 .8h0m.2-1.1h0m.3 1.4h0m.5-1.4h0m.1 .5h0m1.2-.4h0m.1 1.1h0m.4-1.3h0m.3 1.3h0m.5-1h0m.4 .9h0m.9 .5h0m.1-1.4h0m.5 0h0m.5-.3h0m.3 1.5h0m.8-.9h0m.2 .8h0m.4-1.5h0m.2 1.9h0m.9-1.4h0m.2 1h0m1-1.2h0m.3-.5h0m0 2h0m.2 0h0m.2-1.5h0m1.1-.1h0m.2 1.4h0m.4-.1h0m.4-1.2h0m.6 1.5h0m.9-1.1h0m.2 .8h0m.6-.9h0m.7-.2h0m0-.1h0m.2 1.4h0m.7-.3h0m.2-1.1h0m.7 0h0m.2 1.6h0m.2-1.6h0m.8 1.5h0m.1-1.8h0m.6 .1h0m.3 1.5h0m.5-1.2h0m.2 .2h0m.5-.7h0m0 1.7h0m.5-.9h0m.7 1h0m.3-.2h0m.5-.9h0m.2-.1h0m.3 .9h0m.1-.7h0m1-.1h0m.2 .9h0m.8-.1h0m.3-.5h0m.5 .6h0m.4-.7h0m.2-.6h0m.4 .4h0m.8-1.5h0m.2 2.3h0m.2-.7h0m.1 1.1h0m.5-1.5h0m.8-.7h0m.1 .8h0m.2 1.1h0m.5 .4h0m.1-2.2h0m.5 .4h0m.2 1.5h0m1-.2h0m.3-1.3h0m.1-.2h0m.7 .3h0m0 1.6h0m1.1 0h0m.3-2h0m.6 .3h0m.3 1.6h0m.7-1.7h0m.1 .1h0m.2 1.3h0m.9-1.3h0m.3 1.2h0m.5 .4h0m.4-1.7h0m0 0h0m.6 .2h0m.2 1.5h0m1-.2h0m.3-1.5h0m.9-.4h0m.1 2.5h0m.8-2.1h0m0 1.7h0m.5-1.8h0m0 0h0m.5 1.4h0m.2-1.5h0m.5 1.6h0m.4-2h0m.1 .7h0m.3 1.5h0m.5-1.9h0m.2-.1h0m.4 1.6h0m.5-1h0m.3-.2h0m.6 1.7h0m.6-1.6h0m.1 1.3h0m.2-1h0m.9 1.4h0m.5-1.8h0m.2 1.3h0m.2-1h0m.8-.2h0m.6 1h0m.8-.8h0m.4 1.5h0m.7-1.7h0m.1 1.3h0m.8-1.6h0m.3 1.7h0m.3-.2h0m.3-1.2h0m.7 1.7h0m.4-1.6h0m.2-.4h0m1 2h0m.3-1.9h0m.9 .3h0m0 1.5h0m.3-1.4h0m.1 .8h0m0-1.2h0m.7 .4h0m.4 .8h0m.7-1.2h0m.8-.4h0m0 2.2h0m.3-.5h0m.4-1.3h0m.3 .2h0m.8-.3h0m.2 1.3h0m.4 0h0m.4-.8h0m.1 .3h0m.5 .6h0m.4-1h0m.9 .2h0m0 .9h0m1 0h0m.1-1h0m.2-.1h0m0 .2h0m.2 1h0m.1-1.1h0m1.2 .1h0m.2 0h0m.3 1h0m.3-1h0m.3 1h0m.6-.1h0m.1-1.2h0m1.1 0h0m.3-.6h0m.2 2h0m.5-.3h0m.5-1.3h0m.2-.5h0m.5 1.9h0m.1-1.1h0m.5-.3h0m.4 1.7h0m1.2-1h0m.3 .9h0m.5-1.3h0m.4 1.2h0m.9-1.9h0m.1 1.8h0m.1-1.1h0m.2 1.5h0m.3-1.9h0m.6 .5h0m.2 .9h0m.9-1.1h0m.1 0h0m.3 1.7h0m.5-1.8h0m.9 1.3h0m.7 .4h0m.2-1.2h0m.5 1.3h0m.3-1.7h0m.3-.3h0m.2 1.6h0m.6-1h0m.7-.2h0m.3 1.5h0m.7-1.2h0m0 1.4h0m.6-.6h0m.4-2h0m.4 .8h0m.3 1.6h0m.6-2.2h0m.6 .9h0m.4 1.5h0m.4-.2h0m.7-1.7h0m0 .4h0m.5-.3h0m.5 1.2h0m.2-.8h0m.3 .8h0m1 0h0m.4-.9h0m.3 1.4h0m.1-1.6h0m.4-.2h0m.6 1.6h0m0-1.5h0m0-.7h0m1.1 1.1h0m.5 1h0m.5-1.5h0m.6 1.7h0m.2-.2h0m.1-1.3h0m1.1 .3h0m0 1.1h0m1-1h0m.2 .8h0m.7-.1h0m.8-.9h0m.5-.3h0m.1-.1h0m.1 1.6h0m.7-.2h0m.4-.9h0m.4-.6h0m.4 1.3h0m.4-1.3h0m.6 1.4h0m.6-1.3h0m.4-.4h0m.3 2h0m.2-1.7h0m.5 1.6h0m.7-.2h0m.4-1h0m.4 1.5h0m.3-1.4h0m.6-.8h0m.2 .6h0m.2 1.3h0m1-1.5h0m0 1.6h0m.3-1.5h0m.4-.5h0m.5 .3h0m.1 1.5h0m.2-2.2h0m.3-.3h0m0 .8h0m.6 .1h0m.1 2.2h0m1-2.3h0m.1 2.3h0m.7-.7h0m.1-.7h0m.3-2.5h0m.6 2.3h0m.1 1.3h0m0-1.4h0m.5 1.1h0m.4-.7h0m1.2-.5h0m0 1.2h0m.2-1.4h0m.9 1.7h0m.5-.2h0m.3-1h0m0-.4h0m.7 1.6h0m.5-.8h0m.1 .6h0m.5-.1h0m.5-.1h0m.5-2.2h0m.1 1.7h0m.5 .6h0m.2-.7h0m.7-.5h0m.6 1.4h0m.4-1.2h0m.3 .8h0m0-.7h0m1.3 .1h0m.1 .5h0m.3 .1h0m.7-.2h0m.6 .2h0m.3-.3h0m.6-1.1h0m.3 1.6h0m.1-1.2h0m1.1 1.1h0m.2-1.2h0m.3 .9h0m.1-1.3h0m.3 .5h0m.6-.3h0m.4-.8h0m.3 1.7h0m.3-.9h0m0 .9h0m.9-1.8h0m.4 1.8h0m1.3-2.2h0m0 3.1h0m.1-3h0m.3 3.1h0m.2-3.3h0m.2 .9h0m.6 2.2h0m.2-3.2h0m.9 .1h0m.5 3.1h0m.6-.4h0m.2-2h0m.8-.7h0m.1 .3h0m.1 3.1h0m.8-.9h0m.5-2.4h0m.6 2.5h0m.2-2.2h0m.5 3h0m.2-3.9h0m.2 1.5h0m.8-1.2h0m.1 3.6h0m.5-2.9h0m.6 2.7h0m.8 .2h0m.4-3.3h0m.3 .4h0m.2 3.3h0m1.1-4.7h0m.3 4.2h0m.3-3.1h0m.1 2.5h0m1.1 0h0m.4-2.4h0m.5 2.2h0m.5-2.3h0m.5 .2h0m.6 2h0m.1-2.8h0m.6 3.3h0m.2-2.7h0m.5 .5h0m.1 1.6h0m.7-2.1h0m.9 3.1h0m.4-3.9h0m.6 4h0m.3-.3h0m.7-2.6h0m.2 2.3h0m.1-4.1h0m1.2 .6h0m.3 3h0m.1-2.5h0m.2 2.5h0m.3-4.1h0m0 1.3h0m.8 .4h0m.5 2.7h0m.4 .4h0m1-3.1h0m.3 .6h0m0 2.1h0m1-2.6h0m.3 0h0m.1 2.4h0m.4 .4h0m.5-2.5h0m.4 .1h0m0-.5h0m.6 2.8h0m.5-3h0m.7 3.2h0m.7-2.9h0m.3 2.5h0m.4-.6h0m.4-2h0m.5 3.3h0m.5-3.3h0m.4 2.4h0m.1-3.7h0m.7 .5h0m.8-1h0m.3 5.1h0m.3-4h0m.6 3.2h0m.4-.6h0m.1-2.5h0m1.1 2.6h0m.4-3.1h0m.3 .5h0m.6 4.2h0m.7-4.9h0m.2 4.3h0m.3-3.8h0m.8 3.4h0m.1-2.3h0m.2 2.9h0m.4-4.1h0m.4 .3h0m.3 2.5h0m.1-2h0m.8 3h0m.9-4.3h0m.3-.7h0m.4-1.4h0m.1 6.4h0m0-5h0m.5 5.5h0m.4-4.8h0m1.2 3.4h0m.1-2.8h0m.2-.8h0m.1 4.7h0m1.4-5.7h0m.2 5.2h0m.2-4.3h0m.3 3.8h0m1.4 .6h0m.1-6.7h0m.4 5.2h0m.1-4.7h0m.5 .5h0m.2-.4h0m.7 4.7h0m.1-5.1h0m.4 6.7h0m.1-6.6h0m.7 1.4h0m.8 .6h0m.1 3.9h0m.6 .2h0m.3-4.2h0m.9 3.4h0m.3-3.8h0m.5 4.8h0m.1-5.6h0m.6 4.4h0m0-3.1h0m1 3.4h0m0-6h0m.5 1.9h0m1.2 .6h0m0 3.9h0m.9-1h0m.1-4h0m.4-2.1h0m.1 6.4h0m.2-6.4h0m1 6.3h0m.1-6.5h0m.5 9.4h0m.7-10.4h0m0-.1h0m.2 9.4h0m0-7.2h0m.9 7.1h0m.5-7.4h0m.5-3.2h0m.3 12.4h0m1-10.2h0m.3 6.3h0" stroke="#1f77b4" stroke-width="4.8" stroke-linecap="round" fill="none"/>
<polyline points="115.0,1024.0 116.8,1024.2 118.6,1024.8 120.4,1024.4 122.2,1024.8 124.0,1023.6 125.8,1024.1 127.6,1022.4 129.4,1021.3 131.2,1023.3 133.0,1023.9 134.8,1023.4 136.6,1021.3 138.4,1020.5 140.2,1020.3 142.0,1022.1 143.8,1023.3 145.6,1022.4 147.4,1019.5 149.2,1020.9 151.0,1019.2 152.8,1017.9 154.6,1017.0 156.4,1016.6 158.2,1014.9 160.0,1014.8 161.8,1014.0 163.6,1012.6 165.4,1009.9 167.2,1010.8 169.0,1005.3 170.8,1006.7 172.6,1007.0 174.4,1006.7 176.2,1006.2 178.0,1006.5 179.8,1001.0 181.6,1002.0 183.4,998.4 185.2,994.5 187.0,994.2 188.8,992.6 190.6,994.7 192.4,990.1 194.2,1002.5 196.0,999.0 197.8,993.7 199.6,988.6 201.4,978.2 203.2,986.7 205.0,985.7 206.8,980.9 208.6,975.3 210.4,965.6 212.2,962.0 214.0,958.4 215.8,964.6 217.6,967.9 219.4,965.2 221.2,963.7 223.0,964.8 224.8,963.2 226.6,953.6 228.4,955.7 230.2,969.2 232.0,954.2 233.8,951.9 235.6,938.4 237.4,914.4 239.2,916.7 241.0,929.2 242.8,952.6 244.6,937.2 246.4,925.2 248.2,913.8 250.0,913.5 251.8,906.5 253.6,925.5 255.4,923.5 257.2,940.9 259.0,939.3 260.8,927.8 262.6,899.7 264.4,908.6 266.2,910.5 268.0,896.2 269.8,907.0 271.6,931.4 273.4,905.5 275.2,877.4 277.0,906.7 278.8,934.1 280.6,938.1 282.4,916.8 284.2,916.4 286.0,911.1 287.8,911.5 289.6,898.6 291.4,894.3 293.2,890.1 295.0,875.4 296.8,868.3 298.6,842.4 300.4,835.4 302.2,835.2 304.0,851.1 305.8,864.6 307.6,834.4 309.4,845.7 311.2,872.8 313.0,876.7 314.8,850.4 316.6,870.2 318.4,857.2 320.2,865.5 322.0,858.7 323.8,859.3 325.6,834.6 327.4,842.2 329.2,849.7 331.0,843.5 332.8,843.5 334.6,841.9 336.4,845.6 338.2,847.9 340.0,861.0 341.8,874.0 343.6,884.4 345.4,858.8 347.2,858.5 349.0,862.4 350.8,879.3 352.6,873.0 354.4,879.8 356.2,897.9 358.0,900.1 359.8,902.4 361.6,897.9 363.4,867.6 365.2,871.5 367.0,883.2 368.8,849.8 370.6,844.3 372.4,869.7 374.2,867.9 376.0,887.6 377.8,898.1 379.6,889.4 381.4,885.8 383.2,867.9 385.0,859.1 386.8,860.5 388.6,860.4 390.4,868.1 392.2,899.4 394.0,906.9 395.8,870.6 397.6,868.8 399.4,889.9 401.2,882.5 403.0,895.0 404.8,895.1 406.6,913.0 408.4,925.5 410.2,938.8 412.0,931.1 413.8,928.2 415.6,938.6 417.4,931.9 419.2,914.6 421.0,902.5 422.8,917.0 424.6,930.6 426.4,928.5 428.2,934.8 430.0,923.2 431.8,936.4 433.6,922.0 435.4,921.2 437.2,900.1 439.0,897.1 440.8,908.1 442.6,908.8 444.4,882.1 446.2,883.6 448.0,889.2 449.8,911.7 451.6,919.2 453.4,897.3 455.2,886.6 457.0,874.1 458.8,848.7 460.6,838.5 462.4,823.0 464.2,821.4 466.0,852.8 467.8,868.2 469.6,913.3 471.4,893.7 473.2,882.1 475.0,897.7 476.8,896.0 478.6,881.6 480.4,864.9 482.2,847.1 484.0,838.1 485.8,861.8 487.6,838.3 489.4,834.6 491.2,869.3 493.0,904.4 494.8,859.8 496.6,829.8 498.4,867.3 500.2,839.8 502.0,891.1 503.8,908.9 505.6,912.4 507.4,857.7 509.2,863.8 511.0,860.9 512.8,873.7 514.6,901.5 516.4,919.0 518.2,925.2 520.0,921.2 521.8,896.1 523.6,894.0 525.4,882.3 527.2,896.9 529.0,922.7 530.8,929.4 532.6,953.2 534.4,950.0 536.2,975.4 538.0,981.4 539.8,977.5 541.6,977.9 543.4,971.3 545.2,979.4 547.0,984.8 548.8,971.1 550.6,951.9 552.4,921.6 554.2,928.2 556.0,931.0 557.8,900.1 559.6,885.3 561.4,912.7 563.2,916.9 565.0,902.7 566.8,894.8 568.6,937.3 570.4,953.3 572.2,937.8 574.0,930.9 575.8,939.5 577.6,940.1 579.4,932.4 581.2,912.9 583.0,897.6 584.8,832.2 586.6,880.7 588.4,916.1 590.2,914.4 592.0,896.5 593.8,854.3 595.6,884.7 597.4,889.7 599.2,902.6 601.0,903.0 602.8,917.7 604.6,940.0 606.4,950.2 608.2,942.7 610.0,954.2 611.8,968.1 613.6,958.4 615.4,954.3 617.2,970.1 619.0,977.0 620.8,961.5 622.6,941.6 624.4,950.4 626.2,930.0 628.0,913.6 629.8,919.5 631.6,912.9 633.4,912.3 635.2,951.4 637.0,963.5 638.8,931.3 640.6,924.1 642.4,962.7 644.2,959.0 646.0,939.8 647.8,945.2 649.6,957.1 651.4,959.3 653.2,955.7 655.0,953.8 656.8,959.2 658.6,965.6 660.4,953.1 662.2,952.6 664.0,963.5 665.8,956.3 667.6,954.4 669.4,968.7 671.2,958.9 673.0,956.5 674.8,964.8 676.6,964.6 678.4,984.2 680.2,985.0 682.0,978.0 683.8,958.9 685.6,965.0 687.4,974.0 689.2,958.6 691.0,950.3 692.8,959.5 694.6,952.0 696.4,972.8 698.2,989.3 700.0,986.4 701.8,986.5 703.6,982.7 705.4,984.5 707.2,987.4 709.0,991.1 710.8,992.4 712.6,987.9 714.4,984.4 716.2,985.5 718.0,990.8 719.8,989.5 721.6,989.7 723.4,989.9 725.2,990.9 727.0,1001.2 728.8,997.3 730.6,998.1 732.4,1008.1 734.2,1012.8 736.0,1011.8 737.8,1001.0 739.6,1004.2 741.4,1004.5 743.2,1004.9 745.0,1007.1 746.8,1005.9 748.6,997.6 750.4,1002.9 752.2,1006.0 754.0,1012.1 755.8,1006.3 757.6,1006.0 759.4,1011.1 761.2,1010.8 763.0,1010.3 764.8,1011.5 766.6,1010.5 768.4,1012.4 770.2,1012.1 772.0,1013.0 773.8,1014.6 775.6,1015.8 777.4,1017.2 779.2,1018.9 781.0,1017.7 782.8,1016.7 784.6,1017.6 786.4,1018.3 788.2,1017.1 790.0,1016.4 791.8,1018.7 793.6,1021.5 795.4,1022.0 797.2,1021.9 799.0,1020.3 800.8,1019.9 802.6,1019.3 804.4,1019.0 806.2,1021.0 808.0,1024.4 809.8,1023.8 811.6,1023.3 813.4,1021.8 815.2,1020.0 817.0,1019.8 818.8,1022.1 820.6,1021.6 822.4,1021.5 824.2,1022.8 826.0,1022.8 827.8,1024.0 829.6,1024.1 831.4,1025.0 833.2,1026.0 835.0,1025.5 836.8,1024.9 838.6,1024.3 840.4,1021.1 842.2,1023.9 844.0,1027.6 845.8,1028.4 847.6,1029.2 849.4,1029.0 851.2,1028.6 853.0,1028.1 854.8,1028.1 856.6,1028.1 858.4,1028.2 860.2,1028.2 862.0,1028.3 863.8,1028.6 865.6,1028.7 867.4,1028.9 869.2,1029.4 871.0,1029.7 872.8,1030.2 874.6,1028.5 876.4,1026.4 878.2,1026.1 880.0,1029.0 881.8,1029.6 883.6,1029.4 885.4,1029.7 887.2,1029.7 889.0,1030.0 890.8,1030.1 892.6,1030.1 894.4,1030.3 896.2,1030.4 898.0,1030.6 899.8,1030.7 901.6,1030.7 903.4,1030.7 905.2,1030.9 907.0,1030.8 908.8,1030.9 910.6,1031.0 912.4,1031.1 914.2,1031.1 916.0,1031.2 917.8,1031.2 919.6,1031.2 921.4,1031.1 923.2,1031.1 925.0,1031.1 926.8,1031.1 928.6,1031.0 930.4,1031.0 932.2,1030.9 934.0,1030.9 935.8,1030.9 937.6,1030.9 939.4,1030.9 941.2,1030.9 943.0,1030.9 944.8,1030.9 946.6,1030.9 948.4,1031.0 950.2,1031.0 952.0,1031.1 953.8,1031.0 955.6,1031.0 957.4,1031.0 959.2,1031.1 961.0,1031.1 962.8,1031.1 964.6,1031.2 966.4,1031.2 968.2,1031.2 970.0,1031.3 971.8,1031.3 973.6,1031.4 975.4,1031.5 977.2,1031.6 979.0,1031.7 980.8,1031.7 982.6,1031.8 984.4,1031.9 986.2,1032.0 988.0,1032.0 989.8,1032.0 991.6,1032.0 993.4,1032.0 995.2,1032.0 997.0,1032.0 998.8,1032.0 1000.6,1032.0 1002.4,1032.0 1004.2,1032.0 1006.0,1032.0 1007.8,1032.0 1009.6,1032.0 1011.4,1032.0 1013.2,1032.0 1015.0,1032.0 1016.8,1032.0 1018.6,1032.0 1020.4,1032.0 1022.2,1032.0 1024.0,1032.0 1025.8,1032.0 1027.6,1032.0 1029.4,1032.0 1031.2,1032.0 1033.0,1032.0 1034.8,1032.0 1036.6,1032.1 1038.4,1032.1 1040.2,1032.1 1042.0,1032.1 1043.8,1032.1 1045.6,1032.1 1047.4,1032.1 1049.2,1032.1 1051.0,1032.1 1052.8,1032.1 1054.6,1032.1 1056.4,1032.1 1058.2,1032.1 1060.0,1032.1 1061.8,1032.1 1063.6,1032.1 1065.4,1032.1 1067.2,1032.1 1069.0,1032.1 1070.8,1032.1 1072.6,1032.1 1074.4,1032.1 1076.2,1032.1 1078.0,1032.1 1079.8,1032.1 1081.6,1032.1 1083.4,1032.1 1085.2,1032.1 1087.0,1032.1 1088.8,1032.1 1090.6,1032.1 1092.4,1032.1 1094.2,1032.1 1096.0,1032.1 1097.8,1032.1 1099.6,1032.1 1101.4,1032.1 1103.2,1032.1 1105.0,1032.1 1106.8,1032.1 1108.6,1032.1 1110.4,1032.1 1112.2,1032.1 1114.0,1032.1 1115.8,1032.1 1117.6,1032.1 1119.4,1032.1 1121.2,1032.1 1123.0,1032.1 1124.8,1032.1 1126.6,1032.1 1128.4,1032.1 1130.2,1032.1 1132.0,1032.1 1133.8,1032.1 1135.6,1032.1 1137.4,1032.1 1139.2,1032.1 1141.0,1032.1 1142.8,1032.1 1144.6,1032.1 1146.4,1032.1 1148.2,1032.1 1150.0,1032.1 1151.8,1032.1 1153.6,1032.1 1155.4,1032.1 1157.2,1032.1 1159.0,1032.1 1160.8,1032.1 1162.6,1032.1 1164.4,1032.1 1166.2,1032.1 1168.0,1032.1 1169.8,1032.1 1171.6,1032.1 1173.4,1032.1 1175.2,1032.1 1177.0,1032.1 1178.8,1032.1 1180.6,1032.1 1182.4,1032.1 1184.2,1032.1 1186.0,1032.1 1187.8,1032.1 1189.6,1032.1 1191.4,1032.1 1193.2,1032.1 1195.0,1032.1 1196.8,1032.1 1198.6,1032.1 1200.4,1032.1 1202.2,1032.1 1204.0,1032.1 1205.8,1032.1 1207.6,1032.1 1209.4,1032.1 1211.2,1032.1 1213.0,1032.1 1214.8,1032.1 1216.6,1032.1 1218.4,1032.1 1220.2,1032.1 1222.0,1032.1 1223.8,1032.1 1225.6,1032.1 1227.4,1032.1 1229.2,1032.1 1231.0,1032.1 1232.8,1032.1 1234.6,1032.1 1236.4,1032.1 1238.2,1032.1 1240.0,1032.1 1241.8,1032.1 1243.6,1032.1 1245.4,1032.1 1247.2,1032.1 1249.0,1032.1 1250.8,1032.1 1252.6,1032.1 1254.4,1032.1 1256.2,1032.0 1258.0,1032.0 1259.8,1032.0 1261.6,1032.0 1263.4,1032.0 1265.2,1032.0 1267.0,1032.0 1268.8,1032.0 1270.6,1032.0 1272.4,1032.0 1274.2,1032.0 1276.0,1032.0 1277.8,1032.0 1279.6,1032.0 1281.4,1032.0 1283.2,1032.0 1285.0,1032.0 1286.8,1032.0 1288.6,1032.0 1290.4,1032.0 1292.2,1032.0 1294.0,1032.0 1295.8,1032.0 1297.6,1031.9 1299.4,1031.9 1301.2,1031.9 1303.0,1031.9 1304.8,1031.9 1306.6,1031.9 1308.4,1031.9 1310.2,1031.9 1312.0,1031.9 1313.8,1031.9 1315.6,1031.9 1317.4,1031.9 1319.2,1031.9 1321.0,1031.9 1322.8,1031.9 1324.6,1031.9 1326.4,1031.9 1328.2,1031.9 1330.0,1031.9 1331.8,1031.9 1333.6,1031.9 1335.4,1031.9 1337.2,1031.8 1339.0,1031.8 1340.8,1031.8 1342.6,1031.8 1344.4,1031.7 1346.2,1031.7 1348.0,1031.7 1349.8,1031.7 1351.6,1031.6 1353.4,1031.6 1355.2,1031.6 1357.0,1031.6 1358.8,1031.6 1360.6,1031.5 1362.4,1031.5 1364.2,1031.5 1366.0,1031.5 1367.8,1031.4 1369.6,1031.4 1371.4,1031.4 1373.2,1031.4 1375.0,1031.3 1376.8,1031.3 1378.6,1031.3 1380.4,1031.3 1382.2,1031.2 1384.0,1031.2 1385.8,1031.2 1387.6,1031.2 1389.4,1031.1 1391.2,1031.1 1393.0,1031.0 1394.8,1031.0 1396.6,1031.0 1398.4,1030.9 1400.2,1031.0 1402.0,1030.9 1403.8,1030.8 1405.6,1030.8 1407.4,1030.8 1409.2,1030.8 1411.0,1030.7 1412.8,1030.7 1414.6,1030.6 1416.4,1030.5 1418.2,1030.4 1420.0,1030.4 1421.8,1030.3 1423.6,1030.2 1425.4,1030.1 1427.2,1030.0 1429.0,1030.0 1430.8,1030.0 1432.6,1030.0 1434.4,1029.8 1436.2,1029.8 1438.0,1029.7 1439.8,1029.5 1441.6,1029.3 1443.4,1029.1 1445.2,1029.2 1447.0,1029.0 1448.8,1028.5 1450.6,1028.4 1452.4,1027.9 1454.2,1027.3 1456.0,1026.6 1457.8,1026.8 1459.6,1027.4 1461.4,1028.0" fill="none" stroke="#ff7f0e" stroke-width="2.25" stroke-linejoin="round"/>
</g>
<path d="M115.50 1054.5v4.9M284.50 1054.5v4.9M452.50 1054.5v4.9M620.50 1054.5v4.9M789.50 1054.5v4.9M957.50 1054.5v4.9M1125.50 1054.5v4.9M1294.50 1054.5v4.9M115.5 596.50h-4.9M115.5 651.50h-4.9M115.5 705.50h-4.9M115.5 760.50h-4.9M115.5 815.50h-4.9M115.5 869.50h-4.9M115.5 924.50h-4.9M115.5 978.50h-4.9M115.5 1033.50h-4.9" stroke="#000" stroke-width="1.11" fill="none"/>
<rect x="115.5" y="575.5" width="1347.0" height="479.0" fill="none" stroke="#000" stroke-width="1.11"/>
<rect x="1047.3" y="584.4" width="406.4" height="80.8" rx="2.8" fill="#fff" fill-opacity="0.8" stroke="#ccc" stroke-opacity="0.8" stroke-width="1.39"/>
<circle cx="1073.6" cy="599.2" r="2.9" fill="#1f77b4"/>
<path d="M1053.1 638.6H1092" stroke="#ff7f0e" stroke-width="2.08"/>
<text x="1105.8" y="606.4" font-size="18.34" text-anchor="start" textLength="98.6" lengthAdjust="spacingAndGlyphs">Raw Data</text>
<text x="1105.8" y="632.6" font-size="18.34" text-anchor="start" textLength="270.2" lengthAdjust="spacingAndGlyphs">Butterworth Filtered Data</text>
<text x="1105.6" y="654.4" font-size="18.34" text-anchor="start" textLength="339.7" lengthAdjust="spacingAndGlyphs">(N=6, Tc=3.3333 min, Type: low)</text>
<text x="643.4" y="29.6" font-size="28.04" text-anchor="start" textLength="281.4" lengthAdjust="spacingAndGlyphs">5.0 MHz N0000001</text>
<text x="116.2" y="30.0" font-size="28.04" text-anchor="start" textLength="40.5" lengthAdjust="spacingAndGlyphs">(a)</text>
<text x="116.2" y="567.0" font-size="28.04" text-anchor="start" textLength="41.5" lengthAdjust="spacingAndGlyphs">(b)</text>
<text x="104.4" y="102.8" font-size="22.08" text-anchor="end" textLength="14.4" lengthAdjust="spacingAndGlyphs">2</text>
<text x="104.4" y="181.8" font-size="22.08" text-anchor="end" textLength="14.4" lengthAdjust="spacingAndGlyphs">1</text>
<text x="104.4" y="260.8" font-size="22.08" text-anchor="end" textLength="14.4" lengthAdjust="spacingAndGlyphs">0</text>
<text x="104.4" y="339.8" font-size="22.08" text-anchor="end" textLength="31.0" lengthAdjust="spacingAndGlyphs">−1</text>
<text x="104.4" y="418.8" font-size="22.08" text-anchor="end" textLength="31.0" lengthAdjust="spacingAndGlyphs">−2</text>
<text x="104.4" y="497.8" font-size="22.08" text-anchor="end" textLength="31.0" lengthAdjust="spacingAndGlyphs">−3</text>
<text x="103.9" y="603.8" font-size="22.08" text-anchor="end" textLength="37.3" lengthAdjust="spacingAndGlyphs">0.8</text>
<text x="103.9" y="658.4" font-size="22.08" text-anchor="end" textLength="37.3" lengthAdjust="spacingAndGlyphs">0.7</text>
<text x="103.9" y="713.0" font-size="22.08" text-anchor="end" textLength="37.3" lengthAdjust="spacingAndGlyphs">0.6</text>
<text x="103.9" y="767.7" font-size="22.08" text-anchor="end" textLength="37.3" lengthAdjust="spacingAndGlyphs">0.5</text>
<text x="103.9" y="822.3" font-size="22.08" text-anchor="end" textLength="37.3" lengthAdjust="spacingAndGlyphs">0.4</text>
<text x="103.9" y="876.9" font-size="22.08" text-anchor="end" textLength="37.3" lengthAdjust="spacingAndGlyphs">0.3</text>
<text x="103.9" y="931.5" font-size="22.08" text-anchor="end" textLength="37.3" lengthAdjust="spacingAndGlyphs">0.2</text>
<text x="103.9" y="986.2" font-size="22.08" text-anchor="end" textLength="37.3" lengthAdjust="spacingAndGlyphs">0.1</text>
<text x="103.9" y="1040.8" font-size="22.08" text-anchor="end" textLength="37.3" lengthAdjust="spacingAndGlyphs">0.0</text>
<text x="113.5" y="1077.4" font-size="22.08" text-anchor="end" textLength="111.7" lengthAdjust="spacingAndGlyphs" transform="rotate(-30 113.5 1077.4)">06-25 00</text>
<text x="281.9" y="1077.4" font-size="22.08" text-anchor="end" textLength="111.7" lengthAdjust="spacingAndGlyphs" transform="rotate(-30 281.9 1077.4)">06-25 03</text>
<text x="450.2" y="1077.4" font-size="22.08" text-anchor="end" textLength="111.7" lengthAdjust="spacingAndGlyphs" transform="rotate(-30 450.2 1077.4)">06-25 06</text>
<text x="618.6" y="1077.4" font-size="22.08" text-anchor="end" textLength="111.7" lengthAdjust="spacingAndGlyphs" transform="rotate(-30 618.6 1077.4)">06-25 09</text>
<text x="787.0" y="1077.4" font-size="22.08" text-anchor="end" textLength="111.7" lengthAdjust="spacingAndGlyphs" transform="rotate(-30 787.0 1077.4)">06-25 12</text>
<text x="955.4" y="1077.4" font-size="22.08" text-anchor="end" textLength="111.7" lengthAdjust="spacingAndGlyphs" transform="rotate(-30 955.4 1077.4)">06-25 15</text>
<text x="1123.8" y="1077.4" font-size="22.08" text-anchor="end" textLength="111.7" lengthAdjust="spacingAndGlyphs" transform="rotate(-30 1123.8 1077.4)">06-25 18</text>
<text x="1292.1" y="1077.4" font-size="22.08" text-anchor="end" textLength="111.7" lengthAdjust="spacingAndGlyphs" transform="rotate(-30 1292.1 1077.4)">06-25 21</text>
<text x="789.3" y="1157.7" font-size="23.32" text-anchor="middle" textLength="49.0" lengthAdjust="spacingAndGlyphs">UTC</text>
<text x="0.0" y="0.0" font-size="23.32" text-anchor="middle" textLength="226.6" lengthAdjust="spacingAndGlyphs" transform="translate(59.8 277.6) rotate(-90)">Doppler Shift [Hz]</text>
<text x="0.0" y="0.0" font-size="23.32" text-anchor="middle" textLength="211.2" lengthAdjust="spacingAndGlyphs" transform="translate(55.6 815.6) rotate(-90)">Peak Voltage [V]</text>
</svg></body></html>
